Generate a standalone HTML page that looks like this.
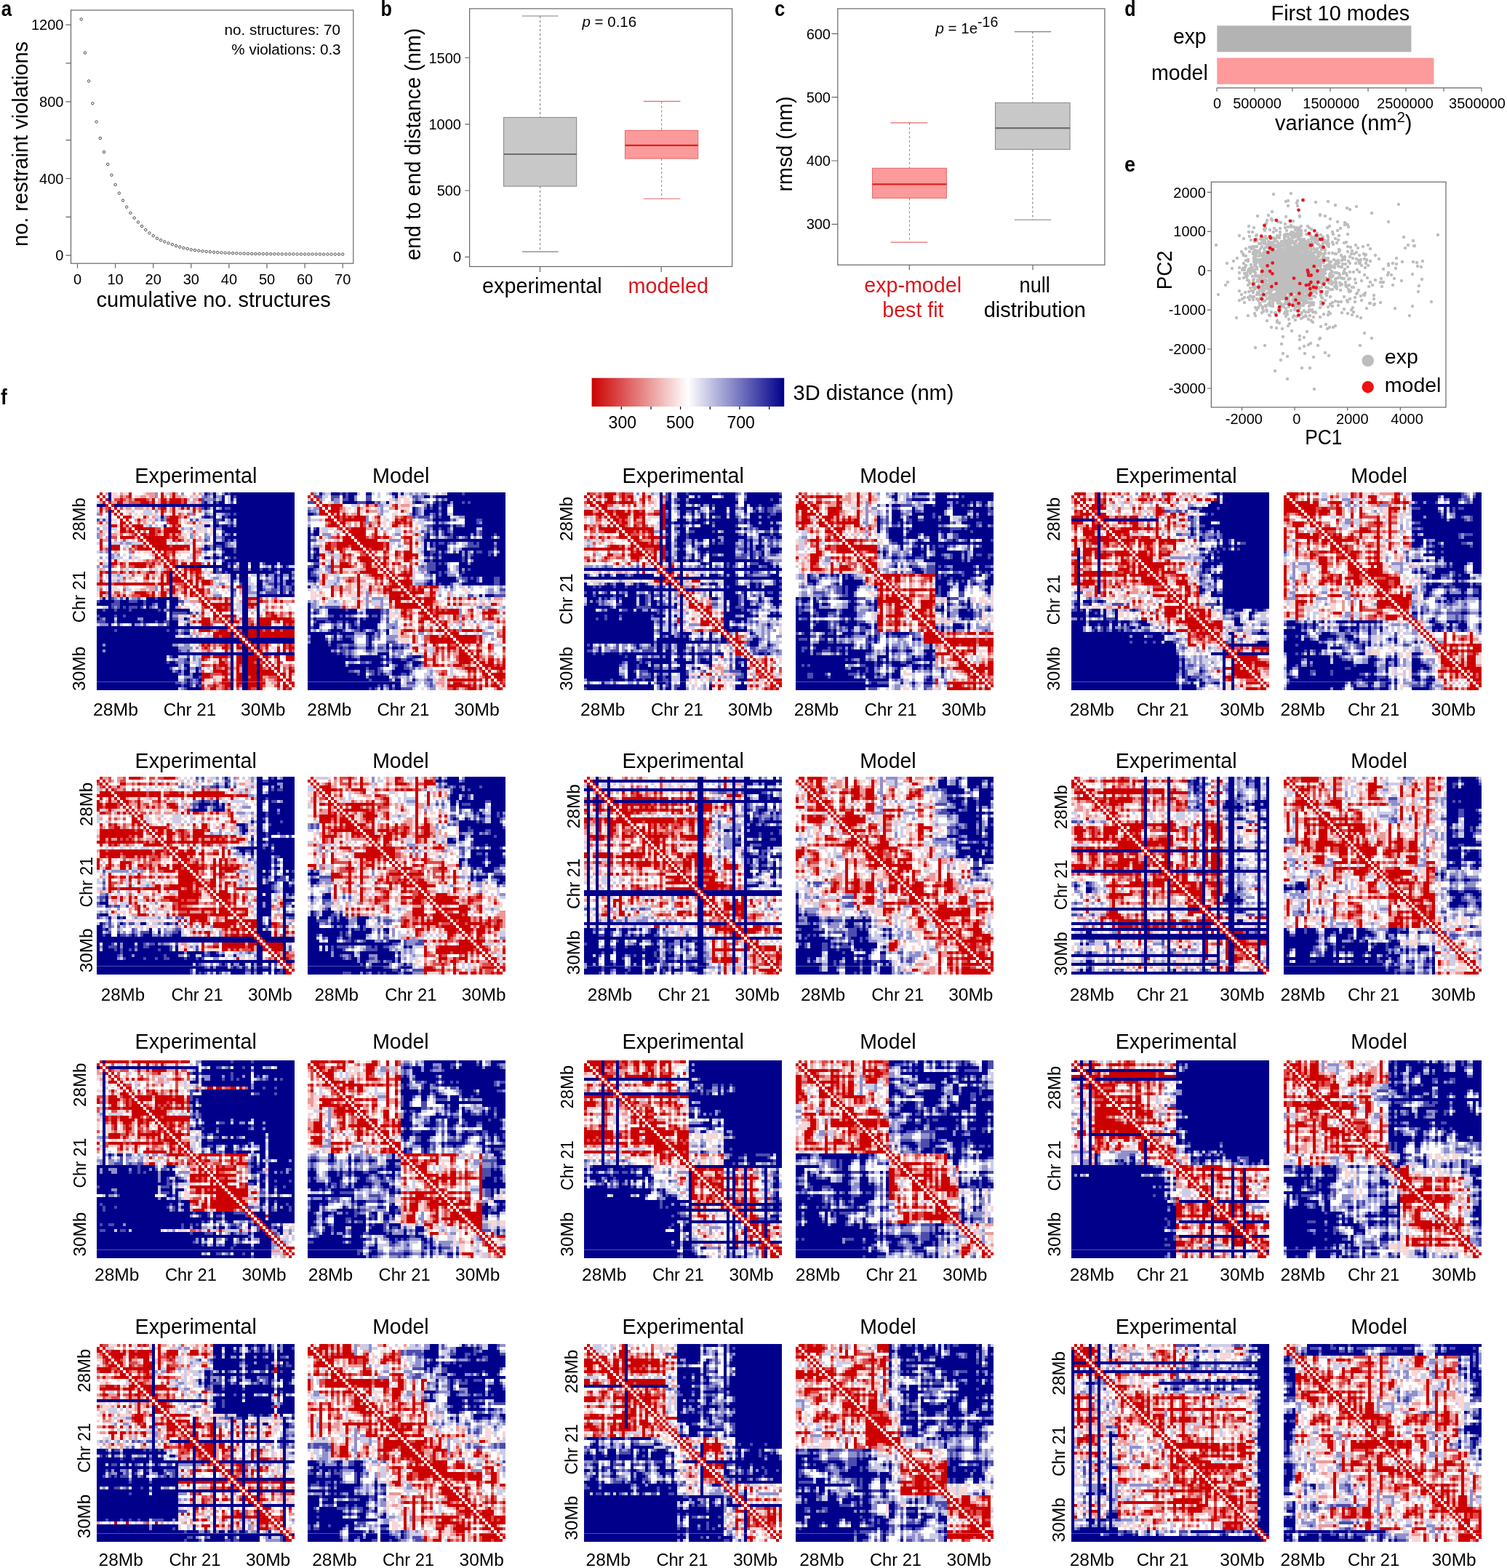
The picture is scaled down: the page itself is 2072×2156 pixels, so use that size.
<!DOCTYPE html>
<html><head><meta charset="utf-8"><style>
html,body{margin:0;padding:0;background:#fff;overflow:hidden;}
svg{display:block;}
text{font-family:"Liberation Sans",Arial,Helvetica,sans-serif;}
.ax{fill:none;stroke:#666;stroke-width:1.2}
.tk{fill:none;stroke:#666;stroke-width:1.2}
</style></head><body>
<svg width="2072" height="2156" viewBox="0 0 2072 2156">
<rect width="2072" height="2156" fill="#fff"/>
<text x="1.7" y="21.5" font-size="30" font-weight="bold" textLength="14.4" lengthAdjust="spacingAndGlyphs">a</text><rect x="97.5" y="14.0" width="388.3" height="348.2" class="ax"/><path d="M90.6 351.2H97.5M90.6 298.4H97.5M90.6 245.5H97.5M90.6 192.7H97.5M90.6 139.8H97.5M90.6 86.9H97.5M90.6 34.1H97.5M106.5 362.2V368.8M158.6 362.2V368.8M210.7 362.2V368.8M262.8 362.2V368.8M314.9 362.2V368.8M367 362.2V368.8M419.1 362.2V368.8M471.2 362.2V368.8" class="tk"/><text x="87.4" y="358.3" font-size="20" text-anchor="end">0</text><text x="87.4" y="252.6" font-size="20" text-anchor="end">400</text><text x="87.4" y="146.9" font-size="20" text-anchor="end">800</text><text x="87.4" y="41.2" font-size="20" text-anchor="end">1200</text><text x="106.5" y="390.7" font-size="20" text-anchor="middle">0</text><text x="158.6" y="390.7" font-size="20" text-anchor="middle">10</text><text x="210.7" y="390.7" font-size="20" text-anchor="middle">20</text><text x="262.8" y="390.7" font-size="20" text-anchor="middle">30</text><text x="314.9" y="390.7" font-size="20" text-anchor="middle">40</text><text x="367" y="390.7" font-size="20" text-anchor="middle">50</text><text x="419.1" y="390.7" font-size="20" text-anchor="middle">60</text><text x="471.2" y="390.7" font-size="20" text-anchor="middle">70</text><text x="132.5" y="421.7" font-size="29">cumulative no. structures</text><text transform="translate(38,339) rotate(-90)" font-size="29">no. restraint violations</text><text x="308.5" y="48.3" font-size="20.5" textLength="159.4" lengthAdjust="spacingAndGlyphs">no. structures: 70</text><text x="318.3" y="75.4" font-size="20.5" textLength="150.3" lengthAdjust="spacingAndGlyphs">% violations: 0.3</text><g fill="none" stroke="#444" stroke-width="1"><circle cx="111.7" cy="26.4" r="1.7"/><circle cx="116.9" cy="72.7" r="1.7"/><circle cx="122.1" cy="111.5" r="1.7"/><circle cx="127.3" cy="142.2" r="1.7"/><circle cx="132.6" cy="167.5" r="1.7"/><circle cx="137.8" cy="190" r="1.7"/><circle cx="143" cy="209" r="1.7"/><circle cx="148.2" cy="225.9" r="1.7"/><circle cx="153.4" cy="240.7" r="1.7"/><circle cx="158.6" cy="254" r="1.7"/><circle cx="163.8" cy="265.6" r="1.7"/><circle cx="169" cy="275.6" r="1.7"/><circle cx="174.2" cy="284.6" r="1.7"/><circle cx="179.4" cy="292.8" r="1.7"/><circle cx="184.7" cy="299.7" r="1.7"/><circle cx="189.9" cy="305.5" r="1.7"/><circle cx="195.1" cy="311" r="1.7"/><circle cx="200.3" cy="316.1" r="1.7"/><circle cx="205.5" cy="320.5" r="1.7"/><circle cx="210.7" cy="324.2" r="1.7"/><circle cx="215.9" cy="327.7" r="1.7"/><circle cx="221.1" cy="330.3" r="1.7"/><circle cx="226.3" cy="332.4" r="1.7"/><circle cx="231.5" cy="334.3" r="1.7"/><circle cx="236.8" cy="336.1" r="1.7"/><circle cx="242" cy="338" r="1.7"/><circle cx="247.2" cy="339.6" r="1.7"/><circle cx="252.4" cy="340.9" r="1.7"/><circle cx="257.6" cy="342" r="1.7"/><circle cx="262.8" cy="343.3" r="1.7"/><circle cx="268" cy="344" r="1.7"/><circle cx="273.2" cy="344.7" r="1.7"/><circle cx="278.4" cy="345.3" r="1.7"/><circle cx="283.6" cy="345.9" r="1.7"/><circle cx="288.9" cy="346.3" r="1.7"/><circle cx="294.1" cy="346.7" r="1.7"/><circle cx="299.3" cy="347.1" r="1.7"/><circle cx="304.5" cy="347.4" r="1.7"/><circle cx="309.7" cy="347.7" r="1.7"/><circle cx="314.9" cy="347.9" r="1.7"/><circle cx="320.1" cy="348.2" r="1.7"/><circle cx="325.3" cy="348.3" r="1.7"/><circle cx="330.5" cy="348.5" r="1.7"/><circle cx="335.7" cy="348.6" r="1.7"/><circle cx="340.9" cy="348.8" r="1.7"/><circle cx="346.2" cy="348.9" r="1.7"/><circle cx="351.4" cy="349" r="1.7"/><circle cx="356.6" cy="349" r="1.7"/><circle cx="361.8" cy="349.1" r="1.7"/><circle cx="367" cy="349.2" r="1.7"/><circle cx="372.2" cy="349.2" r="1.7"/><circle cx="377.4" cy="349.3" r="1.7"/><circle cx="382.6" cy="349.3" r="1.7"/><circle cx="387.8" cy="349.4" r="1.7"/><circle cx="393.1" cy="349.4" r="1.7"/><circle cx="398.3" cy="349.4" r="1.7"/><circle cx="403.5" cy="349.4" r="1.7"/><circle cx="408.7" cy="349.5" r="1.7"/><circle cx="413.9" cy="349.5" r="1.7"/><circle cx="419.1" cy="349.5" r="1.7"/><circle cx="424.3" cy="349.5" r="1.7"/><circle cx="429.5" cy="349.5" r="1.7"/><circle cx="434.7" cy="349.5" r="1.7"/><circle cx="439.9" cy="349.5" r="1.7"/><circle cx="445.1" cy="349.6" r="1.7"/><circle cx="450.4" cy="349.6" r="1.7"/><circle cx="455.6" cy="349.6" r="1.7"/><circle cx="460.8" cy="349.6" r="1.7"/><circle cx="466" cy="349.6" r="1.7"/><circle cx="471.2" cy="349.6" r="1.7"/></g><text x="523.6" y="21.7" font-size="30" font-weight="bold" textLength="15.4" lengthAdjust="spacingAndGlyphs">b</text><rect x="645.6" y="11.9" width="361" height="354.6" class="ax"/><path d="M639.2 353.3H645.6M639.2 262H645.6M639.2 170.8H645.6M639.2 79.5H645.6M742.5 366.5V374M909.2 366.5V374" class="tk"/><text x="634" y="360.4" font-size="20" text-anchor="end">0</text><text x="634" y="269.1" font-size="20" text-anchor="end">500</text><text x="634" y="177.9" font-size="20" text-anchor="end">1000</text><text x="634" y="86.6" font-size="20" text-anchor="end">1500</text><path d="M742.6 22V161.5M742.6 256.1V346.1" stroke="#808080" stroke-width="1.1" stroke-dasharray="3,3" fill="none"/><path d="M717.9 22H767.6M717.9 346.1H767.6" stroke="#808080" stroke-width="1.1" fill="none"/><rect x="692.5" y="161.5" width="100.2" height="94.6" fill="#c8c8c8" stroke="#8c8c8c" stroke-width="1.1"/><path d="M692.5 212H792.7" stroke="#6e6e6e" stroke-width="2.2"/><path d="M909.6 139.4V179.4M909.6 218V273.3" stroke="#e86a6a" stroke-width="1.1" stroke-dasharray="3,3" fill="none"/><path d="M884.9 139.4H935.4M884.9 273.3H935.4" stroke="#e86a6a" stroke-width="1.1" fill="none"/><rect x="859.5" y="179.4" width="100.2" height="38.6" fill="#fb9a9a" stroke="#ec6a6a" stroke-width="1.1"/><path d="M859.5 199.8H959.7" stroke="#dd2020" stroke-width="2.2"/><text x="663" y="403" font-size="29" textLength="164.7" lengthAdjust="spacingAndGlyphs">experimental</text><text x="863.6" y="403" font-size="29" fill="#d9161c" textLength="110.4" lengthAdjust="spacingAndGlyphs">modeled</text><text x="800.5" y="37.3" font-size="20.5"><tspan font-style="italic">p</tspan> = 0.16</text><text transform="translate(578.3,358) rotate(-90)" font-size="29" textLength="319.4" lengthAdjust="spacingAndGlyphs">end to end distance (nm)</text><text x="1065" y="21.7" font-size="30" font-weight="bold" textLength="14.3" lengthAdjust="spacingAndGlyphs">c</text><rect x="1151.8" y="11.9" width="367.1" height="352.4" class="ax"/><path d="M1143.5 308.3H1151.8M1143.5 221H1151.8M1143.5 133.7H1151.8M1143.5 46.4H1151.8M1250.3 364.3V371.2M1420 364.3V371.2" class="tk"/><text x="1142" y="315.4" font-size="20" text-anchor="end">300</text><text x="1142" y="228.1" font-size="20" text-anchor="end">400</text><text x="1142" y="140.8" font-size="20" text-anchor="end">500</text><text x="1142" y="53.5" font-size="20" text-anchor="end">600</text><path d="M1250.5 168.9V231.3M1250.5 272.4V333.1" stroke="#e86a6a" stroke-width="1.1" stroke-dasharray="3,3" fill="none"/><path d="M1224.4 168.9H1275.4M1224.4 333.1H1275.4" stroke="#e86a6a" stroke-width="1.1" fill="none"/><rect x="1199.5" y="231.3" width="101.9" height="41.1" fill="#fb9a9a" stroke="#ec6a6a" stroke-width="1.1"/><path d="M1199.5 253.4H1301.4" stroke="#dd2020" stroke-width="2.2"/><path d="M1419.8 43.6V141.3M1419.8 205.4V302.2" stroke="#808080" stroke-width="1.1" stroke-dasharray="3,3" fill="none"/><path d="M1394.7 43.6H1445.2M1394.7 302.2H1445.2" stroke="#808080" stroke-width="1.1" fill="none"/><rect x="1368.5" y="141.3" width="102.6" height="64.1" fill="#c8c8c8" stroke="#8c8c8c" stroke-width="1.1"/><path d="M1368.5 176.1H1471.1" stroke="#6e6e6e" stroke-width="2.2"/><text x="1286.5" y="45.5" font-size="20.5"><tspan font-style="italic">p</tspan> = 1e<tspan font-size="19.5" dy="-8.6">-16</tspan></text><text x="1188.2" y="401.6" font-size="29" fill="#d9161c" textLength="133.9" lengthAdjust="spacingAndGlyphs">exp-model</text><text x="1213.3" y="436" font-size="29" fill="#d9161c" textLength="84.2" lengthAdjust="spacingAndGlyphs">best fit</text><text x="1401.6" y="401.6" font-size="29" textLength="42.2" lengthAdjust="spacingAndGlyphs">null</text><text x="1352.7" y="436" font-size="29">distribution</text><text transform="translate(1089,263.6) rotate(-90)" font-size="29" textLength="131.1" lengthAdjust="spacingAndGlyphs">rmsd (nm)</text><text x="1546.2" y="21.5" font-size="30" font-weight="bold" textLength="15.3" lengthAdjust="spacingAndGlyphs">d</text><text x="1747.6" y="27.7" font-size="29" textLength="190.6" lengthAdjust="spacingAndGlyphs">First 10 modes</text><rect x="1673.3" y="35.3" width="267.1" height="36.1" fill="#b3b3b3"/><rect x="1673.3" y="79.6" width="298.2" height="36.2" fill="#fc9a9c"/><path d="M1673 120.9H2037M1673 120.9V125.7M1725 120.9V125.7M1777 120.9V125.7M1829 120.9V125.7M1881 120.9V125.7M1933 120.9V125.7M1985 120.9V125.7M2037 120.9V125.7" class="tk"/><text x="1673.5" y="149.1" font-size="20" text-anchor="middle">0</text><text x="1728.6" y="149.1" font-size="20" text-anchor="middle">500000</text><text x="1830.3" y="149.1" font-size="20" text-anchor="middle">1500000</text><text x="1932" y="149.1" font-size="20" text-anchor="middle">2500000</text><text x="2031" y="149.1" font-size="20" text-anchor="middle">3500000</text><text x="1753" y="178.5" font-size="29">variance (nm<tspan font-size="20" dy="-11">2</tspan><tspan dy="11">)</tspan></text><text x="1612.9" y="60.2" font-size="29" textLength="45.7" lengthAdjust="spacingAndGlyphs">exp</text><text x="1582.9" y="109.6" font-size="29" textLength="78" lengthAdjust="spacingAndGlyphs">model</text><text x="1545.9" y="235.8" font-size="30" font-weight="bold" textLength="15.1" lengthAdjust="spacingAndGlyphs">e</text><path d="M1766 360h0M1767 380h0M1749 377h0M1801 362h0M1799 366h0M1783 368h0M1731 352h0M1786 361h0M1730 413h0M1750 383h0M1781 373h0M1786 387h0M1781 363h0M1756 332h0M1787 344h0M1757 389h0M1764 375h0M1789 366h0M1761 394h0M1760 344h0M1752 367h0M1784 407h0M1774 342h0M1722 380h0M1770 391h0M1785 374h0M1736 353h0M1790 350h0M1809 364h0M1776 402h0M1788 386h0M1761 402h0M1748 385h0M1806 419h0M1736 367h0M1810 359h0M1725 431h0M1782 389h0M1744 350h0M1801 369h0M1779 362h0M1813 358h0M1786 360h0M1733 342h0M1797 360h0M1723 387h0M1794 414h0M1768 349h0M1740 335h0M1787 376h0M1781 357h0M1776 346h0M1756 382h0M1799 372h0M1750 350h0M1810 383h0M1738 375h0M1769 379h0M1809 396h0M1805 402h0M1753 358h0M1802 352h0M1782 369h0M1777 359h0M1768 366h0M1787 372h0M1792 359h0M1824 365h0M1762 381h0M1773 351h0M1764 363h0M1820 432h0M1744 367h0M1783 367h0M1762 357h0M1780 384h0M1835 364h0M1759 375h0M1767 374h0M1704 383h0M1798 399h0M1771 350h0M1795 338h0M1730 380h0M1764 358h0M1801 434h0M1801 406h0M1790 407h0M1777 345h0M1769 368h0M1793 369h0M1771 337h0M1799 379h0M1843 399h0M1796 378h0M1776 356h0M1778 357h0M1734 407h0M1788 395h0M1747 406h0M1805 355h0M1810 394h0M1773 399h0M1792 335h0M1750 336h0M1798 376h0M1723 340h0M1770 386h0M1783 363h0M1811 396h0M1802 338h0M1810 376h0M1754 349h0M1776 369h0M1809 378h0M1714 381h0M1726 353h0M1781 386h0M1773 353h0M1775 341h0M1771 348h0M1811 335h0M1756 352h0M1725 397h0M1723 347h0M1742 372h0M1768 373h0M1758 367h0M1818 371h0M1786 349h0M1768 401h0M1759 347h0M1731 386h0M1798 354h0M1773 354h0M1777 400h0M1733 387h0M1796 385h0M1750 390h0M1734 375h0M1743 364h0M1713 365h0M1757 417h0M1791 379h0M1716 392h0M1780 383h0M1793 355h0M1790 365h0M1807 357h0M1784 421h0M1796 342h0M1765 383h0M1822 413h0M1785 316h0M1749 356h0M1821 375h0M1787 351h0M1750 374h0M1780 353h0M1772 377h0M1747 381h0M1795 370h0M1751 392h0M1841 346h0M1789 432h0M1789 361h0M1816 362h0M1771 360h0M1723 348h0M1781 388h0M1807 330h0M1737 388h0M1780 368h0M1763 395h0M1827 348h0M1742 403h0M1816 349h0M1819 353h0M1751 366h0M1718 390h0M1771 360h0M1754 375h0M1784 363h0M1789 367h0M1765 354h0M1774 391h0M1757 372h0M1770 369h0M1773 368h0M1769 401h0M1784 348h0M1784 377h0M1784 395h0M1725 371h0M1749 355h0M1745 433h0M1746 336h0M1763 404h0M1753 360h0M1785 368h0M1811 356h0M1772 358h0M1815 350h0M1799 397h0M1769 355h0M1765 347h0M1788 351h0M1767 313h0M1804 377h0M1775 312h0M1764 352h0M1798 372h0M1743 368h0M1782 346h0M1793 372h0M1795 360h0M1778 371h0M1767 356h0M1746 387h0M1773 406h0M1762 419h0M1755 359h0M1787 373h0M1767 405h0M1819 360h0M1801 393h0M1768 414h0M1793 351h0M1725 373h0M1789 413h0M1726 397h0M1757 405h0M1774 366h0M1789 356h0M1811 345h0M1740 384h0M1746 397h0M1771 372h0M1785 409h0M1741 373h0M1768 379h0M1771 390h0M1791 364h0M1771 388h0M1768 435h0M1748 371h0M1735 368h0M1777 404h0M1766 379h0M1785 358h0M1772 392h0M1769 374h0M1792 365h0M1754 404h0M1763 389h0M1745 375h0M1760 370h0M1786 382h0M1832 380h0M1801 369h0M1801 427h0M1754 366h0M1788 318h0M1781 343h0M1792 350h0M1786 376h0M1786 397h0M1803 396h0M1779 323h0M1767 372h0M1802 372h0M1752 366h0M1788 356h0M1753 332h0M1815 372h0M1780 382h0M1809 389h0M1790 383h0M1755 356h0M1807 372h0M1756 353h0M1772 365h0M1812 346h0M1760 319h0M1773 354h0M1756 373h0M1728 331h0M1808 400h0M1735 410h0M1803 383h0M1771 379h0M1770 397h0M1773 406h0M1771 365h0M1785 378h0M1750 369h0M1761 336h0M1792 375h0M1761 388h0M1749 380h0M1780 360h0M1787 324h0M1755 372h0M1844 415h0M1760 368h0M1777 363h0M1767 364h0M1774 354h0M1725 393h0M1773 396h0M1746 358h0M1756 357h0M1792 365h0M1786 375h0M1737 373h0M1784 384h0M1770 355h0M1751 357h0M1820 385h0M1777 376h0M1812 365h0M1796 388h0M1772 372h0M1728 339h0M1796 413h0M1792 375h0M1784 364h0M1735 377h0M1811 386h0M1747 404h0M1742 364h0M1816 362h0M1779 320h0M1760 388h0M1786 359h0M1747 399h0M1780 366h0M1740 377h0M1759 362h0M1770 374h0M1764 348h0M1808 381h0M1794 390h0M1775 355h0M1811 381h0M1771 368h0M1735 372h0M1756 364h0M1744 418h0M1774 366h0M1759 352h0M1766 386h0M1785 409h0M1756 373h0M1794 376h0M1781 387h0M1781 334h0M1755 317h0M1756 372h0M1777 348h0M1741 421h0M1788 354h0M1789 311h0M1778 366h0M1796 364h0M1815 401h0M1763 452h0M1793 381h0M1796 322h0M1773 378h0M1760 392h0M1757 357h0M1774 371h0M1768 351h0M1785 375h0M1790 376h0M1744 338h0M1785 394h0M1800 364h0M1733 335h0M1781 352h0M1778 376h0M1734 350h0M1774 379h0M1782 370h0M1790 381h0M1772 422h0M1762 357h0M1807 381h0M1770 335h0M1765 355h0M1815 371h0M1804 389h0M1778 374h0M1776 346h0M1834 388h0M1758 361h0M1746 361h0M1787 379h0M1786 408h0M1792 408h0M1755 385h0M1763 352h0M1775 381h0M1787 336h0M1773 364h0M1804 366h0M1740 314h0M1829 418h0M1772 363h0M1797 357h0M1766 397h0M1775 348h0M1745 396h0M1772 417h0M1766 382h0M1784 388h0M1750 381h0M1772 388h0M1773 355h0M1803 333h0M1753 382h0M1710 328h0M1754 373h0M1786 404h0M1785 373h0M1726 365h0M1803 416h0M1793 367h0M1785 362h0M1806 377h0M1795 382h0M1791 391h0M1770 332h0M1784 376h0M1744 391h0M1778 350h0M1784 360h0M1772 341h0M1763 385h0M1795 371h0M1766 386h0M1766 358h0M1782 400h0M1784 368h0M1747 354h0M1766 380h0M1793 342h0M1755 362h0M1751 319h0M1760 344h0M1756 353h0M1829 431h0M1762 361h0M1770 388h0M1828 370h0M1731 352h0M1729 346h0M1758 369h0M1805 369h0M1737 412h0M1803 355h0M1752 352h0M1785 357h0M1715 379h0M1796 355h0M1795 429h0M1777 361h0M1838 394h0M1764 371h0M1795 382h0M1802 390h0M1780 384h0M1777 388h0M1732 347h0M1781 385h0M1778 349h0M1748 375h0M1787 360h0M1764 421h0M1804 365h0M1773 379h0M1780 382h0M1747 389h0M1758 386h0M1743 357h0M1740 357h0M1747 364h0M1808 367h0M1754 371h0M1777 412h0M1757 368h0M1761 370h0M1791 354h0M1796 359h0M1766 373h0M1766 379h0M1768 412h0M1764 373h0M1748 373h0M1786 376h0M1826 433h0M1768 415h0M1798 311h0M1709 369h0M1786 379h0M1787 424h0M1794 364h0M1773 386h0M1789 383h0M1779 384h0M1716 373h0M1778 355h0M1751 373h0M1789 369h0M1804 326h0M1750 417h0M1795 337h0M1796 353h0M1757 389h0M1795 393h0M1727 395h0M1836 328h0M1755 389h0M1779 390h0M1806 374h0M1745 342h0M1758 367h0M1773 379h0M1781 388h0M1726 423h0M1741 390h0M1772 371h0M1787 369h0M1753 389h0M1719 376h0M1785 360h0M1770 376h0M1797 372h0M1792 359h0M1778 342h0M1758 381h0M1752 391h0M1812 331h0M1773 359h0M1803 353h0M1803 401h0M1757 362h0M1809 370h0M1751 380h0M1756 392h0M1811 387h0M1773 322h0M1803 364h0M1757 363h0M1814 358h0M1805 370h0M1786 377h0M1784 342h0M1736 374h0M1779 385h0M1765 354h0M1824 358h0M1781 408h0M1822 370h0M1772 398h0M1771 398h0M1775 361h0M1774 366h0M1751 339h0M1756 414h0M1768 390h0M1747 380h0M1780 400h0M1769 339h0M1790 376h0M1776 375h0M1772 355h0M1770 428h0M1772 393h0M1789 386h0M1777 322h0M1746 398h0M1737 428h0M1725 364h0M1757 416h0M1735 358h0M1753 381h0M1781 341h0M1822 348h0M1776 368h0M1819 339h0M1765 362h0M1780 371h0M1760 403h0M1759 408h0M1804 360h0M1742 340h0M1795 416h0M1820 353h0M1825 401h0M1786 362h0M1778 368h0M1800 407h0M1741 405h0M1759 386h0M1782 366h0M1774 388h0M1762 350h0M1792 370h0M1765 336h0M1758 357h0M1802 378h0M1794 398h0M1799 368h0M1733 357h0M1750 342h0M1756 376h0M1780 380h0M1779 385h0M1790 372h0M1778 436h0M1802 371h0M1728 370h0M1785 347h0M1745 336h0M1769 317h0M1769 356h0M1764 398h0M1801 351h0M1812 352h0M1758 411h0M1756 388h0M1752 359h0M1781 378h0M1777 376h0M1778 355h0M1797 388h0M1735 339h0M1776 347h0M1731 380h0M1774 406h0M1760 355h0M1800 335h0M1751 405h0M1786 350h0M1778 402h0M1793 354h0M1787 383h0M1781 354h0M1759 415h0M1781 361h0M1773 352h0M1758 374h0M1765 359h0M1813 378h0M1825 337h0M1793 359h0M1818 376h0M1770 397h0M1785 341h0M1786 362h0M1768 368h0M1737 348h0M1762 398h0M1754 391h0M1795 348h0M1738 351h0M1795 386h0M1735 389h0M1757 364h0M1764 419h0M1779 408h0M1796 400h0M1755 392h0M1759 342h0M1794 358h0M1781 408h0M1760 385h0M1748 360h0M1754 389h0M1746 420h0M1788 341h0M1777 395h0M1704 368h0M1804 365h0M1796 338h0M1801 382h0M1800 354h0M1734 382h0M1737 375h0M1788 397h0M1721 342h0M1782 338h0M1739 348h0M1826 326h0M1768 366h0M1769 349h0M1799 370h0M1738 355h0M1761 358h0M1780 335h0M1802 383h0M1782 331h0M1759 362h0M1803 343h0M1786 403h0M1741 366h0M1783 313h0M1751 346h0M1792 411h0M1752 368h0M1760 376h0M1785 391h0M1785 387h0M1759 360h0M1758 366h0M1813 372h0M1769 355h0M1764 347h0M1740 358h0M1760 391h0M1818 392h0M1817 357h0M1810 395h0M1803 338h0M1770 375h0M1835 368h0M1762 387h0M1784 365h0M1777 332h0M1765 361h0M1810 395h0M1799 330h0M1738 398h0M1746 415h0M1784 415h0M1786 339h0M1732 380h0M1724 354h0M1754 378h0M1774 360h0M1764 372h0M1759 370h0M1743 371h0M1724 384h0M1822 370h0M1741 366h0M1748 410h0M1754 355h0M1783 374h0M1749 397h0M1807 367h0M1749 421h0M1738 315h0M1744 374h0M1778 376h0M1766 404h0M1746 333h0M1754 353h0M1730 379h0M1779 348h0M1744 358h0M1783 389h0M1785 393h0M1753 373h0M1704 375h0M1747 406h0M1762 355h0M1763 343h0M1743 403h0M1812 363h0M1797 391h0M1793 366h0M1789 372h0M1803 387h0M1748 406h0M1802 389h0M1746 394h0M1762 402h0M1765 387h0M1759 394h0M1774 383h0M1776 366h0M1781 423h0M1759 391h0M1793 409h0M1755 379h0M1764 349h0M1762 350h0M1736 414h0M1804 362h0M1785 369h0M1785 400h0M1797 385h0M1798 370h0M1723 402h0M1801 375h0M1763 367h0M1762 385h0M1775 369h0M1811 371h0M1821 330h0M1816 348h0M1776 369h0M1769 389h0M1771 387h0M1815 360h0M1761 417h0M1771 382h0M1745 399h0M1716 359h0M1771 312h0M1772 376h0M1810 369h0M1777 381h0M1757 337h0M1798 332h0M1764 372h0M1750 350h0M1737 359h0M1801 339h0M1749 347h0M1755 390h0M1739 345h0M1815 386h0M1754 380h0M1837 349h0M1759 414h0M1756 345h0M1820 378h0M1755 384h0M1725 351h0M1745 348h0M1729 402h0M1780 390h0M1793 372h0M1743 358h0M1794 417h0M1819 361h0M1792 415h0M1755 380h0M1800 406h0M1750 419h0M1767 364h0M1730 386h0M1786 335h0M1790 379h0M1743 394h0M1756 369h0M1772 334h0M1780 397h0M1812 350h0M1775 389h0M1725 396h0M1796 391h0M1739 368h0M1779 358h0M1789 340h0M1752 350h0M1748 356h0M1777 367h0M1797 373h0M1801 352h0M1776 385h0M1754 384h0M1768 373h0M1849 357h0M1792 392h0M1755 380h0M1778 396h0M1814 385h0M1800 426h0M1773 366h0M1778 358h0M1780 368h0M1725 389h0M1713 358h0M1781 377h0M1752 386h0M1820 332h0M1771 342h0M1732 417h0M1761 392h0M1759 368h0M1850 388h0M1774 366h0M1772 351h0M1818 401h0M1777 378h0M1782 408h0M1728 426h0M1786 368h0M1775 427h0M1763 390h0M1737 393h0M1791 360h0M1772 360h0M1758 371h0M1774 359h0M1771 376h0M1769 387h0M1830 360h0M1784 319h0M1808 408h0M1791 353h0M1821 342h0M1792 399h0M1751 366h0M1786 396h0M1763 381h0M1774 364h0M1766 401h0M1804 335h0M1770 348h0M1784 357h0M1785 390h0M1787 349h0M1750 327h0M1826 330h0M1823 355h0M1764 386h0M1752 370h0M1772 357h0M1722 319h0M1831 373h0M1790 361h0M1780 377h0M1770 391h0M1777 373h0M1781 392h0M1774 371h0M1788 397h0M1783 349h0M1788 381h0M1760 378h0M1791 336h0M1769 387h0M1782 367h0M1750 389h0M1770 357h0M1743 396h0M1786 401h0M1776 364h0M1770 396h0M1771 380h0M1781 392h0M1801 411h0M1768 372h0M1797 386h0M1787 385h0M1792 332h0M1763 362h0M1749 350h0M1804 371h0M1744 363h0M1802 347h0M1794 415h0M1756 339h0M1742 346h0M1821 355h0M1801 380h0M1742 375h0M1768 373h0M1791 376h0M1778 362h0M1773 329h0M1784 370h0M1768 387h0M1807 369h0M1745 385h0M1769 383h0M1800 399h0M1785 369h0M1743 371h0M1770 361h0M1761 365h0M1731 397h0M1793 348h0M1773 386h0M1800 421h0M1753 357h0M1789 396h0M1725 339h0M1777 393h0M1774 351h0M1707 346h0M1792 420h0M1792 413h0M1802 363h0M1830 386h0M1773 348h0M1757 389h0M1763 374h0M1745 361h0M1787 371h0M1816 380h0M1806 385h0M1792 417h0M1778 376h0M1760 386h0M1764 389h0M1717 386h0M1759 384h0M1746 375h0M1793 378h0M1760 341h0M1798 351h0M1802 380h0M1770 346h0M1759 375h0M1782 364h0M1766 349h0M1768 355h0M1800 357h0M1791 399h0M1740 387h0M1785 337h0M1742 365h0M1751 389h0M1766 356h0M1778 345h0M1748 352h0M1796 371h0M1785 385h0M1745 382h0M1757 305h0M1761 334h0M1778 365h0M1792 390h0M1796 363h0M1734 358h0M1787 362h0M1813 382h0M1786 355h0M1750 344h0M1736 402h0M1786 397h0M1770 410h0M1775 398h0M1782 408h0M1784 378h0M1774 374h0M1776 403h0M1708 371h0M1749 383h0M1784 418h0M1753 386h0M1746 365h0M1769 391h0M1748 353h0M1756 359h0M1784 416h0M1745 372h0M1782 354h0M1793 348h0M1763 377h0M1793 382h0M1800 409h0M1789 376h0M1723 349h0M1781 372h0M1745 383h0M1811 391h0M1685 392h0M1742 375h0M1763 393h0M1751 348h0M1736 327h0M1759 398h0M1793 359h0M1746 355h0M1726 394h0M1801 378h0M1740 360h0M1796 373h0M1727 380h0M1783 354h0M1820 378h0M1761 373h0M1803 394h0M1806 436h0M1793 388h0M1785 356h0M1743 374h0M1779 359h0M1749 395h0M1724 313h0M1768 377h0M1735 351h0M1759 339h0M1794 372h0M1791 398h0M1765 386h0M1741 372h0M1769 339h0M1688 388h0M1750 383h0M1784 363h0M1774 383h0M1785 364h0M1726 378h0M1738 400h0M1777 371h0M1776 393h0M1768 393h0M1783 356h0M1817 343h0M1752 383h0M1749 365h0M1823 356h0M1717 401h0M1740 360h0M1773 365h0M1818 391h0M1751 327h0M1782 390h0M1721 408h0M1711 371h0M1774 349h0M1769 388h0M1754 328h0M1728 368h0M1773 358h0M1763 361h0M1794 376h0M1761 377h0M1748 377h0M1765 367h0M1807 342h0M1762 358h0M1780 355h0M1773 366h0M1761 390h0M1795 342h0M1790 362h0M1780 383h0M1728 357h0M1778 385h0M1748 343h0M1727 331h0M1789 317h0M1755 373h0M1760 369h0M1768 390h0M1800 390h0M1760 359h0M1759 382h0M1782 381h0M1741 375h0M1767 333h0M1745 350h0M1753 380h0M1765 366h0M1795 332h0M1757 341h0M1798 353h0M1754 351h0M1770 364h0M1766 357h0M1801 346h0M1768 349h0M1810 394h0M1810 403h0M1787 358h0M1811 366h0M1761 391h0M1741 354h0M1767 389h0M1786 390h0M1762 383h0M1815 338h0M1769 409h0M1780 371h0M1782 359h0M1765 351h0M1794 367h0M1763 383h0M1790 398h0M1769 390h0M1737 358h0M1772 371h0M1795 407h0M1771 366h0M1794 397h0M1791 367h0M1807 346h0M1787 322h0M1773 382h0M1764 394h0M1772 416h0M1771 362h0M1798 380h0M1808 387h0M1769 416h0M1753 391h0M1810 360h0M1745 360h0M1785 377h0M1773 379h0M1759 412h0M1771 343h0M1808 379h0M1754 377h0M1795 364h0M1758 364h0M1768 361h0M1763 405h0M1774 355h0M1745 375h0M1795 381h0M1757 326h0M1793 349h0M1749 335h0M1732 384h0M1791 342h0M1750 387h0M1778 416h0M1789 360h0M1762 360h0M1792 365h0M1786 338h0M1761 369h0M1760 349h0M1763 362h0M1776 371h0M1815 374h0M1808 354h0M1805 376h0M1796 355h0M1758 366h0M1770 373h0M1805 388h0M1732 411h0M1762 387h0M1773 360h0M1816 365h0M1784 389h0M1787 342h0M1806 416h0M1795 337h0M1793 406h0M1765 359h0M1783 390h0M1751 351h0M1740 340h0M1773 365h0M1740 386h0M1790 405h0M1823 404h0M1743 371h0M1785 356h0M1764 377h0M1767 385h0M1710 351h0M1779 369h0M1757 367h0M1773 374h0M1800 411h0M1779 396h0M1765 339h0M1746 374h0M1758 351h0M1749 410h0M1785 380h0M1765 348h0M1751 381h0M1776 363h0M1760 349h0M1828 381h0M1818 419h0M1807 380h0M1776 380h0M1757 401h0M1763 343h0M1801 380h0M1760 388h0M1744 332h0M1789 370h0M1761 395h0M1805 355h0M1750 350h0M1746 358h0M1749 381h0M1785 363h0M1798 391h0M1811 342h0M1773 362h0M1754 376h0M1741 370h0M1778 342h0M1796 354h0M1764 377h0M1765 367h0M1726 355h0M1735 384h0M1773 384h0M1813 374h0M1811 346h0M1761 363h0M1805 380h0M1775 385h0M1774 380h0M1775 350h0M1807 369h0M1778 353h0M1766 396h0M1800 393h0M1796 394h0M1817 395h0M1794 339h0M1749 339h0M1753 411h0M1790 357h0M1768 428h0M1772 379h0M1764 379h0M1729 385h0M1817 338h0M1764 388h0M1783 349h0M1790 398h0M1777 369h0M1808 346h0M1786 345h0M1763 338h0M1762 363h0M1795 393h0M1756 411h0M1777 373h0M1765 361h0M1721 373h0M1775 378h0M1792 333h0M1762 393h0M1758 370h0M1787 391h0M1797 395h0M1793 363h0M1784 324h0M1766 376h0M1784 353h0M1740 366h0M1755 358h0M1806 371h0M1770 368h0M1701 355h0M1787 369h0M1763 388h0M1768 345h0M1770 342h0M1710 382h0M1780 372h0M1732 387h0M1803 401h0M1749 397h0M1759 358h0M1787 417h0M1808 385h0M1758 335h0M1771 400h0M1757 388h0M1748 380h0M1794 364h0M1739 310h0M1749 370h0M1774 355h0M1765 362h0M1824 370h0M1746 365h0M1753 380h0M1777 365h0M1766 353h0M1768 401h0M1794 380h0M1802 387h0M1787 365h0M1707 405h0M1746 341h0M1727 352h0M1799 361h0M1789 383h0M1773 367h0M1783 356h0M1768 388h0M1759 363h0M1732 400h0M1763 385h0M1766 431h0M1765 378h0M1792 416h0M1765 362h0M1785 346h0M1799 396h0M1788 380h0M1753 338h0M1757 391h0M1763 391h0M1797 364h0M1807 363h0M1758 349h0M1757 383h0M1769 371h0M1802 386h0M1781 373h0M1742 397h0M1767 363h0M1781 362h0M1774 382h0M1783 395h0M1740 380h0M1738 384h0M1755 385h0M1772 390h0M1762 410h0M1776 392h0M1783 435h0M1753 367h0M1713 380h0M1775 370h0M1736 367h0M1776 394h0M1791 373h0M1773 382h0M1786 370h0M1801 362h0M1758 377h0M1795 380h0M1782 361h0M1768 424h0M1776 367h0M1776 389h0M1803 375h0M1758 388h0M1782 397h0M1748 327h0M1805 349h0M1806 359h0M1731 345h0M1803 361h0M1725 344h0M1806 383h0M1776 355h0M1771 348h0M1775 357h0M1775 405h0M1748 301h0M1780 343h0M1801 334h0M1786 386h0M1773 415h0M1768 352h0M1720 368h0M1793 342h0M1750 387h0M1727 395h0M1786 326h0M1745 341h0M1783 383h0M1827 429h0M1771 367h0M1825 332h0M1829 369h0M1797 341h0M1785 364h0M1768 381h0M1742 328h0M1762 419h0M1779 373h0M1777 331h0M1770 378h0M1754 373h0M1762 368h0M1850 363h0M1752 329h0M1794 354h0M1791 354h0M1790 340h0M1798 342h0M1760 372h0M1755 351h0M1793 383h0M1787 313h0M1803 397h0M1771 358h0M1772 363h0M1802 365h0M1746 356h0M1770 370h0M1759 403h0M1742 380h0M1746 434h0M1801 398h0M1755 360h0M1713 342h0M1754 357h0M1761 365h0M1775 372h0M1728 405h0M1772 340h0M1759 360h0M1777 361h0M1797 406h0M1780 376h0M1765 391h0M1753 395h0M1746 316h0M1815 372h0M1791 394h0M1704 413h0M1776 340h0M1772 395h0M1767 395h0M1738 377h0M1763 391h0M1751 393h0M1779 341h0M1768 322h0M1733 366h0M1744 376h0M1775 360h0M1801 385h0M1742 376h0M1780 388h0M1795 334h0M1738 364h0M1798 416h0M1778 377h0M1738 342h0M1778 383h0M1784 358h0M1792 359h0M1783 399h0M1762 369h0M1704 324h0M1763 396h0M1728 367h0M1774 385h0M1763 392h0M1754 374h0M1757 357h0M1769 369h0M1783 343h0M1788 367h0M1769 390h0M1764 357h0M1778 381h0M1740 407h0M1781 349h0M1782 403h0M1768 367h0M1750 364h0M1768 391h0M1742 354h0M1782 392h0M1748 352h0M1788 379h0M1812 379h0M1747 348h0M1768 364h0M1774 395h0M1743 377h0M1808 395h0M1806 367h0M1745 366h0M1787 393h0M1720 364h0M1745 362h0M1726 375h0M1753 406h0M1767 368h0M1759 399h0M1778 412h0M1786 361h0M1814 352h0M1782 366h0M1774 402h0M1809 360h0M1766 398h0M1809 360h0M1744 357h0M1820 373h0M1783 382h0M1757 348h0M1849 370h0M1770 354h0M1765 356h0M1793 395h0M1746 374h0M1793 366h0M1803 403h0M1785 386h0M1775 365h0M1749 377h0M1744 366h0M1752 383h0M1778 387h0M1801 387h0M1794 366h0M1747 377h0M1752 380h0M1766 331h0M1763 337h0M1784 402h0M1716 357h0M1724 356h0M1798 363h0M1768 378h0M1779 379h0M1760 381h0M1802 386h0M1782 398h0M1755 403h0M1768 357h0M1780 383h0M1788 380h0M1782 366h0M1786 428h0M1741 355h0M1770 322h0M1767 385h0M1810 360h0M1820 361h0M1768 356h0M1753 382h0M1759 377h0M1792 383h0M1781 383h0M1795 434h0M1768 368h0M1746 349h0M1778 343h0M1796 358h0M1769 397h0M1767 383h0M1779 383h0M1848 408h0M1802 383h0M1767 351h0M1773 399h0M1783 377h0M1722 368h0M1747 389h0M1785 365h0M1766 324h0M1783 386h0M1779 375h0M1719 407h0M1739 326h0M1768 378h0M1759 350h0M1774 334h0M1792 335h0M1770 364h0M1762 376h0M1730 385h0M1750 387h0M1803 366h0M1803 353h0M1795 350h0M1758 354h0M1765 384h0M1802 324h0M1749 333h0M1793 391h0M1780 364h0M1782 380h0M1741 372h0M1794 355h0M1789 348h0M1749 373h0M1781 350h0M1777 361h0M1776 325h0M1719 373h0M1833 367h0M1728 369h0M1738 387h0M1778 334h0M1784 357h0M1798 368h0M1752 374h0M1781 378h0M1757 380h0M1736 395h0M1771 380h0M1774 341h0M1780 373h0M1744 396h0M1782 392h0M1783 396h0M1776 374h0M1797 381h0M1764 367h0M1774 335h0M1767 384h0M1765 362h0M1779 357h0M1739 317h0M1818 373h0M1743 369h0M1783 422h0M1773 405h0M1784 341h0M1798 406h0M1807 352h0M1764 361h0M1810 380h0M1772 385h0M1801 420h0M1808 394h0M1795 408h0M1750 386h0M1793 408h0M1788 386h0M1803 379h0M1785 376h0M1817 380h0M1772 328h0M1775 357h0M1755 368h0M1717 370h0M1757 406h0M1738 347h0M1783 406h0M1817 388h0M1764 367h0M1745 408h0M1755 346h0M1796 407h0M1802 371h0M1785 371h0M1783 395h0M1751 388h0M1764 358h0M1743 337h0M1757 385h0M1790 363h0M1765 396h0M1748 408h0M1801 348h0M1819 361h0M1781 355h0M1796 378h0M1781 324h0M1731 404h0M1749 355h0M1802 380h0M1789 373h0M1780 384h0M1772 372h0M1801 322h0M1728 360h0M1773 351h0M1799 355h0M1793 393h0M1731 335h0M1802 393h0M1804 357h0M1713 352h0M1749 346h0M1756 389h0M1735 377h0M1798 387h0M1727 324h0M1818 357h0M1760 399h0M1733 360h0M1805 396h0M1773 378h0M1767 361h0M1824 386h0M1794 348h0M1766 376h0M1740 348h0M1760 387h0M1774 391h0M1747 379h0M1809 377h0M1786 405h0M1725 332h0M1763 407h0M1770 359h0M1731 392h0M1779 393h0M1792 351h0M1784 382h0M1772 386h0M1770 365h0M1765 350h0M1836 384h0M1781 354h0M1789 378h0M1761 350h0M1788 361h0M1753 358h0M1792 376h0M1789 324h0M1727 359h0M1744 403h0M1767 360h0M1774 398h0M1738 385h0M1773 391h0M1736 333h0M1752 376h0M1759 385h0M1774 379h0M1788 399h0M1736 328h0M1771 355h0M1802 360h0M1774 407h0M1733 350h0M1789 359h0M1732 420h0M1747 399h0M1777 395h0M1812 386h0M1759 353h0M1781 392h0M1793 329h0M1743 378h0M1746 416h0M1788 357h0M1797 363h0M1723 373h0M1756 399h0M1746 355h0M1766 328h0M1784 415h0M1795 344h0M1774 400h0M1817 402h0M1771 415h0M1742 411h0M1800 346h0M1763 403h0M1771 364h0M1735 398h0M1770 356h0M1775 362h0M1742 428h0M1781 393h0M1770 381h0M1785 390h0M1809 371h0M1786 358h0M1799 363h0M1729 386h0M1819 361h0M1787 362h0M1757 388h0M1757 346h0M1782 332h0M1785 329h0M1784 399h0M1816 365h0M1802 367h0M1765 368h0M1745 399h0M1751 384h0M1739 375h0M1780 326h0M1819 373h0M1795 377h0M1783 373h0M1759 370h0M1736 362h0M1766 397h0M1764 360h0M1756 361h0M1787 337h0M1746 375h0M1786 338h0M1779 355h0M1736 386h0M1814 379h0M1827 389h0M1766 409h0M1789 366h0M1823 368h0M1767 404h0M1771 351h0M1791 344h0M1795 373h0M1788 368h0M1739 333h0M1782 396h0M1783 366h0M1798 339h0M1696 359h0M1811 394h0M1726 366h0M1781 364h0M1745 383h0M1778 355h0M1828 365h0M1758 426h0M1800 375h0M1770 395h0M1791 413h0M1776 369h0M1780 342h0M1770 370h0M1794 408h0M1765 371h0M1797 391h0M1793 363h0M1735 406h0M1737 369h0M1778 356h0M1794 385h0M1800 353h0M1785 361h0M1740 364h0M1747 400h0M1764 369h0M1771 380h0M1748 368h0M1754 405h0M1775 339h0M1763 397h0M1808 333h0M1765 377h0M1778 304h0M1776 349h0M1784 414h0M1745 401h0M1784 370h0M1818 378h0M1781 370h0M1776 319h0M1780 338h0M1806 386h0M1790 381h0M1776 369h0M1773 383h0M1812 378h0M1791 333h0M1789 348h0M1808 347h0M1816 405h0M1822 372h0M1729 387h0M1738 373h0M1735 395h0M1780 369h0M1753 378h0M1770 370h0M1773 377h0M1795 409h0M1760 369h0M1763 385h0M1762 367h0M1804 376h0M1766 364h0M1767 417h0M1780 381h0M1758 358h0M1774 385h0M1718 412h0M1773 375h0M1784 367h0M1761 402h0M1745 375h0M1744 355h0M1739 414h0M1768 413h0M1814 395h0M1772 378h0M1752 413h0M1726 352h0M1799 322h0M1736 359h0M1772 353h0M1760 355h0M1796 358h0M1810 376h0M1812 388h0M1815 436h0M1773 391h0M1773 348h0M1791 370h0M1816 406h0M1752 337h0M1781 420h0M1782 400h0M1810 346h0M1759 342h0M1752 351h0M1788 375h0M1737 379h0M1715 385h0M1726 344h0M1748 429h0M1788 364h0M1760 323h0M1792 371h0M1756 441h0M1785 350h0M1758 405h0M1772 411h0M1773 354h0M1811 366h0M1778 355h0M1808 380h0M1742 391h0M1741 393h0M1770 364h0M1777 371h0M1764 362h0M1795 355h0M1811 379h0M1766 333h0M1778 363h0M1764 350h0M1763 396h0M1771 382h0M1794 381h0M1776 377h0M1781 387h0M1801 405h0M1763 389h0M1789 371h0M1785 380h0M1755 398h0M1764 385h0M1780 364h0M1798 375h0M1754 397h0M1774 364h0M1822 368h0M1817 329h0M1746 344h0M1802 341h0M1773 350h0M1761 374h0M1773 331h0M1767 350h0M1775 389h0M1779 357h0M1755 357h0M1755 393h0M1778 378h0M1748 410h0M1773 367h0M1761 368h0M1734 363h0M1783 366h0M1757 370h0M1776 347h0M1780 366h0M1754 352h0M1803 384h0M1789 365h0M1772 402h0M1817 415h0M1781 381h0M1802 382h0M1774 358h0M1784 384h0M1790 363h0M1798 384h0M1772 381h0M1752 366h0M1783 339h0M1765 363h0M1802 375h0M1774 369h0M1755 395h0M1801 368h0M1771 401h0M1776 345h0M1744 393h0M1801 339h0M1812 385h0M1788 390h0M1786 381h0M1778 341h0M1781 378h0M1774 366h0M1760 367h0M1788 336h0M1721 400h0M1742 352h0M1835 368h0M1776 346h0M1711 376h0M1694 369h0M1760 383h0M1781 386h0M1801 372h0M1782 314h0M1762 351h0M1752 343h0M1797 369h0M1798 335h0M1808 372h0M1771 347h0M1736 386h0M1785 359h0M1820 332h0M1781 362h0M1740 376h0M1779 377h0M1774 358h0M1749 385h0M1728 346h0M1746 411h0M1792 377h0M1797 381h0M1826 356h0M1777 370h0M1768 354h0M1823 382h0M1745 358h0M1800 406h0M1755 395h0M1787 361h0M1754 398h0M1790 419h0M1789 376h0M1821 349h0M1758 378h0M1766 389h0M1775 350h0M1735 377h0M1810 355h0M1752 391h0M1751 409h0M1802 371h0M1755 405h0M1763 384h0M1816 383h0M1776 348h0M1790 376h0M1718 340h0M1788 382h0M1771 394h0M1750 406h0M1785 360h0M1777 354h0M1786 369h0M1751 359h0M1802 358h0M1804 383h0M1748 344h0M1758 367h0M1768 372h0M1766 384h0M1728 329h0M1778 416h0M1750 398h0M1754 430h0M1787 335h0M1767 355h0M1788 401h0M1803 411h0M1759 380h0M1804 369h0M1770 390h0M1775 371h0M1791 341h0M1791 372h0M1769 336h0M1778 373h0M1818 337h0M1787 375h0M1757 348h0M1762 350h0M1753 370h0M1783 369h0M1779 364h0M1745 397h0M1769 331h0M1770 393h0M1756 371h0M1802 385h0M1787 368h0M1764 394h0M1769 389h0M1786 412h0M1801 355h0M1787 338h0M1788 411h0M1774 362h0M1756 398h0M1784 361h0M1762 378h0M1760 385h0M1771 348h0M1733 380h0M1813 365h0M1777 353h0M1748 400h0M1732 405h0M1779 353h0M1763 388h0M1783 358h0M1779 415h0M1759 429h0M1779 391h0M1757 338h0M1806 361h0M1780 368h0M1758 373h0M1820 392h0M1756 369h0M1795 353h0M1749 375h0M1766 400h0M1775 383h0M1796 362h0M1754 370h0M1764 387h0M1761 348h0M1763 411h0M1754 354h0M1826 396h0M1764 380h0M1738 363h0M1772 366h0M1828 378h0M1792 353h0M1757 386h0M1811 356h0M1776 397h0M1795 360h0M1827 339h0M1793 366h0M1774 385h0M1780 367h0M1789 348h0M1781 384h0M1793 337h0M1752 363h0M1786 360h0M1785 374h0M1770 334h0M1816 404h0M1710 362h0M1756 384h0M1733 364h0M1771 384h0M1795 317h0M1809 346h0M1763 357h0M1772 346h0M1787 373h0M1786 388h0M1792 338h0M1764 360h0M1732 351h0M1795 395h0M1816 370h0M1730 403h0M1794 378h0M1800 407h0M1770 350h0M1756 357h0M1764 364h0M1781 322h0M1742 355h0M1805 398h0M1775 320h0M1799 439h0M1767 411h0M1780 389h0M1759 391h0M1780 383h0M1751 377h0M1783 391h0M1800 410h0M1783 381h0M1812 387h0M1756 402h0M1822 358h0M1746 380h0M1749 338h0M1783 418h0M1778 352h0M1773 362h0M1770 367h0M1778 388h0M1781 368h0M1772 388h0M1748 367h0M1793 427h0M1760 342h0M1795 388h0M1806 394h0M1753 328h0M1762 377h0M1732 395h0M1744 375h0M1728 348h0M1764 386h0M1757 355h0M1811 381h0M1813 336h0M1806 365h0M1736 357h0M1763 368h0M1726 379h0M1779 393h0M1780 334h0M1779 388h0M1832 421h0M1750 363h0M1758 424h0M1779 353h0M1753 339h0M1785 345h0M1735 372h0M1812 327h0M1805 372h0M1777 386h0M1800 388h0M1776 419h0M1736 332h0M1774 367h0M1718 373h0M1824 406h0M1714 376h0M1760 377h0M1742 403h0M1742 358h0M1772 354h0M1746 359h0M1762 370h0M1796 371h0M1764 410h0M1774 354h0M1757 374h0M1729 402h0M1783 343h0M1765 410h0M1763 408h0M1766 328h0M1780 376h0M1799 381h0M1781 368h0M1784 406h0M1791 352h0M1716 434h0M1751 338h0M1773 357h0M1787 352h0M1757 386h0M1782 358h0M1787 364h0M1761 347h0M1785 348h0M1709 349h0M1712 367h0M1756 369h0M1761 379h0M1778 364h0M1753 430h0M1753 360h0M1752 362h0M1764 394h0M1802 334h0M1770 373h0M1797 403h0M1751 346h0M1795 383h0M1753 364h0M1738 384h0M1767 429h0M1788 355h0M1800 405h0M1741 391h0M1740 325h0M1748 379h0M1778 362h0M1809 397h0M1795 369h0M1743 369h0M1738 335h0M1754 349h0M1806 386h0M1750 369h0M1746 352h0M1777 390h0M1756 356h0M1736 333h0M1753 377h0M1750 335h0M1794 342h0M1789 370h0M1816 357h0M1784 359h0M1791 366h0M1769 409h0M1825 402h0M1718 389h0M1822 344h0M1758 366h0M1772 418h0M1764 365h0M1803 400h0M1716 409h0M1781 370h0M1777 369h0M1764 404h0M1784 363h0M1787 343h0M1741 426h0M1728 323h0M1750 363h0M1772 355h0M1854 384h0M1769 386h0M1779 360h0M1748 342h0M1802 362h0M1770 378h0M1731 357h0M1748 384h0M1798 394h0M1760 352h0M1820 388h0M1801 387h0M1783 361h0M1744 348h0M1819 371h0M1780 399h0M1818 371h0M1740 354h0M1736 388h0M1719 340h0M1829 387h0M1756 386h0M1758 359h0M1810 396h0M1784 414h0M1812 374h0M1755 337h0M1770 340h0M1800 334h0M1753 371h0M1782 377h0M1812 389h0M1798 341h0M1723 395h0M1750 385h0M1783 376h0M1775 383h0M1771 361h0M1792 390h0M1770 390h0M1768 405h0M1797 357h0M1770 388h0M1761 388h0M1734 334h0M1856 401h0M1743 359h0M1788 409h0M1724 360h0M1722 339h0M1760 370h0M1773 385h0M1769 379h0M1804 374h0M1772 384h0M1757 389h0M1773 330h0M1801 367h0M1815 349h0M1778 376h0M1745 366h0M1765 409h0M1740 327h0M1778 361h0M1778 383h0M1785 347h0M1765 360h0M1799 383h0M1777 389h0M1788 381h0M1802 390h0M1816 379h0M1751 393h0M1790 392h0M1819 342h0M1786 405h0M1772 389h0M1727 362h0M1829 385h0M1793 342h0M1748 380h0M1780 361h0M1744 367h0M1770 350h0M1732 385h0M1760 380h0M1791 387h0M1842 389h0M1794 349h0M1797 377h0M1752 378h0M1790 369h0M1788 359h0M1750 394h0M1809 383h0M1733 329h0M1752 394h0M1797 398h0M1751 348h0M1752 314h0M1775 310h0M1776 371h0M1757 377h0M1760 373h0M1792 402h0M1750 421h0M1811 374h0M1772 374h0M1798 365h0M1794 376h0M1770 373h0M1726 347h0M1733 395h0M1790 371h0M1793 333h0M1820 340h0M1767 325h0M1750 374h0M1798 377h0M1770 380h0M1808 429h0M1805 348h0M1771 359h0M1748 346h0M1851 394h0M1808 374h0M1764 383h0M1768 401h0M1738 334h0M1772 359h0M1781 361h0M1734 394h0M1789 349h0M1744 386h0M1746 357h0M1782 371h0M1756 364h0M1774 389h0M1781 388h0M1797 358h0M1755 359h0M1775 389h0M1750 411h0M1744 364h0M1804 387h0M1777 364h0M1793 362h0M1804 354h0M1753 363h0M1713 376h0M1773 359h0M1765 353h0M1806 392h0M1759 366h0M1785 369h0M1794 400h0M1793 345h0M1801 362h0M1767 363h0M1771 409h0M1757 373h0M1760 394h0M1767 381h0M1775 373h0M1777 349h0M1776 363h0M1742 441h0M1763 356h0M1764 387h0M1741 352h0M1759 367h0M1802 360h0M1830 375h0M1797 356h0M1756 371h0M1758 396h0M1780 390h0M1816 389h0M1759 370h0M1760 371h0M1757 405h0M1712 402h0M1812 362h0M1777 383h0M1769 365h0M1738 391h0M1750 343h0M1740 325h0M1909 375h0M1864 337h0M1766 326h0M1799 392h0M1828 360h0M1741 307h0M1800 313h0M1852 413h0M1776 323h0M1819 326h0M1803 406h0M1756 387h0M1836 414h0M1782 394h0M1806 364h0M1791 420h0M1889 411h0M1778 333h0M1700 437h0M1804 329h0M1840 415h0M1781 400h0M1889 406h0M1733 419h0M1801 379h0M1863 384h0M1687 362h0M1778 356h0M1708 411h0M1784 326h0M1718 325h0M1757 356h0M1909 363h0M1771 283h0M1783 321h0M1755 361h0M1767 308h0M1750 357h0M1762 332h0M1801 368h0M1866 403h0M1791 391h0M1801 398h0M1822 297h0M1776 418h0M1789 362h0M1856 411h0M1812 353h0M1861 429h0M1886 293h0M1902 370h0M1782 364h0M1735 381h0M1826 364h0M1816 449h0M1776 366h0M1839 305h0M1848 334h0M1789 370h0M1809 401h0M1749 374h0M1727 348h0M1755 375h0M1891 351h0M1774 344h0M1749 376h0M1848 383h0M1829 408h0M1749 303h0M1827 335h0M1774 358h0M1728 411h0M1829 301h0M1829 419h0M1845 367h0M1785 394h0M1764 368h0M1856 383h0M1775 389h0M1762 407h0M1786 379h0M1801 349h0M1783 418h0M1732 398h0M1730 345h0M1766 401h0M1872 386h0M1765 380h0M1898 416h0M1754 358h0M1853 415h0M1805 443h0M1768 418h0M1768 343h0M1830 366h0M1795 387h0M1810 344h0M1909 305h0M1836 375h0M1761 306h0M1818 401h0M1848 425h0M1805 389h0M1753 362h0M1826 277h0M1871 357h0M1767 410h0M1819 335h0M1760 375h0M1838 375h0M1780 350h0M1861 395h0M1775 376h0M1756 443h0M1828 311h0M1859 345h0M1765 407h0M1846 363h0M1866 371h0M1879 424h0M1766 387h0M1771 326h0M1772 439h0M1812 347h0M1832 348h0M1821 358h0M1771 357h0M1860 355h0M1772 382h0M1783 279h0M1787 361h0M1723 400h0M1790 406h0M1760 425h0M1771 339h0M1819 381h0M1741 393h0M1839 363h0M1780 355h0M1801 403h0M1790 329h0M1851 376h0M1786 367h0M1836 395h0M1848 373h0M1825 452h0M1796 350h0M1832 416h0M1718 346h0M1753 354h0M1832 398h0M1736 424h0M1788 321h0M1799 429h0M1809 373h0M1753 347h0M1815 347h0M1736 356h0M1765 422h0M1813 397h0M1776 354h0M1764 363h0M1724 393h0M1852 286h0M1864 362h0M1818 410h0M1778 362h0M1779 333h0M1768 361h0M1805 419h0M1720 330h0M1809 330h0M1837 392h0M1822 376h0M1774 377h0M1770 368h0M1815 367h0M1843 390h0M1785 386h0M1802 393h0M1843 367h0M1820 349h0M1796 356h0M1798 394h0M1801 410h0M1821 366h0M1800 391h0M1789 438h0M1804 364h0M1738 378h0M1766 372h0M1804 401h0M1803 315h0M1824 401h0M1857 340h0M1794 401h0M1855 392h0M1771 276h0M1787 298h0M1760 314h0M1840 420h0M1840 358h0M1791 390h0M1816 323h0M1842 344h0M1726 347h0M1844 382h0M1835 394h0M1776 405h0M1805 335h0M1884 388h0M1791 356h0M1815 436h0M1758 349h0M1801 417h0M1862 349h0M1826 422h0M1810 398h0M1788 356h0M1884 359h0M1742 303h0M1817 377h0M1781 357h0M1788 373h0M1813 379h0M1811 321h0M1732 396h0M1823 334h0M1908 378h0M1849 309h0M1845 430h0M1776 344h0M1788 332h0M1866 435h0M1771 412h0M1747 405h0M1837 389h0M1854 398h0M1773 419h0M1757 415h0M1806 407h0M1837 361h0M1748 450h0M1799 409h0M1968 415h0M1818 389h0M1830 377h0M1807 326h0M1717 319h0M1856 362h0M1805 338h0M1803 401h0M1766 323h0M1782 375h0M1830 365h0M1876 406h0M1816 418h0M1788 396h0M1788 382h0M1769 413h0M1851 333h0M1739 331h0M1876 458h0M1788 329h0M1784 283h0M1720 371h0M1754 349h0M1739 397h0M1859 395h0M1749 362h0M1730 359h0M1675 405h0M1756 409h0M1672 337h0M1793 382h0M1800 416h0M1789 333h0M1858 426h0M1788 324h0M1762 343h0M1756 376h0M1875 349h0M1814 466h0M1787 467h0M1849 306h0M1819 359h0M1779 352h0M1837 388h0M1853 322h0M1815 340h0M1809 278h0M1749 291h0M1794 388h0M1730 423h0M1847 376h0M1719 396h0M1759 444h0M1792 373h0M1854 312h0M1788 392h0M1841 324h0M1750 345h0M1792 417h0M1767 343h0M1833 389h0M1833 322h0M1834 357h0M1711 409h0M1824 365h0M1900 388h0M1723 385h0M1831 381h0M1786 400h0M1838 334h0M1780 367h0M1736 422h0M1804 396h0M1803 441h0M1833 336h0M1805 429h0M1838 397h0M1876 378h0M1776 401h0M1785 415h0M1890 418h0M1759 351h0M1855 400h0M1745 363h0M1859 433h0M1879 357h0M1745 364h0M1869 374h0M1829 376h0M1836 448h0M1850 392h0M1808 328h0M1758 394h0M1793 397h0M1856 288h0M1756 400h0M1815 329h0M1829 398h0M1828 364h0M1858 349h0M1816 415h0M1769 358h0M1780 426h0M1869 358h0M1844 351h0M1759 327h0M1868 358h0M1758 400h0M1801 349h0M1752 380h0M1815 423h0M1747 397h0M1880 382h0M1778 343h0M1815 295h0M1812 324h0M1776 406h0M1887 392h0M1769 317h0M1744 333h0M1791 373h0M1778 411h0M1795 407h0M1871 437h0M1769 371h0M1747 374h0M1779 312h0M1726 434h0M1793 396h0M1780 376h0M1781 338h0M1833 379h0M1843 314h0M1841 361h0M1785 324h0M1884 342h0M1796 435h0M1784 276h0M1828 369h0M1828 450h0M1870 361h0M1798 346h0M1793 353h0M1813 359h0M1744 393h0M1869 362h0M1729 297h0M1724 408h0M1853 309h0M1787 297h0M1854 359h0M1856 353h0M1721 372h0M1870 475h0M1825 313h0M1798 355h0M1754 377h0M1790 430h0M1806 352h0M1735 339h0M1717 311h0M1891 351h0M1704 400h0M1878 362h0M1772 383h0M1809 359h0M1781 316h0M1836 282h0M1756 324h0M1821 388h0M1872 365h0M1845 391h0M1902 388h0M1809 391h0M1794 377h0M1779 434h0M1794 362h0M1766 351h0M1861 374h0M1825 324h0M1803 383h0M1840 330h0M1977 323h0M1881 337h0M1876 356h0M1803 343h0M1804 393h0M1762 375h0M1756 358h0M1740 421h0M1832 374h0M1795 380h0M1791 367h0M1777 327h0M1781 440h0M1879 358h0M1723 412h0M1853 339h0M1806 375h0M1837 383h0M1759 429h0M1789 321h0M1782 417h0M1788 391h0M1877 403h0M1896 356h0M1868 399h0M1869 351h0M1954 367h0M1919 369h0M1872 413h0M1868 359h0M1850 307h0M1949 366h0M1857 400h0M1825 366h0M1943 360h0M1852 393h0M1915 362h0M1871 407h0M1849 353h0M1938 434h0M1833 450h0M1918 424h0M1881 365h0M1920 363h0M1826 355h0M1883 417h0M1943 331h0M1831 391h0M1900 394h0M1948 361h0M1920 355h0M1865 356h0M1898 388h0M1932 341h0M1842 378h0M1950 401h0M1951 393h0M1832 333h0M1875 405h0M1865 404h0M1821 343h0M1841 343h0M1860 423h0M1889 419h0M1852 394h0M1927 386h0M1838 375h0M1945 338h0M1840 366h0M1847 356h0M1863 415h0M1874 339h0M1884 417h0M1944 338h0M1877 351h0M1955 384h0M1891 385h0M1855 401h0M1836 349h0M1915 392h0M1882 394h0M1841 376h0M1864 389h0M1817 409h0M1917 383h0M1853 367h0M1846 354h0M1863 409h0M1852 379h0M1865 347h0M1928 360h0M1942 421h0M1909 365h0M1840 366h0M1853 431h0M1899 383h0M1877 368h0M1923 281h0M1865 284h0M1853 346h0M1936 337h0M1867 341h0M1942 377h0M1845 358h0M1930 326h0M1913 378h0M1856 374h0M1956 359h0M1823 395h0M1843 392h0M1878 350h0M1840 382h0M1755 451h0M1765 391h0M1794 409h0M1794 349h0M1751 394h0M1740 420h0M1809 430h0M1837 359h0M1809 382h0M1808 325h0M1787 419h0M1768 277h0M1779 415h0M1764 486h0M1770 370h0M1770 432h0M1795 362h0M1771 371h0M1756 339h0M1756 408h0M1788 413h0M1751 267h0M1827 489h0M1787 462h0M1793 464h0M1800 358h0M1832 319h0M1771 334h0M1771 395h0M1770 490h0M1801 506h0M1777 358h0M1787 479h0M1765 349h0M1815 296h0M1732 362h0M1770 344h0M1736 397h0M1804 426h0M1773 445h0M1815 465h0M1758 408h0M1775 266h0M1792 436h0M1800 369h0M1792 392h0M1797 456h0M1750 413h0M1752 348h0M1839 317h0M1796 369h0M1764 463h0M1799 474h0M1792 397h0M1805 385h0M1787 422h0M1735 408h0M1803 328h0M1823 446h0M1757 348h0M1793 476h0M1768 298h0M1732 380h0M1744 296h0M1771 448h0M1735 430h0M1711 416h0M1846 383h0M1776 455h0M1726 478h0M1761 495h0M1753 510h0M1770 521h0M1790 506h0M1807 535h0M1794 486h0M1806 491h0M1822 485h0M1812 475h0M1886 465h0M1739 475h0M1762 473h0M1802 472h0" stroke="#bebebe" stroke-width="4.4" stroke-linecap="round" fill="none"/><path d="M1791.5 275.2h0M1785.5 288.8h0M1754.8 302.9h0M1773.9 303.8h0M1738.5 310.0h0M1725.8 329.6h0M1734.2 324.7h0M1746.1 325.5h0M1747.0 327.4h0M1799.9 320.9h0M1807.3 317.3h0M1810.0 323.6h0M1815.4 329.0h0M1817.6 329.0h0M1801.8 337.2h0M1803.2 337.2h0M1819.5 339.9h0M1746.1 341.0h0M1749.7 343.2h0M1743.4 347.2h0M1820.3 358.1h0M1749.7 361.6h0M1742.6 365.4h0M1806.7 366.2h0M1735.3 373.0h0M1746.1 373.0h0M1749.4 376.3h0M1797.8 371.7h0M1798.6 374.4h0M1811.4 372.5h0M1799.1 378.5h0M1802.7 378.5h0M1779.0 382.6h0M1825.5 384.7h0M1723.0 390.7h0M1735.3 387.2h0M1754.6 389.9h0M1748.3 394.0h0M1730.4 394.8h0M1787.2 389.9h0M1795.9 392.1h0M1799.7 391.5h0M1802.4 388.0h0M1801.3 397.0h0M1805.9 394.8h0M1812.2 388.0h0M1809.5 395.6h0M1820.3 390.7h0M1816.8 400.8h0M1737.4 405.1h0M1775.2 404.6h0M1786.4 403.5h0M1802.1 403.5h0M1800.8 405.7h0M1734.7 411.1h0M1768.7 410.5h0M1781.5 412.4h0M1772.5 418.7h0M1777.4 419.8h0M1785.5 417.1h0M1819.2 417.1h0M1759.2 422.0h0M1758.9 426.6h0M1754.6 433.4h0M1784.5 427.4h0M1785.5 433.4h0" stroke="#e8141c" stroke-width="4.8" stroke-linecap="round" fill="none"/><rect x="1665.4" y="250.2" width="322.6" height="309.8" class="ax"/><path d="M1660 264.4H1665.4M1660 318.3H1665.4M1660 372.2H1665.4M1660 426.1H1665.4M1660 480H1665.4M1660 534H1665.4M1707.5 560V564.6M1780.1 560V564.6M1852.7 560V564.6M1925.3 560V564.6" class="tk"/><text x="1657.8" y="271.5" font-size="20" text-anchor="end">2000</text><text x="1657.8" y="325.4" font-size="20" text-anchor="end">1000</text><text x="1657.8" y="379.3" font-size="20" text-anchor="end">0</text><text x="1657.8" y="433.2" font-size="20" text-anchor="end">-1000</text><text x="1657.8" y="487.1" font-size="20" text-anchor="end">-2000</text><text x="1657.8" y="541.1" font-size="20" text-anchor="end">-3000</text><text x="1710.3" y="582.8" font-size="20" text-anchor="middle">-2000</text><text x="1782.8" y="582.8" font-size="20" text-anchor="middle">0</text><text x="1859.3" y="582.8" font-size="20" text-anchor="middle">2000</text><text x="1934.6" y="582.8" font-size="20" text-anchor="middle">4000</text><text x="1794.2" y="610.8" font-size="29" textLength="51.1" lengthAdjust="spacingAndGlyphs">PC1</text><text transform="translate(1611.1,398.3) rotate(-90)" font-size="29" textLength="53.8" lengthAdjust="spacingAndGlyphs">PC2</text><circle cx="1880.7" cy="495.9" r="8.2" fill="#bdbdbd"/><circle cx="1880.7" cy="532.3" r="8.2" fill="#ee1111"/><text x="1903.8" y="500.2" font-size="28.5">exp</text><text x="1903.8" y="539.3" font-size="28.5">model</text><text x="1" y="555.8" font-size="30" font-weight="bold" textLength="8.8" lengthAdjust="spacingAndGlyphs">f</text><defs><linearGradient id="cb"><stop offset="0" stop-color="#cc0000"/><stop offset="0.5" stop-color="#ffffff"/><stop offset="1" stop-color="#00008b"/></linearGradient></defs><rect x="813.6" y="519.7" width="264.6" height="39.3" fill="url(#cb)"/><path d="M854.3 559V563M895 559V563M935.6 559V563M976.3 559V563M1016.9 559V563M1057.6 559V563" stroke="#000" stroke-width="1.2"/><text x="855.8" y="588.5" font-size="23" text-anchor="middle">300</text><text x="935.2" y="588.5" font-size="23" text-anchor="middle">500</text><text x="1018.7" y="588.5" font-size="23" text-anchor="middle">700</text><text x="1090.6" y="549.5" font-size="29">3D distance (nm)</text><defs><pattern id="p1" width="32" height="32" patternUnits="userSpaceOnUse"><rect width="32" height="32" fill="#00008b"/><path fill="#ffffff" d="M14 8h1v1h-1zM14 3h1v1h-1zM14 10h1v1h-1zM14 15h1v1h-1zM22 3h1v1h-1zM14 27h1v1h-1zM14 19h1v1h-1zM7 19h1v1h-1zM4 3h1v1h-1zM14 7h1v1h-1zM7 23h1v1h-1zM31 23h1v1h-1zM26 10h1v1h-1zM25 3h1v1h-1zM14 25h1v1h-1zM11 3h1v1h-1zM14 26h1v1h-1zM26 3h1v1h-1zM13 3h1v1h-1zM7 8h1v1h-1zM22 15h1v1h-1zM21 23h1v1h-1zM10 3h1v1h-1zM3 3h1v1h-1zM7 3h1v1h-1zM15 3h1v1h-1zM15 19h1v1h-1zM2 3h1v1h-1zM7 17h1v1h-1zM9 3h1v1h-1zM11 18h1v1h-1z"/><path fill="#cccce8" d="M22 7h1v1h-1zM18 23h1v1h-1zM14 6h1v1h-1zM14 9h1v1h-1zM4 23h1v1h-1zM24 3h1v1h-1zM15 8h1v1h-1zM14 23h1v1h-1zM14 13h1v1h-1zM31 18h1v1h-1zM31 3h1v1h-1zM2 7h1v1h-1zM22 23h1v1h-1zM27 3h1v1h-1zM11 7h1v1h-1zM22 1h1v1h-1zM18 15h1v1h-1zM15 27h1v1h-1zM11 17h1v1h-1zM18 26h1v1h-1zM11 15h1v1h-1zM14 18h1v1h-1zM22 6h1v1h-1zM21 3h1v1h-1zM10 18h1v1h-1zM20 18h1v1h-1zM14 20h1v1h-1zM1 3h1v1h-1zM29 23h1v1h-1zM7 18h1v1h-1zM27 10h1v1h-1zM14 2h1v1h-1zM7 15h1v1h-1zM13 10h1v1h-1zM19 15h1v1h-1zM18 7h1v1h-1zM16 3h1v1h-1zM31 15h1v1h-1zM14 1h1v1h-1zM14 0h1v1h-1zM14 17h1v1h-1zM7 10h1v1h-1zM16 19h1v1h-1zM7 7h1v1h-1zM31 19h1v1h-1zM2 10h1v1h-1zM15 7h1v1h-1zM13 19h1v1h-1zM14 28h1v1h-1zM14 14h1v1h-1zM4 15h1v1h-1z"/><path fill="#8f8fcc" d="M19 23h1v1h-1zM18 3h1v1h-1zM18 27h1v1h-1zM26 26h1v1h-1zM5 17h1v1h-1zM17 3h1v1h-1zM2 18h1v1h-1zM19 3h1v1h-1zM25 10h1v1h-1zM26 27h1v1h-1zM11 26h1v1h-1zM14 12h1v1h-1zM7 30h1v1h-1zM29 3h1v1h-1zM14 5h1v1h-1zM30 27h1v1h-1zM18 1h1v1h-1zM14 30h1v1h-1zM30 3h1v1h-1zM18 8h1v1h-1zM14 29h1v1h-1zM27 18h1v1h-1zM22 27h1v1h-1zM16 27h1v1h-1zM4 26h1v1h-1zM21 19h1v1h-1zM27 23h1v1h-1zM19 17h1v1h-1zM1 17h1v1h-1zM30 1h1v1h-1zM10 17h1v1h-1zM21 18h1v1h-1zM10 10h1v1h-1zM22 8h1v1h-1zM31 1h1v1h-1zM5 15h1v1h-1zM15 15h1v1h-1zM18 12h1v1h-1zM13 13h1v1h-1zM30 23h1v1h-1zM29 26h1v1h-1zM4 17h1v1h-1zM7 20h1v1h-1zM18 10h1v1h-1zM20 23h1v1h-1zM5 3h1v1h-1zM10 15h1v1h-1zM27 19h1v1h-1zM13 7h1v1h-1zM29 10h1v1h-1zM10 19h1v1h-1zM31 26h1v1h-1zM14 4h1v1h-1zM11 10h1v1h-1zM1 18h1v1h-1zM24 7h1v1h-1zM31 27h1v1h-1zM22 10h1v1h-1zM5 18h1v1h-1zM18 19h1v1h-1zM13 15h1v1h-1zM16 18h1v1h-1zM2 13h1v1h-1zM6 3h1v1h-1zM20 3h1v1h-1zM30 26h1v1h-1zM13 8h1v1h-1zM5 23h1v1h-1zM15 18h1v1h-1zM22 2h1v1h-1zM7 9h1v1h-1zM19 26h1v1h-1z"/><path fill="#4c4cae" d="M6 17h1v1h-1zM22 30h1v1h-1zM18 2h1v1h-1zM14 21h1v1h-1zM5 30h1v1h-1zM0 18h1v1h-1zM11 19h1v1h-1zM2 8h1v1h-1zM11 8h1v1h-1zM31 17h1v1h-1zM7 2h1v1h-1zM22 19h1v1h-1zM26 19h1v1h-1zM15 0h1v1h-1zM20 15h1v1h-1zM19 19h1v1h-1zM3 10h1v1h-1zM15 13h1v1h-1zM24 27h1v1h-1zM13 17h1v1h-1zM23 3h1v1h-1zM29 13h1v1h-1zM17 1h1v1h-1zM20 17h1v1h-1zM0 3h1v1h-1zM14 16h1v1h-1zM26 15h1v1h-1zM14 11h1v1h-1zM19 27h1v1h-1zM7 26h1v1h-1zM19 7h1v1h-1zM4 10h1v1h-1zM22 13h1v1h-1zM6 19h1v1h-1zM2 19h1v1h-1zM13 12h1v1h-1zM22 0h1v1h-1zM6 18h1v1h-1zM28 10h1v1h-1zM2 23h1v1h-1zM31 7h1v1h-1zM21 8h1v1h-1zM22 5h1v1h-1zM17 15h1v1h-1zM21 17h1v1h-1zM21 15h1v1h-1zM2 15h1v1h-1zM6 23h1v1h-1zM4 2h1v1h-1zM4 27h1v1h-1zM21 10h1v1h-1zM11 23h1v1h-1zM24 10h1v1h-1zM7 27h1v1h-1zM8 3h1v1h-1zM5 19h1v1h-1zM17 7h1v1h-1zM2 12h1v1h-1zM27 8h1v1h-1zM9 18h1v1h-1zM15 2h1v1h-1zM16 26h1v1h-1zM22 14h1v1h-1zM4 19h1v1h-1zM22 17h1v1h-1zM7 25h1v1h-1zM29 12h1v1h-1zM0 19h1v1h-1zM24 19h1v1h-1zM7 21h1v1h-1zM27 26h1v1h-1zM9 15h1v1h-1zM10 2h1v1h-1zM26 9h1v1h-1zM27 7h1v1h-1zM3 23h1v1h-1zM16 8h1v1h-1zM14 24h1v1h-1zM18 30h1v1h-1zM26 6h1v1h-1zM22 18h1v1h-1zM31 2h1v1h-1zM1 15h1v1h-1zM19 18h1v1h-1zM17 27h1v1h-1zM18 6h1v1h-1zM2 6h1v1h-1zM17 2h1v1h-1zM21 7h1v1h-1zM27 15h1v1h-1zM11 1h1v1h-1zM26 13h1v1h-1zM30 13h1v1h-1zM16 0h1v1h-1zM11 30h1v1h-1zM19 8h1v1h-1zM27 30h1v1h-1zM9 27h1v1h-1zM16 2h1v1h-1zM25 0h1v1h-1zM17 19h1v1h-1zM30 19h1v1h-1z"/></pattern><pattern id="p2" width="32" height="32" patternUnits="userSpaceOnUse"><rect width="32" height="32" fill="#00008b"/><path fill="#ffffff" d="M4 7h1v1h-1zM4 23h1v1h-1zM27 31h1v1h-1zM4 24h1v1h-1zM27 24h1v1h-1zM4 6h1v1h-1zM0 19h1v1h-1zM0 25h1v1h-1zM14 25h1v1h-1zM0 24h1v1h-1zM27 12h1v1h-1zM14 1h1v1h-1zM14 15h1v1h-1zM31 19h1v1h-1zM19 15h1v1h-1zM28 24h1v1h-1zM14 14h1v1h-1zM14 19h1v1h-1zM8 24h1v1h-1zM19 26h1v1h-1zM19 6h1v1h-1zM19 28h1v1h-1zM19 19h1v1h-1zM4 12h1v1h-1zM14 4h1v1h-1zM19 0h1v1h-1zM0 0h1v1h-1zM14 31h1v1h-1zM14 24h1v1h-1zM12 23h1v1h-1zM4 1h1v1h-1zM31 15h1v1h-1zM28 19h1v1h-1zM4 31h1v1h-1zM27 25h1v1h-1zM8 25h1v1h-1zM0 8h1v1h-1zM0 4h1v1h-1zM4 15h1v1h-1zM4 19h1v1h-1zM0 15h1v1h-1zM27 19h1v1h-1zM19 14h1v1h-1zM3 24h1v1h-1zM14 26h1v1h-1zM27 4h1v1h-1zM0 26h1v1h-1zM8 15h1v1h-1zM4 0h1v1h-1zM0 23h1v1h-1zM0 31h1v1h-1zM19 12h1v1h-1zM12 19h1v1h-1zM19 7h1v1h-1zM27 0h1v1h-1zM8 0h1v1h-1zM8 31h1v1h-1zM14 0h1v1h-1zM3 19h1v1h-1zM14 6h1v1h-1zM25 15h1v1h-1zM8 18h1v1h-1zM19 27h1v1h-1zM28 23h1v1h-1zM27 20h1v1h-1zM8 26h1v1h-1zM12 15h1v1h-1zM0 7h1v1h-1zM12 24h1v1h-1zM0 1h1v1h-1zM0 18h1v1h-1zM14 23h1v1h-1zM3 23h1v1h-1zM31 25h1v1h-1zM28 25h1v1h-1zM21 19h1v1h-1zM0 12h1v1h-1zM4 18h1v1h-1zM0 10h1v1h-1zM11 4h1v1h-1zM14 5h1v1h-1zM16 4h1v1h-1z"/><path fill="#cccce8" d="M19 29h1v1h-1zM2 19h1v1h-1zM4 30h1v1h-1zM25 19h1v1h-1zM12 25h1v1h-1zM4 22h1v1h-1zM14 18h1v1h-1zM27 23h1v1h-1zM9 24h1v1h-1zM2 31h1v1h-1zM20 19h1v1h-1zM31 7h1v1h-1zM25 24h1v1h-1zM4 14h1v1h-1zM24 24h1v1h-1zM19 24h1v1h-1zM31 0h1v1h-1zM22 24h1v1h-1zM13 24h1v1h-1zM25 6h1v1h-1zM25 12h1v1h-1zM31 24h1v1h-1zM28 31h1v1h-1zM19 4h1v1h-1zM3 6h1v1h-1zM28 18h1v1h-1zM19 31h1v1h-1zM12 12h1v1h-1zM11 15h1v1h-1zM0 29h1v1h-1zM23 24h1v1h-1zM19 1h1v1h-1zM3 31h1v1h-1zM9 25h1v1h-1zM9 26h1v1h-1zM28 0h1v1h-1zM4 29h1v1h-1zM27 18h1v1h-1zM8 12h1v1h-1zM25 31h1v1h-1zM30 7h1v1h-1zM15 14h1v1h-1zM15 25h1v1h-1zM22 15h1v1h-1zM0 9h1v1h-1zM4 8h1v1h-1zM8 1h1v1h-1zM0 30h1v1h-1zM19 5h1v1h-1zM31 4h1v1h-1zM8 8h1v1h-1zM21 12h1v1h-1zM31 8h1v1h-1zM19 13h1v1h-1zM29 24h1v1h-1zM2 24h1v1h-1zM12 26h1v1h-1zM8 7h1v1h-1zM28 12h1v1h-1zM31 31h1v1h-1zM16 6h1v1h-1zM13 23h1v1h-1zM18 29h1v1h-1zM26 19h1v1h-1zM31 20h1v1h-1zM19 25h1v1h-1zM4 25h1v1h-1zM9 12h1v1h-1zM19 18h1v1h-1zM29 19h1v1h-1zM4 10h1v1h-1zM15 15h1v1h-1zM23 19h1v1h-1zM27 26h1v1h-1zM23 26h1v1h-1zM12 8h1v1h-1zM19 16h1v1h-1zM31 26h1v1h-1zM8 19h1v1h-1zM19 23h1v1h-1zM17 18h1v1h-1zM2 30h1v1h-1zM25 26h1v1h-1zM8 4h1v1h-1zM12 18h1v1h-1zM19 8h1v1h-1zM25 23h1v1h-1zM25 20h1v1h-1zM8 6h1v1h-1zM19 2h1v1h-1zM29 25h1v1h-1zM4 5h1v1h-1zM31 18h1v1h-1zM29 18h1v1h-1zM17 4h1v1h-1zM17 12h1v1h-1zM11 19h1v1h-1zM8 14h1v1h-1zM12 29h1v1h-1zM14 2h1v1h-1zM29 23h1v1h-1zM9 15h1v1h-1z"/><path fill="#8f8fcc" d="M15 4h1v1h-1zM14 30h1v1h-1zM20 20h1v1h-1zM12 16h1v1h-1zM14 9h1v1h-1zM27 8h1v1h-1zM0 20h1v1h-1zM27 30h1v1h-1zM22 14h1v1h-1zM29 7h1v1h-1zM4 20h1v1h-1zM14 29h1v1h-1zM14 8h1v1h-1zM3 0h1v1h-1zM18 6h1v1h-1zM30 8h1v1h-1zM0 14h1v1h-1zM0 6h1v1h-1zM4 4h1v1h-1zM18 23h1v1h-1zM15 24h1v1h-1zM24 23h1v1h-1zM25 25h1v1h-1zM24 6h1v1h-1zM8 27h1v1h-1zM10 0h1v1h-1zM13 25h1v1h-1zM29 15h1v1h-1zM27 7h1v1h-1zM31 6h1v1h-1zM19 10h1v1h-1zM23 25h1v1h-1zM15 0h1v1h-1zM14 16h1v1h-1zM25 7h1v1h-1zM31 1h1v1h-1zM28 26h1v1h-1zM18 24h1v1h-1zM3 15h1v1h-1zM29 0h1v1h-1zM30 19h1v1h-1zM14 20h1v1h-1zM28 4h1v1h-1zM23 18h1v1h-1zM9 18h1v1h-1zM24 7h1v1h-1zM20 26h1v1h-1zM27 3h1v1h-1zM25 14h1v1h-1zM4 16h1v1h-1zM10 4h1v1h-1zM14 12h1v1h-1zM17 6h1v1h-1zM17 23h1v1h-1zM2 0h1v1h-1zM2 18h1v1h-1zM21 20h1v1h-1zM20 12h1v1h-1zM3 7h1v1h-1zM11 0h1v1h-1zM13 19h1v1h-1zM18 4h1v1h-1zM12 28h1v1h-1zM8 23h1v1h-1zM29 26h1v1h-1zM23 20h1v1h-1zM17 5h1v1h-1zM13 15h1v1h-1zM27 6h1v1h-1zM9 19h1v1h-1zM18 26h1v1h-1zM29 31h1v1h-1zM15 5h1v1h-1zM3 18h1v1h-1zM14 28h1v1h-1zM12 5h1v1h-1zM9 4h1v1h-1zM22 12h1v1h-1zM11 25h1v1h-1zM2 20h1v1h-1zM25 4h1v1h-1zM24 19h1v1h-1zM15 20h1v1h-1zM22 29h1v1h-1zM25 18h1v1h-1zM17 24h1v1h-1zM2 8h1v1h-1zM3 29h1v1h-1zM14 7h1v1h-1zM12 6h1v1h-1zM21 24h1v1h-1zM4 28h1v1h-1zM10 15h1v1h-1zM16 31h1v1h-1zM14 27h1v1h-1zM12 22h1v1h-1zM29 8h1v1h-1zM14 3h1v1h-1zM3 12h1v1h-1zM12 7h1v1h-1zM5 6h1v1h-1zM24 12h1v1h-1zM11 24h1v1h-1zM21 15h1v1h-1zM15 19h1v1h-1zM19 30h1v1h-1zM3 30h1v1h-1zM10 12h1v1h-1zM16 19h1v1h-1zM20 0h1v1h-1zM18 18h1v1h-1zM24 25h1v1h-1zM22 26h1v1h-1zM23 8h1v1h-1zM21 7h1v1h-1zM4 11h1v1h-1zM2 4h1v1h-1zM23 7h1v1h-1zM11 12h1v1h-1zM25 30h1v1h-1zM2 12h1v1h-1zM12 14h1v1h-1zM18 19h1v1h-1z"/><path fill="#4c4cae" d="M2 7h1v1h-1zM29 4h1v1h-1zM26 24h1v1h-1zM0 16h1v1h-1zM8 29h1v1h-1zM21 26h1v1h-1zM14 10h1v1h-1zM29 6h1v1h-1zM12 4h1v1h-1zM2 10h1v1h-1zM17 19h1v1h-1zM21 0h1v1h-1zM16 5h1v1h-1zM4 9h1v1h-1zM8 16h1v1h-1zM19 3h1v1h-1zM12 9h1v1h-1zM3 1h1v1h-1zM23 15h1v1h-1zM3 4h1v1h-1zM8 2h1v1h-1zM16 18h1v1h-1zM10 19h1v1h-1zM22 20h1v1h-1zM0 5h1v1h-1zM23 29h1v1h-1zM23 9h1v1h-1zM23 27h1v1h-1zM15 31h1v1h-1zM18 31h1v1h-1zM4 2h1v1h-1zM28 20h1v1h-1zM11 6h1v1h-1zM29 12h1v1h-1zM22 16h1v1h-1zM28 30h1v1h-1zM11 5h1v1h-1zM20 24h1v1h-1zM23 23h1v1h-1zM24 20h1v1h-1zM2 29h1v1h-1zM22 28h1v1h-1zM0 22h1v1h-1zM3 25h1v1h-1zM17 31h1v1h-1zM14 22h1v1h-1zM27 27h1v1h-1zM16 25h1v1h-1zM22 23h1v1h-1zM8 9h1v1h-1zM3 20h1v1h-1zM19 20h1v1h-1zM0 28h1v1h-1zM29 22h1v1h-1zM22 25h1v1h-1zM19 22h1v1h-1zM20 25h1v1h-1zM20 6h1v1h-1zM29 29h1v1h-1zM4 26h1v1h-1zM22 27h1v1h-1zM19 9h1v1h-1zM2 23h1v1h-1zM12 0h1v1h-1zM10 31h1v1h-1zM29 27h1v1h-1zM11 23h1v1h-1zM31 12h1v1h-1zM12 10h1v1h-1zM18 12h1v1h-1zM15 6h1v1h-1zM10 25h1v1h-1zM17 26h1v1h-1zM18 25h1v1h-1zM16 26h1v1h-1zM11 1h1v1h-1zM17 2h1v1h-1zM9 23h1v1h-1zM13 26h1v1h-1zM25 22h1v1h-1zM5 18h1v1h-1zM30 26h1v1h-1zM8 5h1v1h-1zM3 28h1v1h-1zM18 14h1v1h-1zM7 31h1v1h-1zM5 7h1v1h-1zM29 14h1v1h-1zM17 29h1v1h-1zM11 7h1v1h-1zM27 29h1v1h-1zM5 12h1v1h-1zM29 20h1v1h-1zM9 27h1v1h-1zM0 2h1v1h-1zM31 14h1v1h-1zM11 18h1v1h-1zM3 14h1v1h-1zM30 15h1v1h-1zM22 19h1v1h-1zM0 11h1v1h-1zM27 10h1v1h-1zM28 7h1v1h-1zM23 31h1v1h-1zM24 15h1v1h-1zM10 1h1v1h-1zM9 0h1v1h-1zM26 12h1v1h-1zM3 10h1v1h-1zM29 1h1v1h-1zM2 25h1v1h-1zM26 31h1v1h-1zM25 16h1v1h-1zM23 28h1v1h-1zM11 26h1v1h-1zM13 18h1v1h-1zM31 10h1v1h-1zM8 3h1v1h-1zM9 1h1v1h-1zM26 25h1v1h-1zM28 29h1v1h-1zM11 8h1v1h-1zM16 24h1v1h-1zM10 26h1v1h-1zM21 25h1v1h-1zM27 22h1v1h-1zM24 26h1v1h-1zM24 18h1v1h-1zM31 29h1v1h-1zM0 27h1v1h-1zM16 15h1v1h-1zM7 24h1v1h-1zM18 5h1v1h-1zM9 9h1v1h-1zM31 23h1v1h-1zM16 14h1v1h-1zM23 17h1v1h-1zM27 13h1v1h-1zM16 23h1v1h-1zM21 28h1v1h-1zM21 29h1v1h-1zM15 26h1v1h-1zM17 10h1v1h-1zM21 31h1v1h-1zM30 0h1v1h-1zM8 30h1v1h-1zM20 27h1v1h-1zM20 31h1v1h-1zM20 16h1v1h-1zM24 8h1v1h-1zM4 13h1v1h-1zM8 20h1v1h-1zM31 16h1v1h-1zM23 6h1v1h-1zM12 1h1v1h-1zM27 2h1v1h-1zM1 31h1v1h-1zM4 21h1v1h-1zM25 0h1v1h-1zM9 31h1v1h-1zM22 18h1v1h-1zM22 7h1v1h-1zM0 3h1v1h-1zM25 2h1v1h-1zM22 8h1v1h-1zM31 9h1v1h-1zM17 0h1v1h-1zM17 30h1v1h-1zM30 25h1v1h-1zM11 28h1v1h-1zM28 27h1v1h-1zM22 9h1v1h-1zM15 23h1v1h-1zM28 17h1v1h-1zM25 29h1v1h-1zM9 14h1v1h-1zM17 25h1v1h-1zM11 31h1v1h-1zM24 31h1v1h-1zM2 6h1v1h-1zM21 14h1v1h-1zM27 15h1v1h-1zM15 1h1v1h-1zM20 7h1v1h-1zM21 4h1v1h-1zM9 28h1v1h-1zM11 9h1v1h-1zM25 8h1v1h-1zM14 21h1v1h-1zM21 23h1v1h-1zM26 7h1v1h-1zM25 13h1v1h-1zM8 13h1v1h-1zM1 8h1v1h-1zM21 6h1v1h-1zM16 29h1v1h-1zM25 5h1v1h-1zM25 1h1v1h-1zM26 20h1v1h-1zM14 13h1v1h-1zM22 4h1v1h-1zM28 8h1v1h-1zM11 16h1v1h-1zM18 15h1v1h-1zM10 9h1v1h-1z"/></pattern><pattern id="p3" width="32" height="32" patternUnits="userSpaceOnUse"><rect width="32" height="32" fill="#00008b"/><path fill="#ffffff" d="M5 0h1v1h-1zM5 1h1v1h-1zM16 16h1v1h-1zM20 26h1v1h-1zM2 20h1v1h-1zM28 0h1v1h-1zM28 29h1v1h-1zM2 22h1v1h-1zM20 18h1v1h-1zM5 13h1v1h-1zM2 21h1v1h-1zM20 10h1v1h-1zM28 22h1v1h-1zM28 3h1v1h-1zM2 4h1v1h-1zM20 17h1v1h-1zM11 29h1v1h-1zM12 0h1v1h-1zM5 22h1v1h-1zM2 10h1v1h-1zM9 3h1v1h-1zM2 13h1v1h-1zM5 23h1v1h-1zM2 19h1v1h-1zM26 14h1v1h-1zM2 5h1v1h-1zM26 15h1v1h-1zM29 29h1v1h-1zM11 13h1v1h-1zM26 21h1v1h-1zM12 4h1v1h-1zM2 24h1v1h-1zM5 26h1v1h-1zM26 3h1v1h-1zM21 10h1v1h-1zM5 15h1v1h-1zM20 6h1v1h-1zM16 6h1v1h-1zM2 3h1v1h-1zM20 0h1v1h-1zM12 3h1v1h-1zM4 29h1v1h-1zM20 29h1v1h-1zM5 29h1v1h-1zM0 13h1v1h-1zM28 24h1v1h-1zM12 10h1v1h-1zM28 23h1v1h-1zM12 30h1v1h-1zM2 23h1v1h-1zM9 8h1v1h-1zM2 8h1v1h-1zM30 29h1v1h-1zM28 6h1v1h-1zM20 9h1v1h-1zM12 29h1v1h-1zM2 18h1v1h-1zM31 13h1v1h-1zM28 4h1v1h-1zM2 9h1v1h-1zM11 6h1v1h-1zM31 22h1v1h-1zM25 26h1v1h-1zM20 11h1v1h-1zM4 0h1v1h-1zM8 0h1v1h-1zM11 0h1v1h-1zM28 26h1v1h-1zM16 13h1v1h-1zM20 15h1v1h-1zM11 26h1v1h-1zM26 10h1v1h-1zM26 22h1v1h-1zM20 8h1v1h-1zM21 29h1v1h-1zM28 13h1v1h-1zM12 1h1v1h-1zM12 13h1v1h-1zM11 27h1v1h-1zM20 16h1v1h-1zM29 13h1v1h-1zM11 30h1v1h-1zM16 3h1v1h-1zM9 29h1v1h-1zM21 0h1v1h-1zM26 13h1v1h-1zM29 30h1v1h-1zM31 20h1v1h-1zM17 29h1v1h-1zM2 15h1v1h-1zM6 0h1v1h-1zM8 3h1v1h-1zM15 3h1v1h-1zM31 19h1v1h-1zM23 13h1v1h-1zM15 6h1v1h-1zM2 6h1v1h-1zM2 16h1v1h-1zM17 3h1v1h-1zM5 2h1v1h-1zM25 10h1v1h-1zM16 29h1v1h-1zM20 13h1v1h-1zM11 14h1v1h-1zM8 6h1v1h-1zM28 30h1v1h-1zM12 6h1v1h-1zM4 16h1v1h-1zM20 27h1v1h-1zM11 3h1v1h-1zM17 13h1v1h-1zM21 9h1v1h-1zM21 26h1v1h-1zM11 5h1v1h-1zM23 29h1v1h-1zM30 30h1v1h-1zM26 0h1v1h-1zM2 2h1v1h-1zM5 10h1v1h-1zM14 16h1v1h-1zM20 3h1v1h-1zM16 15h1v1h-1zM12 26h1v1h-1zM13 13h1v1h-1zM2 26h1v1h-1zM27 0h1v1h-1zM12 9h1v1h-1zM26 20h1v1h-1zM4 4h1v1h-1zM4 3h1v1h-1zM25 21h1v1h-1zM4 5h1v1h-1zM28 1h1v1h-1zM26 4h1v1h-1zM5 24h1v1h-1zM22 3h1v1h-1zM12 2h1v1h-1zM9 19h1v1h-1zM12 5h1v1h-1zM16 26h1v1h-1zM7 0h1v1h-1zM4 10h1v1h-1zM28 10h1v1h-1zM16 4h1v1h-1zM30 0h1v1h-1zM11 4h1v1h-1zM20 14h1v1h-1zM5 3h1v1h-1zM25 14h1v1h-1zM25 3h1v1h-1zM5 11h1v1h-1zM26 26h1v1h-1zM25 30h1v1h-1zM9 26h1v1h-1z"/><path fill="#cccce8" d="M0 0h1v1h-1zM8 8h1v1h-1zM19 26h1v1h-1zM30 13h1v1h-1zM30 22h1v1h-1zM25 4h1v1h-1zM23 10h1v1h-1zM10 29h1v1h-1zM31 21h1v1h-1zM10 22h1v1h-1zM30 6h1v1h-1zM9 0h1v1h-1zM5 30h1v1h-1zM20 2h1v1h-1zM31 23h1v1h-1zM28 5h1v1h-1zM14 0h1v1h-1zM30 20h1v1h-1zM28 27h1v1h-1zM5 27h1v1h-1zM23 26h1v1h-1zM11 9h1v1h-1zM0 22h1v1h-1zM21 3h1v1h-1zM20 19h1v1h-1zM25 6h1v1h-1zM19 9h1v1h-1zM8 19h1v1h-1zM10 8h1v1h-1zM20 1h1v1h-1zM26 11h1v1h-1zM12 14h1v1h-1zM4 26h1v1h-1zM22 29h1v1h-1zM25 20h1v1h-1zM4 13h1v1h-1zM12 31h1v1h-1zM8 4h1v1h-1zM2 27h1v1h-1zM31 29h1v1h-1zM16 17h1v1h-1zM28 28h1v1h-1zM28 2h1v1h-1zM2 29h1v1h-1zM9 4h1v1h-1zM11 8h1v1h-1zM14 6h1v1h-1zM25 24h1v1h-1zM28 9h1v1h-1zM2 17h1v1h-1zM11 19h1v1h-1zM9 6h1v1h-1zM21 11h1v1h-1zM22 0h1v1h-1zM5 31h1v1h-1zM5 16h1v1h-1zM20 4h1v1h-1zM12 27h1v1h-1zM25 27h1v1h-1zM14 15h1v1h-1zM13 0h1v1h-1zM20 21h1v1h-1zM0 14h1v1h-1zM16 19h1v1h-1zM4 1h1v1h-1zM20 7h1v1h-1zM16 8h1v1h-1zM20 5h1v1h-1zM17 4h1v1h-1zM28 19h1v1h-1zM16 11h1v1h-1zM5 8h1v1h-1zM21 2h1v1h-1zM21 8h1v1h-1zM17 19h1v1h-1zM3 4h1v1h-1zM25 29h1v1h-1zM8 31h1v1h-1zM17 16h1v1h-1zM31 3h1v1h-1zM14 3h1v1h-1zM28 8h1v1h-1zM4 15h1v1h-1zM9 2h1v1h-1zM26 29h1v1h-1zM18 29h1v1h-1zM29 0h1v1h-1zM6 23h1v1h-1zM11 1h1v1h-1zM23 3h1v1h-1zM9 18h1v1h-1zM26 30h1v1h-1zM11 15h1v1h-1zM25 22h1v1h-1zM5 12h1v1h-1zM7 29h1v1h-1zM21 24h1v1h-1zM26 6h1v1h-1zM21 6h1v1h-1zM11 22h1v1h-1zM22 10h1v1h-1zM5 14h1v1h-1zM17 17h1v1h-1zM5 4h1v1h-1zM8 30h1v1h-1zM14 24h1v1h-1zM31 15h1v1h-1zM30 8h1v1h-1zM5 21h1v1h-1zM4 11h1v1h-1zM4 23h1v1h-1zM3 26h1v1h-1zM4 30h1v1h-1zM31 6h1v1h-1zM29 10h1v1h-1zM22 1h1v1h-1zM25 13h1v1h-1zM31 0h1v1h-1zM19 0h1v1h-1zM25 15h1v1h-1zM11 31h1v1h-1zM8 29h1v1h-1zM17 24h1v1h-1zM15 16h1v1h-1zM5 7h1v1h-1zM31 14h1v1h-1zM9 24h1v1h-1zM30 3h1v1h-1zM21 21h1v1h-1zM20 23h1v1h-1zM22 2h1v1h-1zM4 8h1v1h-1zM2 30h1v1h-1zM6 1h1v1h-1zM17 6h1v1h-1zM5 5h1v1h-1zM3 10h1v1h-1zM12 8h1v1h-1zM21 1h1v1h-1zM9 15h1v1h-1zM30 19h1v1h-1zM14 4h1v1h-1zM13 14h1v1h-1zM20 20h1v1h-1zM0 8h1v1h-1zM16 2h1v1h-1zM25 9h1v1h-1zM19 29h1v1h-1zM26 16h1v1h-1zM2 0h1v1h-1zM21 16h1v1h-1zM9 21h1v1h-1zM0 26h1v1h-1zM20 22h1v1h-1z"/><path fill="#8f8fcc" d="M12 15h1v1h-1zM4 9h1v1h-1zM27 22h1v1h-1zM20 25h1v1h-1zM16 30h1v1h-1zM19 8h1v1h-1zM28 18h1v1h-1zM14 22h1v1h-1zM9 22h1v1h-1zM11 18h1v1h-1zM17 0h1v1h-1zM26 5h1v1h-1zM29 9h1v1h-1zM11 2h1v1h-1zM24 10h1v1h-1zM10 26h1v1h-1zM15 15h1v1h-1zM0 15h1v1h-1zM31 8h1v1h-1zM11 11h1v1h-1zM21 23h1v1h-1zM12 20h1v1h-1zM9 13h1v1h-1zM5 9h1v1h-1zM25 11h1v1h-1zM23 9h1v1h-1zM16 7h1v1h-1zM14 13h1v1h-1zM14 2h1v1h-1zM21 22h1v1h-1zM14 14h1v1h-1zM9 16h1v1h-1zM11 10h1v1h-1zM12 19h1v1h-1zM9 9h1v1h-1zM19 4h1v1h-1zM9 30h1v1h-1zM29 19h1v1h-1zM4 27h1v1h-1zM21 15h1v1h-1zM10 15h1v1h-1zM2 12h1v1h-1zM1 13h1v1h-1zM11 7h1v1h-1zM3 5h1v1h-1zM26 18h1v1h-1zM4 31h1v1h-1zM12 18h1v1h-1zM22 8h1v1h-1zM0 29h1v1h-1zM15 29h1v1h-1zM10 6h1v1h-1zM11 20h1v1h-1zM30 23h1v1h-1zM14 23h1v1h-1zM16 14h1v1h-1zM12 22h1v1h-1zM5 28h1v1h-1zM9 20h1v1h-1zM19 10h1v1h-1zM19 3h1v1h-1zM2 14h1v1h-1zM16 20h1v1h-1zM19 15h1v1h-1zM14 29h1v1h-1zM5 19h1v1h-1zM23 2h1v1h-1zM4 22h1v1h-1zM28 15h1v1h-1zM28 31h1v1h-1zM31 26h1v1h-1zM25 5h1v1h-1zM13 15h1v1h-1zM15 26h1v1h-1zM2 1h1v1h-1zM21 13h1v1h-1zM28 20h1v1h-1zM9 7h1v1h-1zM30 24h1v1h-1zM8 24h1v1h-1zM26 23h1v1h-1zM3 22h1v1h-1zM19 17h1v1h-1zM2 11h1v1h-1zM2 7h1v1h-1zM14 10h1v1h-1zM20 24h1v1h-1zM25 23h1v1h-1zM16 0h1v1h-1zM3 24h1v1h-1zM30 4h1v1h-1zM10 3h1v1h-1zM26 9h1v1h-1zM17 15h1v1h-1zM30 14h1v1h-1zM11 23h1v1h-1zM9 31h1v1h-1zM8 10h1v1h-1zM15 4h1v1h-1zM18 0h1v1h-1zM12 16h1v1h-1zM18 8h1v1h-1zM10 23h1v1h-1zM28 21h1v1h-1zM13 10h1v1h-1zM10 21h1v1h-1zM8 18h1v1h-1zM21 7h1v1h-1zM11 28h1v1h-1zM9 27h1v1h-1zM26 24h1v1h-1zM8 2h1v1h-1zM0 23h1v1h-1zM7 30h1v1h-1zM9 1h1v1h-1zM13 3h1v1h-1zM6 13h1v1h-1zM3 3h1v1h-1zM19 19h1v1h-1zM10 19h1v1h-1zM27 29h1v1h-1zM19 30h1v1h-1zM30 31h1v1h-1zM10 27h1v1h-1zM10 9h1v1h-1zM29 3h1v1h-1zM26 2h1v1h-1zM25 2h1v1h-1zM7 24h1v1h-1zM16 18h1v1h-1zM30 10h1v1h-1zM9 10h1v1h-1zM4 2h1v1h-1zM30 15h1v1h-1zM14 20h1v1h-1zM3 23h1v1h-1zM24 26h1v1h-1zM19 2h1v1h-1zM29 24h1v1h-1zM22 13h1v1h-1zM20 28h1v1h-1zM7 6h1v1h-1zM14 26h1v1h-1zM28 16h1v1h-1zM29 6h1v1h-1zM11 16h1v1h-1zM21 17h1v1h-1zM22 9h1v1h-1zM3 30h1v1h-1zM12 17h1v1h-1zM14 1h1v1h-1zM31 4h1v1h-1zM6 22h1v1h-1zM17 11h1v1h-1zM29 4h1v1h-1zM17 18h1v1h-1zM6 16h1v1h-1zM31 7h1v1h-1zM25 18h1v1h-1zM18 30h1v1h-1zM3 29h1v1h-1zM13 1h1v1h-1zM22 6h1v1h-1zM16 5h1v1h-1zM6 10h1v1h-1zM19 6h1v1h-1zM15 13h1v1h-1zM30 9h1v1h-1zM30 5h1v1h-1zM3 8h1v1h-1zM14 19h1v1h-1zM7 31h1v1h-1zM6 15h1v1h-1zM16 21h1v1h-1zM23 28h1v1h-1zM16 10h1v1h-1zM23 16h1v1h-1zM4 20h1v1h-1zM17 30h1v1h-1zM10 14h1v1h-1zM7 3h1v1h-1zM26 19h1v1h-1zM23 27h1v1h-1zM15 8h1v1h-1zM6 11h1v1h-1zM29 14h1v1h-1zM29 23h1v1h-1zM0 3h1v1h-1zM25 19h1v1h-1zM17 7h1v1h-1zM21 19h1v1h-1zM5 20h1v1h-1zM31 1h1v1h-1zM14 17h1v1h-1zM19 13h1v1h-1zM19 1h1v1h-1zM27 21h1v1h-1zM20 30h1v1h-1zM17 23h1v1h-1zM21 28h1v1h-1zM22 15h1v1h-1zM17 26h1v1h-1zM17 22h1v1h-1zM7 23h1v1h-1zM26 27h1v1h-1z"/><path fill="#4c4cae" d="M29 22h1v1h-1zM0 6h1v1h-1zM4 24h1v1h-1zM29 8h1v1h-1zM1 23h1v1h-1zM5 6h1v1h-1zM10 30h1v1h-1zM22 26h1v1h-1zM28 14h1v1h-1zM14 21h1v1h-1zM15 5h1v1h-1zM9 23h1v1h-1zM4 12h1v1h-1zM19 11h1v1h-1zM9 11h1v1h-1zM21 5h1v1h-1zM27 10h1v1h-1zM6 26h1v1h-1zM15 0h1v1h-1zM21 4h1v1h-1zM4 28h1v1h-1zM3 15h1v1h-1zM3 20h1v1h-1zM8 7h1v1h-1zM8 26h1v1h-1zM3 9h1v1h-1zM29 31h1v1h-1zM18 13h1v1h-1zM10 0h1v1h-1zM23 0h1v1h-1zM21 18h1v1h-1zM7 19h1v1h-1zM7 26h1v1h-1zM15 7h1v1h-1zM2 31h1v1h-1zM18 16h1v1h-1zM16 12h1v1h-1zM19 16h1v1h-1zM29 5h1v1h-1zM28 17h1v1h-1zM6 29h1v1h-1zM21 14h1v1h-1zM10 16h1v1h-1zM31 5h1v1h-1zM0 1h1v1h-1zM0 20h1v1h-1zM9 14h1v1h-1zM26 1h1v1h-1zM13 29h1v1h-1zM17 10h1v1h-1zM29 26h1v1h-1zM25 25h1v1h-1zM7 10h1v1h-1zM25 16h1v1h-1zM2 28h1v1h-1zM3 16h1v1h-1zM26 12h1v1h-1zM7 11h1v1h-1zM4 6h1v1h-1zM3 21h1v1h-1zM31 18h1v1h-1zM21 20h1v1h-1zM16 24h1v1h-1zM9 5h1v1h-1zM28 25h1v1h-1zM0 4h1v1h-1zM15 30h1v1h-1zM25 0h1v1h-1zM18 4h1v1h-1zM23 14h1v1h-1zM24 13h1v1h-1zM30 1h1v1h-1zM31 24h1v1h-1zM1 4h1v1h-1zM17 8h1v1h-1zM26 17h1v1h-1zM14 30h1v1h-1zM18 9h1v1h-1zM13 2h1v1h-1zM17 1h1v1h-1zM10 10h1v1h-1zM8 9h1v1h-1zM17 5h1v1h-1zM17 2h1v1h-1zM4 7h1v1h-1zM7 13h1v1h-1zM13 9h1v1h-1zM7 21h1v1h-1zM27 6h1v1h-1zM8 11h1v1h-1zM21 30h1v1h-1zM31 30h1v1h-1zM31 16h1v1h-1zM10 20h1v1h-1zM29 15h1v1h-1zM7 5h1v1h-1zM1 10h1v1h-1zM4 19h1v1h-1zM8 5h1v1h-1zM6 24h1v1h-1zM23 11h1v1h-1zM16 27h1v1h-1zM30 2h1v1h-1zM20 12h1v1h-1zM11 17h1v1h-1zM31 2h1v1h-1zM6 31h1v1h-1zM12 24h1v1h-1zM18 10h1v1h-1zM12 12h1v1h-1zM26 8h1v1h-1zM14 5h1v1h-1zM7 22h1v1h-1zM23 21h1v1h-1zM25 31h1v1h-1zM12 11h1v1h-1zM19 7h1v1h-1zM12 7h1v1h-1zM30 16h1v1h-1zM15 10h1v1h-1zM23 1h1v1h-1zM19 18h1v1h-1zM30 26h1v1h-1zM16 22h1v1h-1zM16 23h1v1h-1zM12 28h1v1h-1zM15 11h1v1h-1zM0 24h1v1h-1zM14 18h1v1h-1zM15 17h1v1h-1zM19 14h1v1h-1zM12 23h1v1h-1zM18 23h1v1h-1zM3 13h1v1h-1zM4 18h1v1h-1zM1 18h1v1h-1zM8 1h1v1h-1zM22 21h1v1h-1zM23 19h1v1h-1zM24 24h1v1h-1zM19 5h1v1h-1zM22 16h1v1h-1zM23 20h1v1h-1zM17 14h1v1h-1zM7 4h1v1h-1zM0 27h1v1h-1zM11 21h1v1h-1zM10 4h1v1h-1zM25 8h1v1h-1zM13 24h1v1h-1zM15 2h1v1h-1zM29 28h1v1h-1zM6 14h1v1h-1zM10 2h1v1h-1zM1 22h1v1h-1zM11 12h1v1h-1zM8 13h1v1h-1zM13 16h1v1h-1zM27 13h1v1h-1zM8 16h1v1h-1zM0 12h1v1h-1zM19 21h1v1h-1zM10 13h1v1h-1zM24 19h1v1h-1zM23 4h1v1h-1zM1 24h1v1h-1zM1 0h1v1h-1zM13 4h1v1h-1zM5 18h1v1h-1zM6 8h1v1h-1zM0 18h1v1h-1zM3 27h1v1h-1zM15 14h1v1h-1zM27 3h1v1h-1zM3 2h1v1h-1zM10 1h1v1h-1zM12 21h1v1h-1zM28 11h1v1h-1zM25 17h1v1h-1zM18 2h1v1h-1zM11 24h1v1h-1zM24 21h1v1h-1zM21 25h1v1h-1zM1 3h1v1h-1zM26 31h1v1h-1zM3 19h1v1h-1zM27 5h1v1h-1zM23 24h1v1h-1zM10 7h1v1h-1zM18 3h1v1h-1zM10 24h1v1h-1zM5 17h1v1h-1zM18 22h1v1h-1zM4 21h1v1h-1zM0 16h1v1h-1zM29 27h1v1h-1zM22 4h1v1h-1zM13 23h1v1h-1zM31 9h1v1h-1zM29 20h1v1h-1zM19 24h1v1h-1zM30 21h1v1h-1zM23 22h1v1h-1zM1 1h1v1h-1zM2 25h1v1h-1z"/></pattern><pattern id="p4" width="32" height="32" patternUnits="userSpaceOnUse"><rect width="32" height="32" fill="#cccce8"/><path fill="#f7d6d6" d="M28 0h1v1h-1zM0 7h1v1h-1zM25 13h1v1h-1zM24 7h1v1h-1zM20 0h1v1h-1zM23 3h1v1h-1zM23 2h1v1h-1zM16 0h1v1h-1zM0 28h1v1h-1zM25 28h1v1h-1zM6 13h1v1h-1zM8 3h1v1h-1zM26 0h1v1h-1zM6 0h1v1h-1zM23 7h1v1h-1zM25 16h1v1h-1zM5 0h1v1h-1zM26 13h1v1h-1zM6 5h1v1h-1zM0 13h1v1h-1zM8 4h1v1h-1zM25 2h1v1h-1zM23 11h1v1h-1zM28 14h1v1h-1zM6 7h1v1h-1zM28 2h1v1h-1zM24 2h1v1h-1zM0 11h1v1h-1zM12 0h1v1h-1zM28 3h1v1h-1zM28 13h1v1h-1zM4 0h1v1h-1zM26 3h1v1h-1zM5 11h1v1h-1zM28 21h1v1h-1zM28 7h1v1h-1zM28 28h1v1h-1zM26 16h1v1h-1zM6 4h1v1h-1zM28 22h1v1h-1zM5 3h1v1h-1zM13 2h1v1h-1zM28 17h1v1h-1zM18 13h1v1h-1zM23 4h1v1h-1zM16 13h1v1h-1zM20 2h1v1h-1zM24 0h1v1h-1zM28 19h1v1h-1zM25 29h1v1h-1zM26 17h1v1h-1zM25 0h1v1h-1zM12 2h1v1h-1zM26 2h1v1h-1zM6 3h1v1h-1zM17 0h1v1h-1zM18 0h1v1h-1zM6 11h1v1h-1zM5 7h1v1h-1zM20 7h1v1h-1zM24 3h1v1h-1zM4 2h1v1h-1zM5 2h1v1h-1zM28 23h1v1h-1zM6 10h1v1h-1zM0 0h1v1h-1zM4 11h1v1h-1zM16 16h1v1h-1zM0 10h1v1h-1zM27 0h1v1h-1zM8 2h1v1h-1zM5 13h1v1h-1zM5 10h1v1h-1zM24 28h1v1h-1zM25 11h1v1h-1zM30 7h1v1h-1zM19 3h1v1h-1zM22 0h1v1h-1zM8 11h1v1h-1zM28 11h1v1h-1zM25 7h1v1h-1zM20 3h1v1h-1zM24 4h1v1h-1zM25 3h1v1h-1zM0 14h1v1h-1zM28 4h1v1h-1zM28 10h1v1h-1zM0 5h1v1h-1zM19 2h1v1h-1zM4 10h1v1h-1zM25 17h1v1h-1zM6 14h1v1h-1zM28 18h1v1h-1zM24 5h1v1h-1zM13 0h1v1h-1zM26 7h1v1h-1zM6 2h1v1h-1zM0 2h1v1h-1zM5 28h1v1h-1zM12 7h1v1h-1zM5 14h1v1h-1zM21 0h1v1h-1z"/><path fill="#ffffff" d="M19 0h1v1h-1zM8 17h1v1h-1zM19 7h1v1h-1zM5 17h1v1h-1zM19 13h1v1h-1zM8 28h1v1h-1zM26 14h1v1h-1zM25 14h1v1h-1zM28 25h1v1h-1zM28 31h1v1h-1zM23 0h1v1h-1zM29 0h1v1h-1zM28 9h1v1h-1zM4 13h1v1h-1zM18 7h1v1h-1zM0 29h1v1h-1zM31 28h1v1h-1zM28 5h1v1h-1zM4 3h1v1h-1zM7 28h1v1h-1zM6 28h1v1h-1zM24 6h1v1h-1zM11 7h1v1h-1zM16 31h1v1h-1zM24 10h1v1h-1zM0 23h1v1h-1zM23 13h1v1h-1zM28 8h1v1h-1zM5 4h1v1h-1zM30 14h1v1h-1zM0 17h1v1h-1zM0 8h1v1h-1zM24 29h1v1h-1zM5 5h1v1h-1zM16 7h1v1h-1zM25 4h1v1h-1zM9 7h1v1h-1zM0 21h1v1h-1zM25 5h1v1h-1zM28 27h1v1h-1zM26 11h1v1h-1zM7 14h1v1h-1zM24 11h1v1h-1zM7 13h1v1h-1zM25 27h1v1h-1zM25 20h1v1h-1zM18 11h1v1h-1zM5 31h1v1h-1zM6 17h1v1h-1zM23 10h1v1h-1zM24 13h1v1h-1zM0 22h1v1h-1zM28 16h1v1h-1zM23 5h1v1h-1zM5 20h1v1h-1zM26 4h1v1h-1zM25 19h1v1h-1zM16 4h1v1h-1zM8 5h1v1h-1zM0 3h1v1h-1zM16 11h1v1h-1zM4 14h1v1h-1zM4 17h1v1h-1zM8 0h1v1h-1zM6 31h1v1h-1zM29 10h1v1h-1zM17 7h1v1h-1zM28 20h1v1h-1zM23 28h1v1h-1zM29 17h1v1h-1zM17 4h1v1h-1zM8 13h1v1h-1zM7 3h1v1h-1zM6 21h1v1h-1zM22 3h1v1h-1zM19 11h1v1h-1zM3 11h1v1h-1zM4 7h1v1h-1zM4 16h1v1h-1zM26 19h1v1h-1zM25 18h1v1h-1zM18 3h1v1h-1zM29 7h1v1h-1zM12 3h1v1h-1zM29 3h1v1h-1zM30 21h1v1h-1zM26 12h1v1h-1zM4 4h1v1h-1zM7 5h1v1h-1zM28 12h1v1h-1zM6 16h1v1h-1zM11 0h1v1h-1zM29 14h1v1h-1zM6 20h1v1h-1zM6 19h1v1h-1zM23 6h1v1h-1zM5 16h1v1h-1zM28 24h1v1h-1zM17 31h1v1h-1zM29 11h1v1h-1zM30 13h1v1h-1zM7 0h1v1h-1zM16 22h1v1h-1zM13 21h1v1h-1zM22 2h1v1h-1zM25 21h1v1h-1zM31 13h1v1h-1zM6 23h1v1h-1zM15 0h1v1h-1zM3 13h1v1h-1zM20 13h1v1h-1zM25 23h1v1h-1zM27 13h1v1h-1zM16 12h1v1h-1zM16 3h1v1h-1zM25 10h1v1h-1zM26 10h1v1h-1zM22 7h1v1h-1zM31 14h1v1h-1zM24 1h1v1h-1zM18 2h1v1h-1zM20 4h1v1h-1zM3 10h1v1h-1zM24 19h1v1h-1zM0 4h1v1h-1zM13 7h1v1h-1zM18 12h1v1h-1zM24 27h1v1h-1zM26 28h1v1h-1zM16 17h1v1h-1zM25 22h1v1h-1zM16 2h1v1h-1zM16 23h1v1h-1zM8 10h1v1h-1zM20 11h1v1h-1zM29 21h1v1h-1zM30 28h1v1h-1zM24 16h1v1h-1zM7 4h1v1h-1zM4 18h1v1h-1zM8 16h1v1h-1zM20 19h1v1h-1zM17 13h1v1h-1zM0 6h1v1h-1zM4 28h1v1h-1zM5 19h1v1h-1zM28 29h1v1h-1zM30 3h1v1h-1zM0 30h1v1h-1zM12 21h1v1h-1zM6 12h1v1h-1zM7 17h1v1h-1zM16 21h1v1h-1zM31 7h1v1h-1zM29 8h1v1h-1zM0 31h1v1h-1zM7 10h1v1h-1zM23 16h1v1h-1zM27 2h1v1h-1zM22 11h1v1h-1zM0 27h1v1h-1zM9 3h1v1h-1zM7 11h1v1h-1zM30 0h1v1h-1zM8 7h1v1h-1zM26 29h1v1h-1zM16 28h1v1h-1zM31 0h1v1h-1zM13 3h1v1h-1zM24 21h1v1h-1zM22 10h1v1h-1zM25 30h1v1h-1zM10 0h1v1h-1zM0 16h1v1h-1zM11 21h1v1h-1zM27 3h1v1h-1zM16 5h1v1h-1zM30 8h1v1h-1zM16 15h1v1h-1zM26 21h1v1h-1zM20 21h1v1h-1zM31 21h1v1h-1zM29 4h1v1h-1zM31 2h1v1h-1zM30 17h1v1h-1zM7 16h1v1h-1zM24 17h1v1h-1zM12 13h1v1h-1zM17 3h1v1h-1zM29 2h1v1h-1zM9 11h1v1h-1zM20 29h1v1h-1zM6 6h1v1h-1zM13 28h1v1h-1zM2 13h1v1h-1zM17 17h1v1h-1zM20 5h1v1h-1zM9 10h1v1h-1zM19 4h1v1h-1zM13 29h1v1h-1zM25 12h1v1h-1zM17 11h1v1h-1zM26 5h1v1h-1zM16 14h1v1h-1zM4 15h1v1h-1z"/><path fill="#8f8fcc" d="M14 21h1v1h-1zM13 25h1v1h-1zM3 7h1v1h-1zM10 16h1v1h-1zM19 20h1v1h-1zM16 9h1v1h-1zM16 19h1v1h-1zM18 21h1v1h-1zM23 22h1v1h-1zM31 11h1v1h-1zM17 19h1v1h-1zM31 5h1v1h-1zM12 29h1v1h-1zM12 11h1v1h-1zM20 15h1v1h-1zM16 8h1v1h-1zM6 1h1v1h-1zM6 24h1v1h-1zM23 17h1v1h-1zM22 16h1v1h-1zM31 4h1v1h-1zM4 23h1v1h-1zM27 10h1v1h-1zM10 14h1v1h-1zM21 5h1v1h-1zM17 29h1v1h-1zM31 31h1v1h-1zM8 23h1v1h-1zM6 27h1v1h-1zM1 2h1v1h-1zM31 22h1v1h-1zM17 18h1v1h-1zM26 9h1v1h-1zM27 31h1v1h-1zM16 20h1v1h-1zM11 5h1v1h-1zM14 29h1v1h-1zM13 19h1v1h-1zM21 4h1v1h-1zM22 25h1v1h-1zM11 13h1v1h-1zM29 12h1v1h-1zM14 28h1v1h-1zM3 29h1v1h-1zM31 15h1v1h-1zM13 11h1v1h-1zM5 27h1v1h-1zM17 15h1v1h-1zM8 22h1v1h-1zM31 8h1v1h-1zM23 24h1v1h-1zM11 14h1v1h-1zM13 26h1v1h-1zM2 0h1v1h-1zM13 16h1v1h-1zM20 23h1v1h-1zM13 5h1v1h-1zM17 12h1v1h-1zM9 20h1v1h-1zM2 7h1v1h-1zM13 27h1v1h-1zM0 19h1v1h-1zM17 14h1v1h-1zM11 17h1v1h-1zM24 15h1v1h-1zM18 29h1v1h-1zM21 19h1v1h-1zM23 12h1v1h-1zM17 10h1v1h-1zM7 21h1v1h-1zM19 19h1v1h-1zM17 21h1v1h-1zM21 14h1v1h-1zM3 21h1v1h-1zM19 6h1v1h-1zM23 8h1v1h-1zM17 8h1v1h-1zM19 18h1v1h-1zM29 29h1v1h-1zM10 20h1v1h-1zM8 12h1v1h-1zM27 18h1v1h-1zM2 14h1v1h-1zM10 5h1v1h-1zM19 15h1v1h-1zM13 15h1v1h-1zM8 25h1v1h-1zM5 30h1v1h-1zM25 24h1v1h-1zM21 18h1v1h-1zM15 10h1v1h-1zM8 15h1v1h-1zM27 19h1v1h-1zM12 16h1v1h-1zM30 27h1v1h-1zM2 2h1v1h-1zM14 11h1v1h-1zM24 9h1v1h-1zM27 12h1v1h-1zM23 26h1v1h-1zM19 8h1v1h-1zM18 6h1v1h-1zM4 12h1v1h-1zM22 20h1v1h-1zM9 22h1v1h-1zM9 29h1v1h-1zM11 16h1v1h-1zM19 17h1v1h-1zM18 27h1v1h-1zM3 20h1v1h-1zM27 16h1v1h-1zM22 6h1v1h-1zM29 27h1v1h-1zM11 15h1v1h-1zM19 23h1v1h-1zM22 29h1v1h-1zM14 10h1v1h-1zM22 23h1v1h-1zM7 23h1v1h-1zM10 17h1v1h-1zM0 1h1v1h-1zM15 4h1v1h-1zM24 25h1v1h-1zM3 23h1v1h-1zM12 17h1v1h-1zM27 22h1v1h-1zM25 9h1v1h-1zM22 24h1v1h-1zM9 8h1v1h-1zM8 8h1v1h-1zM19 31h1v1h-1zM3 9h1v1h-1zM4 22h1v1h-1zM16 30h1v1h-1zM21 20h1v1h-1zM11 8h1v1h-1zM27 15h1v1h-1zM27 21h1v1h-1zM30 18h1v1h-1zM7 8h1v1h-1zM31 20h1v1h-1zM18 8h1v1h-1zM29 25h1v1h-1zM13 12h1v1h-1zM27 25h1v1h-1zM12 27h1v1h-1zM28 30h1v1h-1zM22 21h1v1h-1zM15 11h1v1h-1zM24 26h1v1h-1zM5 24h1v1h-1zM21 10h1v1h-1zM13 23h1v1h-1zM7 18h1v1h-1zM21 28h1v1h-1zM27 27h1v1h-1zM1 29h1v1h-1zM21 24h1v1h-1zM7 29h1v1h-1zM15 21h1v1h-1zM19 16h1v1h-1zM12 15h1v1h-1zM27 29h1v1h-1zM13 20h1v1h-1zM14 12h1v1h-1zM27 23h1v1h-1zM21 17h1v1h-1zM1 8h1v1h-1zM15 8h1v1h-1zM12 6h1v1h-1zM14 3h1v1h-1zM30 23h1v1h-1zM8 31h1v1h-1zM9 15h1v1h-1zM10 15h1v1h-1zM9 19h1v1h-1zM7 27h1v1h-1zM12 18h1v1h-1zM30 6h1v1h-1zM4 6h1v1h-1zM22 15h1v1h-1zM15 28h1v1h-1zM16 6h1v1h-1zM19 10h1v1h-1zM4 27h1v1h-1zM26 25h1v1h-1zM31 12h1v1h-1zM23 9h1v1h-1zM25 25h1v1h-1zM3 17h1v1h-1zM27 1h1v1h-1zM22 5h1v1h-1zM1 14h1v1h-1zM3 18h1v1h-1zM26 24h1v1h-1zM7 31h1v1h-1zM16 24h1v1h-1zM11 29h1v1h-1zM4 24h1v1h-1zM15 2h1v1h-1zM2 9h1v1h-1zM7 6h1v1h-1zM3 12h1v1h-1zM31 30h1v1h-1zM14 8h1v1h-1z"/><path fill="#4c4cae" d="M6 26h1v1h-1zM31 27h1v1h-1zM1 21h1v1h-1zM24 24h1v1h-1zM14 16h1v1h-1zM27 6h1v1h-1zM27 9h1v1h-1zM3 8h1v1h-1zM12 20h1v1h-1zM30 31h1v1h-1zM16 25h1v1h-1zM18 1h1v1h-1zM22 8h1v1h-1zM12 23h1v1h-1zM7 9h1v1h-1zM15 12h1v1h-1zM20 24h1v1h-1zM1 31h1v1h-1zM31 6h1v1h-1zM21 29h1v1h-1zM22 27h1v1h-1zM13 31h1v1h-1zM10 6h1v1h-1zM9 23h1v1h-1zM20 27h1v1h-1zM13 6h1v1h-1zM14 23h1v1h-1zM17 27h1v1h-1zM4 26h1v1h-1zM11 31h1v1h-1zM14 25h1v1h-1zM21 21h1v1h-1zM13 24h1v1h-1zM2 29h1v1h-1zM31 23h1v1h-1zM2 20h1v1h-1zM11 1h1v1h-1zM17 20h1v1h-1zM30 12h1v1h-1zM16 27h1v1h-1zM23 30h1v1h-1zM2 21h1v1h-1zM8 1h1v1h-1zM29 6h1v1h-1zM7 24h1v1h-1zM0 26h1v1h-1zM21 16h1v1h-1zM27 8h1v1h-1zM3 16h1v1h-1zM14 5h1v1h-1zM11 19h1v1h-1zM4 30h1v1h-1zM3 25h1v1h-1zM2 3h1v1h-1zM21 6h1v1h-1zM20 30h1v1h-1zM20 9h1v1h-1zM2 8h1v1h-1zM15 29h1v1h-1zM17 9h1v1h-1zM31 1h1v1h-1zM3 15h1v1h-1zM14 15h1v1h-1zM11 23h1v1h-1zM25 26h1v1h-1zM3 22h1v1h-1zM22 22h1v1h-1zM14 18h1v1h-1zM1 17h1v1h-1zM11 6h1v1h-1zM14 4h1v1h-1zM19 24h1v1h-1zM29 1h1v1h-1zM8 24h1v1h-1zM17 1h1v1h-1zM12 12h1v1h-1zM1 12h1v1h-1zM19 27h1v1h-1zM6 30h1v1h-1zM3 24h1v1h-1zM15 1h1v1h-1zM15 5h1v1h-1zM15 16h1v1h-1zM14 22h1v1h-1zM20 25h1v1h-1zM21 23h1v1h-1zM8 9h1v1h-1zM14 31h1v1h-1zM12 9h1v1h-1zM15 14h1v1h-1zM27 20h1v1h-1zM1 3h1v1h-1zM10 19h1v1h-1zM18 20h1v1h-1zM12 31h1v1h-1zM3 19h1v1h-1zM17 30h1v1h-1zM7 25h1v1h-1zM18 24h1v1h-1zM10 18h1v1h-1zM9 31h1v1h-1zM11 25h1v1h-1z"/><path fill="#00008b" d="M13 9h1v1h-1zM21 8h1v1h-1zM29 26h1v1h-1zM29 24h1v1h-1zM12 19h1v1h-1zM1 5h1v1h-1zM10 25h1v1h-1zM22 12h1v1h-1zM11 18h1v1h-1zM21 25h1v1h-1zM27 24h1v1h-1zM15 31h1v1h-1zM15 3h1v1h-1zM10 23h1v1h-1zM31 19h1v1h-1zM18 9h1v1h-1zM1 16h1v1h-1zM15 17h1v1h-1zM2 12h1v1h-1zM10 8h1v1h-1zM14 1h1v1h-1zM7 1h1v1h-1zM14 20h1v1h-1zM9 27h1v1h-1zM17 24h1v1h-1zM15 9h1v1h-1zM10 31h1v1h-1zM14 17h1v1h-1zM12 24h1v1h-1zM9 25h1v1h-1zM14 19h1v1h-1zM15 6h1v1h-1zM11 20h1v1h-1zM22 26h1v1h-1zM8 26h1v1h-1zM10 29h1v1h-1zM21 15h1v1h-1zM31 18h1v1h-1zM22 1h1v1h-1zM3 1h1v1h-1zM13 30h1v1h-1zM8 30h1v1h-1zM22 30h1v1h-1zM15 15h1v1h-1zM11 28h1v1h-1zM2 4h1v1h-1zM3 31h1v1h-1zM15 22h1v1h-1zM30 1h1v1h-1zM1 30h1v1h-1zM3 6h1v1h-1zM14 24h1v1h-1zM10 28h1v1h-1zM30 25h1v1h-1zM31 24h1v1h-1zM21 22h1v1h-1zM21 1h1v1h-1zM15 27h1v1h-1zM14 26h1v1h-1zM14 9h1v1h-1zM2 31h1v1h-1zM30 26h1v1h-1zM1 9h1v1h-1zM9 18h1v1h-1zM19 9h1v1h-1zM9 12h1v1h-1zM2 16h1v1h-1zM2 5h1v1h-1zM14 27h1v1h-1zM21 12h1v1h-1zM21 30h1v1h-1zM1 18h1v1h-1zM2 18h1v1h-1zM1 27h1v1h-1zM18 30h1v1h-1zM2 17h1v1h-1zM1 6h1v1h-1zM1 20h1v1h-1zM10 30h1v1h-1zM1 22h1v1h-1zM7 26h1v1h-1zM3 27h1v1h-1zM9 24h1v1h-1zM3 30h1v1h-1zM11 9h1v1h-1zM18 25h1v1h-1zM30 30h1v1h-1zM2 27h1v1h-1zM14 30h1v1h-1zM22 9h1v1h-1zM31 9h1v1h-1zM2 25h1v1h-1zM14 6h1v1h-1zM15 19h1v1h-1zM1 4h1v1h-1zM9 30h1v1h-1zM9 1h1v1h-1zM11 30h1v1h-1zM1 15h1v1h-1zM10 1h1v1h-1zM1 23h1v1h-1zM27 30h1v1h-1zM2 22h1v1h-1zM30 24h1v1h-1zM15 20h1v1h-1zM2 30h1v1h-1zM29 30h1v1h-1zM15 23h1v1h-1zM2 19h1v1h-1zM21 9h1v1h-1zM12 30h1v1h-1zM10 27h1v1h-1zM9 9h1v1h-1zM10 24h1v1h-1zM15 18h1v1h-1zM19 30h1v1h-1zM26 26h1v1h-1zM2 23h1v1h-1zM17 25h1v1h-1zM21 26h1v1h-1zM21 27h1v1h-1zM11 26h1v1h-1zM2 15h1v1h-1zM9 26h1v1h-1zM10 26h1v1h-1zM7 30h1v1h-1zM1 19h1v1h-1zM11 12h1v1h-1zM20 26h1v1h-1zM2 6h1v1h-1zM3 26h1v1h-1zM11 27h1v1h-1zM15 30h1v1h-1zM19 25h1v1h-1zM16 26h1v1h-1zM1 24h1v1h-1zM27 26h1v1h-1zM11 24h1v1h-1zM1 1h1v1h-1zM18 26h1v1h-1zM31 25h1v1h-1zM19 26h1v1h-1zM2 24h1v1h-1zM31 26h1v1h-1zM10 12h1v1h-1zM2 1h1v1h-1zM10 9h1v1h-1zM15 25h1v1h-1zM1 26h1v1h-1zM1 25h1v1h-1zM15 24h1v1h-1zM17 26h1v1h-1zM2 26h1v1h-1zM15 26h1v1h-1z"/></pattern><pattern id="p5" width="32" height="32" patternUnits="userSpaceOnUse"><rect width="32" height="32" fill="#ffffff"/><path fill="#cc0000" d="M7 4h1v1h-1zM1 0h1v1h-1zM1 4h1v1h-1zM0 13h1v1h-1zM1 6h1v1h-1zM27 0h1v1h-1zM28 0h1v1h-1zM1 22h1v1h-1zM4 22h1v1h-1zM12 4h1v1h-1zM0 2h1v1h-1zM1 2h1v1h-1zM19 13h1v1h-1zM24 2h1v1h-1zM2 0h1v1h-1zM12 0h1v1h-1zM15 4h1v1h-1zM17 13h1v1h-1zM27 2h1v1h-1zM19 17h1v1h-1zM22 4h1v1h-1zM17 2h1v1h-1zM29 0h1v1h-1zM1 8h1v1h-1zM19 4h1v1h-1zM12 8h1v1h-1zM23 2h1v1h-1zM15 2h1v1h-1zM0 4h1v1h-1zM19 2h1v1h-1zM22 5h1v1h-1zM9 4h1v1h-1zM1 5h1v1h-1zM5 4h1v1h-1zM11 0h1v1h-1zM1 10h1v1h-1zM23 4h1v1h-1zM5 22h1v1h-1zM30 2h1v1h-1zM12 2h1v1h-1zM17 0h1v1h-1zM12 10h1v1h-1zM1 26h1v1h-1zM4 10h1v1h-1zM0 0h1v1h-1zM30 0h1v1h-1zM4 2h1v1h-1zM25 2h1v1h-1zM15 0h1v1h-1zM22 13h1v1h-1zM1 13h1v1h-1zM11 29h1v1h-1zM4 5h1v1h-1zM15 13h1v1h-1zM12 24h1v1h-1zM19 8h1v1h-1zM27 22h1v1h-1zM4 4h1v1h-1zM22 14h1v1h-1zM5 26h1v1h-1zM11 24h1v1h-1zM19 26h1v1h-1zM0 22h1v1h-1zM27 4h1v1h-1zM24 4h1v1h-1zM4 0h1v1h-1zM11 4h1v1h-1zM17 4h1v1h-1zM14 0h1v1h-1zM19 9h1v1h-1zM19 5h1v1h-1zM1 30h1v1h-1zM2 4h1v1h-1zM12 5h1v1h-1zM14 2h1v1h-1zM11 22h1v1h-1zM7 2h1v1h-1zM4 6h1v1h-1zM25 0h1v1h-1zM11 2h1v1h-1zM18 13h1v1h-1zM19 24h1v1h-1z"/><path fill="#eb9999" d="M0 17h1v1h-1zM7 13h1v1h-1zM28 22h1v1h-1zM19 29h1v1h-1zM0 8h1v1h-1zM2 22h1v1h-1zM4 8h1v1h-1zM6 4h1v1h-1zM19 25h1v1h-1zM16 2h1v1h-1zM1 29h1v1h-1zM20 17h1v1h-1zM12 29h1v1h-1zM19 10h1v1h-1zM17 25h1v1h-1zM1 1h1v1h-1zM11 9h1v1h-1zM30 4h1v1h-1zM17 17h1v1h-1zM17 24h1v1h-1zM10 4h1v1h-1zM21 22h1v1h-1zM12 9h1v1h-1zM18 2h1v1h-1zM4 29h1v1h-1zM7 5h1v1h-1zM30 29h1v1h-1zM17 6h1v1h-1zM12 22h1v1h-1zM17 29h1v1h-1zM22 2h1v1h-1zM9 24h1v1h-1zM1 17h1v1h-1zM1 16h1v1h-1zM9 0h1v1h-1zM4 24h1v1h-1zM2 2h1v1h-1zM29 22h1v1h-1zM18 24h1v1h-1zM19 0h1v1h-1zM22 22h1v1h-1zM16 0h1v1h-1zM8 4h1v1h-1zM29 2h1v1h-1zM14 26h1v1h-1zM9 5h1v1h-1zM17 28h1v1h-1zM26 2h1v1h-1zM4 26h1v1h-1zM31 2h1v1h-1zM1 12h1v1h-1zM12 25h1v1h-1zM15 22h1v1h-1zM7 6h1v1h-1zM23 22h1v1h-1zM27 8h1v1h-1zM25 22h1v1h-1zM12 1h1v1h-1zM21 4h1v1h-1zM11 25h1v1h-1zM23 17h1v1h-1zM11 13h1v1h-1zM24 8h1v1h-1zM1 28h1v1h-1zM27 29h1v1h-1zM22 8h1v1h-1zM7 22h1v1h-1zM27 3h1v1h-1zM14 22h1v1h-1zM7 17h1v1h-1zM17 5h1v1h-1zM24 17h1v1h-1zM15 17h1v1h-1zM17 8h1v1h-1zM0 26h1v1h-1zM1 3h1v1h-1zM19 22h1v1h-1zM28 10h1v1h-1zM1 19h1v1h-1zM2 29h1v1h-1zM4 9h1v1h-1zM18 4h1v1h-1zM16 4h1v1h-1zM22 0h1v1h-1zM0 9h1v1h-1zM27 10h1v1h-1zM0 12h1v1h-1zM21 0h1v1h-1zM1 24h1v1h-1zM15 5h1v1h-1zM25 4h1v1h-1zM27 14h1v1h-1zM7 3h1v1h-1zM15 25h1v1h-1zM22 15h1v1h-1zM29 4h1v1h-1zM23 8h1v1h-1zM22 10h1v1h-1zM18 26h1v1h-1zM17 22h1v1h-1zM30 8h1v1h-1zM12 16h1v1h-1zM3 22h1v1h-1zM23 3h1v1h-1zM9 6h1v1h-1zM19 6h1v1h-1zM15 1h1v1h-1zM14 4h1v1h-1zM3 8h1v1h-1zM4 14h1v1h-1zM12 26h1v1h-1zM11 1h1v1h-1zM26 4h1v1h-1zM11 5h1v1h-1zM28 2h1v1h-1zM11 8h1v1h-1zM23 5h1v1h-1zM24 10h1v1h-1zM1 23h1v1h-1zM10 24h1v1h-1zM5 25h1v1h-1zM9 2h1v1h-1zM13 4h1v1h-1z"/><path fill="#f7d6d6" d="M7 0h1v1h-1zM17 30h1v1h-1zM19 30h1v1h-1zM17 1h1v1h-1zM25 5h1v1h-1zM0 10h1v1h-1zM24 5h1v1h-1zM12 3h1v1h-1zM0 29h1v1h-1zM19 15h1v1h-1zM15 29h1v1h-1zM31 17h1v1h-1zM4 28h1v1h-1zM19 3h1v1h-1zM19 16h1v1h-1zM27 30h1v1h-1zM20 22h1v1h-1zM12 17h1v1h-1zM21 17h1v1h-1zM1 9h1v1h-1zM2 6h1v1h-1zM5 24h1v1h-1zM15 8h1v1h-1zM4 13h1v1h-1zM11 26h1v1h-1zM3 10h1v1h-1zM22 29h1v1h-1zM31 8h1v1h-1zM19 28h1v1h-1zM30 22h1v1h-1zM2 1h1v1h-1zM20 5h1v1h-1zM15 6h1v1h-1zM1 15h1v1h-1zM7 14h1v1h-1zM26 22h1v1h-1zM16 13h1v1h-1zM4 23h1v1h-1zM4 3h1v1h-1zM17 9h1v1h-1zM5 0h1v1h-1zM0 3h1v1h-1zM28 4h1v1h-1zM0 1h1v1h-1zM9 22h1v1h-1zM4 30h1v1h-1zM4 25h1v1h-1zM0 15h1v1h-1zM14 29h1v1h-1zM1 25h1v1h-1zM12 13h1v1h-1zM7 24h1v1h-1zM31 0h1v1h-1zM19 1h1v1h-1zM21 2h1v1h-1zM22 26h1v1h-1zM23 10h1v1h-1zM15 14h1v1h-1zM0 28h1v1h-1zM12 6h1v1h-1zM23 26h1v1h-1zM25 17h1v1h-1zM22 17h1v1h-1zM22 24h1v1h-1zM2 13h1v1h-1zM6 5h1v1h-1zM1 20h1v1h-1zM15 19h1v1h-1zM7 29h1v1h-1zM9 17h1v1h-1zM2 15h1v1h-1zM5 29h1v1h-1zM0 5h1v1h-1zM18 25h1v1h-1zM19 14h1v1h-1zM27 19h1v1h-1zM26 29h1v1h-1zM17 10h1v1h-1zM2 5h1v1h-1zM4 20h1v1h-1zM7 8h1v1h-1zM9 13h1v1h-1zM0 6h1v1h-1zM27 5h1v1h-1zM23 13h1v1h-1zM5 30h1v1h-1zM5 13h1v1h-1zM20 4h1v1h-1zM15 18h1v1h-1zM31 4h1v1h-1zM5 5h1v1h-1zM0 14h1v1h-1zM30 20h1v1h-1zM29 20h1v1h-1zM12 30h1v1h-1zM19 12h1v1h-1zM26 0h1v1h-1zM15 26h1v1h-1zM4 15h1v1h-1zM12 12h1v1h-1zM27 15h1v1h-1zM15 24h1v1h-1zM25 16h1v1h-1zM2 8h1v1h-1zM20 2h1v1h-1zM0 20h1v1h-1zM25 10h1v1h-1zM17 12h1v1h-1zM5 20h1v1h-1zM7 16h1v1h-1zM5 2h1v1h-1zM17 26h1v1h-1zM23 0h1v1h-1zM0 30h1v1h-1zM11 10h1v1h-1zM27 16h1v1h-1zM6 22h1v1h-1zM30 1h1v1h-1zM26 13h1v1h-1zM21 29h1v1h-1zM24 0h1v1h-1zM13 2h1v1h-1zM30 6h1v1h-1zM11 30h1v1h-1zM25 30h1v1h-1zM10 26h1v1h-1zM5 6h1v1h-1zM3 6h1v1h-1zM25 3h1v1h-1zM0 19h1v1h-1zM23 29h1v1h-1zM25 28h1v1h-1zM1 18h1v1h-1zM31 13h1v1h-1zM6 30h1v1h-1zM7 30h1v1h-1zM30 30h1v1h-1zM24 3h1v1h-1zM2 26h1v1h-1zM19 18h1v1h-1zM24 22h1v1h-1zM17 23h1v1h-1zM14 1h1v1h-1zM20 0h1v1h-1zM21 13h1v1h-1zM6 14h1v1h-1zM6 0h1v1h-1zM2 10h1v1h-1zM28 24h1v1h-1zM9 3h1v1h-1zM23 1h1v1h-1zM19 19h1v1h-1zM11 12h1v1h-1zM24 13h1v1h-1zM5 17h1v1h-1zM24 6h1v1h-1zM25 29h1v1h-1zM19 20h1v1h-1zM5 8h1v1h-1zM14 5h1v1h-1zM27 13h1v1h-1zM22 30h1v1h-1zM22 3h1v1h-1zM0 18h1v1h-1zM15 10h1v1h-1zM29 10h1v1h-1zM29 29h1v1h-1zM27 9h1v1h-1zM21 5h1v1h-1zM27 1h1v1h-1zM28 8h1v1h-1zM19 11h1v1h-1zM24 1h1v1h-1zM25 8h1v1h-1zM3 4h1v1h-1zM2 16h1v1h-1zM7 25h1v1h-1zM29 1h1v1h-1zM17 15h1v1h-1zM15 20h1v1h-1zM3 29h1v1h-1zM27 23h1v1h-1zM17 3h1v1h-1zM15 30h1v1h-1zM14 10h1v1h-1zM19 7h1v1h-1zM4 17h1v1h-1zM20 26h1v1h-1zM30 17h1v1h-1zM13 0h1v1h-1zM9 25h1v1h-1zM2 9h1v1h-1zM15 15h1v1h-1zM9 10h1v1h-1zM14 8h1v1h-1zM5 10h1v1h-1zM22 6h1v1h-1zM12 15h1v1h-1zM10 22h1v1h-1zM26 3h1v1h-1zM11 20h1v1h-1zM1 14h1v1h-1zM12 23h1v1h-1zM2 30h1v1h-1zM1 27h1v1h-1z"/><path fill="#cccce8" d="M13 9h1v1h-1zM14 19h1v1h-1zM14 9h1v1h-1zM28 14h1v1h-1zM6 15h1v1h-1zM31 6h1v1h-1zM23 25h1v1h-1zM17 31h1v1h-1zM29 19h1v1h-1zM15 21h1v1h-1zM9 15h1v1h-1zM20 6h1v1h-1zM29 28h1v1h-1zM2 14h1v1h-1zM29 23h1v1h-1zM29 30h1v1h-1zM30 14h1v1h-1zM26 6h1v1h-1zM6 2h1v1h-1zM26 15h1v1h-1zM8 13h1v1h-1zM5 16h1v1h-1zM16 18h1v1h-1zM9 21h1v1h-1zM14 27h1v1h-1zM2 25h1v1h-1zM8 17h1v1h-1zM5 9h1v1h-1zM10 1h1v1h-1zM5 31h1v1h-1zM31 20h1v1h-1zM25 21h1v1h-1zM10 28h1v1h-1zM7 19h1v1h-1zM21 31h1v1h-1zM20 29h1v1h-1zM26 16h1v1h-1zM23 23h1v1h-1zM25 14h1v1h-1zM20 9h1v1h-1zM18 20h1v1h-1zM22 11h1v1h-1zM20 19h1v1h-1zM22 23h1v1h-1zM8 5h1v1h-1zM10 30h1v1h-1zM0 7h1v1h-1zM7 27h1v1h-1zM23 28h1v1h-1zM31 12h1v1h-1zM2 21h1v1h-1zM14 12h1v1h-1zM22 7h1v1h-1zM29 17h1v1h-1zM31 9h1v1h-1zM26 19h1v1h-1zM29 26h1v1h-1zM21 19h1v1h-1zM28 15h1v1h-1zM18 6h1v1h-1zM26 12h1v1h-1zM16 12h1v1h-1zM2 19h1v1h-1zM22 1h1v1h-1zM13 25h1v1h-1zM2 12h1v1h-1zM7 10h1v1h-1zM16 6h1v1h-1zM12 19h1v1h-1zM12 11h1v1h-1zM21 28h1v1h-1zM21 15h1v1h-1zM21 1h1v1h-1zM8 6h1v1h-1zM24 30h1v1h-1zM21 18h1v1h-1zM2 7h1v1h-1zM2 27h1v1h-1zM29 9h1v1h-1zM30 12h1v1h-1zM8 0h1v1h-1zM13 24h1v1h-1zM12 7h1v1h-1zM7 21h1v1h-1zM16 25h1v1h-1zM14 23h1v1h-1zM29 14h1v1h-1zM16 16h1v1h-1zM9 30h1v1h-1zM24 15h1v1h-1zM24 7h1v1h-1zM14 18h1v1h-1zM30 7h1v1h-1zM13 15h1v1h-1zM13 16h1v1h-1zM22 21h1v1h-1zM20 3h1v1h-1zM21 6h1v1h-1zM7 1h1v1h-1zM21 16h1v1h-1zM30 16h1v1h-1zM1 31h1v1h-1zM25 18h1v1h-1zM15 27h1v1h-1zM26 1h1v1h-1zM13 1h1v1h-1zM30 24h1v1h-1zM21 20h1v1h-1zM28 30h1v1h-1zM14 6h1v1h-1zM16 15h1v1h-1zM16 3h1v1h-1zM19 31h1v1h-1zM24 12h1v1h-1zM12 20h1v1h-1zM18 1h1v1h-1zM29 13h1v1h-1zM6 3h1v1h-1zM15 31h1v1h-1zM26 17h1v1h-1zM31 21h1v1h-1zM6 28h1v1h-1zM24 23h1v1h-1zM27 7h1v1h-1zM18 21h1v1h-1zM28 21h1v1h-1zM6 21h1v1h-1zM8 22h1v1h-1zM9 11h1v1h-1zM29 12h1v1h-1zM3 20h1v1h-1zM16 9h1v1h-1zM24 28h1v1h-1zM24 20h1v1h-1zM9 28h1v1h-1zM29 11h1v1h-1zM28 28h1v1h-1zM10 19h1v1h-1zM6 19h1v1h-1zM19 21h1v1h-1zM26 20h1v1h-1zM4 18h1v1h-1zM27 27h1v1h-1zM14 3h1v1h-1zM29 21h1v1h-1zM16 23h1v1h-1zM3 24h1v1h-1zM26 18h1v1h-1zM21 25h1v1h-1zM20 11h1v1h-1zM28 11h1v1h-1zM30 23h1v1h-1zM5 12h1v1h-1zM28 13h1v1h-1zM20 23h1v1h-1zM10 3h1v1h-1zM6 12h1v1h-1zM25 24h1v1h-1zM25 9h1v1h-1zM8 24h1v1h-1zM6 23h1v1h-1zM3 3h1v1h-1zM3 16h1v1h-1zM4 11h1v1h-1zM15 11h1v1h-1zM13 23h1v1h-1zM9 27h1v1h-1zM28 7h1v1h-1zM10 23h1v1h-1zM31 1h1v1h-1zM18 23h1v1h-1zM24 21h1v1h-1zM7 11h1v1h-1zM26 14h1v1h-1zM5 27h1v1h-1zM8 8h1v1h-1zM25 7h1v1h-1zM27 31h1v1h-1zM20 1h1v1h-1zM22 12h1v1h-1zM13 6h1v1h-1zM29 18h1v1h-1zM16 26h1v1h-1zM28 17h1v1h-1zM3 30h1v1h-1zM24 11h1v1h-1zM17 19h1v1h-1zM13 13h1v1h-1zM6 18h1v1h-1zM5 7h1v1h-1zM24 24h1v1h-1zM22 31h1v1h-1zM7 9h1v1h-1zM20 25h1v1h-1zM23 21h1v1h-1zM21 23h1v1h-1zM26 9h1v1h-1zM28 16h1v1h-1zM28 18h1v1h-1zM20 28h1v1h-1zM13 3h1v1h-1zM3 23h1v1h-1zM4 31h1v1h-1zM25 27h1v1h-1zM23 12h1v1h-1z"/><path fill="#8f8fcc" d="M28 12h1v1h-1zM26 25h1v1h-1zM26 27h1v1h-1zM20 7h1v1h-1zM29 7h1v1h-1zM12 18h1v1h-1zM11 7h1v1h-1zM9 7h1v1h-1zM3 21h1v1h-1zM31 18h1v1h-1zM13 28h1v1h-1zM8 12h1v1h-1zM3 1h1v1h-1zM6 7h1v1h-1zM31 24h1v1h-1zM30 27h1v1h-1zM10 14h1v1h-1zM27 11h1v1h-1zM18 11h1v1h-1zM5 1h1v1h-1zM5 18h1v1h-1zM30 19h1v1h-1zM15 7h1v1h-1zM24 14h1v1h-1zM18 27h1v1h-1zM30 31h1v1h-1zM30 18h1v1h-1zM6 31h1v1h-1zM13 30h1v1h-1zM2 31h1v1h-1zM7 31h1v1h-1zM20 20h1v1h-1zM11 11h1v1h-1zM24 27h1v1h-1zM10 12h1v1h-1zM31 25h1v1h-1zM3 17h1v1h-1zM20 14h1v1h-1zM16 19h1v1h-1zM26 21h1v1h-1zM3 7h1v1h-1zM18 18h1v1h-1zM6 9h1v1h-1zM25 11h1v1h-1zM24 19h1v1h-1zM13 12h1v1h-1zM29 15h1v1h-1zM25 19h1v1h-1zM21 9h1v1h-1zM13 20h1v1h-1zM28 27h1v1h-1zM20 12h1v1h-1zM20 15h1v1h-1zM31 19h1v1h-1zM20 31h1v1h-1zM20 21h1v1h-1zM27 21h1v1h-1zM16 7h1v1h-1zM10 16h1v1h-1zM2 18h1v1h-1zM5 11h1v1h-1zM8 16h1v1h-1zM24 25h1v1h-1zM12 21h1v1h-1zM21 27h1v1h-1zM3 12h1v1h-1zM18 7h1v1h-1zM30 11h1v1h-1zM12 31h1v1h-1zM2 11h1v1h-1zM16 21h1v1h-1zM8 26h1v1h-1zM11 27h1v1h-1zM21 21h1v1h-1zM25 25h1v1h-1zM3 27h1v1h-1zM23 11h1v1h-1zM31 7h1v1h-1zM8 14h1v1h-1zM8 18h1v1h-1zM14 11h1v1h-1zM6 27h1v1h-1zM3 25h1v1h-1zM22 27h1v1h-1zM21 11h1v1h-1zM18 19h1v1h-1zM6 11h1v1h-1zM8 28h1v1h-1zM8 1h1v1h-1zM16 11h1v1h-1zM11 18h1v1h-1zM23 27h1v1h-1zM8 20h1v1h-1zM10 21h1v1h-1zM23 7h1v1h-1zM21 12h1v1h-1zM8 23h1v1h-1zM31 27h1v1h-1zM6 1h1v1h-1zM3 19h1v1h-1zM13 21h1v1h-1zM11 31h1v1h-1z"/><path fill="#4c4cae" d="M28 31h1v1h-1zM16 31h1v1h-1zM13 14h1v1h-1zM29 16h1v1h-1zM8 25h1v1h-1zM10 18h1v1h-1zM16 20h1v1h-1zM13 19h1v1h-1zM26 11h1v1h-1zM14 31h1v1h-1zM10 15h1v1h-1zM13 18h1v1h-1zM12 27h1v1h-1zM31 11h1v1h-1zM31 23h1v1h-1zM29 27h1v1h-1zM8 19h1v1h-1zM8 15h1v1h-1zM31 31h1v1h-1zM10 27h1v1h-1zM16 27h1v1h-1zM9 31h1v1h-1zM8 7h1v1h-1zM29 31h1v1h-1zM8 29h1v1h-1zM14 7h1v1h-1zM25 31h1v1h-1zM8 10h1v1h-1zM8 30h1v1h-1zM13 11h1v1h-1zM13 27h1v1h-1zM21 7h1v1h-1zM8 11h1v1h-1zM18 31h1v1h-1zM26 7h1v1h-1zM26 31h1v1h-1zM8 21h1v1h-1zM23 31h1v1h-1zM3 11h1v1h-1zM24 31h1v1h-1zM13 7h1v1h-1zM10 11h1v1h-1zM20 27h1v1h-1zM10 7h1v1h-1zM8 27h1v1h-1zM10 31h1v1h-1zM13 31h1v1h-1zM8 9h1v1h-1zM3 18h1v1h-1zM3 31h1v1h-1zM8 31h1v1h-1z"/></pattern><pattern id="p6" width="32" height="32" patternUnits="userSpaceOnUse"><rect width="32" height="32" fill="#cc0000"/><path fill="#db4c4c" d="M14 8h1v1h-1zM19 10h1v1h-1zM25 5h1v1h-1zM0 14h1v1h-1zM1 26h1v1h-1zM28 5h1v1h-1zM29 25h1v1h-1zM5 27h1v1h-1zM2 17h1v1h-1zM13 24h1v1h-1zM12 4h1v1h-1zM23 13h1v1h-1zM4 17h1v1h-1zM30 25h1v1h-1zM10 6h1v1h-1zM17 0h1v1h-1zM18 10h1v1h-1zM21 21h1v1h-1zM21 9h1v1h-1zM11 1h1v1h-1zM25 13h1v1h-1zM23 24h1v1h-1zM3 6h1v1h-1zM2 25h1v1h-1zM12 17h1v1h-1zM20 11h1v1h-1zM13 25h1v1h-1zM13 9h1v1h-1zM22 17h1v1h-1zM23 30h1v1h-1zM9 4h1v1h-1zM3 19h1v1h-1zM17 19h1v1h-1zM7 28h1v1h-1zM5 5h1v1h-1zM13 21h1v1h-1zM19 27h1v1h-1zM21 5h1v1h-1zM3 13h1v1h-1zM8 0h1v1h-1zM17 29h1v1h-1zM20 14h1v1h-1zM17 23h1v1h-1zM28 10h1v1h-1zM5 14h1v1h-1zM17 3h1v1h-1zM8 30h1v1h-1zM28 4h1v1h-1zM20 26h1v1h-1zM5 11h1v1h-1zM28 25h1v1h-1zM3 3h1v1h-1zM27 13h1v1h-1zM15 8h1v1h-1zM7 5h1v1h-1zM1 8h1v1h-1zM21 17h1v1h-1zM21 14h1v1h-1zM0 3h1v1h-1zM3 26h1v1h-1zM9 16h1v1h-1zM19 24h1v1h-1zM22 24h1v1h-1zM6 2h1v1h-1zM25 30h1v1h-1zM9 13h1v1h-1zM20 18h1v1h-1zM19 9h1v1h-1zM11 19h1v1h-1zM12 19h1v1h-1zM2 9h1v1h-1zM1 24h1v1h-1zM1 27h1v1h-1zM20 3h1v1h-1zM2 27h1v1h-1zM12 9h1v1h-1zM30 31h1v1h-1zM1 13h1v1h-1zM18 17h1v1h-1zM8 25h1v1h-1zM11 13h1v1h-1zM11 20h1v1h-1zM0 26h1v1h-1zM28 18h1v1h-1zM25 19h1v1h-1zM0 19h1v1h-1zM27 9h1v1h-1zM3 16h1v1h-1zM14 18h1v1h-1zM23 28h1v1h-1zM25 31h1v1h-1zM25 23h1v1h-1zM1 28h1v1h-1zM22 9h1v1h-1zM28 17h1v1h-1zM14 19h1v1h-1zM22 5h1v1h-1zM12 30h1v1h-1zM25 6h1v1h-1zM23 9h1v1h-1zM19 28h1v1h-1zM1 16h1v1h-1z"/><path fill="#eb9999" d="M0 13h1v1h-1zM25 24h1v1h-1zM20 8h1v1h-1zM9 23h1v1h-1zM9 28h1v1h-1zM1 30h1v1h-1zM0 29h1v1h-1zM22 25h1v1h-1zM28 24h1v1h-1zM0 18h1v1h-1zM7 23h1v1h-1zM4 21h1v1h-1zM20 23h1v1h-1zM22 1h1v1h-1zM11 23h1v1h-1zM3 9h1v1h-1zM11 3h1v1h-1zM9 5h1v1h-1zM12 31h1v1h-1zM12 0h1v1h-1zM5 24h1v1h-1zM18 11h1v1h-1zM15 18h1v1h-1zM27 17h1v1h-1zM2 14h1v1h-1zM3 23h1v1h-1zM10 7h1v1h-1zM25 9h1v1h-1zM7 10h1v1h-1zM1 20h1v1h-1zM2 24h1v1h-1zM30 5h1v1h-1zM18 9h1v1h-1zM30 7h1v1h-1zM27 28h1v1h-1zM9 20h1v1h-1zM20 4h1v1h-1zM20 12h1v1h-1zM15 27h1v1h-1zM0 16h1v1h-1zM22 0h1v1h-1zM3 28h1v1h-1zM0 0h1v1h-1zM18 27h1v1h-1zM30 16h1v1h-1zM1 3h1v1h-1zM31 0h1v1h-1zM5 6h1v1h-1zM7 16h1v1h-1zM14 27h1v1h-1zM0 8h1v1h-1zM7 11h1v1h-1zM25 22h1v1h-1zM9 26h1v1h-1zM15 30h1v1h-1zM15 24h1v1h-1zM31 9h1v1h-1zM9 19h1v1h-1zM14 28h1v1h-1zM23 1h1v1h-1zM13 30h1v1h-1zM22 28h1v1h-1zM12 5h1v1h-1zM27 25h1v1h-1zM3 14h1v1h-1zM22 4h1v1h-1zM9 27h1v1h-1zM3 11h1v1h-1zM25 20h1v1h-1zM17 16h1v1h-1zM2 23h1v1h-1zM24 25h1v1h-1zM5 31h1v1h-1zM0 20h1v1h-1zM11 22h1v1h-1zM25 0h1v1h-1zM15 28h1v1h-1zM5 25h1v1h-1zM18 30h1v1h-1zM5 30h1v1h-1zM1 4h1v1h-1zM3 18h1v1h-1zM24 13h1v1h-1zM2 26h1v1h-1zM15 0h1v1h-1zM19 30h1v1h-1zM21 16h1v1h-1zM2 28h1v1h-1zM19 25h1v1h-1zM0 31h1v1h-1zM28 28h1v1h-1zM30 0h1v1h-1zM30 6h1v1h-1zM9 18h1v1h-1zM11 9h1v1h-1zM29 27h1v1h-1zM20 1h1v1h-1zM19 6h1v1h-1zM3 30h1v1h-1zM0 23h1v1h-1zM17 5h1v1h-1zM5 16h1v1h-1zM30 14h1v1h-1zM0 7h1v1h-1zM1 22h1v1h-1zM21 25h1v1h-1zM21 4h1v1h-1zM21 0h1v1h-1zM7 18h1v1h-1zM1 7h1v1h-1zM18 12h1v1h-1zM2 22h1v1h-1zM29 7h1v1h-1zM8 16h1v1h-1zM21 8h1v1h-1zM21 10h1v1h-1zM9 22h1v1h-1zM3 27h1v1h-1zM8 24h1v1h-1zM5 9h1v1h-1zM12 23h1v1h-1zM5 19h1v1h-1zM13 5h1v1h-1zM18 6h1v1h-1zM13 17h1v1h-1zM4 30h1v1h-1zM11 26h1v1h-1zM13 13h1v1h-1zM26 5h1v1h-1zM3 22h1v1h-1zM0 4h1v1h-1zM19 5h1v1h-1zM17 22h1v1h-1zM9 1h1v1h-1zM27 19h1v1h-1zM23 8h1v1h-1zM20 0h1v1h-1zM3 8h1v1h-1zM30 29h1v1h-1zM7 1h1v1h-1zM2 13h1v1h-1zM21 31h1v1h-1zM3 0h1v1h-1zM5 0h1v1h-1zM22 29h1v1h-1zM31 23h1v1h-1zM8 14h1v1h-1zM19 11h1v1h-1zM22 10h1v1h-1zM13 19h1v1h-1zM7 13h1v1h-1zM17 4h1v1h-1zM5 8h1v1h-1zM23 14h1v1h-1z"/><path fill="#f7d6d6" d="M27 11h1v1h-1zM30 27h1v1h-1zM22 12h1v1h-1zM27 12h1v1h-1zM16 24h1v1h-1zM0 6h1v1h-1zM0 10h1v1h-1zM30 13h1v1h-1zM20 31h1v1h-1zM18 13h1v1h-1zM23 17h1v1h-1zM14 29h1v1h-1zM11 4h1v1h-1zM30 10h1v1h-1zM1 29h1v1h-1zM23 27h1v1h-1zM2 5h1v1h-1zM12 20h1v1h-1zM25 14h1v1h-1zM3 12h1v1h-1zM5 20h1v1h-1zM19 23h1v1h-1zM30 23h1v1h-1zM11 16h1v1h-1zM9 3h1v1h-1zM12 13h1v1h-1zM24 24h1v1h-1zM29 30h1v1h-1zM23 3h1v1h-1zM4 25h1v1h-1zM25 11h1v1h-1zM30 18h1v1h-1zM9 6h1v1h-1zM31 27h1v1h-1zM21 19h1v1h-1zM5 7h1v1h-1zM28 19h1v1h-1zM13 14h1v1h-1zM3 10h1v1h-1zM29 5h1v1h-1zM16 17h1v1h-1zM14 23h1v1h-1zM12 14h1v1h-1zM31 13h1v1h-1zM22 22h1v1h-1zM20 7h1v1h-1zM27 4h1v1h-1zM25 16h1v1h-1zM13 8h1v1h-1zM23 31h1v1h-1zM22 3h1v1h-1zM21 6h1v1h-1zM25 28h1v1h-1zM8 9h1v1h-1zM27 30h1v1h-1zM25 26h1v1h-1zM27 18h1v1h-1zM27 0h1v1h-1zM8 28h1v1h-1zM5 28h1v1h-1zM27 5h1v1h-1zM3 31h1v1h-1zM18 0h1v1h-1zM1 23h1v1h-1zM31 30h1v1h-1zM14 14h1v1h-1zM21 23h1v1h-1zM9 11h1v1h-1zM21 24h1v1h-1zM14 13h1v1h-1zM19 3h1v1h-1zM28 3h1v1h-1zM2 6h1v1h-1zM15 3h1v1h-1zM18 28h1v1h-1zM19 19h1v1h-1zM14 16h1v1h-1zM16 25h1v1h-1zM27 10h1v1h-1zM23 0h1v1h-1zM27 27h1v1h-1zM23 23h1v1h-1zM30 28h1v1h-1zM12 10h1v1h-1zM9 29h1v1h-1zM7 22h1v1h-1zM26 9h1v1h-1zM12 2h1v1h-1zM11 29h1v1h-1zM11 12h1v1h-1zM5 18h1v1h-1zM1 0h1v1h-1zM14 31h1v1h-1zM25 18h1v1h-1zM7 4h1v1h-1zM25 8h1v1h-1zM18 25h1v1h-1zM7 3h1v1h-1zM21 11h1v1h-1zM22 19h1v1h-1zM15 25h1v1h-1zM7 29h1v1h-1zM13 18h1v1h-1zM11 28h1v1h-1zM2 10h1v1h-1zM14 0h1v1h-1zM28 6h1v1h-1zM7 14h1v1h-1zM21 12h1v1h-1zM2 19h1v1h-1zM26 13h1v1h-1zM19 22h1v1h-1zM21 1h1v1h-1zM27 24h1v1h-1zM1 10h1v1h-1zM28 13h1v1h-1zM7 20h1v1h-1zM4 14h1v1h-1zM28 11h1v1h-1zM25 4h1v1h-1zM23 4h1v1h-1zM22 8h1v1h-1zM7 19h1v1h-1zM0 22h1v1h-1zM31 28h1v1h-1zM14 5h1v1h-1zM23 10h1v1h-1zM20 20h1v1h-1zM11 11h1v1h-1zM4 31h1v1h-1zM9 10h1v1h-1zM7 26h1v1h-1zM2 4h1v1h-1zM19 8h1v1h-1zM4 11h1v1h-1zM28 30h1v1h-1zM19 26h1v1h-1zM30 1h1v1h-1zM29 6h1v1h-1zM22 23h1v1h-1zM2 8h1v1h-1zM29 23h1v1h-1zM18 3h1v1h-1zM25 27h1v1h-1zM0 1h1v1h-1zM25 12h1v1h-1zM12 8h1v1h-1zM2 11h1v1h-1zM13 3h1v1h-1zM30 4h1v1h-1zM29 26h1v1h-1zM2 16h1v1h-1zM5 26h1v1h-1zM31 6h1v1h-1zM19 18h1v1h-1zM25 1h1v1h-1zM13 10h1v1h-1zM25 10h1v1h-1zM26 19h1v1h-1zM18 31h1v1h-1zM12 11h1v1h-1zM19 0h1v1h-1zM21 27h1v1h-1zM8 5h1v1h-1zM21 29h1v1h-1zM15 29h1v1h-1zM28 26h1v1h-1zM15 10h1v1h-1zM26 25h1v1h-1zM29 18h1v1h-1zM31 18h1v1h-1zM29 28h1v1h-1zM3 20h1v1h-1zM15 13h1v1h-1zM11 2h1v1h-1zM1 31h1v1h-1zM5 10h1v1h-1zM30 26h1v1h-1zM9 8h1v1h-1zM2 18h1v1h-1zM28 12h1v1h-1zM12 6h1v1h-1zM17 1h1v1h-1zM28 14h1v1h-1zM11 27h1v1h-1zM26 6h1v1h-1zM14 10h1v1h-1zM24 17h1v1h-1zM22 26h1v1h-1zM15 19h1v1h-1zM5 12h1v1h-1zM14 4h1v1h-1zM28 0h1v1h-1zM14 6h1v1h-1zM30 12h1v1h-1zM22 11h1v1h-1zM21 22h1v1h-1zM15 14h1v1h-1zM11 14h1v1h-1zM18 8h1v1h-1zM4 13h1v1h-1zM16 27h1v1h-1zM23 16h1v1h-1zM13 4h1v1h-1zM27 14h1v1h-1z"/><path fill="#ffffff" d="M28 29h1v1h-1zM27 31h1v1h-1zM31 26h1v1h-1zM31 11h1v1h-1zM30 11h1v1h-1zM19 13h1v1h-1zM8 8h1v1h-1zM26 20h1v1h-1zM1 5h1v1h-1zM28 22h1v1h-1zM15 1h1v1h-1zM12 16h1v1h-1zM2 3h1v1h-1zM12 18h1v1h-1zM29 16h1v1h-1zM8 1h1v1h-1zM4 16h1v1h-1zM8 18h1v1h-1zM9 12h1v1h-1zM0 5h1v1h-1zM28 7h1v1h-1zM30 19h1v1h-1zM5 3h1v1h-1zM8 4h1v1h-1zM8 13h1v1h-1zM1 15h1v1h-1zM16 9h1v1h-1zM8 10h1v1h-1zM0 11h1v1h-1zM21 28h1v1h-1zM8 27h1v1h-1zM29 3h1v1h-1zM18 23h1v1h-1zM11 7h1v1h-1zM24 9h1v1h-1zM7 7h1v1h-1zM3 29h1v1h-1zM29 10h1v1h-1zM13 6h1v1h-1zM15 6h1v1h-1zM2 12h1v1h-1zM15 5h1v1h-1zM24 22h1v1h-1zM14 11h1v1h-1zM19 4h1v1h-1zM29 13h1v1h-1zM11 18h1v1h-1zM23 29h1v1h-1zM18 29h1v1h-1zM5 23h1v1h-1zM30 22h1v1h-1zM28 31h1v1h-1zM29 4h1v1h-1zM28 20h1v1h-1zM13 11h1v1h-1zM4 12h1v1h-1zM19 1h1v1h-1zM17 2h1v1h-1zM5 22h1v1h-1zM11 6h1v1h-1zM29 0h1v1h-1zM31 4h1v1h-1zM8 23h1v1h-1zM27 8h1v1h-1zM5 4h1v1h-1zM14 1h1v1h-1zM4 0h1v1h-1zM9 2h1v1h-1zM12 7h1v1h-1zM20 2h1v1h-1zM13 27h1v1h-1zM16 14h1v1h-1zM24 28h1v1h-1zM14 3h1v1h-1zM19 29h1v1h-1zM26 11h1v1h-1zM24 14h1v1h-1zM27 29h1v1h-1zM31 31h1v1h-1zM26 0h1v1h-1zM27 20h1v1h-1zM24 23h1v1h-1zM7 6h1v1h-1zM26 14h1v1h-1zM23 2h1v1h-1zM9 7h1v1h-1zM15 23h1v1h-1zM22 6h1v1h-1zM18 7h1v1h-1zM14 7h1v1h-1zM15 31h1v1h-1zM31 7h1v1h-1zM18 22h1v1h-1zM12 22h1v1h-1zM31 10h1v1h-1zM16 13h1v1h-1zM30 20h1v1h-1zM3 7h1v1h-1zM18 5h1v1h-1zM31 5h1v1h-1zM15 20h1v1h-1zM23 26h1v1h-1zM1 11h1v1h-1zM8 20h1v1h-1zM15 4h1v1h-1zM23 11h1v1h-1zM23 5h1v1h-1zM3 1h1v1h-1zM18 18h1v1h-1zM26 4h1v1h-1zM0 12h1v1h-1zM26 24h1v1h-1zM29 1h1v1h-1zM16 8h1v1h-1zM24 30h1v1h-1zM31 12h1v1h-1zM31 1h1v1h-1zM23 22h1v1h-1zM15 22h1v1h-1zM27 26h1v1h-1zM14 22h1v1h-1zM15 11h1v1h-1zM31 8h1v1h-1zM28 1h1v1h-1zM31 19h1v1h-1zM2 29h1v1h-1zM19 12h1v1h-1zM27 3h1v1h-1zM13 0h1v1h-1zM2 30h1v1h-1zM16 30h1v1h-1zM6 15h1v1h-1zM21 7h1v1h-1zM15 7h1v1h-1zM29 14h1v1h-1zM19 31h1v1h-1zM5 29h1v1h-1zM21 3h1v1h-1zM26 12h1v1h-1zM18 19h1v1h-1zM11 8h1v1h-1zM4 24h1v1h-1zM28 16h1v1h-1zM19 16h1v1h-1zM16 10h1v1h-1zM8 3h1v1h-1zM27 22h1v1h-1zM24 8h1v1h-1zM14 20h1v1h-1zM23 7h1v1h-1zM28 23h1v1h-1zM21 26h1v1h-1zM18 1h1v1h-1zM30 3h1v1h-1zM29 31h1v1h-1zM26 27h1v1h-1zM15 16h1v1h-1zM31 20h1v1h-1zM11 5h1v1h-1zM31 22h1v1h-1zM24 27h1v1h-1zM0 2h1v1h-1zM11 10h1v1h-1zM4 10h1v1h-1zM31 14h1v1h-1zM29 22h1v1h-1zM13 31h1v1h-1zM13 16h1v1h-1zM2 20h1v1h-1zM29 19h1v1h-1zM25 3h1v1h-1zM26 17h1v1h-1zM8 19h1v1h-1zM8 11h1v1h-1zM19 20h1v1h-1zM29 11h1v1h-1zM4 6h1v1h-1zM23 6h1v1h-1zM1 12h1v1h-1zM12 29h1v1h-1zM19 7h1v1h-1zM4 19h1v1h-1zM16 6h1v1h-1zM7 2h1v1h-1zM14 12h1v1h-1zM26 10h1v1h-1zM0 15h1v1h-1zM31 29h1v1h-1zM26 31h1v1h-1zM13 1h1v1h-1zM4 9h1v1h-1zM24 31h1v1h-1zM17 15h1v1h-1zM27 6h1v1h-1zM29 2h1v1h-1zM25 29h1v1h-1zM13 12h1v1h-1zM2 0h1v1h-1zM12 12h1v1h-1zM1 2h1v1h-1zM7 12h1v1h-1zM8 29h1v1h-1zM23 12h1v1h-1zM27 1h1v1h-1zM4 20h1v1h-1z"/><path fill="#cccce8" d="M18 4h1v1h-1zM5 1h1v1h-1zM22 20h1v1h-1zM16 23h1v1h-1zM22 2h1v1h-1zM24 19h1v1h-1zM15 12h1v1h-1zM13 28h1v1h-1zM16 18h1v1h-1zM1 1h1v1h-1zM23 19h1v1h-1zM26 18h1v1h-1zM26 22h1v1h-1zM16 26h1v1h-1zM31 16h1v1h-1zM22 18h1v1h-1zM16 7h1v1h-1zM26 23h1v1h-1zM24 1h1v1h-1zM9 15h1v1h-1zM8 6h1v1h-1zM22 7h1v1h-1zM4 5h1v1h-1zM12 26h1v1h-1zM14 26h1v1h-1zM16 20h1v1h-1zM26 8h1v1h-1zM21 20h1v1h-1zM26 16h1v1h-1zM10 15h1v1h-1zM4 18h1v1h-1zM12 27h1v1h-1zM15 2h1v1h-1zM19 2h1v1h-1zM24 11h1v1h-1zM3 2h1v1h-1zM26 1h1v1h-1zM8 22h1v1h-1zM24 20h1v1h-1zM28 2h1v1h-1zM29 29h1v1h-1zM26 30h1v1h-1zM16 0h1v1h-1zM13 26h1v1h-1zM27 16h1v1h-1zM16 19h1v1h-1zM20 15h1v1h-1zM13 7h1v1h-1zM8 26h1v1h-1zM15 26h1v1h-1zM16 11h1v1h-1zM4 27h1v1h-1zM18 16h1v1h-1zM13 29h1v1h-1zM12 28h1v1h-1zM22 15h1v1h-1zM18 26h1v1h-1zM13 20h1v1h-1zM16 28h1v1h-1zM16 3h1v1h-1zM26 28h1v1h-1zM24 29h1v1h-1zM31 3h1v1h-1zM24 16h1v1h-1zM18 2h1v1h-1zM4 4h1v1h-1zM24 12h1v1h-1zM18 20h1v1h-1zM29 20h1v1h-1zM24 18h1v1h-1zM25 7h1v1h-1zM24 5h1v1h-1zM21 18h1v1h-1zM4 8h1v1h-1zM19 14h1v1h-1zM2 31h1v1h-1zM29 12h1v1h-1zM27 23h1v1h-1zM21 2h1v1h-1zM4 29h1v1h-1zM13 23h1v1h-1zM24 0h1v1h-1zM24 10h1v1h-1zM16 22h1v1h-1zM16 31h1v1h-1zM26 3h1v1h-1zM16 12h1v1h-1zM24 26h1v1h-1zM4 3h1v1h-1zM4 7h1v1h-1zM4 26h1v1h-1zM30 2h1v1h-1zM2 7h1v1h-1zM16 16h1v1h-1zM5 15h1v1h-1zM2 15h1v1h-1zM3 15h1v1h-1zM8 12h1v1h-1zM14 2h1v1h-1zM18 14h1v1h-1zM24 6h1v1h-1zM26 29h1v1h-1z"/><path fill="#8f8fcc" d="M13 22h1v1h-1zM4 28h1v1h-1zM26 26h1v1h-1zM16 1h1v1h-1zM4 23h1v1h-1zM16 4h1v1h-1zM24 4h1v1h-1zM2 1h1v1h-1zM24 7h1v1h-1zM23 18h1v1h-1zM8 7h1v1h-1zM14 15h1v1h-1zM30 15h1v1h-1zM23 20h1v1h-1zM8 2h1v1h-1zM25 15h1v1h-1zM21 15h1v1h-1zM24 3h1v1h-1zM13 2h1v1h-1zM11 15h1v1h-1zM5 2h1v1h-1zM25 2h1v1h-1zM8 15h1v1h-1zM7 15h1v1h-1zM27 2h1v1h-1zM13 15h1v1h-1zM4 1h1v1h-1zM16 29h1v1h-1zM27 7h1v1h-1zM26 7h1v1h-1zM12 15h1v1h-1zM23 15h1v1h-1zM4 22h1v1h-1zM16 5h1v1h-1zM2 2h1v1h-1zM31 2h1v1h-1zM26 2h1v1h-1zM16 2h1v1h-1zM29 15h1v1h-1zM15 15h1v1h-1zM24 2h1v1h-1zM16 15h1v1h-1zM27 15h1v1h-1zM31 15h1v1h-1zM4 2h1v1h-1zM19 15h1v1h-1zM26 15h1v1h-1zM4 15h1v1h-1zM24 15h1v1h-1zM18 15h1v1h-1zM28 15h1v1h-1z"/></pattern><pattern id="p7" width="32" height="32" patternUnits="userSpaceOnUse"><rect width="32" height="32" fill="#cc0000"/><path fill="#db4c4c" d="M11 6h1v1h-1zM6 23h1v1h-1zM31 13h1v1h-1zM7 12h1v1h-1zM22 13h1v1h-1zM0 8h1v1h-1zM13 22h1v1h-1zM3 24h1v1h-1zM7 0h1v1h-1zM21 17h1v1h-1zM8 12h1v1h-1zM29 9h1v1h-1zM26 6h1v1h-1zM19 13h1v1h-1zM18 0h1v1h-1zM10 0h1v1h-1zM22 11h1v1h-1zM2 20h1v1h-1zM22 23h1v1h-1zM19 5h1v1h-1zM21 10h1v1h-1zM23 3h1v1h-1zM5 2h1v1h-1zM15 16h1v1h-1zM15 10h1v1h-1zM25 1h1v1h-1zM2 24h1v1h-1zM22 12h1v1h-1zM24 15h1v1h-1zM19 1h1v1h-1zM25 17h1v1h-1zM12 19h1v1h-1zM13 26h1v1h-1zM7 18h1v1h-1zM10 29h1v1h-1zM8 13h1v1h-1zM20 4h1v1h-1zM11 15h1v1h-1zM2 2h1v1h-1zM18 17h1v1h-1zM21 13h1v1h-1zM5 14h1v1h-1zM4 13h1v1h-1zM26 11h1v1h-1zM17 23h1v1h-1zM9 27h1v1h-1zM13 18h1v1h-1zM8 23h1v1h-1zM12 18h1v1h-1zM30 0h1v1h-1zM24 27h1v1h-1zM19 23h1v1h-1zM4 3h1v1h-1zM6 17h1v1h-1zM22 17h1v1h-1zM15 0h1v1h-1zM13 6h1v1h-1zM24 4h1v1h-1zM30 11h1v1h-1zM11 17h1v1h-1zM20 26h1v1h-1zM5 6h1v1h-1zM3 15h1v1h-1zM9 10h1v1h-1zM20 29h1v1h-1zM4 2h1v1h-1zM2 11h1v1h-1zM10 27h1v1h-1zM14 9h1v1h-1zM4 4h1v1h-1zM10 13h1v1h-1zM11 0h1v1h-1zM30 20h1v1h-1zM23 20h1v1h-1zM14 4h1v1h-1zM18 19h1v1h-1zM15 31h1v1h-1zM9 5h1v1h-1zM26 3h1v1h-1zM28 15h1v1h-1zM1 5h1v1h-1zM23 5h1v1h-1zM24 12h1v1h-1zM26 10h1v1h-1zM26 23h1v1h-1zM25 24h1v1h-1zM24 11h1v1h-1zM27 15h1v1h-1zM23 21h1v1h-1zM4 1h1v1h-1zM24 23h1v1h-1zM9 12h1v1h-1zM20 0h1v1h-1zM25 10h1v1h-1zM30 22h1v1h-1zM29 23h1v1h-1zM9 8h1v1h-1zM1 14h1v1h-1zM27 2h1v1h-1zM30 24h1v1h-1zM15 29h1v1h-1zM18 4h1v1h-1zM25 15h1v1h-1zM20 30h1v1h-1zM12 25h1v1h-1zM21 15h1v1h-1zM4 11h1v1h-1zM2 12h1v1h-1zM5 23h1v1h-1zM15 15h1v1h-1zM27 25h1v1h-1zM7 25h1v1h-1zM24 26h1v1h-1zM15 19h1v1h-1zM16 6h1v1h-1zM20 22h1v1h-1zM30 6h1v1h-1zM10 16h1v1h-1zM20 11h1v1h-1zM27 24h1v1h-1zM29 8h1v1h-1zM28 17h1v1h-1zM27 31h1v1h-1zM22 27h1v1h-1zM31 6h1v1h-1zM17 3h1v1h-1zM24 10h1v1h-1zM1 1h1v1h-1zM22 24h1v1h-1zM8 26h1v1h-1zM25 9h1v1h-1zM12 16h1v1h-1zM11 31h1v1h-1zM27 11h1v1h-1zM3 6h1v1h-1zM16 4h1v1h-1zM20 19h1v1h-1zM30 12h1v1h-1zM1 24h1v1h-1zM12 29h1v1h-1zM2 14h1v1h-1zM19 27h1v1h-1zM11 13h1v1h-1zM20 28h1v1h-1zM26 1h1v1h-1zM3 22h1v1h-1zM15 11h1v1h-1zM14 16h1v1h-1zM11 23h1v1h-1zM2 3h1v1h-1zM29 20h1v1h-1zM25 14h1v1h-1zM1 17h1v1h-1zM23 13h1v1h-1z"/><path fill="#eb9999" d="M17 17h1v1h-1zM22 15h1v1h-1zM5 1h1v1h-1zM8 11h1v1h-1zM17 24h1v1h-1zM19 11h1v1h-1zM0 17h1v1h-1zM31 24h1v1h-1zM31 27h1v1h-1zM31 17h1v1h-1zM5 20h1v1h-1zM20 12h1v1h-1zM25 12h1v1h-1zM5 13h1v1h-1zM26 13h1v1h-1zM25 23h1v1h-1zM8 0h1v1h-1zM0 3h1v1h-1zM19 10h1v1h-1zM17 11h1v1h-1zM10 30h1v1h-1zM4 21h1v1h-1zM30 27h1v1h-1zM2 23h1v1h-1zM28 9h1v1h-1zM30 13h1v1h-1zM24 31h1v1h-1zM5 4h1v1h-1zM23 2h1v1h-1zM19 24h1v1h-1zM19 17h1v1h-1zM25 6h1v1h-1zM26 27h1v1h-1zM28 3h1v1h-1zM13 31h1v1h-1zM2 4h1v1h-1zM8 24h1v1h-1zM14 15h1v1h-1zM21 25h1v1h-1zM10 28h1v1h-1zM4 14h1v1h-1zM10 18h1v1h-1zM18 23h1v1h-1zM26 25h1v1h-1zM18 27h1v1h-1zM12 4h1v1h-1zM26 2h1v1h-1zM14 10h1v1h-1zM6 3h1v1h-1zM14 27h1v1h-1zM6 24h1v1h-1zM21 23h1v1h-1zM11 24h1v1h-1zM29 31h1v1h-1zM26 24h1v1h-1zM23 10h1v1h-1zM16 13h1v1h-1zM17 31h1v1h-1zM1 10h1v1h-1zM7 16h1v1h-1zM10 25h1v1h-1zM9 4h1v1h-1zM4 17h1v1h-1zM29 17h1v1h-1zM19 31h1v1h-1zM27 27h1v1h-1zM15 18h1v1h-1zM16 17h1v1h-1zM12 26h1v1h-1zM15 6h1v1h-1zM0 9h1v1h-1zM21 4h1v1h-1zM27 26h1v1h-1zM11 25h1v1h-1zM31 31h1v1h-1zM21 12h1v1h-1zM7 26h1v1h-1zM29 10h1v1h-1zM8 15h1v1h-1zM28 2h1v1h-1zM27 12h1v1h-1zM16 27h1v1h-1zM4 8h1v1h-1zM17 6h1v1h-1zM31 26h1v1h-1zM14 18h1v1h-1zM19 12h1v1h-1zM3 26h1v1h-1zM27 29h1v1h-1zM14 0h1v1h-1zM9 24h1v1h-1zM2 13h1v1h-1zM29 4h1v1h-1zM12 27h1v1h-1zM30 25h1v1h-1zM3 25h1v1h-1zM1 2h1v1h-1zM16 31h1v1h-1zM28 1h1v1h-1zM5 31h1v1h-1zM6 8h1v1h-1zM0 4h1v1h-1zM10 26h1v1h-1zM16 22h1v1h-1zM28 23h1v1h-1zM18 24h1v1h-1zM17 27h1v1h-1zM23 12h1v1h-1zM9 15h1v1h-1zM5 12h1v1h-1zM13 29h1v1h-1zM7 19h1v1h-1zM19 3h1v1h-1zM23 14h1v1h-1zM5 10h1v1h-1zM24 22h1v1h-1zM22 6h1v1h-1zM25 13h1v1h-1zM31 19h1v1h-1zM19 25h1v1h-1zM7 29h1v1h-1zM29 27h1v1h-1zM5 7h1v1h-1zM1 15h1v1h-1zM3 31h1v1h-1zM30 26h1v1h-1zM27 4h1v1h-1zM28 25h1v1h-1zM25 25h1v1h-1zM27 0h1v1h-1zM9 11h1v1h-1zM1 23h1v1h-1zM23 17h1v1h-1zM26 12h1v1h-1zM21 24h1v1h-1zM9 13h1v1h-1zM14 19h1v1h-1zM11 19h1v1h-1zM0 23h1v1h-1zM21 26h1v1h-1zM18 6h1v1h-1zM12 22h1v1h-1zM0 24h1v1h-1zM13 19h1v1h-1zM11 4h1v1h-1zM28 13h1v1h-1zM5 11h1v1h-1zM10 12h1v1h-1zM28 10h1v1h-1zM1 27h1v1h-1zM2 16h1v1h-1zM16 0h1v1h-1zM25 8h1v1h-1zM24 16h1v1h-1z"/><path fill="#f7d6d6" d="M11 22h1v1h-1zM22 22h1v1h-1zM0 6h1v1h-1zM29 0h1v1h-1zM19 4h1v1h-1zM20 6h1v1h-1zM18 30h1v1h-1zM29 11h1v1h-1zM14 11h1v1h-1zM11 18h1v1h-1zM28 20h1v1h-1zM1 3h1v1h-1zM0 1h1v1h-1zM10 11h1v1h-1zM16 11h1v1h-1zM5 17h1v1h-1zM24 30h1v1h-1zM2 31h1v1h-1zM14 26h1v1h-1zM28 5h1v1h-1zM4 23h1v1h-1zM9 22h1v1h-1zM3 0h1v1h-1zM4 27h1v1h-1zM18 22h1v1h-1zM22 25h1v1h-1zM0 27h1v1h-1zM22 31h1v1h-1zM26 14h1v1h-1zM6 1h1v1h-1zM28 21h1v1h-1zM6 4h1v1h-1zM5 15h1v1h-1zM15 28h1v1h-1zM24 19h1v1h-1zM6 2h1v1h-1zM20 18h1v1h-1zM12 28h1v1h-1zM2 27h1v1h-1zM3 16h1v1h-1zM27 7h1v1h-1zM30 19h1v1h-1zM0 13h1v1h-1zM21 28h1v1h-1zM23 11h1v1h-1zM7 28h1v1h-1zM29 13h1v1h-1zM6 14h1v1h-1zM4 6h1v1h-1zM8 6h1v1h-1zM5 24h1v1h-1zM24 29h1v1h-1zM22 0h1v1h-1zM23 1h1v1h-1zM28 24h1v1h-1zM26 31h1v1h-1zM26 22h1v1h-1zM4 20h1v1h-1zM8 31h1v1h-1zM14 25h1v1h-1zM1 12h1v1h-1zM18 16h1v1h-1zM28 6h1v1h-1zM31 16h1v1h-1zM25 27h1v1h-1zM14 22h1v1h-1zM20 16h1v1h-1zM4 15h1v1h-1zM26 29h1v1h-1zM27 19h1v1h-1zM1 13h1v1h-1zM6 20h1v1h-1zM19 19h1v1h-1zM25 19h1v1h-1zM22 29h1v1h-1zM1 11h1v1h-1zM6 9h1v1h-1zM22 28h1v1h-1zM6 27h1v1h-1zM29 22h1v1h-1zM26 4h1v1h-1zM29 26h1v1h-1zM1 31h1v1h-1zM17 25h1v1h-1zM3 29h1v1h-1zM26 17h1v1h-1zM25 16h1v1h-1zM21 31h1v1h-1zM2 26h1v1h-1zM15 7h1v1h-1zM31 0h1v1h-1zM19 0h1v1h-1zM9 16h1v1h-1zM24 18h1v1h-1zM11 12h1v1h-1zM31 25h1v1h-1zM0 10h1v1h-1zM14 29h1v1h-1zM31 18h1v1h-1zM8 18h1v1h-1zM26 26h1v1h-1zM27 30h1v1h-1zM2 0h1v1h-1zM11 29h1v1h-1zM6 15h1v1h-1zM6 10h1v1h-1zM19 22h1v1h-1zM25 22h1v1h-1zM30 16h1v1h-1zM16 25h1v1h-1zM29 29h1v1h-1zM9 25h1v1h-1zM13 28h1v1h-1zM11 11h1v1h-1zM9 6h1v1h-1zM29 19h1v1h-1zM7 7h1v1h-1zM11 16h1v1h-1zM28 11h1v1h-1zM1 6h1v1h-1zM12 30h1v1h-1zM23 24h1v1h-1zM21 29h1v1h-1zM17 0h1v1h-1zM0 19h1v1h-1zM29 25h1v1h-1zM27 28h1v1h-1zM29 12h1v1h-1zM23 25h1v1h-1zM11 27h1v1h-1zM14 31h1v1h-1zM18 29h1v1h-1zM17 22h1v1h-1zM15 26h1v1h-1zM23 27h1v1h-1zM5 22h1v1h-1zM23 4h1v1h-1zM25 31h1v1h-1zM29 24h1v1h-1zM3 18h1v1h-1zM0 26h1v1h-1zM25 26h1v1h-1zM30 30h1v1h-1zM31 29h1v1h-1zM15 30h1v1h-1zM30 18h1v1h-1zM15 25h1v1h-1zM14 6h1v1h-1zM18 18h1v1h-1zM26 15h1v1h-1zM26 28h1v1h-1zM19 26h1v1h-1zM16 14h1v1h-1zM2 6h1v1h-1z"/><path fill="#ffffff" d="M17 26h1v1h-1zM17 16h1v1h-1zM9 18h1v1h-1zM8 22h1v1h-1zM6 31h1v1h-1zM1 25h1v1h-1zM21 30h1v1h-1zM28 27h1v1h-1zM16 30h1v1h-1zM11 30h1v1h-1zM0 16h1v1h-1zM22 26h1v1h-1zM1 19h1v1h-1zM22 16h1v1h-1zM23 15h1v1h-1zM28 22h1v1h-1zM28 4h1v1h-1zM21 22h1v1h-1zM17 19h1v1h-1zM28 12h1v1h-1zM16 26h1v1h-1zM16 29h1v1h-1zM19 6h1v1h-1zM21 16h1v1h-1zM0 25h1v1h-1zM2 22h1v1h-1zM21 6h1v1h-1zM1 4h1v1h-1zM7 30h1v1h-1zM19 30h1v1h-1zM17 30h1v1h-1zM28 26h1v1h-1zM5 0h1v1h-1zM6 6h1v1h-1zM21 0h1v1h-1zM1 18h1v1h-1zM8 19h1v1h-1zM4 26h1v1h-1zM24 7h1v1h-1zM5 26h1v1h-1zM6 0h1v1h-1zM6 22h1v1h-1zM19 28h1v1h-1zM0 11h1v1h-1zM24 28h1v1h-1zM25 4h1v1h-1zM2 25h1v1h-1zM23 31h1v1h-1zM13 7h1v1h-1zM18 26h1v1h-1zM21 18h1v1h-1zM1 26h1v1h-1zM1 16h1v1h-1zM29 6h1v1h-1zM9 19h1v1h-1zM27 16h1v1h-1zM28 31h1v1h-1zM23 23h1v1h-1zM10 7h1v1h-1zM5 29h1v1h-1zM23 26h1v1h-1zM8 25h1v1h-1zM9 26h1v1h-1zM24 0h1v1h-1zM19 18h1v1h-1zM23 6h1v1h-1zM26 30h1v1h-1zM5 25h1v1h-1zM30 29h1v1h-1zM8 28h1v1h-1zM18 25h1v1h-1zM14 28h1v1h-1zM4 31h1v1h-1zM8 16h1v1h-1zM31 30h1v1h-1zM0 12h1v1h-1zM9 0h1v1h-1zM31 22h1v1h-1zM2 19h1v1h-1zM16 19h1v1h-1zM4 19h1v1h-1zM4 22h1v1h-1zM13 30h1v1h-1zM4 24h1v1h-1zM0 31h1v1h-1zM28 0h1v1h-1zM25 0h1v1h-1zM9 29h1v1h-1zM17 29h1v1h-1zM31 28h1v1h-1zM9 31h1v1h-1zM3 19h1v1h-1zM25 30h1v1h-1zM19 29h1v1h-1zM6 12h1v1h-1zM4 7h1v1h-1zM26 0h1v1h-1zM16 7h1v1h-1zM22 19h1v1h-1zM12 7h1v1h-1zM6 13h1v1h-1zM3 7h1v1h-1zM29 16h1v1h-1zM5 30h1v1h-1zM29 28h1v1h-1zM25 18h1v1h-1zM1 0h1v1h-1zM22 30h1v1h-1zM29 30h1v1h-1zM29 18h1v1h-1zM5 18h1v1h-1zM16 15h1v1h-1zM21 19h1v1h-1zM30 28h1v1h-1zM0 18h1v1h-1zM23 16h1v1h-1zM11 26h1v1h-1zM6 7h1v1h-1zM4 18h1v1h-1zM16 16h1v1h-1zM8 7h1v1h-1zM23 0h1v1h-1zM19 16h1v1h-1zM8 30h1v1h-1zM2 7h1v1h-1zM11 28h1v1h-1zM2 18h1v1h-1zM5 28h1v1h-1zM6 26h1v1h-1zM18 7h1v1h-1zM9 28h1v1h-1zM17 18h1v1h-1zM4 0h1v1h-1zM6 25h1v1h-1zM16 18h1v1h-1zM5 19h1v1h-1zM14 30h1v1h-1zM3 28h1v1h-1zM20 7h1v1h-1zM16 28h1v1h-1zM5 16h1v1h-1zM26 19h1v1h-1zM8 29h1v1h-1zM26 7h1v1h-1zM3 30h1v1h-1zM27 18h1v1h-1zM23 18h1v1h-1zM4 29h1v1h-1zM6 11h1v1h-1zM25 29h1v1h-1zM18 28h1v1h-1zM25 28h1v1h-1zM28 29h1v1h-1zM28 19h1v1h-1z"/><path fill="#cccce8" d="M22 18h1v1h-1zM17 7h1v1h-1zM6 28h1v1h-1zM1 7h1v1h-1zM2 28h1v1h-1zM4 30h1v1h-1zM2 29h1v1h-1zM14 7h1v1h-1zM6 16h1v1h-1zM1 29h1v1h-1zM6 18h1v1h-1zM0 22h1v1h-1zM23 28h1v1h-1zM23 29h1v1h-1zM9 30h1v1h-1zM28 7h1v1h-1zM11 7h1v1h-1zM0 7h1v1h-1zM6 29h1v1h-1zM4 28h1v1h-1zM6 30h1v1h-1zM21 7h1v1h-1zM28 18h1v1h-1zM23 19h1v1h-1zM23 30h1v1h-1zM22 7h1v1h-1zM31 7h1v1h-1zM23 22h1v1h-1zM25 7h1v1h-1zM28 16h1v1h-1zM1 30h1v1h-1zM0 0h1v1h-1zM1 22h1v1h-1zM28 30h1v1h-1zM26 16h1v1h-1zM0 28h1v1h-1zM28 28h1v1h-1zM1 28h1v1h-1zM2 30h1v1h-1zM4 25h1v1h-1zM0 29h1v1h-1zM30 7h1v1h-1zM17 28h1v1h-1zM4 16h1v1h-1zM29 7h1v1h-1zM23 7h1v1h-1zM6 19h1v1h-1zM0 30h1v1h-1zM9 7h1v1h-1zM19 7h1v1h-1zM26 18h1v1h-1z"/></pattern><pattern id="p8" width="32" height="32" patternUnits="userSpaceOnUse"><rect width="32" height="32" fill="#cc0000"/><path fill="#db4c4c" d="M27 29h1v1h-1zM6 10h1v1h-1zM19 18h1v1h-1zM1 24h1v1h-1zM26 7h1v1h-1zM24 11h1v1h-1zM29 25h1v1h-1zM21 31h1v1h-1zM23 25h1v1h-1zM2 29h1v1h-1zM26 10h1v1h-1zM21 22h1v1h-1zM12 30h1v1h-1zM29 30h1v1h-1zM10 4h1v1h-1zM29 29h1v1h-1zM4 29h1v1h-1zM19 12h1v1h-1zM24 2h1v1h-1zM29 18h1v1h-1zM4 27h1v1h-1zM29 11h1v1h-1zM29 14h1v1h-1zM7 19h1v1h-1zM14 21h1v1h-1zM6 3h1v1h-1zM8 8h1v1h-1zM11 14h1v1h-1zM28 4h1v1h-1zM9 22h1v1h-1zM17 10h1v1h-1zM27 10h1v1h-1zM13 29h1v1h-1zM25 23h1v1h-1zM17 31h1v1h-1zM30 10h1v1h-1zM27 23h1v1h-1zM17 13h1v1h-1zM5 12h1v1h-1zM3 14h1v1h-1zM24 13h1v1h-1zM14 26h1v1h-1zM7 22h1v1h-1zM26 20h1v1h-1zM19 10h1v1h-1zM20 16h1v1h-1zM20 29h1v1h-1zM3 27h1v1h-1zM12 9h1v1h-1zM11 8h1v1h-1zM17 17h1v1h-1zM28 16h1v1h-1zM12 21h1v1h-1zM10 15h1v1h-1zM8 3h1v1h-1zM25 17h1v1h-1zM2 31h1v1h-1zM8 16h1v1h-1zM17 25h1v1h-1zM25 5h1v1h-1zM30 16h1v1h-1zM29 26h1v1h-1zM15 13h1v1h-1zM0 25h1v1h-1zM5 25h1v1h-1zM13 26h1v1h-1zM13 2h1v1h-1zM6 25h1v1h-1zM9 10h1v1h-1zM3 25h1v1h-1zM9 18h1v1h-1zM26 18h1v1h-1zM17 27h1v1h-1zM9 24h1v1h-1zM25 18h1v1h-1zM1 17h1v1h-1zM19 3h1v1h-1zM30 26h1v1h-1zM9 9h1v1h-1zM11 13h1v1h-1zM7 25h1v1h-1zM4 12h1v1h-1zM13 22h1v1h-1zM24 10h1v1h-1zM7 16h1v1h-1zM7 15h1v1h-1zM19 25h1v1h-1zM13 13h1v1h-1zM1 4h1v1h-1zM9 13h1v1h-1zM10 8h1v1h-1zM21 4h1v1h-1zM15 5h1v1h-1zM16 19h1v1h-1zM21 21h1v1h-1zM16 18h1v1h-1zM1 10h1v1h-1zM23 23h1v1h-1zM13 9h1v1h-1zM12 19h1v1h-1zM13 21h1v1h-1zM15 16h1v1h-1zM23 26h1v1h-1zM10 16h1v1h-1zM29 22h1v1h-1zM29 20h1v1h-1zM4 21h1v1h-1zM25 26h1v1h-1zM20 26h1v1h-1zM17 15h1v1h-1zM14 31h1v1h-1zM23 17h1v1h-1zM7 12h1v1h-1zM14 25h1v1h-1zM17 3h1v1h-1zM11 26h1v1h-1zM0 29h1v1h-1zM27 4h1v1h-1zM9 28h1v1h-1zM13 24h1v1h-1zM22 5h1v1h-1zM28 15h1v1h-1zM24 8h1v1h-1zM0 3h1v1h-1zM31 1h1v1h-1zM30 15h1v1h-1zM16 21h1v1h-1zM22 26h1v1h-1zM25 20h1v1h-1zM17 11h1v1h-1zM15 8h1v1h-1zM29 10h1v1h-1zM11 21h1v1h-1zM23 2h1v1h-1zM24 20h1v1h-1zM16 27h1v1h-1zM23 14h1v1h-1zM1 28h1v1h-1zM25 2h1v1h-1zM23 11h1v1h-1zM6 16h1v1h-1zM3 29h1v1h-1zM21 27h1v1h-1zM22 8h1v1h-1zM10 12h1v1h-1zM26 4h1v1h-1zM26 23h1v1h-1zM9 4h1v1h-1zM24 29h1v1h-1zM8 11h1v1h-1zM0 26h1v1h-1zM26 2h1v1h-1zM8 10h1v1h-1zM25 24h1v1h-1z"/><path fill="#eb9999" d="M1 26h1v1h-1zM12 5h1v1h-1zM26 8h1v1h-1zM1 18h1v1h-1zM7 10h1v1h-1zM9 21h1v1h-1zM1 1h1v1h-1zM6 27h1v1h-1zM24 4h1v1h-1zM7 20h1v1h-1zM27 26h1v1h-1zM29 2h1v1h-1zM27 18h1v1h-1zM21 3h1v1h-1zM20 11h1v1h-1zM20 15h1v1h-1zM30 8h1v1h-1zM20 13h1v1h-1zM14 27h1v1h-1zM22 19h1v1h-1zM20 19h1v1h-1zM10 18h1v1h-1zM22 23h1v1h-1zM23 4h1v1h-1zM7 11h1v1h-1zM11 4h1v1h-1zM6 11h1v1h-1zM3 21h1v1h-1zM22 11h1v1h-1zM15 28h1v1h-1zM20 5h1v1h-1zM27 15h1v1h-1zM13 4h1v1h-1zM26 25h1v1h-1zM12 23h1v1h-1zM11 29h1v1h-1zM0 8h1v1h-1zM6 29h1v1h-1zM31 7h1v1h-1zM5 27h1v1h-1zM9 16h1v1h-1zM3 13h1v1h-1zM14 10h1v1h-1zM26 1h1v1h-1zM29 19h1v1h-1zM25 22h1v1h-1zM10 26h1v1h-1zM13 23h1v1h-1zM3 31h1v1h-1zM27 24h1v1h-1zM9 11h1v1h-1zM1 19h1v1h-1zM20 8h1v1h-1zM29 1h1v1h-1zM12 18h1v1h-1zM26 24h1v1h-1zM30 27h1v1h-1zM25 8h1v1h-1zM25 4h1v1h-1zM13 15h1v1h-1zM9 26h1v1h-1zM1 12h1v1h-1zM8 29h1v1h-1zM12 29h1v1h-1zM22 17h1v1h-1zM9 29h1v1h-1zM0 12h1v1h-1zM12 22h1v1h-1zM10 21h1v1h-1zM29 5h1v1h-1zM13 16h1v1h-1zM25 25h1v1h-1zM31 30h1v1h-1zM7 3h1v1h-1zM12 1h1v1h-1zM23 1h1v1h-1zM26 27h1v1h-1zM11 18h1v1h-1zM29 17h1v1h-1zM13 1h1v1h-1zM27 21h1v1h-1zM25 1h1v1h-1zM10 3h1v1h-1zM23 16h1v1h-1zM24 5h1v1h-1zM22 10h1v1h-1zM28 3h1v1h-1zM20 20h1v1h-1zM17 18h1v1h-1zM19 20h1v1h-1zM31 18h1v1h-1zM3 12h1v1h-1zM29 16h1v1h-1zM22 16h1v1h-1zM20 25h1v1h-1zM25 10h1v1h-1zM12 26h1v1h-1zM6 12h1v1h-1zM29 27h1v1h-1zM11 22h1v1h-1zM9 15h1v1h-1zM24 16h1v1h-1zM27 8h1v1h-1zM24 31h1v1h-1zM23 29h1v1h-1zM20 24h1v1h-1zM22 1h1v1h-1zM13 8h1v1h-1zM12 13h1v1h-1zM20 23h1v1h-1zM22 20h1v1h-1zM23 8h1v1h-1zM22 24h1v1h-1zM20 2h1v1h-1zM23 10h1v1h-1zM7 21h1v1h-1zM11 10h1v1h-1zM27 22h1v1h-1zM17 8h1v1h-1zM7 29h1v1h-1zM31 22h1v1h-1zM29 12h1v1h-1zM11 16h1v1h-1z"/><path fill="#f7d6d6" d="M29 21h1v1h-1zM13 11h1v1h-1zM22 27h1v1h-1zM12 4h1v1h-1zM23 18h1v1h-1zM9 12h1v1h-1zM1 29h1v1h-1zM15 20h1v1h-1zM1 31h1v1h-1zM15 2h1v1h-1zM15 29h1v1h-1zM11 12h1v1h-1zM25 16h1v1h-1zM30 11h1v1h-1zM13 12h1v1h-1zM9 25h1v1h-1zM31 24h1v1h-1zM25 21h1v1h-1zM20 4h1v1h-1zM1 25h1v1h-1zM30 3h1v1h-1zM10 31h1v1h-1zM12 24h1v1h-1zM25 27h1v1h-1zM22 4h1v1h-1zM26 22h1v1h-1zM27 27h1v1h-1zM23 19h1v1h-1zM13 27h1v1h-1zM24 3h1v1h-1zM24 15h1v1h-1zM25 15h1v1h-1zM22 29h1v1h-1zM20 18h1v1h-1zM8 31h1v1h-1zM12 14h1v1h-1zM13 17h1v1h-1zM12 11h1v1h-1zM14 3h1v1h-1zM10 23h1v1h-1zM24 22h1v1h-1zM19 31h1v1h-1zM24 12h1v1h-1zM17 19h1v1h-1zM31 20h1v1h-1zM1 8h1v1h-1zM19 22h1v1h-1zM26 31h1v1h-1zM25 11h1v1h-1zM23 3h1v1h-1zM24 21h1v1h-1zM22 13h1v1h-1zM23 20h1v1h-1zM31 16h1v1h-1zM12 2h1v1h-1zM27 25h1v1h-1zM22 18h1v1h-1zM23 15h1v1h-1zM17 12h1v1h-1zM22 25h1v1h-1zM31 19h1v1h-1zM10 22h1v1h-1zM27 12h1v1h-1zM7 27h1v1h-1zM11 27h1v1h-1zM25 31h1v1h-1zM15 22h1v1h-1zM23 31h1v1h-1zM11 24h1v1h-1zM21 12h1v1h-1zM26 11h1v1h-1zM17 20h1v1h-1zM6 31h1v1h-1zM9 8h1v1h-1zM31 6h1v1h-1zM31 13h1v1h-1zM31 28h1v1h-1zM11 23h1v1h-1zM15 24h1v1h-1zM23 27h1v1h-1zM20 10h1v1h-1zM22 31h1v1h-1zM15 12h1v1h-1zM15 17h1v1h-1zM11 3h1v1h-1zM0 27h1v1h-1zM31 9h1v1h-1zM31 23h1v1h-1zM15 25h1v1h-1zM20 17h1v1h-1zM26 21h1v1h-1zM8 27h1v1h-1zM12 27h1v1h-1zM27 3h1v1h-1zM28 31h1v1h-1zM10 24h1v1h-1zM31 21h1v1h-1zM13 3h1v1h-1zM24 27h1v1h-1zM31 17h1v1h-1zM20 27h1v1h-1zM17 21h1v1h-1z"/><path fill="#ffffff" d="M13 10h1v1h-1zM11 31h1v1h-1zM10 17h1v1h-1zM30 31h1v1h-1zM22 22h1v1h-1zM9 3h1v1h-1zM22 2h1v1h-1zM26 3h1v1h-1zM31 14h1v1h-1zM22 15h1v1h-1zM31 4h1v1h-1zM10 25h1v1h-1zM25 3h1v1h-1zM11 11h1v1h-1zM20 3h1v1h-1zM10 27h1v1h-1zM30 12h1v1h-1zM15 23h1v1h-1zM29 4h1v1h-1zM19 21h1v1h-1zM13 25h1v1h-1zM9 17h1v1h-1zM26 12h1v1h-1zM1 3h1v1h-1zM12 25h1v1h-1zM11 15h1v1h-1zM29 15h1v1h-1zM23 22h1v1h-1zM25 12h1v1h-1zM31 10h1v1h-1zM7 31h1v1h-1zM15 14h1v1h-1zM31 5h1v1h-1zM9 31h1v1h-1zM12 31h1v1h-1zM15 26h1v1h-1zM15 11h1v1h-1zM23 13h1v1h-1zM12 17h1v1h-1zM20 12h1v1h-1zM12 12h1v1h-1zM22 3h1v1h-1zM31 25h1v1h-1zM12 8h1v1h-1zM15 4h1v1h-1zM15 21h1v1h-1zM22 21h1v1h-1zM31 3h1v1h-1zM11 17h1v1h-1zM11 25h1v1h-1zM13 31h1v1h-1zM12 16h1v1h-1zM29 31h1v1h-1zM12 10h1v1h-1zM31 15h1v1h-1zM9 27h1v1h-1zM15 10h1v1h-1zM27 31h1v1h-1zM15 19h1v1h-1zM15 18h1v1h-1zM15 15h1v1h-1zM1 27h1v1h-1zM20 22h1v1h-1zM15 1h1v1h-1zM23 21h1v1h-1zM12 3h1v1h-1zM15 31h1v1h-1zM29 3h1v1h-1zM31 26h1v1h-1zM31 31h1v1h-1zM20 21h1v1h-1zM31 29h1v1h-1zM22 12h1v1h-1zM15 3h1v1h-1zM15 27h1v1h-1zM12 15h1v1h-1zM31 8h1v1h-1zM20 31h1v1h-1zM31 11h1v1h-1zM23 12h1v1h-1zM31 27h1v1h-1zM31 12h1v1h-1z"/></pattern><pattern id="p9" width="32" height="32" patternUnits="userSpaceOnUse"><rect width="32" height="32" fill="#cc0000"/><path fill="#db4c4c" d="M20 14h1v1h-1zM8 31h1v1h-1zM10 11h1v1h-1zM10 1h1v1h-1zM10 23h1v1h-1zM5 8h1v1h-1zM10 22h1v1h-1zM26 31h1v1h-1zM5 21h1v1h-1zM13 19h1v1h-1zM25 31h1v1h-1zM26 10h1v1h-1zM6 25h1v1h-1zM16 7h1v1h-1zM18 2h1v1h-1zM5 30h1v1h-1zM8 15h1v1h-1zM0 4h1v1h-1zM6 11h1v1h-1zM25 25h1v1h-1zM25 14h1v1h-1zM6 1h1v1h-1zM6 22h1v1h-1zM22 17h1v1h-1zM0 3h1v1h-1zM6 23h1v1h-1zM30 15h1v1h-1zM26 25h1v1h-1zM19 2h1v1h-1zM7 0h1v1h-1zM14 14h1v1h-1zM24 22h1v1h-1zM4 5h1v1h-1zM18 4h1v1h-1zM24 15h1v1h-1zM16 0h1v1h-1zM26 19h1v1h-1zM20 23h1v1h-1zM7 1h1v1h-1zM23 17h1v1h-1zM23 10h1v1h-1zM22 4h1v1h-1zM3 27h1v1h-1zM3 10h1v1h-1zM25 4h1v1h-1zM19 30h1v1h-1zM26 8h1v1h-1zM16 1h1v1h-1zM30 17h1v1h-1zM30 0h1v1h-1zM3 23h1v1h-1zM26 27h1v1h-1zM26 0h1v1h-1zM7 2h1v1h-1zM31 27h1v1h-1zM23 25h1v1h-1zM29 11h1v1h-1zM0 0h1v1h-1zM9 4h1v1h-1zM7 22h1v1h-1zM19 25h1v1h-1zM19 31h1v1h-1zM5 14h1v1h-1zM29 10h1v1h-1zM25 2h1v1h-1zM23 8h1v1h-1zM30 11h1v1h-1zM19 14h1v1h-1zM4 10h1v1h-1zM0 11h1v1h-1zM5 17h1v1h-1zM5 2h1v1h-1zM6 0h1v1h-1zM8 4h1v1h-1zM7 23h1v1h-1zM22 1h1v1h-1zM22 27h1v1h-1zM16 27h1v1h-1zM30 27h1v1h-1zM22 8h1v1h-1zM6 2h1v1h-1zM30 31h1v1h-1zM16 23h1v1h-1zM30 14h1v1h-1zM23 31h1v1h-1zM5 19h1v1h-1zM26 1h1v1h-1zM30 3h1v1h-1zM30 23h1v1h-1zM26 7h1v1h-1zM5 0h1v1h-1zM6 4h1v1h-1zM29 7h1v1h-1zM4 27h1v1h-1zM17 4h1v1h-1zM0 2h1v1h-1zM0 10h1v1h-1zM16 8h1v1h-1zM3 22h1v1h-1zM7 4h1v1h-1zM19 22h1v1h-1zM10 2h1v1h-1z"/><path fill="#eb9999" d="M5 3h1v1h-1zM5 11h1v1h-1zM7 11h1v1h-1zM22 2h1v1h-1zM5 15h1v1h-1zM5 5h1v1h-1zM6 31h1v1h-1zM0 31h1v1h-1zM25 1h1v1h-1zM10 4h1v1h-1zM5 1h1v1h-1zM6 10h1v1h-1zM26 3h1v1h-1zM5 31h1v1h-1zM19 27h1v1h-1zM0 15h1v1h-1zM26 2h1v1h-1zM30 10h1v1h-1zM5 29h1v1h-1zM26 4h1v1h-1zM22 7h1v1h-1zM23 15h1v1h-1zM26 15h1v1h-1zM22 15h1v1h-1zM5 27h1v1h-1zM4 23h1v1h-1zM0 27h1v1h-1zM25 23h1v1h-1zM0 14h1v1h-1zM26 22h1v1h-1zM6 14h1v1h-1zM7 14h1v1h-1zM29 14h1v1h-1zM7 31h1v1h-1zM16 15h1v1h-1zM4 22h1v1h-1zM5 25h1v1h-1zM5 23h1v1h-1zM25 22h1v1h-1zM7 15h1v1h-1zM4 4h1v1h-1zM26 23h1v1h-1zM5 22h1v1h-1zM6 15h1v1h-1zM26 14h1v1h-1zM30 4h1v1h-1zM16 4h1v1h-1zM29 4h1v1h-1zM5 10h1v1h-1zM25 15h1v1h-1zM5 4h1v1h-1z"/></pattern></defs><defs><pattern id="q1" width="32" height="32" patternUnits="userSpaceOnUse"><rect width="32" height="32" fill="#00008b"/><path fill="#ffffff" d="M28 18h1v1h-1zM10 13h1v1h-1zM13 20h1v1h-1zM13 18h1v1h-1zM6 8h1v1h-1zM6 15h1v1h-1zM5 9h1v1h-1zM10 12h1v1h-1zM9 12h1v1h-1zM30 23h1v1h-1zM9 13h1v1h-1zM6 9h1v1h-1zM28 17h1v1h-1zM12 18h1v1h-1zM22 3h1v1h-1zM5 8h1v1h-1zM12 26h1v1h-1zM28 9h1v1h-1zM12 20h1v1h-1zM15 18h1v1h-1zM27 9h1v1h-1zM21 5h1v1h-1zM30 22h1v1h-1zM3 18h1v1h-1zM6 16h1v1h-1zM21 23h1v1h-1zM21 18h1v1h-1zM13 21h1v1h-1zM28 20h1v1h-1zM30 18h1v1h-1zM27 18h1v1h-1z"/><path fill="#cccce8" d="M6 13h1v1h-1zM21 3h1v1h-1zM5 10h1v1h-1zM6 7h1v1h-1zM28 6h1v1h-1zM21 6h1v1h-1zM19 6h1v1h-1zM22 4h1v1h-1zM10 18h1v1h-1zM21 4h1v1h-1zM28 10h1v1h-1zM21 8h1v1h-1zM13 9h1v1h-1zM12 0h1v1h-1zM30 20h1v1h-1zM27 10h1v1h-1zM19 5h1v1h-1zM5 15h1v1h-1zM16 1h1v1h-1zM22 5h1v1h-1zM6 10h1v1h-1zM30 21h1v1h-1zM2 18h1v1h-1zM15 6h1v1h-1zM6 14h1v1h-1zM16 15h1v1h-1zM6 12h1v1h-1zM21 9h1v1h-1zM31 23h1v1h-1zM29 18h1v1h-1zM12 9h1v1h-1zM15 20h1v1h-1zM13 23h1v1h-1zM16 0h1v1h-1zM13 22h1v1h-1zM13 6h1v1h-1zM5 13h1v1h-1zM16 18h1v1h-1zM22 9h1v1h-1zM12 21h1v1h-1zM28 16h1v1h-1zM22 8h1v1h-1zM27 17h1v1h-1zM27 20h1v1h-1zM22 6h1v1h-1zM28 0h1v1h-1zM6 17h1v1h-1zM12 1h1v1h-1zM15 15h1v1h-1zM21 24h1v1h-1zM28 21h1v1h-1z"/><path fill="#8f8fcc" d="M20 5h1v1h-1zM19 13h1v1h-1zM0 23h1v1h-1zM28 5h1v1h-1zM27 6h1v1h-1zM14 18h1v1h-1zM12 25h1v1h-1zM3 17h1v1h-1zM21 7h1v1h-1zM13 29h1v1h-1zM8 13h1v1h-1zM10 29h1v1h-1zM28 8h1v1h-1zM13 17h1v1h-1zM10 11h1v1h-1zM12 27h1v1h-1zM13 30h1v1h-1zM3 30h1v1h-1zM10 17h1v1h-1zM0 22h1v1h-1zM12 23h1v1h-1zM3 29h1v1h-1zM10 23h1v1h-1zM4 9h1v1h-1zM22 18h1v1h-1zM19 9h1v1h-1zM16 6h1v1h-1zM6 18h1v1h-1zM8 12h1v1h-1zM21 13h1v1h-1zM27 8h1v1h-1zM5 12h1v1h-1zM16 13h1v1h-1zM12 24h1v1h-1zM31 22h1v1h-1zM6 6h1v1h-1zM30 17h1v1h-1zM10 24h1v1h-1zM4 18h1v1h-1zM12 17h1v1h-1zM20 6h1v1h-1zM5 11h1v1h-1zM4 8h1v1h-1zM9 11h1v1h-1zM21 22h1v1h-1zM5 23h1v1h-1zM6 0h1v1h-1zM6 11h1v1h-1zM21 20h1v1h-1zM5 0h1v1h-1zM4 23h1v1h-1zM13 8h1v1h-1zM22 7h1v1h-1zM28 22h1v1h-1zM5 16h1v1h-1zM5 7h1v1h-1zM12 10h1v1h-1zM7 15h1v1h-1zM4 15h1v1h-1zM22 23h1v1h-1zM13 26h1v1h-1zM5 24h1v1h-1zM15 9h1v1h-1zM15 5h1v1h-1zM13 10h1v1h-1zM15 17h1v1h-1zM5 14h1v1h-1zM30 24h1v1h-1zM10 14h1v1h-1zM12 22h1v1h-1zM15 16h1v1h-1zM26 9h1v1h-1z"/><path fill="#4c4cae" d="M19 8h1v1h-1zM10 20h1v1h-1zM15 0h1v1h-1zM21 0h1v1h-1zM3 16h1v1h-1zM22 2h1v1h-1zM14 20h1v1h-1zM13 0h1v1h-1zM16 16h1v1h-1zM19 23h1v1h-1zM28 11h1v1h-1zM2 30h1v1h-1zM15 12h1v1h-1zM21 17h1v1h-1zM29 17h1v1h-1zM28 23h1v1h-1zM4 0h1v1h-1zM16 12h1v1h-1zM6 1h1v1h-1zM6 24h1v1h-1zM27 11h1v1h-1zM4 10h1v1h-1zM26 18h1v1h-1zM12 8h1v1h-1zM28 3h1v1h-1zM0 10h1v1h-1zM3 0h1v1h-1zM4 24h1v1h-1zM16 20h1v1h-1zM13 19h1v1h-1zM21 1h1v1h-1zM2 29h1v1h-1zM0 6h1v1h-1zM12 6h1v1h-1zM4 16h1v1h-1zM21 12h1v1h-1zM22 1h1v1h-1zM28 7h1v1h-1zM10 10h1v1h-1zM6 23h1v1h-1zM10 26h1v1h-1zM27 7h1v1h-1zM10 15h1v1h-1zM10 16h1v1h-1zM28 1h1v1h-1zM19 7h1v1h-1zM5 18h1v1h-1zM2 17h1v1h-1zM0 9h1v1h-1zM27 16h1v1h-1zM6 29h1v1h-1zM13 5h1v1h-1zM27 21h1v1h-1zM15 1h1v1h-1zM13 24h1v1h-1zM15 10h1v1h-1zM15 13h1v1h-1zM16 23h1v1h-1zM22 12h1v1h-1zM4 17h1v1h-1zM18 6h1v1h-1zM21 29h1v1h-1zM20 23h1v1h-1zM0 21h1v1h-1zM20 9h1v1h-1zM27 0h1v1h-1zM16 5h1v1h-1zM20 8h1v1h-1zM19 24h1v1h-1zM22 13h1v1h-1zM3 20h1v1h-1zM10 22h1v1h-1zM20 18h1v1h-1zM3 15h1v1h-1zM15 30h1v1h-1zM19 29h1v1h-1zM12 29h1v1h-1zM10 30h1v1h-1zM10 25h1v1h-1zM16 17h1v1h-1zM25 6h1v1h-1zM15 23h1v1h-1zM3 23h1v1h-1zM10 6h1v1h-1zM20 13h1v1h-1zM9 14h1v1h-1zM10 0h1v1h-1zM22 0h1v1h-1zM4 29h1v1h-1zM7 13h1v1h-1zM0 20h1v1h-1zM5 17h1v1h-1zM21 21h1v1h-1zM4 13h1v1h-1zM25 7h1v1h-1zM5 29h1v1h-1zM26 8h1v1h-1zM7 16h1v1h-1zM13 27h1v1h-1zM21 2h1v1h-1zM10 3h1v1h-1zM2 20h1v1h-1z"/></pattern><pattern id="q2" width="32" height="32" patternUnits="userSpaceOnUse"><rect width="32" height="32" fill="#00008b"/><path fill="#ffffff" d="M18 1h1v1h-1zM18 0h1v1h-1zM31 5h1v1h-1zM31 3h1v1h-1zM29 13h1v1h-1zM19 1h1v1h-1zM8 13h1v1h-1zM9 13h1v1h-1zM28 29h1v1h-1zM28 13h1v1h-1zM22 1h1v1h-1zM31 13h1v1h-1zM29 29h1v1h-1zM24 5h1v1h-1zM22 29h1v1h-1zM26 29h1v1h-1zM19 0h1v1h-1zM22 0h1v1h-1zM0 3h1v1h-1zM8 21h1v1h-1zM2 3h1v1h-1zM22 10h1v1h-1zM22 31h1v1h-1zM6 21h1v1h-1zM9 3h1v1h-1zM6 13h1v1h-1zM22 27h1v1h-1zM18 31h1v1h-1zM8 3h1v1h-1zM22 13h1v1h-1zM15 31h1v1h-1zM11 8h1v1h-1zM9 8h1v1h-1zM30 13h1v1h-1zM27 29h1v1h-1zM0 5h1v1h-1zM6 22h1v1h-1zM6 23h1v1h-1zM6 29h1v1h-1zM9 21h1v1h-1zM20 1h1v1h-1zM22 8h1v1h-1zM6 10h1v1h-1zM24 18h1v1h-1zM24 13h1v1h-1zM7 13h1v1h-1zM22 5h1v1h-1zM2 31h1v1h-1zM10 8h1v1h-1zM30 5h1v1h-1zM11 7h1v1h-1zM31 1h1v1h-1zM24 20h1v1h-1zM31 6h1v1h-1zM9 20h1v1h-1zM22 20h1v1h-1zM25 29h1v1h-1zM22 11h1v1h-1zM15 5h1v1h-1zM15 29h1v1h-1zM10 13h1v1h-1zM2 1h1v1h-1zM2 29h1v1h-1zM27 13h1v1h-1zM22 23h1v1h-1zM31 18h1v1h-1zM13 7h1v1h-1zM9 1h1v1h-1zM22 7h1v1h-1zM17 0h1v1h-1zM24 29h1v1h-1zM22 15h1v1h-1zM25 5h1v1h-1zM29 31h1v1h-1zM6 3h1v1h-1zM16 31h1v1h-1zM22 28h1v1h-1zM22 3h1v1h-1zM12 7h1v1h-1zM14 5h1v1h-1zM12 8h1v1h-1zM6 11h1v1h-1z"/><path fill="#cccce8" d="M2 18h1v1h-1zM24 27h1v1h-1zM15 0h1v1h-1zM5 23h1v1h-1zM26 13h1v1h-1zM26 5h1v1h-1zM7 21h1v1h-1zM6 1h1v1h-1zM31 11h1v1h-1zM16 0h1v1h-1zM18 8h1v1h-1zM31 20h1v1h-1zM17 1h1v1h-1zM11 13h1v1h-1zM20 0h1v1h-1zM31 25h1v1h-1zM31 4h1v1h-1zM6 8h1v1h-1zM2 5h1v1h-1zM22 9h1v1h-1zM28 31h1v1h-1zM11 20h1v1h-1zM28 25h1v1h-1zM30 3h1v1h-1zM10 7h1v1h-1zM18 3h1v1h-1zM23 20h1v1h-1zM18 2h1v1h-1zM18 18h1v1h-1zM22 18h1v1h-1zM22 16h1v1h-1zM1 3h1v1h-1zM8 20h1v1h-1zM5 3h1v1h-1zM22 21h1v1h-1zM8 11h1v1h-1zM21 1h1v1h-1zM23 5h1v1h-1zM23 13h1v1h-1zM8 23h1v1h-1zM27 25h1v1h-1zM8 12h1v1h-1zM5 13h1v1h-1zM29 5h1v1h-1zM26 27h1v1h-1zM16 7h1v1h-1zM22 6h1v1h-1zM26 25h1v1h-1zM8 10h1v1h-1zM5 21h1v1h-1zM26 31h1v1h-1zM10 20h1v1h-1zM8 22h1v1h-1zM25 13h1v1h-1zM31 2h1v1h-1zM2 2h1v1h-1zM7 10h1v1h-1zM4 3h1v1h-1zM3 3h1v1h-1zM6 15h1v1h-1zM9 5h1v1h-1zM23 27h1v1h-1zM9 23h1v1h-1zM15 7h1v1h-1zM9 7h1v1h-1zM25 18h1v1h-1zM24 3h1v1h-1zM13 8h1v1h-1zM28 30h1v1h-1zM13 5h1v1h-1zM8 1h1v1h-1zM6 9h1v1h-1zM15 6h1v1h-1zM2 16h1v1h-1zM0 18h1v1h-1zM5 29h1v1h-1zM9 10h1v1h-1zM31 16h1v1h-1zM28 7h1v1h-1zM24 19h1v1h-1zM21 29h1v1h-1zM13 6h1v1h-1zM9 18h1v1h-1zM26 1h1v1h-1zM10 21h1v1h-1zM31 27h1v1h-1zM29 30h1v1h-1zM16 8h1v1h-1zM3 18h1v1h-1zM15 27h1v1h-1zM9 12h1v1h-1zM8 8h1v1h-1zM27 7h1v1h-1zM29 15h1v1h-1zM28 5h1v1h-1zM16 5h1v1h-1zM9 9h1v1h-1zM7 11h1v1h-1zM0 1h1v1h-1zM2 17h1v1h-1zM26 6h1v1h-1zM28 20h1v1h-1z"/><path fill="#8f8fcc" d="M28 12h1v1h-1zM21 0h1v1h-1zM27 5h1v1h-1zM5 22h1v1h-1zM22 14h1v1h-1zM6 16h1v1h-1zM18 5h1v1h-1zM11 21h1v1h-1zM2 8h1v1h-1zM18 7h1v1h-1zM9 2h1v1h-1zM26 18h1v1h-1zM9 11h1v1h-1zM31 15h1v1h-1zM15 13h1v1h-1zM22 24h1v1h-1zM2 13h1v1h-1zM2 0h1v1h-1zM5 5h1v1h-1zM31 12h1v1h-1zM14 6h1v1h-1zM18 25h1v1h-1zM29 25h1v1h-1zM6 20h1v1h-1zM6 14h1v1h-1zM15 25h1v1h-1zM29 12h1v1h-1zM27 31h1v1h-1zM24 6h1v1h-1zM14 31h1v1h-1zM9 25h1v1h-1zM14 7h1v1h-1zM2 10h1v1h-1zM28 27h1v1h-1zM0 13h1v1h-1zM14 23h1v1h-1zM14 13h1v1h-1zM6 5h1v1h-1zM22 12h1v1h-1zM20 29h1v1h-1zM17 31h1v1h-1zM13 13h1v1h-1zM11 6h1v1h-1zM23 18h1v1h-1zM31 7h1v1h-1zM7 22h1v1h-1zM22 25h1v1h-1zM6 0h1v1h-1zM23 21h1v1h-1zM7 3h1v1h-1zM26 3h1v1h-1zM11 10h1v1h-1zM28 6h1v1h-1zM0 20h1v1h-1zM31 0h1v1h-1zM24 1h1v1h-1zM26 7h1v1h-1zM27 27h1v1h-1zM29 14h1v1h-1zM11 9h1v1h-1zM27 6h1v1h-1zM31 21h1v1h-1zM31 31h1v1h-1zM31 17h1v1h-1zM15 23h1v1h-1zM15 18h1v1h-1zM9 22h1v1h-1zM25 27h1v1h-1zM29 7h1v1h-1zM9 24h1v1h-1zM16 18h1v1h-1zM29 6h1v1h-1zM9 0h1v1h-1zM20 27h1v1h-1zM21 8h1v1h-1zM16 1h1v1h-1zM29 20h1v1h-1zM3 29h1v1h-1zM2 30h1v1h-1zM4 5h1v1h-1zM18 13h1v1h-1zM23 29h1v1h-1zM26 30h1v1h-1zM28 8h1v1h-1zM6 27h1v1h-1zM28 3h1v1h-1zM8 9h1v1h-1zM24 31h1v1h-1zM4 13h1v1h-1zM29 16h1v1h-1zM5 1h1v1h-1zM29 3h1v1h-1zM13 23h1v1h-1zM27 3h1v1h-1zM0 2h1v1h-1zM31 10h1v1h-1zM4 18h1v1h-1zM21 10h1v1h-1zM13 25h1v1h-1zM2 25h1v1h-1zM24 21h1v1h-1zM10 9h1v1h-1zM21 31h1v1h-1zM15 24h1v1h-1zM24 28h1v1h-1zM4 29h1v1h-1zM6 12h1v1h-1zM22 2h1v1h-1zM9 29h1v1h-1zM30 6h1v1h-1zM20 8h1v1h-1zM25 31h1v1h-1zM22 30h1v1h-1zM29 27h1v1h-1zM22 22h1v1h-1zM2 23h1v1h-1zM25 6h1v1h-1zM10 18h1v1h-1zM16 6h1v1h-1zM10 1h1v1h-1zM5 27h1v1h-1zM20 10h1v1h-1zM14 25h1v1h-1z"/><path fill="#4c4cae" d="M27 8h1v1h-1zM19 31h1v1h-1zM2 11h1v1h-1zM15 3h1v1h-1zM8 5h1v1h-1zM16 11h1v1h-1zM25 1h1v1h-1zM1 5h1v1h-1zM1 1h1v1h-1zM14 29h1v1h-1zM10 10h1v1h-1zM24 25h1v1h-1zM12 6h1v1h-1zM13 0h1v1h-1zM28 14h1v1h-1zM5 20h1v1h-1zM8 2h1v1h-1zM2 9h1v1h-1zM14 0h1v1h-1zM22 19h1v1h-1zM6 31h1v1h-1zM4 20h1v1h-1zM27 1h1v1h-1zM18 10h1v1h-1zM30 29h1v1h-1zM13 21h1v1h-1zM31 29h1v1h-1zM7 23h1v1h-1zM13 20h1v1h-1zM3 5h1v1h-1zM11 5h1v1h-1zM26 0h1v1h-1zM18 27h1v1h-1zM0 6h1v1h-1zM1 31h1v1h-1zM28 18h1v1h-1zM13 31h1v1h-1zM26 28h1v1h-1zM23 23h1v1h-1zM28 21h1v1h-1zM8 14h1v1h-1zM31 14h1v1h-1zM19 8h1v1h-1zM28 15h1v1h-1zM6 7h1v1h-1zM9 14h1v1h-1zM25 20h1v1h-1zM16 13h1v1h-1zM29 21h1v1h-1zM2 24h1v1h-1zM0 16h1v1h-1zM16 29h1v1h-1zM3 1h1v1h-1zM0 10h1v1h-1zM16 3h1v1h-1zM30 31h1v1h-1zM23 15h1v1h-1zM25 3h1v1h-1zM31 26h1v1h-1zM30 12h1v1h-1zM15 28h1v1h-1zM27 30h1v1h-1zM21 27h1v1h-1zM22 17h1v1h-1zM15 8h1v1h-1zM14 27h1v1h-1zM7 12h1v1h-1zM28 24h1v1h-1zM2 20h1v1h-1zM13 24h1v1h-1zM9 6h1v1h-1zM23 3h1v1h-1zM31 23h1v1h-1zM10 6h1v1h-1zM31 8h1v1h-1zM17 3h1v1h-1zM7 8h1v1h-1zM17 8h1v1h-1zM15 1h1v1h-1zM2 27h1v1h-1zM28 28h1v1h-1zM0 25h1v1h-1zM26 20h1v1h-1zM10 5h1v1h-1zM7 29h1v1h-1zM14 3h1v1h-1zM6 18h1v1h-1zM14 21h1v1h-1zM4 27h1v1h-1zM8 29h1v1h-1zM12 5h1v1h-1zM4 23h1v1h-1zM30 25h1v1h-1zM30 1h1v1h-1zM5 15h1v1h-1zM15 11h1v1h-1zM23 1h1v1h-1zM20 20h1v1h-1zM27 24h1v1h-1zM20 31h1v1h-1zM11 1h1v1h-1zM7 9h1v1h-1zM29 18h1v1h-1zM12 25h1v1h-1zM11 11h1v1h-1zM28 11h1v1h-1zM11 18h1v1h-1zM14 24h1v1h-1zM12 20h1v1h-1zM21 9h1v1h-1zM0 11h1v1h-1zM13 15h1v1h-1zM20 9h1v1h-1zM18 6h1v1h-1zM29 0h1v1h-1zM17 7h1v1h-1zM23 31h1v1h-1zM11 0h1v1h-1zM4 21h1v1h-1zM30 15h1v1h-1zM31 19h1v1h-1zM12 13h1v1h-1zM18 11h1v1h-1zM0 23h1v1h-1zM20 25h1v1h-1zM7 20h1v1h-1zM8 0h1v1h-1zM23 19h1v1h-1zM24 0h1v1h-1zM16 25h1v1h-1zM29 11h1v1h-1zM26 24h1v1h-1zM23 10h1v1h-1zM15 20h1v1h-1zM18 9h1v1h-1zM25 19h1v1h-1zM30 16h1v1h-1zM2 15h1v1h-1zM20 13h1v1h-1zM28 1h1v1h-1zM0 4h1v1h-1zM24 14h1v1h-1zM29 8h1v1h-1zM6 2h1v1h-1zM28 16h1v1h-1zM10 3h1v1h-1zM0 21h1v1h-1zM26 2h1v1h-1zM5 18h1v1h-1zM5 16h1v1h-1zM1 2h1v1h-1zM18 20h1v1h-1zM0 31h1v1h-1zM25 25h1v1h-1zM2 6h1v1h-1zM19 25h1v1h-1zM6 28h1v1h-1zM23 28h1v1h-1zM13 1h1v1h-1zM7 1h1v1h-1zM12 21h1v1h-1zM2 7h1v1h-1zM19 27h1v1h-1zM26 8h1v1h-1zM0 17h1v1h-1zM31 24h1v1h-1zM3 17h1v1h-1zM13 3h1v1h-1zM19 13h1v1h-1zM19 18h1v1h-1zM28 23h1v1h-1zM28 0h1v1h-1zM3 20h1v1h-1zM9 31h1v1h-1zM0 27h1v1h-1zM18 29h1v1h-1zM3 13h1v1h-1zM1 18h1v1h-1zM15 12h1v1h-1zM15 21h1v1h-1zM3 16h1v1h-1zM21 7h1v1h-1zM17 18h1v1h-1zM10 29h1v1h-1zM24 12h1v1h-1zM8 18h1v1h-1zM19 10h1v1h-1zM15 30h1v1h-1zM30 11h1v1h-1zM11 14h1v1h-1zM19 20h1v1h-1zM10 11h1v1h-1zM29 17h1v1h-1zM23 11h1v1h-1zM25 30h1v1h-1zM29 28h1v1h-1zM6 17h1v1h-1zM30 14h1v1h-1zM10 0h1v1h-1zM24 7h1v1h-1zM5 0h1v1h-1zM25 28h1v1h-1zM24 11h1v1h-1zM27 28h1v1h-1zM29 1h1v1h-1z"/></pattern><pattern id="q3" width="32" height="32" patternUnits="userSpaceOnUse"><rect width="32" height="32" fill="#00008b"/><path fill="#ffffff" d="M17 4h1v1h-1zM17 3h1v1h-1zM15 5h1v1h-1zM17 5h1v1h-1zM15 4h1v1h-1zM14 5h1v1h-1zM29 7h1v1h-1zM15 7h1v1h-1zM12 5h1v1h-1zM15 16h1v1h-1zM14 4h1v1h-1zM15 3h1v1h-1zM14 16h1v1h-1zM30 7h1v1h-1zM17 16h1v1h-1zM14 17h1v1h-1zM14 7h1v1h-1zM6 26h1v1h-1zM14 22h1v1h-1zM24 20h1v1h-1zM15 20h1v1h-1zM17 2h1v1h-1zM27 17h1v1h-1zM17 7h1v1h-1zM7 26h1v1h-1zM15 21h1v1h-1zM29 5h1v1h-1zM6 27h1v1h-1zM12 4h1v1h-1zM15 31h1v1h-1zM17 21h1v1h-1zM8 26h1v1h-1zM15 17h1v1h-1zM14 21h1v1h-1zM17 9h1v1h-1zM12 3h1v1h-1zM22 7h1v1h-1zM21 13h1v1h-1zM7 27h1v1h-1zM26 17h1v1h-1zM8 7h1v1h-1zM17 22h1v1h-1zM17 31h1v1h-1zM14 20h1v1h-1zM29 23h1v1h-1zM25 20h1v1h-1zM12 7h1v1h-1zM21 7h1v1h-1zM22 13h1v1h-1zM12 22h1v1h-1zM14 23h1v1h-1zM13 5h1v1h-1zM14 3h1v1h-1zM6 28h1v1h-1zM24 7h1v1h-1zM17 26h1v1h-1zM12 23h1v1h-1zM17 20h1v1h-1zM29 22h1v1h-1zM24 21h1v1h-1zM27 16h1v1h-1zM17 30h1v1h-1zM12 2h1v1h-1zM14 31h1v1h-1zM21 3h1v1h-1zM15 22h1v1h-1zM21 26h1v1h-1zM8 27h1v1h-1zM29 26h1v1h-1zM17 10h1v1h-1zM25 2h1v1h-1zM6 22h1v1h-1zM17 13h1v1h-1zM6 25h1v1h-1zM31 7h1v1h-1zM25 21h1v1h-1zM17 17h1v1h-1zM6 5h1v1h-1zM7 4h1v1h-1zM7 22h1v1h-1zM28 26h1v1h-1zM8 13h1v1h-1zM29 8h1v1h-1zM25 7h1v1h-1zM7 7h1v1h-1zM7 5h1v1h-1zM26 13h1v1h-1zM23 7h1v1h-1zM26 20h1v1h-1zM23 20h1v1h-1zM7 25h1v1h-1zM26 12h1v1h-1zM25 19h1v1h-1zM30 5h1v1h-1zM27 20h1v1h-1zM25 13h1v1h-1zM16 4h1v1h-1zM26 11h1v1h-1zM7 3h1v1h-1zM15 13h1v1h-1zM15 15h1v1h-1zM16 5h1v1h-1zM24 19h1v1h-1zM8 5h1v1h-1zM28 17h1v1h-1zM30 8h1v1h-1zM13 22h1v1h-1zM8 4h1v1h-1zM15 8h1v1h-1zM17 8h1v1h-1zM15 2h1v1h-1zM6 4h1v1h-1zM25 22h1v1h-1zM8 22h1v1h-1zM28 16h1v1h-1zM6 21h1v1h-1zM29 25h1v1h-1zM7 21h1v1h-1zM28 23h1v1h-1zM13 7h1v1h-1zM28 22h1v1h-1zM26 19h1v1h-1zM19 20h1v1h-1zM6 29h1v1h-1zM13 23h1v1h-1zM24 22h1v1h-1zM0 7h1v1h-1zM18 3h1v1h-1zM27 26h1v1h-1zM8 20h1v1h-1zM11 5h1v1h-1zM15 9h1v1h-1zM24 2h1v1h-1zM8 3h1v1h-1zM21 4h1v1h-1zM17 23h1v1h-1zM21 27h1v1h-1zM17 25h1v1h-1zM15 26h1v1h-1zM14 2h1v1h-1zM26 10h1v1h-1zM29 4h1v1h-1zM8 31h1v1h-1zM8 21h1v1h-1zM15 30h1v1h-1zM28 7h1v1h-1zM15 19h1v1h-1zM17 15h1v1h-1zM11 4h1v1h-1zM22 26h1v1h-1zM29 9h1v1h-1zM28 25h1v1h-1zM17 11h1v1h-1zM28 20h1v1h-1z"/><path fill="#cccce8" d="M21 2h1v1h-1zM27 13h1v1h-1zM26 2h1v1h-1zM7 28h1v1h-1zM15 14h1v1h-1zM8 30h1v1h-1zM27 19h1v1h-1zM6 16h1v1h-1zM7 13h1v1h-1zM0 22h1v1h-1zM30 9h1v1h-1zM25 17h1v1h-1zM25 12h1v1h-1zM29 27h1v1h-1zM12 25h1v1h-1zM5 26h1v1h-1zM14 26h1v1h-1zM6 20h1v1h-1zM2 21h1v1h-1zM7 20h1v1h-1zM16 3h1v1h-1zM21 5h1v1h-1zM18 4h1v1h-1zM14 19h1v1h-1zM17 12h1v1h-1zM11 3h1v1h-1zM21 25h1v1h-1zM8 25h1v1h-1zM13 4h1v1h-1zM29 6h1v1h-1zM2 7h1v1h-1zM26 21h1v1h-1zM12 26h1v1h-1zM14 25h1v1h-1zM1 7h1v1h-1zM22 3h1v1h-1zM2 22h1v1h-1zM14 30h1v1h-1zM27 22h1v1h-1zM27 21h1v1h-1zM15 6h1v1h-1zM13 17h1v1h-1zM29 21h1v1h-1zM26 16h1v1h-1zM5 27h1v1h-1zM27 25h1v1h-1zM24 30h1v1h-1zM27 10h1v1h-1zM12 24h1v1h-1zM19 21h1v1h-1zM1 22h1v1h-1zM17 14h1v1h-1zM26 22h1v1h-1zM5 22h1v1h-1zM28 21h1v1h-1zM25 10h1v1h-1zM6 13h1v1h-1zM8 2h1v1h-1zM26 18h1v1h-1zM6 30h1v1h-1zM14 8h1v1h-1zM31 8h1v1h-1zM28 5h1v1h-1zM29 24h1v1h-1zM31 5h1v1h-1zM5 25h1v1h-1zM27 11h1v1h-1zM2 20h1v1h-1zM17 27h1v1h-1zM14 15h1v1h-1zM25 11h1v1h-1zM14 6h1v1h-1zM6 17h1v1h-1zM28 27h1v1h-1zM8 12h1v1h-1zM12 21h1v1h-1zM15 23h1v1h-1zM9 26h1v1h-1zM21 14h1v1h-1zM12 27h1v1h-1zM7 9h1v1h-1zM25 1h1v1h-1zM29 20h1v1h-1zM13 3h1v1h-1zM21 23h1v1h-1zM14 27h1v1h-1zM22 2h1v1h-1zM7 23h1v1h-1zM23 13h1v1h-1zM22 27h1v1h-1zM6 7h1v1h-1zM22 5h1v1h-1zM17 6h1v1h-1zM7 30h1v1h-1zM22 20h1v1h-1zM24 13h1v1h-1zM31 9h1v1h-1zM21 12h1v1h-1zM21 22h1v1h-1zM27 12h1v1h-1zM23 21h1v1h-1zM12 17h1v1h-1zM18 20h1v1h-1zM5 17h1v1h-1zM14 24h1v1h-1zM7 29h1v1h-1zM29 3h1v1h-1zM25 3h1v1h-1zM0 8h1v1h-1zM21 16h1v1h-1zM14 9h1v1h-1zM8 8h1v1h-1zM16 7h1v1h-1zM6 3h1v1h-1zM6 9h1v1h-1zM15 25h1v1h-1zM20 3h1v1h-1zM22 8h1v1h-1zM19 26h1v1h-1zM5 21h1v1h-1zM22 25h1v1h-1zM12 9h1v1h-1zM22 14h1v1h-1zM5 28h1v1h-1zM0 16h1v1h-1zM0 9h1v1h-1zM30 22h1v1h-1zM8 23h1v1h-1zM14 18h1v1h-1zM15 10h1v1h-1zM24 3h1v1h-1zM11 26h1v1h-1zM12 8h1v1h-1zM2 13h1v1h-1zM27 3h1v1h-1zM7 2h1v1h-1zM5 16h1v1h-1zM18 21h1v1h-1zM0 23h1v1h-1zM13 16h1v1h-1zM27 18h1v1h-1zM8 9h1v1h-1zM6 23h1v1h-1zM18 5h1v1h-1zM15 0h1v1h-1zM6 10h1v1h-1zM5 20h1v1h-1zM24 9h1v1h-1zM11 22h1v1h-1zM22 4h1v1h-1zM29 30h1v1h-1zM21 21h1v1h-1zM15 27h1v1h-1zM19 3h1v1h-1z"/><path fill="#8f8fcc" d="M2 8h1v1h-1zM26 26h1v1h-1zM25 31h1v1h-1zM15 12h1v1h-1zM25 9h1v1h-1zM20 26h1v1h-1zM13 2h1v1h-1zM26 25h1v1h-1zM30 23h1v1h-1zM31 22h1v1h-1zM29 16h1v1h-1zM21 20h1v1h-1zM7 10h1v1h-1zM18 16h1v1h-1zM20 21h1v1h-1zM31 16h1v1h-1zM26 7h1v1h-1zM7 8h1v1h-1zM25 18h1v1h-1zM28 4h1v1h-1zM1 8h1v1h-1zM17 24h1v1h-1zM14 13h1v1h-1zM0 17h1v1h-1zM27 23h1v1h-1zM7 12h1v1h-1zM27 2h1v1h-1zM5 29h1v1h-1zM21 24h1v1h-1zM14 0h1v1h-1zM17 19h1v1h-1zM26 3h1v1h-1zM1 21h1v1h-1zM28 19h1v1h-1zM23 19h1v1h-1zM20 7h1v1h-1zM22 12h1v1h-1zM5 5h1v1h-1zM20 22h1v1h-1zM20 20h1v1h-1zM22 21h1v1h-1zM16 16h1v1h-1zM25 26h1v1h-1zM24 31h1v1h-1zM25 30h1v1h-1zM25 25h1v1h-1zM20 4h1v1h-1zM15 18h1v1h-1zM28 24h1v1h-1zM24 5h1v1h-1zM8 28h1v1h-1zM29 31h1v1h-1zM20 23h1v1h-1zM26 1h1v1h-1zM17 29h1v1h-1zM29 28h1v1h-1zM30 4h1v1h-1zM29 29h1v1h-1zM7 31h1v1h-1zM13 21h1v1h-1zM6 19h1v1h-1zM12 6h1v1h-1zM16 31h1v1h-1zM19 22h1v1h-1zM15 11h1v1h-1zM30 6h1v1h-1zM26 9h1v1h-1zM21 8h1v1h-1zM24 8h1v1h-1zM30 26h1v1h-1zM23 2h1v1h-1zM0 5h1v1h-1zM29 17h1v1h-1zM23 8h1v1h-1zM13 24h1v1h-1zM18 2h1v1h-1zM19 4h1v1h-1zM11 2h1v1h-1zM9 27h1v1h-1zM28 3h1v1h-1zM0 21h1v1h-1zM8 19h1v1h-1zM28 9h1v1h-1zM11 23h1v1h-1zM5 30h1v1h-1zM25 5h1v1h-1zM8 11h1v1h-1zM8 29h1v1h-1zM17 0h1v1h-1zM7 11h1v1h-1zM21 17h1v1h-1zM18 26h1v1h-1zM31 23h1v1h-1zM7 19h1v1h-1zM11 25h1v1h-1zM17 1h1v1h-1zM23 3h1v1h-1zM23 9h1v1h-1zM30 25h1v1h-1zM24 29h1v1h-1zM27 9h1v1h-1zM12 31h1v1h-1zM1 9h1v1h-1zM12 20h1v1h-1zM20 25h1v1h-1zM6 24h1v1h-1zM11 27h1v1h-1zM5 13h1v1h-1zM24 10h1v1h-1zM16 9h1v1h-1zM23 22h1v1h-1zM29 2h1v1h-1zM5 19h1v1h-1zM20 27h1v1h-1zM6 31h1v1h-1zM25 23h1v1h-1zM14 14h1v1h-1zM30 3h1v1h-1zM25 0h1v1h-1zM8 10h1v1h-1zM2 9h1v1h-1zM1 23h1v1h-1zM2 23h1v1h-1zM27 27h1v1h-1zM27 4h1v1h-1zM12 30h1v1h-1zM27 7h1v1h-1zM24 1h1v1h-1zM5 23h1v1h-1zM22 22h1v1h-1zM9 7h1v1h-1zM10 26h1v1h-1zM23 5h1v1h-1zM20 5h1v1h-1zM16 21h1v1h-1zM3 20h1v1h-1zM7 24h1v1h-1zM13 26h1v1h-1zM24 12h1v1h-1zM22 9h1v1h-1zM13 25h1v1h-1zM22 23h1v1h-1zM24 23h1v1h-1zM26 31h1v1h-1zM6 12h1v1h-1zM1 17h1v1h-1zM2 25h1v1h-1zM4 26h1v1h-1zM4 22h1v1h-1zM21 15h1v1h-1zM0 26h1v1h-1zM19 27h1v1h-1zM2 26h1v1h-1zM1 20h1v1h-1zM12 1h1v1h-1zM31 26h1v1h-1zM18 22h1v1h-1zM13 31h1v1h-1zM13 8h1v1h-1zM6 11h1v1h-1zM12 16h1v1h-1zM15 24h1v1h-1zM19 5h1v1h-1zM11 7h1v1h-1zM18 30h1v1h-1zM20 13h1v1h-1zM3 22h1v1h-1zM27 5h1v1h-1zM3 21h1v1h-1zM26 23h1v1h-1zM30 2h1v1h-1zM4 25h1v1h-1zM26 0h1v1h-1zM20 2h1v1h-1zM19 16h1v1h-1zM0 25h1v1h-1zM9 13h1v1h-1zM12 19h1v1h-1zM14 10h1v1h-1zM25 8h1v1h-1zM24 26h1v1h-1zM14 1h1v1h-1zM8 0h1v1h-1zM25 16h1v1h-1zM16 20h1v1h-1zM18 31h1v1h-1zM31 25h1v1h-1zM22 16h1v1h-1zM23 26h1v1h-1zM16 17h1v1h-1zM19 25h1v1h-1zM5 31h1v1h-1zM16 13h1v1h-1zM4 20h1v1h-1zM1 16h1v1h-1zM29 19h1v1h-1zM13 9h1v1h-1zM2 17h1v1h-1zM14 29h1v1h-1zM8 24h1v1h-1zM5 4h1v1h-1zM24 25h1v1h-1zM31 17h1v1h-1zM23 30h1v1h-1zM16 2h1v1h-1z"/><path fill="#4c4cae" d="M6 8h1v1h-1zM12 13h1v1h-1zM1 13h1v1h-1zM28 13h1v1h-1zM19 7h1v1h-1zM8 1h1v1h-1zM28 10h1v1h-1zM27 24h1v1h-1zM11 21h1v1h-1zM9 5h1v1h-1zM7 16h1v1h-1zM15 1h1v1h-1zM13 6h1v1h-1zM19 19h1v1h-1zM19 23h1v1h-1zM16 22h1v1h-1zM17 28h1v1h-1zM24 17h1v1h-1zM12 18h1v1h-1zM28 8h1v1h-1zM4 21h1v1h-1zM14 28h1v1h-1zM16 8h1v1h-1zM22 24h1v1h-1zM19 2h1v1h-1zM12 28h1v1h-1zM29 10h1v1h-1zM8 6h1v1h-1zM30 16h1v1h-1zM13 27h1v1h-1zM13 20h1v1h-1zM30 27h1v1h-1zM18 7h1v1h-1zM24 18h1v1h-1zM21 28h1v1h-1zM24 6h1v1h-1zM9 25h1v1h-1zM30 21h1v1h-1zM14 12h1v1h-1zM6 2h1v1h-1zM24 4h1v1h-1zM31 2h1v1h-1zM24 11h1v1h-1zM7 17h1v1h-1zM0 27h1v1h-1zM23 12h1v1h-1zM9 31h1v1h-1zM11 13h1v1h-1zM30 29h1v1h-1zM26 5h1v1h-1zM31 4h1v1h-1zM2 19h1v1h-1zM0 13h1v1h-1zM25 6h1v1h-1zM28 18h1v1h-1zM31 6h1v1h-1zM9 22h1v1h-1zM15 29h1v1h-1zM16 10h1v1h-1zM5 9h1v1h-1zM0 24h1v1h-1zM0 20h1v1h-1zM6 18h1v1h-1zM22 6h1v1h-1zM17 18h1v1h-1zM13 30h1v1h-1zM8 14h1v1h-1zM21 6h1v1h-1zM21 9h1v1h-1zM28 31h1v1h-1zM3 25h1v1h-1zM23 31h1v1h-1zM25 4h1v1h-1zM14 11h1v1h-1zM30 30h1v1h-1zM27 14h1v1h-1zM7 6h1v1h-1zM12 29h1v1h-1zM27 31h1v1h-1zM20 24h1v1h-1zM0 2h1v1h-1zM22 15h1v1h-1zM20 16h1v1h-1zM31 21h1v1h-1zM5 18h1v1h-1zM6 15h1v1h-1zM15 28h1v1h-1zM31 3h1v1h-1zM10 5h1v1h-1zM23 4h1v1h-1zM8 17h1v1h-1zM2 16h1v1h-1zM11 24h1v1h-1zM5 24h1v1h-1zM28 2h1v1h-1zM24 0h1v1h-1zM31 27h1v1h-1zM10 27h1v1h-1zM23 25h1v1h-1zM18 27h1v1h-1zM22 19h1v1h-1zM2 3h1v1h-1zM9 20h1v1h-1zM30 24h1v1h-1zM4 23h1v1h-1zM5 10h1v1h-1zM2 14h1v1h-1zM28 28h1v1h-1zM25 29h1v1h-1zM2 24h1v1h-1zM31 29h1v1h-1zM27 15h1v1h-1zM18 25h1v1h-1zM3 26h1v1h-1zM9 21h1v1h-1zM1 25h1v1h-1zM16 26h1v1h-1zM12 0h1v1h-1zM21 1h1v1h-1zM16 30h1v1h-1zM18 17h1v1h-1zM28 15h1v1h-1zM13 18h1v1h-1zM12 10h1v1h-1zM8 16h1v1h-1zM26 4h1v1h-1zM0 29h1v1h-1zM5 7h1v1h-1zM28 30h1v1h-1zM31 15h1v1h-1zM4 27h1v1h-1zM3 7h1v1h-1zM23 14h1v1h-1zM18 15h1v1h-1zM22 17h1v1h-1zM22 31h1v1h-1zM21 11h1v1h-1zM9 30h1v1h-1zM30 10h1v1h-1zM2 5h1v1h-1zM9 4h1v1h-1zM23 23h1v1h-1zM0 28h1v1h-1zM2 30h1v1h-1zM30 28h1v1h-1zM25 24h1v1h-1zM13 19h1v1h-1zM1 26h1v1h-1zM18 23h1v1h-1zM20 12h1v1h-1zM23 27h1v1h-1zM27 1h1v1h-1zM1 5h1v1h-1zM28 6h1v1h-1zM25 27h1v1h-1zM23 10h1v1h-1zM24 27h1v1h-1zM16 15h1v1h-1zM22 1h1v1h-1zM2 2h1v1h-1zM6 14h1v1h-1zM26 24h1v1h-1zM10 4h1v1h-1zM0 15h1v1h-1zM6 6h1v1h-1zM2 31h1v1h-1zM2 27h1v1h-1zM11 20h1v1h-1zM0 3h1v1h-1zM20 17h1v1h-1zM25 14h1v1h-1zM4 19h1v1h-1zM26 14h1v1h-1zM18 19h1v1h-1zM22 30h1v1h-1zM16 12h1v1h-1zM31 24h1v1h-1zM3 23h1v1h-1zM16 14h1v1h-1zM0 4h1v1h-1zM11 17h1v1h-1zM30 20h1v1h-1zM3 13h1v1h-1zM0 19h1v1h-1zM22 28h1v1h-1zM9 23h1v1h-1zM19 30h1v1h-1zM23 6h1v1h-1zM4 30h1v1h-1zM26 30h1v1h-1zM21 19h1v1h-1zM13 1h1v1h-1zM29 13h1v1h-1zM19 17h1v1h-1zM31 28h1v1h-1zM26 27h1v1h-1zM18 13h1v1h-1zM23 29h1v1h-1zM7 14h1v1h-1zM1 24h1v1h-1zM19 13h1v1h-1zM2 4h1v1h-1zM16 11h1v1h-1zM4 17h1v1h-1zM10 25h1v1h-1z"/></pattern><pattern id="q4" width="32" height="32" patternUnits="userSpaceOnUse"><rect width="32" height="32" fill="#cccce8"/><path fill="#f7d6d6" d="M6 6h1v1h-1zM6 7h1v1h-1zM20 7h1v1h-1zM11 4h1v1h-1zM20 0h1v1h-1zM6 8h1v1h-1zM6 5h1v1h-1zM0 13h1v1h-1zM5 6h1v1h-1zM20 6h1v1h-1zM17 6h1v1h-1zM11 5h1v1h-1zM22 6h1v1h-1zM6 9h1v1h-1zM17 13h1v1h-1zM17 7h1v1h-1zM14 18h1v1h-1zM6 13h1v1h-1zM20 18h1v1h-1zM22 5h1v1h-1zM16 6h1v1h-1zM22 18h1v1h-1zM22 19h1v1h-1zM5 5h1v1h-1zM22 0h1v1h-1zM17 12h1v1h-1zM5 7h1v1h-1zM2 6h1v1h-1zM20 5h1v1h-1zM20 19h1v1h-1zM6 14h1v1h-1zM20 28h1v1h-1zM14 25h1v1h-1zM4 6h1v1h-1zM1 6h1v1h-1zM20 31h1v1h-1zM0 6h1v1h-1zM17 11h1v1h-1zM20 13h1v1h-1zM23 6h1v1h-1zM4 13h1v1h-1zM1 13h1v1h-1zM14 26h1v1h-1zM0 5h1v1h-1zM2 13h1v1h-1zM4 5h1v1h-1zM20 21h1v1h-1zM22 7h1v1h-1zM18 13h1v1h-1zM5 13h1v1h-1zM16 7h1v1h-1zM14 19h1v1h-1zM17 14h1v1h-1zM11 13h1v1h-1zM0 14h1v1h-1zM6 11h1v1h-1zM20 17h1v1h-1zM22 4h1v1h-1zM14 0h1v1h-1zM6 0h1v1h-1zM20 8h1v1h-1zM20 12h1v1h-1zM10 4h1v1h-1zM17 5h1v1h-1zM6 12h1v1h-1zM11 12h1v1h-1zM2 7h1v1h-1zM20 20h1v1h-1zM14 11h1v1h-1zM13 13h1v1h-1zM18 12h1v1h-1zM4 7h1v1h-1zM14 6h1v1h-1zM4 14h1v1h-1zM16 11h1v1h-1zM6 4h1v1h-1zM2 5h1v1h-1zM6 1h1v1h-1zM24 6h1v1h-1zM20 1h1v1h-1zM14 17h1v1h-1zM22 31h1v1h-1zM2 14h1v1h-1zM18 7h1v1h-1zM1 5h1v1h-1zM14 13h1v1h-1zM5 8h1v1h-1zM28 7h1v1h-1zM5 14h1v1h-1zM4 4h1v1h-1zM23 0h1v1h-1zM23 7h1v1h-1zM20 30h1v1h-1zM28 6h1v1h-1zM20 4h1v1h-1zM22 28h1v1h-1zM20 14h1v1h-1zM11 11h1v1h-1zM14 28h1v1h-1zM23 5h1v1h-1zM14 7h1v1h-1zM24 0h1v1h-1z"/><path fill="#ffffff" d="M16 0h1v1h-1zM5 9h1v1h-1zM10 5h1v1h-1zM20 16h1v1h-1zM16 13h1v1h-1zM24 7h1v1h-1zM16 5h1v1h-1zM14 14h1v1h-1zM28 0h1v1h-1zM23 19h1v1h-1zM18 6h1v1h-1zM20 11h1v1h-1zM24 11h1v1h-1zM11 14h1v1h-1zM5 4h1v1h-1zM17 28h1v1h-1zM18 14h1v1h-1zM6 2h1v1h-1zM23 18h1v1h-1zM9 4h1v1h-1zM1 14h1v1h-1zM16 12h1v1h-1zM8 28h1v1h-1zM20 26h1v1h-1zM22 25h1v1h-1zM13 14h1v1h-1zM13 11h1v1h-1zM27 0h1v1h-1zM24 14h1v1h-1zM13 12h1v1h-1zM14 5h1v1h-1zM18 11h1v1h-1zM26 0h1v1h-1zM0 12h1v1h-1zM26 1h1v1h-1zM8 4h1v1h-1zM17 0h1v1h-1zM20 22h1v1h-1zM22 20h1v1h-1zM21 0h1v1h-1zM20 25h1v1h-1zM27 1h1v1h-1zM8 0h1v1h-1zM14 12h1v1h-1zM0 0h1v1h-1zM20 23h1v1h-1zM27 6h1v1h-1zM5 11h1v1h-1zM14 31h1v1h-1zM22 26h1v1h-1zM8 5h1v1h-1zM23 11h1v1h-1zM16 14h1v1h-1zM16 28h1v1h-1zM13 4h1v1h-1zM22 14h1v1h-1zM4 12h1v1h-1zM11 3h1v1h-1zM20 15h1v1h-1zM15 18h1v1h-1zM13 18h1v1h-1zM22 11h1v1h-1zM6 18h1v1h-1zM22 17h1v1h-1zM22 1h1v1h-1zM4 11h1v1h-1zM27 7h1v1h-1zM21 6h1v1h-1zM15 0h1v1h-1zM15 6h1v1h-1zM28 11h1v1h-1zM23 4h1v1h-1zM10 12h1v1h-1zM26 23h1v1h-1zM14 4h1v1h-1zM23 14h1v1h-1zM24 1h1v1h-1zM1 7h1v1h-1zM9 12h1v1h-1zM28 1h1v1h-1zM24 13h1v1h-1zM21 18h1v1h-1zM11 6h1v1h-1zM5 12h1v1h-1zM14 1h1v1h-1zM2 19h1v1h-1zM10 13h1v1h-1zM21 5h1v1h-1zM6 23h1v1h-1zM9 5h1v1h-1zM16 18h1v1h-1zM2 0h1v1h-1zM28 5h1v1h-1zM21 19h1v1h-1zM6 25h1v1h-1zM19 7h1v1h-1zM6 31h1v1h-1zM13 5h1v1h-1zM11 25h1v1h-1zM22 13h1v1h-1zM6 10h1v1h-1zM21 7h1v1h-1zM13 25h1v1h-1zM28 18h1v1h-1zM6 21h1v1h-1zM27 2h1v1h-1zM14 9h1v1h-1zM14 8h1v1h-1zM4 18h1v1h-1zM26 6h1v1h-1zM26 25h1v1h-1zM16 25h1v1h-1zM22 30h1v1h-1zM22 21h1v1h-1zM26 24h1v1h-1zM14 27h1v1h-1zM0 4h1v1h-1zM23 1h1v1h-1zM10 11h1v1h-1zM15 7h1v1h-1zM20 29h1v1h-1zM9 11h1v1h-1zM26 2h1v1h-1zM1 0h1v1h-1zM8 12h1v1h-1zM17 19h1v1h-1zM13 28h1v1h-1zM23 28h1v1h-1zM13 0h1v1h-1zM9 13h1v1h-1zM15 25h1v1h-1zM6 22h1v1h-1zM23 31h1v1h-1zM28 23h1v1h-1zM17 18h1v1h-1zM2 4h1v1h-1zM22 15h1v1h-1zM4 8h1v1h-1zM19 13h1v1h-1zM0 18h1v1h-1zM28 28h1v1h-1zM14 20h1v1h-1zM6 19h1v1h-1zM11 31h1v1h-1zM24 19h1v1h-1zM7 6h1v1h-1zM23 13h1v1h-1zM14 2h1v1h-1zM11 17h1v1h-1zM1 12h1v1h-1zM17 1h1v1h-1zM28 2h1v1h-1zM9 28h1v1h-1zM2 21h1v1h-1zM24 5h1v1h-1zM23 25h1v1h-1zM14 16h1v1h-1zM13 26h1v1h-1zM6 30h1v1h-1zM16 19h1v1h-1zM2 18h1v1h-1zM0 31h1v1h-1zM20 27h1v1h-1zM8 11h1v1h-1zM11 18h1v1h-1zM18 28h1v1h-1zM16 1h1v1h-1zM8 6h1v1h-1zM15 19h1v1h-1zM17 8h1v1h-1zM2 12h1v1h-1zM17 4h1v1h-1zM28 4h1v1h-1zM26 7h1v1h-1zM4 9h1v1h-1zM27 5h1v1h-1zM26 14h1v1h-1zM24 31h1v1h-1zM1 21h1v1h-1zM14 30h1v1h-1zM8 18h1v1h-1zM2 20h1v1h-1zM18 0h1v1h-1zM9 0h1v1h-1zM15 26h1v1h-1zM6 15h1v1h-1zM14 15h1v1h-1zM24 2h1v1h-1zM8 1h1v1h-1zM12 4h1v1h-1zM24 18h1v1h-1zM13 17h1v1h-1zM16 26h1v1h-1zM8 2h1v1h-1zM17 15h1v1h-1zM0 21h1v1h-1zM8 13h1v1h-1zM0 7h1v1h-1zM24 25h1v1h-1zM8 25h1v1h-1zM0 11h1v1h-1zM7 5h1v1h-1zM22 16h1v1h-1zM15 11h1v1h-1zM21 31h1v1h-1z"/><path fill="#8f8fcc" d="M21 30h1v1h-1zM21 14h1v1h-1zM8 24h1v1h-1zM25 14h1v1h-1zM26 28h1v1h-1zM2 30h1v1h-1zM12 14h1v1h-1zM27 31h1v1h-1zM29 28h1v1h-1zM30 31h1v1h-1zM2 26h1v1h-1zM24 26h1v1h-1zM7 12h1v1h-1zM10 18h1v1h-1zM21 25h1v1h-1zM29 7h1v1h-1zM5 3h1v1h-1zM27 8h1v1h-1zM13 9h1v1h-1zM7 19h1v1h-1zM24 16h1v1h-1zM21 26h1v1h-1zM7 11h1v1h-1zM7 2h1v1h-1zM9 1h1v1h-1zM7 22h1v1h-1zM11 22h1v1h-1zM22 24h1v1h-1zM19 31h1v1h-1zM17 20h1v1h-1zM11 21h1v1h-1zM26 26h1v1h-1zM23 8h1v1h-1zM30 6h1v1h-1zM27 18h1v1h-1zM18 20h1v1h-1zM24 3h1v1h-1zM15 8h1v1h-1zM22 23h1v1h-1zM25 24h1v1h-1zM7 18h1v1h-1zM29 23h1v1h-1zM19 5h1v1h-1zM26 3h1v1h-1zM10 26h1v1h-1zM23 10h1v1h-1zM15 2h1v1h-1zM15 30h1v1h-1zM20 10h1v1h-1zM4 25h1v1h-1zM22 22h1v1h-1zM27 9h1v1h-1zM4 30h1v1h-1zM2 2h1v1h-1zM13 20h1v1h-1zM30 22h1v1h-1zM15 9h1v1h-1zM5 30h1v1h-1zM16 27h1v1h-1zM26 11h1v1h-1zM11 9h1v1h-1zM16 23h1v1h-1zM1 28h1v1h-1zM18 30h1v1h-1zM18 31h1v1h-1zM25 2h1v1h-1zM18 21h1v1h-1zM21 16h1v1h-1zM3 18h1v1h-1zM17 27h1v1h-1zM5 19h1v1h-1zM29 11h1v1h-1zM0 25h1v1h-1zM7 20h1v1h-1zM29 21h1v1h-1zM17 21h1v1h-1zM17 17h1v1h-1zM31 5h1v1h-1zM6 16h1v1h-1zM1 30h1v1h-1zM9 29h1v1h-1zM17 16h1v1h-1zM26 18h1v1h-1zM10 28h1v1h-1zM22 10h1v1h-1zM6 29h1v1h-1zM8 22h1v1h-1zM7 24h1v1h-1zM31 6h1v1h-1zM18 4h1v1h-1zM30 23h1v1h-1zM16 24h1v1h-1zM18 29h1v1h-1zM11 10h1v1h-1zM10 30h1v1h-1zM19 20h1v1h-1zM16 20h1v1h-1zM2 17h1v1h-1zM23 29h1v1h-1zM13 29h1v1h-1zM3 19h1v1h-1zM13 8h1v1h-1zM19 30h1v1h-1zM30 14h1v1h-1zM10 17h1v1h-1zM5 31h1v1h-1zM8 17h1v1h-1zM28 16h1v1h-1zM13 10h1v1h-1zM29 22h1v1h-1zM21 15h1v1h-1zM0 2h1v1h-1zM15 27h1v1h-1zM27 10h1v1h-1zM13 24h1v1h-1zM21 12h1v1h-1zM22 9h1v1h-1zM3 12h1v1h-1zM30 5h1v1h-1zM16 16h1v1h-1zM25 21h1v1h-1zM29 31h1v1h-1zM7 14h1v1h-1zM21 11h1v1h-1zM4 16h1v1h-1zM28 26h1v1h-1zM9 19h1v1h-1zM31 0h1v1h-1zM4 29h1v1h-1zM15 10h1v1h-1zM4 26h1v1h-1zM26 19h1v1h-1zM1 25h1v1h-1zM23 9h1v1h-1zM11 19h1v1h-1zM28 20h1v1h-1zM15 20h1v1h-1zM19 15h1v1h-1zM9 27h1v1h-1zM1 15h1v1h-1zM10 9h1v1h-1zM18 23h1v1h-1zM2 23h1v1h-1zM11 29h1v1h-1zM23 27h1v1h-1zM12 3h1v1h-1zM2 9h1v1h-1zM0 29h1v1h-1zM19 1h1v1h-1zM25 13h1v1h-1zM5 25h1v1h-1zM30 12h1v1h-1zM7 31h1v1h-1zM25 11h1v1h-1zM28 30h1v1h-1zM18 16h1v1h-1zM21 8h1v1h-1zM15 16h1v1h-1zM30 11h1v1h-1zM25 22h1v1h-1zM1 8h1v1h-1zM30 19h1v1h-1zM30 17h1v1h-1zM29 1h1v1h-1zM1 23h1v1h-1zM10 23h1v1h-1zM18 9h1v1h-1zM19 23h1v1h-1zM18 2h1v1h-1zM2 3h1v1h-1zM17 3h1v1h-1zM2 16h1v1h-1zM13 23h1v1h-1zM15 15h1v1h-1zM9 17h1v1h-1zM31 18h1v1h-1zM16 21h1v1h-1zM27 22h1v1h-1zM11 1h1v1h-1zM10 2h1v1h-1zM7 26h1v1h-1zM29 13h1v1h-1zM19 17h1v1h-1zM7 28h1v1h-1zM24 29h1v1h-1zM5 17h1v1h-1zM2 29h1v1h-1zM4 31h1v1h-1zM29 19h1v1h-1zM27 21h1v1h-1zM14 22h1v1h-1zM15 29h1v1h-1zM4 23h1v1h-1zM0 16h1v1h-1zM18 26h1v1h-1zM27 12h1v1h-1zM9 10h1v1h-1zM27 19h1v1h-1zM25 5h1v1h-1zM13 21h1v1h-1zM26 16h1v1h-1zM19 16h1v1h-1zM17 24h1v1h-1zM23 24h1v1h-1zM19 22h1v1h-1z"/><path fill="#4c4cae" d="M29 5h1v1h-1zM29 17h1v1h-1zM17 22h1v1h-1zM18 17h1v1h-1zM26 17h1v1h-1zM27 26h1v1h-1zM9 7h1v1h-1zM8 10h1v1h-1zM26 8h1v1h-1zM9 21h1v1h-1zM5 28h1v1h-1zM0 26h1v1h-1zM0 3h1v1h-1zM11 8h1v1h-1zM28 29h1v1h-1zM29 12h1v1h-1zM16 3h1v1h-1zM26 20h1v1h-1zM3 28h1v1h-1zM9 8h1v1h-1zM26 9h1v1h-1zM1 2h1v1h-1zM25 31h1v1h-1zM27 17h1v1h-1zM19 26h1v1h-1zM18 22h1v1h-1zM18 10h1v1h-1zM3 0h1v1h-1zM11 27h1v1h-1zM21 29h1v1h-1zM30 7h1v1h-1zM19 29h1v1h-1zM3 15h1v1h-1zM5 23h1v1h-1zM21 27h1v1h-1zM25 15h1v1h-1zM12 18h1v1h-1zM18 25h1v1h-1zM21 22h1v1h-1zM27 16h1v1h-1zM26 10h1v1h-1zM31 31h1v1h-1zM9 23h1v1h-1zM9 20h1v1h-1zM1 17h1v1h-1zM30 4h1v1h-1zM1 26h1v1h-1zM23 23h1v1h-1zM10 10h1v1h-1zM0 10h1v1h-1zM30 1h1v1h-1zM10 21h1v1h-1zM31 12h1v1h-1zM10 7h1v1h-1zM3 11h1v1h-1zM3 8h1v1h-1zM12 31h1v1h-1zM19 25h1v1h-1zM28 27h1v1h-1zM29 4h1v1h-1zM21 23h1v1h-1zM0 9h1v1h-1zM12 17h1v1h-1zM21 2h1v1h-1zM4 20h1v1h-1zM15 24h1v1h-1zM16 22h1v1h-1zM11 20h1v1h-1zM23 22h1v1h-1zM10 24h1v1h-1zM30 20h1v1h-1zM29 2h1v1h-1zM12 25h1v1h-1zM1 29h1v1h-1zM25 4h1v1h-1zM15 3h1v1h-1zM4 22h1v1h-1zM27 30h1v1h-1zM25 19h1v1h-1zM4 21h1v1h-1zM12 28h1v1h-1zM12 6h1v1h-1zM31 4h1v1h-1zM7 3h1v1h-1zM31 21h1v1h-1zM12 0h1v1h-1zM1 9h1v1h-1zM29 25h1v1h-1zM18 27h1v1h-1zM30 30h1v1h-1zM6 27h1v1h-1zM19 9h1v1h-1zM3 1h1v1h-1zM25 28h1v1h-1zM5 29h1v1h-1zM5 16h1v1h-1zM25 18h1v1h-1zM9 24h1v1h-1zM26 12h1v1h-1zM5 21h1v1h-1zM10 15h1v1h-1zM15 21h1v1h-1z"/><path fill="#00008b" d="M26 30h1v1h-1zM3 2h1v1h-1zM19 4h1v1h-1zM0 8h1v1h-1zM7 30h1v1h-1zM24 27h1v1h-1zM2 27h1v1h-1zM30 25h1v1h-1zM31 28h1v1h-1zM10 22h1v1h-1zM21 3h1v1h-1zM1 3h1v1h-1zM25 20h1v1h-1zM29 14h1v1h-1zM10 8h1v1h-1zM15 23h1v1h-1zM10 19h1v1h-1zM31 17h1v1h-1zM8 15h1v1h-1zM3 25h1v1h-1zM5 22h1v1h-1zM0 24h1v1h-1zM27 20h1v1h-1zM19 27h1v1h-1zM5 26h1v1h-1zM25 26h1v1h-1zM10 1h1v1h-1zM10 29h1v1h-1zM31 19h1v1h-1zM12 2h1v1h-1zM29 20h1v1h-1zM29 24h1v1h-1zM31 22h1v1h-1zM4 24h1v1h-1zM9 15h1v1h-1zM13 22h1v1h-1zM3 17h1v1h-1zM2 24h1v1h-1zM12 30h1v1h-1zM30 2h1v1h-1zM3 20h1v1h-1zM26 27h1v1h-1zM27 29h1v1h-1zM31 11h1v1h-1zM30 16h1v1h-1zM3 3h1v1h-1zM4 27h1v1h-1zM27 27h1v1h-1zM1 16h1v1h-1zM10 16h1v1h-1zM30 15h1v1h-1zM3 21h1v1h-1zM29 8h1v1h-1zM8 16h1v1h-1zM7 17h1v1h-1zM7 10h1v1h-1zM5 20h1v1h-1zM25 12h1v1h-1zM21 24h1v1h-1zM9 22h1v1h-1zM25 9h1v1h-1zM29 30h1v1h-1zM3 26h1v1h-1zM25 10h1v1h-1zM25 3h1v1h-1zM12 26h1v1h-1zM31 23h1v1h-1zM10 27h1v1h-1zM10 20h1v1h-1zM25 17h1v1h-1zM12 15h1v1h-1zM5 24h1v1h-1zM0 27h1v1h-1zM3 9h1v1h-1zM30 26h1v1h-1zM25 8h1v1h-1zM25 16h1v1h-1zM3 30h1v1h-1zM31 15h1v1h-1zM2 10h1v1h-1zM1 10h1v1h-1zM7 27h1v1h-1zM18 24h1v1h-1zM31 30h1v1h-1zM18 3h1v1h-1zM30 29h1v1h-1zM7 15h1v1h-1zM3 31h1v1h-1zM30 24h1v1h-1zM29 3h1v1h-1zM9 16h1v1h-1zM29 26h1v1h-1zM3 16h1v1h-1zM19 2h1v1h-1zM26 29h1v1h-1zM25 30h1v1h-1zM29 16h1v1h-1zM21 9h1v1h-1zM29 9h1v1h-1zM1 24h1v1h-1zM19 24h1v1h-1zM3 29h1v1h-1zM31 1h1v1h-1zM19 10h1v1h-1zM15 22h1v1h-1zM30 3h1v1h-1zM29 10h1v1h-1zM29 29h1v1h-1zM12 23h1v1h-1zM12 16h1v1h-1zM31 16h1v1h-1zM1 27h1v1h-1zM31 7h1v1h-1zM30 27h1v1h-1zM29 15h1v1h-1zM3 23h1v1h-1zM7 29h1v1h-1zM31 20h1v1h-1zM12 19h1v1h-1zM29 27h1v1h-1zM3 22h1v1h-1zM31 25h1v1h-1zM12 1h1v1h-1zM12 29h1v1h-1zM12 24h1v1h-1zM12 7h1v1h-1zM21 10h1v1h-1zM30 10h1v1h-1zM31 2h1v1h-1zM12 21h1v1h-1zM31 29h1v1h-1zM7 16h1v1h-1zM30 9h1v1h-1zM30 8h1v1h-1zM12 10h1v1h-1zM12 9h1v1h-1zM3 27h1v1h-1zM5 27h1v1h-1zM3 10h1v1h-1zM12 27h1v1h-1zM31 26h1v1h-1zM25 27h1v1h-1zM25 29h1v1h-1zM31 3h1v1h-1zM12 20h1v1h-1zM3 24h1v1h-1zM12 22h1v1h-1zM19 3h1v1h-1zM12 8h1v1h-1zM31 24h1v1h-1zM31 10h1v1h-1zM31 27h1v1h-1zM31 9h1v1h-1zM31 8h1v1h-1z"/></pattern><pattern id="q5" width="32" height="32" patternUnits="userSpaceOnUse"><rect width="32" height="32" fill="#ffffff"/><path fill="#cc0000" d="M5 27h1v1h-1zM5 25h1v1h-1zM5 24h1v1h-1zM14 0h1v1h-1zM12 1h1v1h-1zM26 0h1v1h-1zM1 27h1v1h-1zM14 1h1v1h-1zM13 1h1v1h-1zM12 24h1v1h-1zM5 26h1v1h-1zM12 2h1v1h-1zM5 17h1v1h-1zM26 2h1v1h-1zM26 7h1v1h-1zM1 2h1v1h-1zM1 24h1v1h-1zM26 1h1v1h-1zM14 31h1v1h-1zM13 0h1v1h-1zM1 1h1v1h-1zM1 9h1v1h-1zM26 24h1v1h-1zM26 31h1v1h-1zM26 17h1v1h-1zM1 31h1v1h-1zM1 7h1v1h-1zM12 17h1v1h-1zM12 0h1v1h-1zM7 24h1v1h-1zM1 0h1v1h-1zM14 24h1v1h-1zM26 3h1v1h-1zM9 31h1v1h-1zM1 25h1v1h-1zM5 9h1v1h-1zM5 31h1v1h-1zM9 0h1v1h-1zM25 24h1v1h-1zM11 24h1v1h-1zM26 4h1v1h-1zM26 20h1v1h-1zM14 17h1v1h-1zM17 24h1v1h-1zM9 7h1v1h-1zM14 7h1v1h-1zM9 14h1v1h-1zM3 17h1v1h-1zM9 9h1v1h-1zM14 20h1v1h-1zM12 15h1v1h-1zM23 24h1v1h-1zM5 7h1v1h-1zM7 9h1v1h-1zM12 7h1v1h-1zM12 14h1v1h-1zM26 27h1v1h-1zM1 26h1v1h-1zM1 3h1v1h-1zM22 14h1v1h-1zM1 8h1v1h-1zM5 0h1v1h-1zM26 25h1v1h-1zM1 19h1v1h-1zM26 5h1v1h-1zM1 17h1v1h-1zM20 9h1v1h-1zM21 9h1v1h-1zM7 7h1v1h-1zM14 25h1v1h-1zM13 2h1v1h-1zM10 14h1v1h-1zM12 25h1v1h-1zM24 24h1v1h-1zM7 25h1v1h-1zM11 14h1v1h-1zM12 3h1v1h-1zM14 21h1v1h-1zM21 19h1v1h-1zM26 6h1v1h-1zM1 20h1v1h-1zM13 17h1v1h-1z"/><path fill="#eb9999" d="M4 17h1v1h-1zM14 13h1v1h-1zM21 17h1v1h-1zM7 31h1v1h-1zM17 17h1v1h-1zM22 17h1v1h-1zM14 9h1v1h-1zM21 27h1v1h-1zM9 24h1v1h-1zM27 7h1v1h-1zM6 24h1v1h-1zM17 20h1v1h-1zM3 27h1v1h-1zM9 1h1v1h-1zM22 24h1v1h-1zM22 9h1v1h-1zM21 14h1v1h-1zM25 2h1v1h-1zM14 22h1v1h-1zM9 13h1v1h-1zM4 27h1v1h-1zM20 24h1v1h-1zM14 2h1v1h-1zM22 15h1v1h-1zM10 31h1v1h-1zM10 9h1v1h-1zM8 9h1v1h-1zM15 20h1v1h-1zM14 14h1v1h-1zM15 24h1v1h-1zM20 19h1v1h-1zM25 27h1v1h-1zM8 7h1v1h-1zM21 24h1v1h-1zM12 4h1v1h-1zM1 28h1v1h-1zM10 0h1v1h-1zM10 24h1v1h-1zM23 17h1v1h-1zM12 9h1v1h-1zM15 21h1v1h-1zM22 7h1v1h-1zM1 4h1v1h-1zM20 17h1v1h-1zM10 7h1v1h-1zM27 31h1v1h-1zM27 0h1v1h-1zM5 5h1v1h-1zM3 31h1v1h-1zM15 31h1v1h-1zM23 7h1v1h-1zM11 2h1v1h-1zM5 6h1v1h-1zM22 20h1v1h-1zM6 25h1v1h-1zM9 2h1v1h-1zM8 31h1v1h-1zM5 28h1v1h-1zM7 14h1v1h-1zM5 29h1v1h-1zM22 27h1v1h-1zM21 20h1v1h-1zM1 18h1v1h-1zM25 17h1v1h-1zM13 24h1v1h-1zM14 6h1v1h-1zM23 27h1v1h-1zM17 9h1v1h-1zM24 27h1v1h-1zM11 9h1v1h-1zM3 0h1v1h-1zM7 0h1v1h-1zM26 15h1v1h-1zM11 1h1v1h-1zM8 14h1v1h-1zM21 7h1v1h-1zM7 8h1v1h-1zM22 19h1v1h-1zM26 21h1v1h-1zM20 18h1v1h-1zM12 31h1v1h-1zM21 18h1v1h-1zM25 1h1v1h-1zM9 8h1v1h-1zM23 14h1v1h-1zM13 31h1v1h-1zM13 7h1v1h-1zM10 13h1v1h-1zM8 24h1v1h-1zM20 27h1v1h-1zM11 15h1v1h-1zM14 5h1v1h-1zM7 17h1v1h-1zM23 20h1v1h-1zM5 12h1v1h-1zM12 5h1v1h-1zM9 15h1v1h-1zM24 17h1v1h-1zM23 31h1v1h-1zM1 29h1v1h-1zM22 31h1v1h-1zM5 13h1v1h-1zM12 13h1v1h-1zM17 25h1v1h-1zM17 21h1v1h-1zM17 31h1v1h-1zM17 14h1v1h-1zM27 17h1v1h-1zM5 30h1v1h-1zM11 7h1v1h-1zM7 13h1v1h-1zM15 0h1v1h-1zM1 23h1v1h-1zM5 8h1v1h-1zM4 24h1v1h-1zM25 25h1v1h-1zM12 23h1v1h-1zM17 13h1v1h-1zM26 19h1v1h-1zM26 8h1v1h-1zM9 20h1v1h-1zM22 13h1v1h-1zM21 15h1v1h-1z"/><path fill="#f7d6d6" d="M15 22h1v1h-1zM1 22h1v1h-1zM5 1h1v1h-1zM14 15h1v1h-1zM25 7h1v1h-1zM17 22h1v1h-1zM22 22h1v1h-1zM25 0h1v1h-1zM11 13h1v1h-1zM15 17h1v1h-1zM7 22h1v1h-1zM8 0h1v1h-1zM7 15h1v1h-1zM3 24h1v1h-1zM5 18h1v1h-1zM11 0h1v1h-1zM1 30h1v1h-1zM4 25h1v1h-1zM20 20h1v1h-1zM10 1h1v1h-1zM23 9h1v1h-1zM23 15h1v1h-1zM18 9h1v1h-1zM23 22h1v1h-1zM7 20h1v1h-1zM18 24h1v1h-1zM12 6h1v1h-1zM11 25h1v1h-1zM9 17h1v1h-1zM19 9h1v1h-1zM6 9h1v1h-1zM25 20h1v1h-1zM21 13h1v1h-1zM26 26h1v1h-1zM14 12h1v1h-1zM3 19h1v1h-1zM17 19h1v1h-1zM5 23h1v1h-1zM21 22h1v1h-1zM26 18h1v1h-1zM25 3h1v1h-1zM13 14h1v1h-1zM14 8h1v1h-1zM3 18h1v1h-1zM15 7h1v1h-1zM24 7h1v1h-1zM13 15h1v1h-1zM16 20h1v1h-1zM21 8h1v1h-1zM17 27h1v1h-1zM11 17h1v1h-1zM22 18h1v1h-1zM20 22h1v1h-1zM12 16h1v1h-1zM10 15h1v1h-1zM14 30h1v1h-1zM23 23h1v1h-1zM28 7h1v1h-1zM1 6h1v1h-1zM3 25h1v1h-1zM0 9h1v1h-1zM17 7h1v1h-1zM4 26h1v1h-1zM20 14h1v1h-1zM17 0h1v1h-1zM1 14h1v1h-1zM20 1h1v1h-1zM8 8h1v1h-1zM10 20h1v1h-1zM17 8h1v1h-1zM4 31h1v1h-1zM26 22h1v1h-1zM25 31h1v1h-1zM15 25h1v1h-1zM27 1h1v1h-1zM10 2h1v1h-1zM14 23h1v1h-1zM14 26h1v1h-1zM7 1h1v1h-1zM21 28h1v1h-1zM0 24h1v1h-1zM14 4h1v1h-1zM5 20h1v1h-1zM12 22h1v1h-1zM22 23h1v1h-1zM7 26h1v1h-1zM16 17h1v1h-1zM12 8h1v1h-1zM22 21h1v1h-1zM17 23h1v1h-1zM9 30h1v1h-1zM6 17h1v1h-1zM21 31h1v1h-1zM23 13h1v1h-1zM5 22h1v1h-1zM26 14h1v1h-1zM2 27h1v1h-1zM3 1h1v1h-1zM7 21h1v1h-1zM13 5h1v1h-1zM11 3h1v1h-1zM8 13h1v1h-1zM9 19h1v1h-1zM23 19h1v1h-1zM26 23h1v1h-1zM13 25h1v1h-1zM9 6h1v1h-1zM7 27h1v1h-1zM6 26h1v1h-1zM1 5h1v1h-1zM24 31h1v1h-1zM22 29h1v1h-1zM0 7h1v1h-1zM8 15h1v1h-1zM21 29h1v1h-1zM24 25h1v1h-1zM7 23h1v1h-1zM6 7h1v1h-1zM6 27h1v1h-1zM9 25h1v1h-1zM1 15h1v1h-1zM8 1h1v1h-1zM22 8h1v1h-1zM9 3h1v1h-1zM23 8h1v1h-1zM23 21h1v1h-1zM26 28h1v1h-1zM6 31h1v1h-1zM5 15h1v1h-1zM25 4h1v1h-1zM13 6h1v1h-1zM9 12h1v1h-1zM7 30h1v1h-1zM4 0h1v1h-1zM10 8h1v1h-1zM3 26h1v1h-1zM11 31h1v1h-1zM16 24h1v1h-1zM24 20h1v1h-1zM21 23h1v1h-1zM22 28h1v1h-1zM9 22h1v1h-1zM5 14h1v1h-1zM12 12h1v1h-1zM17 18h1v1h-1zM29 7h1v1h-1zM21 25h1v1h-1zM5 19h1v1h-1zM15 9h1v1h-1zM27 20h1v1h-1zM14 27h1v1h-1zM20 25h1v1h-1zM22 6h1v1h-1zM17 15h1v1h-1zM27 24h1v1h-1zM14 19h1v1h-1zM26 30h1v1h-1zM17 1h1v1h-1zM0 25h1v1h-1zM12 20h1v1h-1zM20 23h1v1h-1zM23 25h1v1h-1zM2 31h1v1h-1zM21 21h1v1h-1zM13 9h1v1h-1zM29 25h1v1h-1zM23 6h1v1h-1zM15 13h1v1h-1zM8 25h1v1h-1zM24 2h1v1h-1zM15 1h1v1h-1zM10 12h1v1h-1zM11 12h1v1h-1zM26 9h1v1h-1zM11 23h1v1h-1zM24 0h1v1h-1zM13 13h1v1h-1zM7 6h1v1h-1zM27 2h1v1h-1zM16 21h1v1h-1zM0 2h1v1h-1zM20 8h1v1h-1zM30 25h1v1h-1zM26 13h1v1h-1zM26 16h1v1h-1zM17 26h1v1h-1zM2 19h1v1h-1zM20 2h1v1h-1zM23 0h1v1h-1zM23 28h1v1h-1zM9 4h1v1h-1zM1 13h1v1h-1zM27 6h1v1h-1zM19 24h1v1h-1zM29 31h1v1h-1zM13 4h1v1h-1zM29 26h1v1h-1zM1 21h1v1h-1zM22 30h1v1h-1zM3 20h1v1h-1zM28 31h1v1h-1zM9 10h1v1h-1zM3 7h1v1h-1zM2 17h1v1h-1zM29 24h1v1h-1z"/><path fill="#cccce8" d="M18 20h1v1h-1zM0 3h1v1h-1zM18 15h1v1h-1zM16 19h1v1h-1zM7 4h1v1h-1zM28 24h1v1h-1zM6 20h1v1h-1zM16 13h1v1h-1zM18 23h1v1h-1zM18 27h1v1h-1zM8 19h1v1h-1zM15 15h1v1h-1zM6 1h1v1h-1zM8 12h1v1h-1zM8 29h1v1h-1zM31 9h1v1h-1zM6 6h1v1h-1zM13 30h1v1h-1zM28 6h1v1h-1zM2 26h1v1h-1zM1 11h1v1h-1zM27 9h1v1h-1zM15 2h1v1h-1zM23 16h1v1h-1zM21 16h1v1h-1zM10 18h1v1h-1zM22 2h1v1h-1zM11 27h1v1h-1zM9 26h1v1h-1zM27 13h1v1h-1zM0 0h1v1h-1zM19 19h1v1h-1zM0 21h1v1h-1zM27 26h1v1h-1zM16 7h1v1h-1zM6 30h1v1h-1zM30 31h1v1h-1zM11 26h1v1h-1zM15 5h1v1h-1zM27 19h1v1h-1zM16 14h1v1h-1zM27 18h1v1h-1zM19 27h1v1h-1zM13 18h1v1h-1zM13 26h1v1h-1zM10 5h1v1h-1zM0 23h1v1h-1zM3 12h1v1h-1zM7 16h1v1h-1zM4 30h1v1h-1zM3 8h1v1h-1zM30 27h1v1h-1zM28 26h1v1h-1zM4 13h1v1h-1zM29 1h1v1h-1zM24 3h1v1h-1zM27 22h1v1h-1zM16 27h1v1h-1zM15 12h1v1h-1zM24 29h1v1h-1zM1 16h1v1h-1zM2 9h1v1h-1zM6 14h1v1h-1zM29 23h1v1h-1zM19 18h1v1h-1zM31 27h1v1h-1zM19 23h1v1h-1zM2 28h1v1h-1zM15 4h1v1h-1zM28 27h1v1h-1zM19 15h1v1h-1zM19 8h1v1h-1zM19 20h1v1h-1zM19 31h1v1h-1zM28 13h1v1h-1zM28 8h1v1h-1zM4 15h1v1h-1zM18 4h1v1h-1zM4 20h1v1h-1zM16 9h1v1h-1zM11 30h1v1h-1zM11 18h1v1h-1zM29 9h1v1h-1zM6 21h1v1h-1zM6 29h1v1h-1zM11 16h1v1h-1zM28 20h1v1h-1zM28 1h1v1h-1zM30 23h1v1h-1zM29 5h1v1h-1zM8 26h1v1h-1zM17 16h1v1h-1zM17 10h1v1h-1zM16 30h1v1h-1zM18 21h1v1h-1zM22 11h1v1h-1zM17 5h1v1h-1zM25 29h1v1h-1zM24 12h1v1h-1zM6 15h1v1h-1zM0 19h1v1h-1zM8 10h1v1h-1zM20 10h1v1h-1zM31 20h1v1h-1zM7 28h1v1h-1zM13 27h1v1h-1zM24 4h1v1h-1zM28 12h1v1h-1zM4 12h1v1h-1zM19 25h1v1h-1zM18 19h1v1h-1zM21 5h1v1h-1zM6 5h1v1h-1zM27 30h1v1h-1zM29 20h1v1h-1zM4 16h1v1h-1zM28 9h1v1h-1zM16 23h1v1h-1zM7 11h1v1h-1zM8 18h1v1h-1zM20 30h1v1h-1zM28 21h1v1h-1zM31 17h1v1h-1zM7 3h1v1h-1zM11 21h1v1h-1zM4 8h1v1h-1zM11 29h1v1h-1zM3 23h1v1h-1zM18 3h1v1h-1zM19 13h1v1h-1zM16 18h1v1h-1zM4 4h1v1h-1zM18 7h1v1h-1zM15 18h1v1h-1zM24 30h1v1h-1zM25 16h1v1h-1zM29 2h1v1h-1zM2 4h1v1h-1zM5 3h1v1h-1zM6 18h1v1h-1zM31 23h1v1h-1zM31 8h1v1h-1zM24 16h1v1h-1zM4 14h1v1h-1zM0 14h1v1h-1zM27 16h1v1h-1zM25 12h1v1h-1zM15 29h1v1h-1zM13 29h1v1h-1zM28 22h1v1h-1zM29 8h1v1h-1zM29 30h1v1h-1zM6 19h1v1h-1zM16 26h1v1h-1zM23 4h1v1h-1zM30 0h1v1h-1zM9 16h1v1h-1zM18 18h1v1h-1zM19 21h1v1h-1zM2 30h1v1h-1zM10 26h1v1h-1zM10 28h1v1h-1zM2 29h1v1h-1zM4 23h1v1h-1zM23 10h1v1h-1zM20 16h1v1h-1zM0 15h1v1h-1zM16 15h1v1h-1zM16 8h1v1h-1zM27 12h1v1h-1zM3 3h1v1h-1zM29 14h1v1h-1zM13 10h1v1h-1zM0 4h1v1h-1zM28 5h1v1h-1zM16 1h1v1h-1zM18 26h1v1h-1zM0 28h1v1h-1zM14 28h1v1h-1zM13 11h1v1h-1zM30 1h1v1h-1zM30 9h1v1h-1zM28 2h1v1h-1zM0 29h1v1h-1zM15 16h1v1h-1zM25 30h1v1h-1zM17 6h1v1h-1zM2 3h1v1h-1zM31 2h1v1h-1zM2 8h1v1h-1zM30 20h1v1h-1zM6 10h1v1h-1zM31 31h1v1h-1zM0 13h1v1h-1zM27 23h1v1h-1zM23 3h1v1h-1zM20 3h1v1h-1zM2 5h1v1h-1zM3 22h1v1h-1zM28 15h1v1h-1zM17 11h1v1h-1zM30 6h1v1h-1zM18 29h1v1h-1zM28 14h1v1h-1zM6 28h1v1h-1z"/><path fill="#8f8fcc" d="M18 10h1v1h-1zM20 12h1v1h-1zM29 4h1v1h-1zM31 1h1v1h-1zM15 10h1v1h-1zM30 2h1v1h-1zM29 15h1v1h-1zM16 29h1v1h-1zM0 6h1v1h-1zM12 28h1v1h-1zM0 30h1v1h-1zM0 10h1v1h-1zM0 18h1v1h-1zM2 15h1v1h-1zM4 2h1v1h-1zM21 11h1v1h-1zM8 28h1v1h-1zM23 11h1v1h-1zM28 30h1v1h-1zM8 11h1v1h-1zM6 11h1v1h-1zM2 14h1v1h-1zM15 3h1v1h-1zM19 3h1v1h-1zM30 30h1v1h-1zM2 6h1v1h-1zM18 30h1v1h-1zM19 28h1v1h-1zM29 29h1v1h-1zM22 4h1v1h-1zM27 29h1v1h-1zM10 16h1v1h-1zM8 16h1v1h-1zM6 2h1v1h-1zM18 12h1v1h-1zM4 22h1v1h-1zM18 28h1v1h-1zM19 10h1v1h-1zM19 29h1v1h-1zM19 26h1v1h-1zM6 16h1v1h-1zM30 13h1v1h-1zM30 8h1v1h-1zM3 21h1v1h-1zM11 28h1v1h-1zM21 4h1v1h-1zM21 3h1v1h-1zM31 0h1v1h-1zM2 23h1v1h-1zM15 11h1v1h-1zM30 5h1v1h-1zM22 3h1v1h-1zM28 4h1v1h-1zM28 23h1v1h-1zM30 29h1v1h-1zM28 18h1v1h-1zM16 4h1v1h-1zM16 2h1v1h-1zM16 12h1v1h-1zM31 29h1v1h-1zM31 6h1v1h-1zM2 13h1v1h-1zM6 4h1v1h-1zM20 4h1v1h-1zM19 7h1v1h-1zM19 4h1v1h-1zM29 3h1v1h-1zM16 16h1v1h-1zM27 28h1v1h-1zM20 6h1v1h-1zM29 11h1v1h-1zM29 18h1v1h-1zM3 11h1v1h-1zM0 5h1v1h-1zM0 12h1v1h-1zM4 21h1v1h-1zM26 11h1v1h-1zM31 30h1v1h-1zM30 15h1v1h-1zM28 3h1v1h-1zM30 14h1v1h-1zM2 22h1v1h-1zM3 10h1v1h-1zM28 19h1v1h-1zM15 28h1v1h-1zM30 12h1v1h-1zM19 30h1v1h-1zM4 10h1v1h-1zM20 5h1v1h-1zM18 5h1v1h-1zM13 28h1v1h-1zM31 14h1v1h-1zM28 29h1v1h-1zM31 15h1v1h-1zM4 11h1v1h-1zM18 16h1v1h-1zM16 28h1v1h-1zM30 4h1v1h-1zM31 13h1v1h-1zM24 11h1v1h-1zM24 10h1v1h-1zM26 10h1v1h-1z"/><path fill="#4c4cae" d="M31 3h1v1h-1zM19 16h1v1h-1zM4 3h1v1h-1zM16 5h1v1h-1zM2 12h1v1h-1zM29 16h1v1h-1zM29 10h1v1h-1zM29 28h1v1h-1zM0 11h1v1h-1zM16 6h1v1h-1zM20 11h1v1h-1zM31 28h1v1h-1zM16 3h1v1h-1zM2 21h1v1h-1zM28 11h1v1h-1zM30 3h1v1h-1zM28 16h1v1h-1zM2 16h1v1h-1zM29 19h1v1h-1zM18 11h1v1h-1zM31 19h1v1h-1zM19 12h1v1h-1zM31 4h1v1h-1zM0 16h1v1h-1zM25 11h1v1h-1zM31 5h1v1h-1zM31 18h1v1h-1zM30 28h1v1h-1zM31 10h1v1h-1zM6 3h1v1h-1zM30 18h1v1h-1zM16 10h1v1h-1zM28 28h1v1h-1zM31 12h1v1h-1zM27 11h1v1h-1zM25 10h1v1h-1zM30 16h1v1h-1zM28 10h1v1h-1zM2 10h1v1h-1zM30 10h1v1h-1zM30 19h1v1h-1zM18 6h1v1h-1zM30 11h1v1h-1zM16 11h1v1h-1zM19 5h1v1h-1zM31 16h1v1h-1zM27 10h1v1h-1zM2 11h1v1h-1zM19 11h1v1h-1zM31 11h1v1h-1zM19 6h1v1h-1z"/></pattern><pattern id="q6" width="32" height="32" patternUnits="userSpaceOnUse"><rect width="32" height="32" fill="#cc0000"/><path fill="#db4c4c" d="M18 2h1v1h-1zM11 23h1v1h-1zM18 6h1v1h-1zM26 12h1v1h-1zM16 5h1v1h-1zM13 12h1v1h-1zM29 25h1v1h-1zM23 30h1v1h-1zM30 28h1v1h-1zM21 13h1v1h-1zM23 27h1v1h-1zM25 30h1v1h-1zM31 28h1v1h-1zM12 11h1v1h-1zM5 28h1v1h-1zM18 13h1v1h-1zM20 12h1v1h-1zM11 0h1v1h-1zM17 1h1v1h-1zM16 3h1v1h-1zM22 14h1v1h-1zM19 28h1v1h-1zM24 11h1v1h-1zM14 18h1v1h-1zM5 23h1v1h-1zM19 23h1v1h-1zM4 25h1v1h-1zM21 11h1v1h-1zM17 3h1v1h-1zM18 30h1v1h-1zM24 12h1v1h-1zM24 16h1v1h-1zM3 26h1v1h-1zM4 1h1v1h-1zM11 21h1v1h-1zM10 13h1v1h-1zM30 30h1v1h-1zM1 23h1v1h-1zM7 26h1v1h-1zM6 15h1v1h-1zM17 0h1v1h-1zM24 4h1v1h-1zM19 11h1v1h-1zM11 28h1v1h-1zM28 30h1v1h-1zM19 4h1v1h-1zM3 25h1v1h-1zM0 26h1v1h-1zM3 0h1v1h-1zM23 20h1v1h-1zM4 23h1v1h-1zM30 16h1v1h-1zM18 0h1v1h-1zM15 19h1v1h-1zM25 10h1v1h-1zM30 15h1v1h-1zM12 28h1v1h-1zM30 11h1v1h-1zM16 30h1v1h-1zM18 4h1v1h-1zM0 6h1v1h-1zM5 26h1v1h-1zM10 19h1v1h-1zM23 13h1v1h-1zM10 16h1v1h-1zM26 13h1v1h-1zM3 27h1v1h-1zM13 4h1v1h-1zM4 0h1v1h-1zM26 28h1v1h-1zM31 12h1v1h-1zM31 13h1v1h-1zM18 7h1v1h-1zM24 10h1v1h-1zM22 20h1v1h-1zM3 23h1v1h-1zM21 18h1v1h-1zM15 17h1v1h-1zM3 14h1v1h-1zM24 26h1v1h-1zM2 13h1v1h-1zM2 1h1v1h-1zM17 4h1v1h-1zM24 27h1v1h-1zM29 20h1v1h-1zM29 21h1v1h-1zM8 28h1v1h-1zM10 5h1v1h-1zM23 11h1v1h-1zM22 19h1v1h-1zM11 25h1v1h-1zM12 25h1v1h-1zM1 22h1v1h-1zM4 28h1v1h-1zM0 31h1v1h-1zM2 23h1v1h-1zM7 30h1v1h-1zM13 14h1v1h-1zM7 14h1v1h-1zM12 23h1v1h-1zM6 19h1v1h-1zM4 26h1v1h-1z"/><path fill="#eb9999" d="M12 0h1v1h-1zM17 5h1v1h-1zM11 1h1v1h-1zM11 24h1v1h-1zM2 26h1v1h-1zM13 0h1v1h-1zM17 6h1v1h-1zM7 1h1v1h-1zM2 11h1v1h-1zM2 14h1v1h-1zM18 8h1v1h-1zM7 28h1v1h-1zM1 30h1v1h-1zM30 13h1v1h-1zM31 30h1v1h-1zM10 31h1v1h-1zM17 18h1v1h-1zM25 29h1v1h-1zM29 24h1v1h-1zM26 10h1v1h-1zM31 16h1v1h-1zM11 22h1v1h-1zM25 5h1v1h-1zM8 1h1v1h-1zM25 24h1v1h-1zM27 8h1v1h-1zM15 6h1v1h-1zM27 11h1v1h-1zM28 14h1v1h-1zM24 29h1v1h-1zM18 5h1v1h-1zM23 19h1v1h-1zM5 10h1v1h-1zM3 13h1v1h-1zM22 3h1v1h-1zM23 12h1v1h-1zM26 20h1v1h-1zM4 30h1v1h-1zM0 24h1v1h-1zM27 13h1v1h-1zM6 22h1v1h-1zM7 13h1v1h-1zM19 0h1v1h-1zM20 11h1v1h-1zM0 25h1v1h-1zM14 4h1v1h-1zM11 30h1v1h-1zM15 21h1v1h-1zM22 29h1v1h-1zM15 16h1v1h-1zM5 0h1v1h-1zM3 3h1v1h-1zM13 21h1v1h-1zM21 23h1v1h-1zM26 29h1v1h-1zM7 3h1v1h-1zM26 22h1v1h-1zM5 1h1v1h-1zM16 1h1v1h-1zM8 26h1v1h-1zM13 5h1v1h-1zM22 17h1v1h-1zM31 10h1v1h-1zM0 2h1v1h-1zM19 5h1v1h-1zM30 3h1v1h-1zM18 23h1v1h-1zM24 3h1v1h-1zM12 24h1v1h-1zM26 21h1v1h-1zM5 29h1v1h-1zM31 3h1v1h-1zM11 14h1v1h-1zM27 12h1v1h-1zM22 4h1v1h-1zM12 13h1v1h-1zM2 18h1v1h-1zM11 13h1v1h-1zM1 8h1v1h-1zM21 30h1v1h-1zM20 28h1v1h-1zM0 7h1v1h-1zM25 19h1v1h-1zM10 15h1v1h-1zM11 3h1v1h-1zM8 25h1v1h-1zM31 15h1v1h-1zM3 5h1v1h-1zM27 10h1v1h-1zM27 9h1v1h-1zM12 10h1v1h-1zM26 8h1v1h-1zM15 31h1v1h-1zM11 4h1v1h-1zM2 4h1v1h-1zM2 12h1v1h-1zM7 8h1v1h-1zM23 16h1v1h-1zM15 1h1v1h-1zM1 9h1v1h-1zM26 23h1v1h-1zM30 4h1v1h-1zM2 0h1v1h-1zM13 28h1v1h-1zM4 10h1v1h-1zM3 11h1v1h-1zM17 2h1v1h-1zM19 29h1v1h-1zM13 3h1v1h-1zM5 24h1v1h-1zM1 4h1v1h-1zM2 3h1v1h-1zM14 5h1v1h-1zM3 12h1v1h-1zM4 15h1v1h-1zM2 10h1v1h-1zM3 4h1v1h-1zM23 14h1v1h-1zM3 2h1v1h-1zM20 3h1v1h-1zM4 19h1v1h-1zM5 19h1v1h-1zM28 13h1v1h-1zM31 4h1v1h-1zM20 30h1v1h-1zM7 16h1v1h-1zM12 22h1v1h-1zM8 23h1v1h-1zM13 10h1v1h-1zM29 17h1v1h-1zM6 7h1v1h-1zM2 25h1v1h-1zM19 27h1v1h-1zM3 17h1v1h-1zM10 8h1v1h-1zM20 14h1v1h-1zM21 25h1v1h-1zM10 6h1v1h-1zM12 12h1v1h-1zM12 4h1v1h-1zM2 30h1v1h-1zM26 9h1v1h-1zM24 15h1v1h-1zM19 26h1v1h-1zM9 28h1v1h-1zM17 30h1v1h-1zM7 5h1v1h-1zM12 19h1v1h-1zM15 28h1v1h-1zM1 0h1v1h-1zM17 8h1v1h-1zM25 9h1v1h-1zM2 22h1v1h-1zM27 28h1v1h-1z"/><path fill="#f7d6d6" d="M2 5h1v1h-1zM7 4h1v1h-1zM2 16h1v1h-1zM7 0h1v1h-1zM15 23h1v1h-1zM19 10h1v1h-1zM24 6h1v1h-1zM23 10h1v1h-1zM8 0h1v1h-1zM8 22h1v1h-1zM20 23h1v1h-1zM28 28h1v1h-1zM8 3h1v1h-1zM14 20h1v1h-1zM15 11h1v1h-1zM18 11h1v1h-1zM3 30h1v1h-1zM30 10h1v1h-1zM12 14h1v1h-1zM5 27h1v1h-1zM3 15h1v1h-1zM12 30h1v1h-1zM3 22h1v1h-1zM19 24h1v1h-1zM8 14h1v1h-1zM18 28h1v1h-1zM17 14h1v1h-1zM8 27h1v1h-1zM21 26h1v1h-1zM16 6h1v1h-1zM8 30h1v1h-1zM30 12h1v1h-1zM1 26h1v1h-1zM7 23h1v1h-1zM7 9h1v1h-1zM1 3h1v1h-1zM25 16h1v1h-1zM0 19h1v1h-1zM7 6h1v1h-1zM16 17h1v1h-1zM21 24h1v1h-1zM8 8h1v1h-1zM23 29h1v1h-1zM23 4h1v1h-1zM22 5h1v1h-1zM19 25h1v1h-1zM23 5h1v1h-1zM20 6h1v1h-1zM28 10h1v1h-1zM3 6h1v1h-1zM22 31h1v1h-1zM4 24h1v1h-1zM7 27h1v1h-1zM7 29h1v1h-1zM21 14h1v1h-1zM1 1h1v1h-1zM21 28h1v1h-1zM18 12h1v1h-1zM4 27h1v1h-1zM27 14h1v1h-1zM11 19h1v1h-1zM16 31h1v1h-1zM13 30h1v1h-1zM15 29h1v1h-1zM30 6h1v1h-1zM15 14h1v1h-1zM15 13h1v1h-1zM22 22h1v1h-1zM14 3h1v1h-1zM7 10h1v1h-1zM4 5h1v1h-1zM12 3h1v1h-1zM2 8h1v1h-1zM28 8h1v1h-1zM1 29h1v1h-1zM24 17h1v1h-1zM9 22h1v1h-1zM26 14h1v1h-1zM0 17h1v1h-1zM30 29h1v1h-1zM23 3h1v1h-1zM12 1h1v1h-1zM27 29h1v1h-1zM25 4h1v1h-1zM1 16h1v1h-1zM21 16h1v1h-1zM25 8h1v1h-1zM20 7h1v1h-1zM3 10h1v1h-1zM15 2h1v1h-1zM6 20h1v1h-1zM17 7h1v1h-1zM20 8h1v1h-1zM13 16h1v1h-1zM3 20h1v1h-1zM10 17h1v1h-1zM11 26h1v1h-1zM16 20h1v1h-1zM7 2h1v1h-1zM18 24h1v1h-1zM30 5h1v1h-1zM16 16h1v1h-1zM4 3h1v1h-1zM19 22h1v1h-1zM26 5h1v1h-1zM4 2h1v1h-1zM28 9h1v1h-1zM8 4h1v1h-1zM13 23h1v1h-1zM11 11h1v1h-1zM7 24h1v1h-1zM1 5h1v1h-1zM13 19h1v1h-1zM13 1h1v1h-1zM4 22h1v1h-1zM24 9h1v1h-1zM18 25h1v1h-1zM3 24h1v1h-1zM2 29h1v1h-1zM22 15h1v1h-1zM31 18h1v1h-1zM5 3h1v1h-1zM20 27h1v1h-1zM12 26h1v1h-1zM13 17h1v1h-1zM28 11h1v1h-1zM15 12h1v1h-1zM25 6h1v1h-1zM25 27h1v1h-1zM16 2h1v1h-1zM1 15h1v1h-1zM18 18h1v1h-1zM21 3h1v1h-1zM4 6h1v1h-1zM18 10h1v1h-1zM11 27h1v1h-1zM5 15h1v1h-1zM1 18h1v1h-1zM5 5h1v1h-1zM4 20h1v1h-1zM15 22h1v1h-1zM5 31h1v1h-1zM23 22h1v1h-1zM12 27h1v1h-1zM21 27h1v1h-1zM18 29h1v1h-1zM8 21h1v1h-1zM3 19h1v1h-1zM20 2h1v1h-1zM2 6h1v1h-1zM11 29h1v1h-1zM8 2h1v1h-1zM4 4h1v1h-1zM7 18h1v1h-1zM8 20h1v1h-1zM22 0h1v1h-1zM20 26h1v1h-1zM1 25h1v1h-1zM20 1h1v1h-1zM18 26h1v1h-1zM3 8h1v1h-1zM25 15h1v1h-1zM9 23h1v1h-1zM2 15h1v1h-1zM30 27h1v1h-1zM17 13h1v1h-1zM19 9h1v1h-1zM13 6h1v1h-1zM31 29h1v1h-1zM31 27h1v1h-1zM5 2h1v1h-1zM9 21h1v1h-1zM1 21h1v1h-1zM9 20h1v1h-1zM8 29h1v1h-1zM23 17h1v1h-1zM28 29h1v1h-1zM5 6h1v1h-1zM8 5h1v1h-1zM13 22h1v1h-1zM2 20h1v1h-1zM13 25h1v1h-1zM21 10h1v1h-1zM12 5h1v1h-1zM1 20h1v1h-1zM12 29h1v1h-1zM11 5h1v1h-1zM2 9h1v1h-1zM2 2h1v1h-1zM28 15h1v1h-1zM11 12h1v1h-1zM4 29h1v1h-1zM14 13h1v1h-1zM26 18h1v1h-1zM23 21h1v1h-1zM5 9h1v1h-1zM3 29h1v1h-1zM22 6h1v1h-1zM25 25h1v1h-1zM5 22h1v1h-1zM5 8h1v1h-1zM12 16h1v1h-1zM11 2h1v1h-1zM8 9h1v1h-1zM26 6h1v1h-1z"/><path fill="#ffffff" d="M11 10h1v1h-1zM1 24h1v1h-1zM17 16h1v1h-1zM30 8h1v1h-1zM2 24h1v1h-1zM30 18h1v1h-1zM15 25h1v1h-1zM31 22h1v1h-1zM24 8h1v1h-1zM13 24h1v1h-1zM24 1h1v1h-1zM20 4h1v1h-1zM19 18h1v1h-1zM31 5h1v1h-1zM31 23h1v1h-1zM20 10h1v1h-1zM18 31h1v1h-1zM11 16h1v1h-1zM14 0h1v1h-1zM10 7h1v1h-1zM10 12h1v1h-1zM12 17h1v1h-1zM29 19h1v1h-1zM28 12h1v1h-1zM27 5h1v1h-1zM15 24h1v1h-1zM14 11h1v1h-1zM18 22h1v1h-1zM31 8h1v1h-1zM17 10h1v1h-1zM16 28h1v1h-1zM5 4h1v1h-1zM17 31h1v1h-1zM11 31h1v1h-1zM4 8h1v1h-1zM7 11h1v1h-1zM8 6h1v1h-1zM22 21h1v1h-1zM17 11h1v1h-1zM10 9h1v1h-1zM22 9h1v1h-1zM20 29h1v1h-1zM19 31h1v1h-1zM1 6h1v1h-1zM27 0h1v1h-1zM14 12h1v1h-1zM30 7h1v1h-1zM24 2h1v1h-1zM20 25h1v1h-1zM24 0h1v1h-1zM8 24h1v1h-1zM8 16h1v1h-1zM18 27h1v1h-1zM9 27h1v1h-1zM8 13h1v1h-1zM16 14h1v1h-1zM20 18h1v1h-1zM7 12h1v1h-1zM31 6h1v1h-1zM28 16h1v1h-1zM27 31h1v1h-1zM2 21h1v1h-1zM4 31h1v1h-1zM5 20h1v1h-1zM10 10h1v1h-1zM18 9h1v1h-1zM26 4h1v1h-1zM16 29h1v1h-1zM9 1h1v1h-1zM15 10h1v1h-1zM10 11h1v1h-1zM13 29h1v1h-1zM28 4h1v1h-1zM14 14h1v1h-1zM7 15h1v1h-1zM16 8h1v1h-1zM31 20h1v1h-1zM4 9h1v1h-1zM20 24h1v1h-1zM27 20h1v1h-1zM20 5h1v1h-1zM16 19h1v1h-1zM21 4h1v1h-1zM27 22h1v1h-1zM28 5h1v1h-1zM27 21h1v1h-1zM17 28h1v1h-1zM22 2h1v1h-1zM15 26h1v1h-1zM7 22h1v1h-1zM7 7h1v1h-1zM20 0h1v1h-1zM21 29h1v1h-1zM25 26h1v1h-1zM15 15h1v1h-1zM17 17h1v1h-1zM23 6h1v1h-1zM30 23h1v1h-1zM25 3h1v1h-1zM12 31h1v1h-1zM14 6h1v1h-1zM1 31h1v1h-1zM16 21h1v1h-1zM27 6h1v1h-1zM13 31h1v1h-1zM22 1h1v1h-1zM23 15h1v1h-1zM23 31h1v1h-1zM14 19h1v1h-1zM3 21h1v1h-1zM16 11h1v1h-1zM30 2h1v1h-1zM14 30h1v1h-1zM18 16h1v1h-1zM17 9h1v1h-1zM21 6h1v1h-1zM8 15h1v1h-1zM31 0h1v1h-1zM17 23h1v1h-1zM11 17h1v1h-1zM22 8h1v1h-1zM30 1h1v1h-1zM27 4h1v1h-1zM28 6h1v1h-1zM24 31h1v1h-1zM3 7h1v1h-1zM3 9h1v1h-1zM26 27h1v1h-1zM21 20h1v1h-1zM30 0h1v1h-1zM19 20h1v1h-1zM14 17h1v1h-1zM31 2h1v1h-1zM13 15h1v1h-1zM26 0h1v1h-1zM2 7h1v1h-1zM31 1h1v1h-1zM14 21h1v1h-1zM27 7h1v1h-1zM31 9h1v1h-1zM26 19h1v1h-1zM14 16h1v1h-1zM16 10h1v1h-1zM18 15h1v1h-1zM3 31h1v1h-1zM27 23h1v1h-1zM9 30h1v1h-1zM26 31h1v1h-1zM19 21h1v1h-1zM30 26h1v1h-1zM21 17h1v1h-1zM28 31h1v1h-1zM31 21h1v1h-1zM30 31h1v1h-1zM30 9h1v1h-1zM28 27h1v1h-1zM7 31h1v1h-1zM6 21h1v1h-1zM23 9h1v1h-1zM8 10h1v1h-1zM28 0h1v1h-1zM1 2h1v1h-1zM9 26h1v1h-1zM11 6h1v1h-1zM13 27h1v1h-1zM13 26h1v1h-1zM21 22h1v1h-1zM2 19h1v1h-1zM2 17h1v1h-1zM20 22h1v1h-1zM15 27h1v1h-1zM9 3h1v1h-1zM28 22h1v1h-1zM21 5h1v1h-1zM11 15h1v1h-1zM26 7h1v1h-1zM30 22h1v1h-1zM21 19h1v1h-1zM1 7h1v1h-1zM9 0h1v1h-1zM21 1h1v1h-1zM17 26h1v1h-1zM17 29h1v1h-1zM16 13h1v1h-1zM9 29h1v1h-1zM25 17h1v1h-1zM16 23h1v1h-1zM13 2h1v1h-1zM28 23h1v1h-1zM26 24h1v1h-1zM18 21h1v1h-1zM23 0h1v1h-1zM21 0h1v1h-1zM21 8h1v1h-1zM17 12h1v1h-1zM31 31h1v1h-1zM21 15h1v1h-1zM20 9h1v1h-1zM14 1h1v1h-1zM2 31h1v1h-1zM15 8h1v1h-1zM31 7h1v1h-1zM21 2h1v1h-1zM17 25h1v1h-1zM12 6h1v1h-1z"/><path fill="#cccce8" d="M16 7h1v1h-1zM28 7h1v1h-1zM8 7h1v1h-1zM11 8h1v1h-1zM19 15h1v1h-1zM17 15h1v1h-1zM4 7h1v1h-1zM12 9h1v1h-1zM14 23h1v1h-1zM25 7h1v1h-1zM7 17h1v1h-1zM21 31h1v1h-1zM27 27h1v1h-1zM20 16h1v1h-1zM19 16h1v1h-1zM31 26h1v1h-1zM12 2h1v1h-1zM25 0h1v1h-1zM26 16h1v1h-1zM28 3h1v1h-1zM16 9h1v1h-1zM18 20h1v1h-1zM25 1h1v1h-1zM23 1h1v1h-1zM27 15h1v1h-1zM17 20h1v1h-1zM16 22h1v1h-1zM28 26h1v1h-1zM27 16h1v1h-1zM4 21h1v1h-1zM14 28h1v1h-1zM11 9h1v1h-1zM25 31h1v1h-1zM12 15h1v1h-1zM9 25h1v1h-1zM5 7h1v1h-1zM7 20h1v1h-1zM23 2h1v1h-1zM24 7h1v1h-1zM9 14h1v1h-1zM16 15h1v1h-1zM17 24h1v1h-1zM30 20h1v1h-1zM21 7h1v1h-1zM31 17h1v1h-1zM15 7h1v1h-1zM26 15h1v1h-1zM23 8h1v1h-1zM17 27h1v1h-1zM28 21h1v1h-1zM17 21h1v1h-1zM17 22h1v1h-1zM16 26h1v1h-1zM9 4h1v1h-1zM27 1h1v1h-1zM16 12h1v1h-1zM20 20h1v1h-1zM22 7h1v1h-1zM30 25h1v1h-1zM1 19h1v1h-1zM27 18h1v1h-1zM9 2h1v1h-1zM8 18h1v1h-1zM8 31h1v1h-1zM21 9h1v1h-1zM30 17h1v1h-1zM16 27h1v1h-1zM13 9h1v1h-1zM20 15h1v1h-1zM14 31h1v1h-1zM20 31h1v1h-1zM14 22h1v1h-1zM15 9h1v1h-1zM12 8h1v1h-1zM18 17h1v1h-1zM31 25h1v1h-1zM1 17h1v1h-1zM30 21h1v1h-1zM16 25h1v1h-1zM14 24h1v1h-1zM26 1h1v1h-1zM28 20h1v1h-1zM14 25h1v1h-1zM31 19h1v1h-1zM13 8h1v1h-1zM31 24h1v1h-1zM28 1h1v1h-1zM30 24h1v1h-1zM14 2h1v1h-1zM26 3h1v1h-1zM27 3h1v1h-1zM9 24h1v1h-1zM26 26h1v1h-1zM14 29h1v1h-1zM8 11h1v1h-1zM9 16h1v1h-1zM26 25h1v1h-1zM7 21h1v1h-1zM25 2h1v1h-1zM16 24h1v1h-1zM27 26h1v1h-1zM21 21h1v1h-1z"/><path fill="#8f8fcc" d="M28 25h1v1h-1zM9 8h1v1h-1zM5 21h1v1h-1zM28 18h1v1h-1zM9 18h1v1h-1zM14 10h1v1h-1zM11 7h1v1h-1zM20 21h1v1h-1zM14 15h1v1h-1zM7 19h1v1h-1zM13 7h1v1h-1zM9 5h1v1h-1zM19 19h1v1h-1zM8 19h1v1h-1zM8 12h1v1h-1zM20 19h1v1h-1zM23 7h1v1h-1zM17 19h1v1h-1zM9 15h1v1h-1zM28 24h1v1h-1zM27 24h1v1h-1zM30 19h1v1h-1zM27 19h1v1h-1zM19 17h1v1h-1zM27 25h1v1h-1zM20 17h1v1h-1zM28 2h1v1h-1zM14 26h1v1h-1zM9 6h1v1h-1zM18 19h1v1h-1zM12 7h1v1h-1zM9 13h1v1h-1zM26 17h1v1h-1zM8 17h1v1h-1zM14 27h1v1h-1zM9 19h1v1h-1zM9 31h1v1h-1zM27 2h1v1h-1zM26 2h1v1h-1zM9 9h1v1h-1zM14 7h1v1h-1zM9 7h1v1h-1zM28 17h1v1h-1zM14 8h1v1h-1zM27 17h1v1h-1zM28 19h1v1h-1zM9 10h1v1h-1zM9 17h1v1h-1zM14 9h1v1h-1zM9 11h1v1h-1zM9 12h1v1h-1z"/></pattern><pattern id="q7" width="32" height="32" patternUnits="userSpaceOnUse"><rect width="32" height="32" fill="#cc0000"/><path fill="#db4c4c" d="M21 3h1v1h-1zM20 24h1v1h-1zM14 16h1v1h-1zM17 11h1v1h-1zM0 6h1v1h-1zM27 14h1v1h-1zM1 10h1v1h-1zM30 3h1v1h-1zM31 25h1v1h-1zM5 27h1v1h-1zM5 6h1v1h-1zM31 15h1v1h-1zM11 8h1v1h-1zM24 25h1v1h-1zM20 13h1v1h-1zM16 0h1v1h-1zM17 0h1v1h-1zM22 14h1v1h-1zM8 13h1v1h-1zM22 12h1v1h-1zM17 14h1v1h-1zM30 28h1v1h-1zM31 17h1v1h-1zM12 2h1v1h-1zM29 18h1v1h-1zM31 13h1v1h-1zM24 27h1v1h-1zM13 5h1v1h-1zM0 8h1v1h-1zM4 20h1v1h-1zM8 14h1v1h-1zM28 0h1v1h-1zM15 3h1v1h-1zM10 31h1v1h-1zM30 12h1v1h-1zM21 22h1v1h-1zM13 9h1v1h-1zM9 22h1v1h-1zM3 18h1v1h-1zM19 1h1v1h-1zM24 15h1v1h-1zM12 11h1v1h-1zM28 11h1v1h-1zM14 1h1v1h-1zM13 0h1v1h-1zM10 4h1v1h-1zM10 13h1v1h-1zM29 11h1v1h-1zM22 5h1v1h-1zM11 24h1v1h-1zM5 30h1v1h-1zM20 17h1v1h-1zM7 25h1v1h-1zM19 27h1v1h-1zM27 17h1v1h-1zM16 8h1v1h-1zM7 2h1v1h-1zM13 16h1v1h-1zM17 10h1v1h-1zM17 17h1v1h-1zM3 25h1v1h-1zM29 21h1v1h-1zM10 11h1v1h-1zM12 4h1v1h-1zM3 27h1v1h-1zM12 23h1v1h-1zM24 4h1v1h-1zM2 5h1v1h-1zM10 14h1v1h-1zM8 18h1v1h-1zM7 23h1v1h-1zM28 10h1v1h-1zM5 26h1v1h-1zM11 17h1v1h-1zM24 7h1v1h-1zM18 18h1v1h-1zM16 15h1v1h-1zM27 5h1v1h-1zM29 22h1v1h-1zM6 6h1v1h-1zM4 11h1v1h-1zM8 6h1v1h-1zM2 24h1v1h-1zM28 5h1v1h-1zM21 30h1v1h-1zM28 16h1v1h-1zM5 4h1v1h-1zM7 19h1v1h-1zM23 30h1v1h-1zM18 15h1v1h-1zM21 20h1v1h-1zM4 5h1v1h-1zM30 31h1v1h-1zM22 7h1v1h-1zM19 25h1v1h-1zM11 6h1v1h-1zM20 27h1v1h-1zM27 30h1v1h-1zM17 9h1v1h-1zM11 18h1v1h-1zM2 3h1v1h-1zM22 29h1v1h-1zM16 17h1v1h-1zM11 14h1v1h-1zM29 20h1v1h-1zM8 27h1v1h-1zM25 18h1v1h-1zM24 12h1v1h-1zM20 23h1v1h-1zM21 7h1v1h-1zM24 0h1v1h-1zM28 13h1v1h-1zM25 28h1v1h-1zM12 1h1v1h-1zM3 7h1v1h-1zM15 21h1v1h-1zM3 31h1v1h-1zM30 18h1v1h-1zM29 0h1v1h-1zM11 25h1v1h-1zM6 18h1v1h-1zM29 31h1v1h-1zM24 31h1v1h-1zM11 13h1v1h-1zM9 18h1v1h-1zM23 3h1v1h-1zM1 23h1v1h-1zM25 4h1v1h-1zM25 29h1v1h-1zM27 20h1v1h-1zM3 6h1v1h-1zM6 23h1v1h-1zM15 20h1v1h-1zM2 11h1v1h-1zM30 21h1v1h-1zM4 3h1v1h-1zM22 28h1v1h-1zM30 20h1v1h-1zM18 20h1v1h-1zM30 24h1v1h-1zM3 28h1v1h-1zM28 1h1v1h-1zM1 26h1v1h-1zM17 28h1v1h-1zM16 14h1v1h-1zM21 10h1v1h-1zM1 0h1v1h-1zM2 30h1v1h-1zM3 26h1v1h-1zM22 21h1v1h-1zM17 13h1v1h-1zM1 4h1v1h-1zM8 28h1v1h-1zM18 14h1v1h-1z"/><path fill="#eb9999" d="M15 6h1v1h-1zM9 24h1v1h-1zM24 21h1v1h-1zM29 28h1v1h-1zM10 7h1v1h-1zM30 5h1v1h-1zM16 4h1v1h-1zM26 5h1v1h-1zM27 16h1v1h-1zM19 4h1v1h-1zM22 18h1v1h-1zM8 29h1v1h-1zM10 8h1v1h-1zM12 28h1v1h-1zM25 12h1v1h-1zM21 15h1v1h-1zM17 2h1v1h-1zM7 26h1v1h-1zM12 10h1v1h-1zM1 31h1v1h-1zM18 17h1v1h-1zM9 15h1v1h-1zM10 18h1v1h-1zM10 6h1v1h-1zM3 13h1v1h-1zM13 23h1v1h-1zM18 11h1v1h-1zM5 17h1v1h-1zM4 24h1v1h-1zM1 28h1v1h-1zM4 9h1v1h-1zM21 14h1v1h-1zM7 15h1v1h-1zM9 31h1v1h-1zM0 4h1v1h-1zM21 5h1v1h-1zM8 26h1v1h-1zM11 15h1v1h-1zM22 0h1v1h-1zM5 13h1v1h-1zM2 20h1v1h-1zM28 31h1v1h-1zM5 28h1v1h-1zM22 31h1v1h-1zM22 6h1v1h-1zM25 6h1v1h-1zM20 16h1v1h-1zM0 9h1v1h-1zM11 0h1v1h-1zM31 27h1v1h-1zM15 31h1v1h-1zM17 1h1v1h-1zM0 18h1v1h-1zM18 29h1v1h-1zM24 1h1v1h-1zM24 16h1v1h-1zM25 21h1v1h-1zM12 25h1v1h-1zM1 27h1v1h-1zM1 29h1v1h-1zM21 0h1v1h-1zM10 15h1v1h-1zM25 24h1v1h-1zM27 0h1v1h-1zM4 10h1v1h-1zM22 20h1v1h-1zM4 18h1v1h-1zM30 6h1v1h-1zM13 2h1v1h-1zM28 6h1v1h-1zM5 14h1v1h-1zM2 0h1v1h-1zM0 11h1v1h-1zM24 8h1v1h-1zM31 2h1v1h-1zM30 10h1v1h-1zM3 1h1v1h-1zM24 2h1v1h-1zM5 15h1v1h-1zM6 25h1v1h-1zM7 27h1v1h-1zM24 20h1v1h-1zM0 24h1v1h-1zM16 11h1v1h-1zM20 25h1v1h-1zM18 0h1v1h-1zM24 22h1v1h-1zM17 27h1v1h-1zM21 8h1v1h-1zM21 28h1v1h-1zM16 28h1v1h-1zM24 26h1v1h-1zM2 9h1v1h-1zM2 13h1v1h-1zM3 14h1v1h-1zM22 11h1v1h-1zM29 5h1v1h-1zM15 22h1v1h-1zM16 9h1v1h-1zM19 26h1v1h-1zM21 6h1v1h-1zM0 14h1v1h-1zM16 10h1v1h-1zM28 2h1v1h-1zM30 11h1v1h-1zM5 19h1v1h-1zM27 13h1v1h-1zM3 4h1v1h-1zM8 10h1v1h-1zM11 11h1v1h-1zM20 1h1v1h-1zM8 25h1v1h-1zM0 13h1v1h-1zM18 4h1v1h-1zM18 10h1v1h-1zM15 5h1v1h-1zM2 8h1v1h-1zM31 1h1v1h-1zM11 9h1v1h-1zM28 29h1v1h-1zM25 0h1v1h-1zM13 11h1v1h-1zM8 24h1v1h-1zM27 7h1v1h-1zM1 15h1v1h-1zM2 7h1v1h-1zM29 1h1v1h-1zM30 22h1v1h-1zM8 15h1v1h-1zM14 28h1v1h-1zM2 25h1v1h-1zM10 9h1v1h-1zM24 14h1v1h-1zM0 29h1v1h-1zM9 10h1v1h-1zM23 18h1v1h-1zM10 2h1v1h-1zM11 28h1v1h-1zM23 29h1v1h-1zM29 6h1v1h-1zM31 19h1v1h-1zM7 29h1v1h-1zM16 2h1v1h-1zM26 30h1v1h-1zM28 25h1v1h-1zM28 23h1v1h-1zM8 2h1v1h-1zM6 30h1v1h-1zM30 0h1v1h-1zM22 8h1v1h-1zM25 7h1v1h-1zM8 31h1v1h-1zM13 4h1v1h-1zM23 15h1v1h-1z"/><path fill="#f7d6d6" d="M9 6h1v1h-1zM11 4h1v1h-1zM18 8h1v1h-1zM27 8h1v1h-1zM18 13h1v1h-1zM29 15h1v1h-1zM18 28h1v1h-1zM3 17h1v1h-1zM9 2h1v1h-1zM21 31h1v1h-1zM16 1h1v1h-1zM17 16h1v1h-1zM28 28h1v1h-1zM10 17h1v1h-1zM8 7h1v1h-1zM20 4h1v1h-1zM10 0h1v1h-1zM1 1h1v1h-1zM2 10h1v1h-1zM4 27h1v1h-1zM23 5h1v1h-1zM19 19h1v1h-1zM1 2h1v1h-1zM13 10h1v1h-1zM25 22h1v1h-1zM10 10h1v1h-1zM31 23h1v1h-1zM23 28h1v1h-1zM15 18h1v1h-1zM14 19h1v1h-1zM26 12h1v1h-1zM27 1h1v1h-1zM11 16h1v1h-1zM21 29h1v1h-1zM2 6h1v1h-1zM29 14h1v1h-1zM3 23h1v1h-1zM4 8h1v1h-1zM13 1h1v1h-1zM3 29h1v1h-1zM18 9h1v1h-1zM31 16h1v1h-1zM25 17h1v1h-1zM2 14h1v1h-1zM26 21h1v1h-1zM29 25h1v1h-1zM7 31h1v1h-1zM8 9h1v1h-1zM26 18h1v1h-1zM6 4h1v1h-1zM18 31h1v1h-1zM29 17h1v1h-1zM2 31h1v1h-1zM6 13h1v1h-1zM21 9h1v1h-1zM31 26h1v1h-1zM25 8h1v1h-1zM18 1h1v1h-1zM21 13h1v1h-1zM7 28h1v1h-1zM15 29h1v1h-1zM27 31h1v1h-1zM16 16h1v1h-1zM4 30h1v1h-1zM8 19h1v1h-1zM25 20h1v1h-1zM9 9h1v1h-1zM25 1h1v1h-1zM6 14h1v1h-1zM0 28h1v1h-1zM22 1h1v1h-1zM15 8h1v1h-1zM18 16h1v1h-1zM22 4h1v1h-1zM25 31h1v1h-1zM20 26h1v1h-1zM5 29h1v1h-1zM3 15h1v1h-1zM27 6h1v1h-1zM16 27h1v1h-1zM5 2h1v1h-1zM0 10h1v1h-1zM11 2h1v1h-1zM11 26h1v1h-1zM17 26h1v1h-1zM7 1h1v1h-1zM19 2h1v1h-1zM21 18h1v1h-1zM16 13h1v1h-1zM25 2h1v1h-1zM30 25h1v1h-1zM0 25h1v1h-1zM27 4h1v1h-1zM22 17h1v1h-1zM2 18h1v1h-1zM3 2h1v1h-1zM11 27h1v1h-1zM26 22h1v1h-1zM6 26h1v1h-1zM22 16h1v1h-1zM1 17h1v1h-1zM25 25h1v1h-1zM22 22h1v1h-1zM22 13h1v1h-1zM0 31h1v1h-1zM8 8h1v1h-1zM6 19h1v1h-1zM27 2h1v1h-1zM18 24h1v1h-1zM24 11h1v1h-1zM15 12h1v1h-1zM9 8h1v1h-1zM9 0h1v1h-1zM16 26h1v1h-1zM29 2h1v1h-1zM6 2h1v1h-1zM7 17h1v1h-1zM25 27h1v1h-1zM24 9h1v1h-1zM4 28h1v1h-1zM9 7h1v1h-1zM4 25h1v1h-1zM0 15h1v1h-1zM15 24h1v1h-1zM15 0h1v1h-1zM27 9h1v1h-1zM22 10h1v1h-1zM5 16h1v1h-1zM28 4h1v1h-1zM28 19h1v1h-1zM26 24h1v1h-1zM16 24h1v1h-1zM2 1h1v1h-1zM27 11h1v1h-1zM22 27h1v1h-1zM2 26h1v1h-1zM18 27h1v1h-1zM22 2h1v1h-1zM15 15h1v1h-1zM29 13h1v1h-1zM11 10h1v1h-1zM16 25h1v1h-1zM27 23h1v1h-1zM13 25h1v1h-1zM4 7h1v1h-1zM26 0h1v1h-1zM26 4h1v1h-1zM6 15h1v1h-1zM30 17h1v1h-1zM20 19h1v1h-1zM27 25h1v1h-1zM17 24h1v1h-1zM25 15h1v1h-1zM2 27h1v1h-1z"/><path fill="#ffffff" d="M27 29h1v1h-1zM9 17h1v1h-1zM16 19h1v1h-1zM23 17h1v1h-1zM18 23h1v1h-1zM7 0h1v1h-1zM17 25h1v1h-1zM8 0h1v1h-1zM4 26h1v1h-1zM4 4h1v1h-1zM2 23h1v1h-1zM11 1h1v1h-1zM21 4h1v1h-1zM10 1h1v1h-1zM14 26h1v1h-1zM11 23h1v1h-1zM22 9h1v1h-1zM26 15h1v1h-1zM1 19h1v1h-1zM23 14h1v1h-1zM13 28h1v1h-1zM25 9h1v1h-1zM9 1h1v1h-1zM2 28h1v1h-1zM25 11h1v1h-1zM27 28h1v1h-1zM4 17h1v1h-1zM21 27h1v1h-1zM15 14h1v1h-1zM21 1h1v1h-1zM30 15h1v1h-1zM29 23h1v1h-1zM12 27h1v1h-1zM30 14h1v1h-1zM26 20h1v1h-1zM23 6h1v1h-1zM10 23h1v1h-1zM15 17h1v1h-1zM4 23h1v1h-1zM27 10h1v1h-1zM18 2h1v1h-1zM4 6h1v1h-1zM12 19h1v1h-1zM6 27h1v1h-1zM17 19h1v1h-1zM8 1h1v1h-1zM21 24h1v1h-1zM30 4h1v1h-1zM10 16h1v1h-1zM24 13h1v1h-1zM23 7h1v1h-1zM30 1h1v1h-1zM18 25h1v1h-1zM14 27h1v1h-1zM29 16h1v1h-1zM2 29h1v1h-1zM20 2h1v1h-1zM0 23h1v1h-1zM2 15h1v1h-1zM23 24h1v1h-1zM8 17h1v1h-1zM26 6h1v1h-1zM5 31h1v1h-1zM0 0h1v1h-1zM17 23h1v1h-1zM0 17h1v1h-1zM23 31h1v1h-1zM22 24h1v1h-1zM15 9h1v1h-1zM24 10h1v1h-1zM25 16h1v1h-1zM2 4h1v1h-1zM18 26h1v1h-1zM26 17h1v1h-1zM9 19h1v1h-1zM0 27h1v1h-1zM6 17h1v1h-1zM2 2h1v1h-1zM23 0h1v1h-1zM26 31h1v1h-1zM26 7h1v1h-1zM27 19h1v1h-1zM5 1h1v1h-1zM26 29h1v1h-1zM15 25h1v1h-1zM23 16h1v1h-1zM24 23h1v1h-1zM22 25h1v1h-1zM26 1h1v1h-1zM5 0h1v1h-1zM8 23h1v1h-1zM3 16h1v1h-1zM4 13h1v1h-1zM23 27h1v1h-1zM25 14h1v1h-1zM29 4h1v1h-1zM30 27h1v1h-1zM23 25h1v1h-1zM29 27h1v1h-1zM26 14h1v1h-1zM30 13h1v1h-1zM12 26h1v1h-1zM28 27h1v1h-1zM25 10h1v1h-1zM26 8h1v1h-1zM26 28h1v1h-1zM0 26h1v1h-1zM21 17h1v1h-1zM0 2h1v1h-1zM30 2h1v1h-1zM21 2h1v1h-1zM4 0h1v1h-1zM23 12h1v1h-1zM9 16h1v1h-1zM21 16h1v1h-1zM7 16h1v1h-1zM15 2h1v1h-1zM15 10h1v1h-1zM29 19h1v1h-1zM15 4h1v1h-1zM26 2h1v1h-1zM23 4h1v1h-1zM9 23h1v1h-1zM25 26h1v1h-1zM15 11h1v1h-1zM0 19h1v1h-1zM1 16h1v1h-1zM3 19h1v1h-1zM23 20h1v1h-1zM22 26h1v1h-1zM2 17h1v1h-1zM4 14h1v1h-1zM23 21h1v1h-1zM24 19h1v1h-1zM4 29h1v1h-1zM4 15h1v1h-1zM13 19h1v1h-1zM16 23h1v1h-1zM4 31h1v1h-1zM21 25h1v1h-1zM23 2h1v1h-1zM6 28h1v1h-1zM10 19h1v1h-1zM15 1h1v1h-1zM23 1h1v1h-1zM26 11h1v1h-1zM26 13h1v1h-1zM26 9h1v1h-1zM25 13h1v1h-1zM26 16h1v1h-1zM23 8h1v1h-1zM23 26h1v1h-1zM15 16h1v1h-1zM30 23h1v1h-1z"/><path fill="#cccce8" d="M30 19h1v1h-1zM15 13h1v1h-1zM6 29h1v1h-1zM4 19h1v1h-1zM30 16h1v1h-1zM21 26h1v1h-1zM27 27h1v1h-1zM6 1h1v1h-1zM26 25h1v1h-1zM0 1h1v1h-1zM28 26h1v1h-1zM8 16h1v1h-1zM29 26h1v1h-1zM25 23h1v1h-1zM6 16h1v1h-1zM4 2h1v1h-1zM15 28h1v1h-1zM18 19h1v1h-1zM23 22h1v1h-1zM30 26h1v1h-1zM15 23h1v1h-1zM4 1h1v1h-1zM4 16h1v1h-1zM11 19h1v1h-1zM22 19h1v1h-1zM21 23h1v1h-1zM26 10h1v1h-1zM0 16h1v1h-1zM15 19h1v1h-1zM6 31h1v1h-1zM13 27h1v1h-1zM15 26h1v1h-1zM6 0h1v1h-1zM26 23h1v1h-1zM26 27h1v1h-1zM25 19h1v1h-1zM23 11h1v1h-1zM21 19h1v1h-1zM27 26h1v1h-1zM15 27h1v1h-1zM2 19h1v1h-1zM2 16h1v1h-1zM23 13h1v1h-1zM13 26h1v1h-1zM23 9h1v1h-1zM22 23h1v1h-1zM23 10h1v1h-1zM26 19h1v1h-1zM23 19h1v1h-1zM26 26h1v1h-1zM23 23h1v1h-1z"/></pattern><pattern id="q8" width="32" height="32" patternUnits="userSpaceOnUse"><rect width="32" height="32" fill="#cc0000"/><path fill="#db4c4c" d="M17 20h1v1h-1zM5 13h1v1h-1zM17 21h1v1h-1zM29 16h1v1h-1zM11 2h1v1h-1zM29 9h1v1h-1zM31 5h1v1h-1zM20 2h1v1h-1zM16 27h1v1h-1zM30 28h1v1h-1zM17 2h1v1h-1zM11 1h1v1h-1zM9 17h1v1h-1zM25 27h1v1h-1zM16 23h1v1h-1zM18 23h1v1h-1zM18 30h1v1h-1zM13 2h1v1h-1zM18 0h1v1h-1zM22 30h1v1h-1zM10 30h1v1h-1zM15 24h1v1h-1zM28 9h1v1h-1zM18 9h1v1h-1zM22 29h1v1h-1zM26 15h1v1h-1zM3 21h1v1h-1zM20 10h1v1h-1zM22 21h1v1h-1zM11 12h1v1h-1zM10 12h1v1h-1zM29 2h1v1h-1zM21 26h1v1h-1zM31 26h1v1h-1zM28 3h1v1h-1zM23 25h1v1h-1zM2 9h1v1h-1zM24 12h1v1h-1zM11 11h1v1h-1zM27 29h1v1h-1zM16 15h1v1h-1zM10 1h1v1h-1zM7 23h1v1h-1zM13 27h1v1h-1zM21 28h1v1h-1zM21 29h1v1h-1zM24 11h1v1h-1zM19 20h1v1h-1zM29 29h1v1h-1zM24 25h1v1h-1zM0 12h1v1h-1zM22 26h1v1h-1zM16 4h1v1h-1zM14 12h1v1h-1zM20 3h1v1h-1zM9 4h1v1h-1zM19 12h1v1h-1zM0 11h1v1h-1zM8 12h1v1h-1zM2 10h1v1h-1zM12 23h1v1h-1zM8 8h1v1h-1zM27 16h1v1h-1zM5 0h1v1h-1zM25 20h1v1h-1zM27 28h1v1h-1zM4 23h1v1h-1zM2 5h1v1h-1zM24 3h1v1h-1zM28 20h1v1h-1zM10 3h1v1h-1zM12 6h1v1h-1zM13 7h1v1h-1zM7 22h1v1h-1zM28 28h1v1h-1zM27 18h1v1h-1zM10 4h1v1h-1zM10 0h1v1h-1zM11 15h1v1h-1zM13 25h1v1h-1zM12 30h1v1h-1zM29 1h1v1h-1zM28 7h1v1h-1zM25 24h1v1h-1zM10 16h1v1h-1zM26 1h1v1h-1zM7 12h1v1h-1zM10 22h1v1h-1zM22 28h1v1h-1zM29 26h1v1h-1zM22 18h1v1h-1zM28 26h1v1h-1zM19 17h1v1h-1zM7 0h1v1h-1zM31 24h1v1h-1zM29 7h1v1h-1zM0 3h1v1h-1zM13 22h1v1h-1zM10 5h1v1h-1zM23 21h1v1h-1zM25 21h1v1h-1zM22 0h1v1h-1zM25 19h1v1h-1zM20 4h1v1h-1zM28 1h1v1h-1zM20 1h1v1h-1zM3 27h1v1h-1zM3 15h1v1h-1zM28 29h1v1h-1zM23 26h1v1h-1zM3 16h1v1h-1zM20 7h1v1h-1zM23 16h1v1h-1zM14 15h1v1h-1zM31 4h1v1h-1zM14 22h1v1h-1zM9 8h1v1h-1zM28 2h1v1h-1zM22 20h1v1h-1zM29 28h1v1h-1zM9 5h1v1h-1zM1 1h1v1h-1zM5 30h1v1h-1zM20 26h1v1h-1zM24 6h1v1h-1zM28 15h1v1h-1zM6 27h1v1h-1zM6 12h1v1h-1zM23 18h1v1h-1zM7 24h1v1h-1zM10 11h1v1h-1zM18 29h1v1h-1zM1 22h1v1h-1zM3 14h1v1h-1zM27 26h1v1h-1zM8 24h1v1h-1zM2 4h1v1h-1zM26 4h1v1h-1zM25 26h1v1h-1zM7 30h1v1h-1zM13 4h1v1h-1zM20 11h1v1h-1zM3 3h1v1h-1zM24 4h1v1h-1zM21 30h1v1h-1zM14 7h1v1h-1zM28 22h1v1h-1zM2 27h1v1h-1zM23 20h1v1h-1zM14 2h1v1h-1zM19 27h1v1h-1zM31 17h1v1h-1zM23 28h1v1h-1zM24 29h1v1h-1z"/><path fill="#eb9999" d="M24 0h1v1h-1zM5 12h1v1h-1zM0 26h1v1h-1zM13 15h1v1h-1zM8 29h1v1h-1zM26 29h1v1h-1zM16 28h1v1h-1zM2 1h1v1h-1zM6 23h1v1h-1zM9 22h1v1h-1zM2 7h1v1h-1zM20 25h1v1h-1zM28 18h1v1h-1zM0 16h1v1h-1zM17 25h1v1h-1zM0 7h1v1h-1zM26 27h1v1h-1zM3 30h1v1h-1zM14 27h1v1h-1zM25 22h1v1h-1zM19 25h1v1h-1zM18 24h1v1h-1zM26 2h1v1h-1zM10 2h1v1h-1zM2 22h1v1h-1zM3 13h1v1h-1zM7 8h1v1h-1zM21 6h1v1h-1zM11 30h1v1h-1zM5 6h1v1h-1zM22 25h1v1h-1zM17 7h1v1h-1zM26 18h1v1h-1zM31 28h1v1h-1zM1 27h1v1h-1zM2 13h1v1h-1zM25 8h1v1h-1zM21 25h1v1h-1zM8 23h1v1h-1zM6 26h1v1h-1zM29 30h1v1h-1zM13 3h1v1h-1zM26 16h1v1h-1zM28 16h1v1h-1zM27 21h1v1h-1zM2 11h1v1h-1zM3 29h1v1h-1zM26 3h1v1h-1zM27 0h1v1h-1zM1 29h1v1h-1zM19 2h1v1h-1zM28 23h1v1h-1zM14 29h1v1h-1zM2 23h1v1h-1zM19 31h1v1h-1zM19 21h1v1h-1zM27 30h1v1h-1zM2 12h1v1h-1zM24 18h1v1h-1zM24 27h1v1h-1zM1 10h1v1h-1zM5 27h1v1h-1zM1 23h1v1h-1zM16 16h1v1h-1zM1 30h1v1h-1zM26 30h1v1h-1zM7 6h1v1h-1zM25 28h1v1h-1zM13 29h1v1h-1zM3 1h1v1h-1zM0 28h1v1h-1zM23 22h1v1h-1zM5 29h1v1h-1zM8 28h1v1h-1zM17 14h1v1h-1zM12 8h1v1h-1zM9 23h1v1h-1zM11 0h1v1h-1zM8 22h1v1h-1zM17 10h1v1h-1zM17 12h1v1h-1zM19 5h1v1h-1zM17 13h1v1h-1zM1 9h1v1h-1zM20 29h1v1h-1zM10 17h1v1h-1zM3 26h1v1h-1zM2 30h1v1h-1zM2 29h1v1h-1zM0 4h1v1h-1zM6 0h1v1h-1zM23 19h1v1h-1zM16 6h1v1h-1zM2 26h1v1h-1zM27 20h1v1h-1zM24 23h1v1h-1zM23 8h1v1h-1zM2 14h1v1h-1zM14 25h1v1h-1zM17 5h1v1h-1zM0 24h1v1h-1zM2 3h1v1h-1zM1 2h1v1h-1zM14 0h1v1h-1zM16 26h1v1h-1zM20 28h1v1h-1zM6 30h1v1h-1zM18 28h1v1h-1zM13 0h1v1h-1zM1 12h1v1h-1zM22 19h1v1h-1zM30 6h1v1h-1zM16 24h1v1h-1zM17 22h1v1h-1zM17 30h1v1h-1zM19 1h1v1h-1zM26 6h1v1h-1zM12 17h1v1h-1zM2 24h1v1h-1zM16 8h1v1h-1zM1 13h1v1h-1zM3 11h1v1h-1zM0 5h1v1h-1z"/><path fill="#f7d6d6" d="M2 16h1v1h-1zM19 26h1v1h-1zM17 11h1v1h-1zM17 0h1v1h-1zM17 3h1v1h-1zM7 29h1v1h-1zM25 17h1v1h-1zM13 28h1v1h-1zM22 8h1v1h-1zM1 0h1v1h-1zM5 25h1v1h-1zM24 16h1v1h-1zM24 21h1v1h-1zM3 22h1v1h-1zM14 28h1v1h-1zM18 6h1v1h-1zM29 17h1v1h-1zM3 12h1v1h-1zM1 11h1v1h-1zM26 0h1v1h-1zM2 2h1v1h-1zM12 16h1v1h-1zM4 24h1v1h-1zM9 24h1v1h-1zM11 23h1v1h-1zM19 3h1v1h-1zM27 23h1v1h-1zM2 15h1v1h-1zM24 20h1v1h-1zM23 23h1v1h-1zM17 27h1v1h-1zM28 30h1v1h-1zM27 17h1v1h-1zM3 2h1v1h-1zM1 7h1v1h-1zM6 6h1v1h-1zM1 14h1v1h-1zM10 8h1v1h-1zM21 0h1v1h-1zM16 17h1v1h-1zM29 24h1v1h-1zM20 30h1v1h-1zM22 22h1v1h-1zM19 7h1v1h-1zM1 3h1v1h-1zM19 9h1v1h-1zM27 6h1v1h-1zM22 17h1v1h-1zM13 30h1v1h-1zM28 19h1v1h-1zM3 17h1v1h-1zM30 8h1v1h-1zM13 26h1v1h-1zM13 6h1v1h-1zM14 30h1v1h-1zM17 23h1v1h-1zM27 8h1v1h-1zM14 23h1v1h-1zM2 0h1v1h-1zM5 23h1v1h-1zM24 22h1v1h-1zM17 15h1v1h-1zM19 11h1v1h-1zM26 28h1v1h-1zM29 0h1v1h-1zM24 19h1v1h-1zM31 8h1v1h-1zM17 9h1v1h-1zM0 17h1v1h-1zM21 22h1v1h-1zM13 23h1v1h-1zM19 10h1v1h-1zM14 4h1v1h-1zM8 6h1v1h-1zM11 17h1v1h-1zM2 17h1v1h-1zM6 29h1v1h-1zM28 0h1v1h-1zM11 16h1v1h-1zM10 23h1v1h-1zM11 8h1v1h-1zM1 26h1v1h-1zM21 8h1v1h-1zM3 23h1v1h-1zM1 5h1v1h-1zM3 8h1v1h-1zM1 4h1v1h-1zM27 19h1v1h-1zM17 29h1v1h-1zM26 26h1v1h-1zM12 24h1v1h-1zM24 26h1v1h-1zM27 22h1v1h-1zM3 6h1v1h-1zM1 28h1v1h-1zM27 24h1v1h-1zM14 3h1v1h-1zM11 6h1v1h-1zM19 4h1v1h-1zM7 28h1v1h-1zM3 0h1v1h-1zM1 24h1v1h-1z"/><path fill="#ffffff" d="M2 28h1v1h-1zM3 28h1v1h-1zM3 24h1v1h-1zM14 16h1v1h-1zM17 16h1v1h-1zM26 8h1v1h-1zM28 24h1v1h-1zM23 17h1v1h-1zM18 8h1v1h-1zM5 8h1v1h-1zM17 4h1v1h-1zM17 26h1v1h-1zM1 15h1v1h-1zM24 24h1v1h-1zM14 6h1v1h-1zM1 16h1v1h-1zM28 17h1v1h-1zM26 20h1v1h-1zM24 8h1v1h-1zM5 26h1v1h-1zM6 8h1v1h-1zM26 19h1v1h-1zM26 17h1v1h-1zM0 8h1v1h-1zM29 6h1v1h-1zM26 23h1v1h-1zM1 17h1v1h-1zM20 8h1v1h-1zM26 24h1v1h-1zM20 6h1v1h-1zM24 28h1v1h-1zM9 6h1v1h-1zM6 24h1v1h-1zM28 8h1v1h-1zM26 21h1v1h-1zM2 8h1v1h-1zM5 28h1v1h-1zM31 6h1v1h-1zM14 26h1v1h-1zM20 22h1v1h-1zM29 8h1v1h-1zM13 16h1v1h-1zM17 17h1v1h-1zM10 6h1v1h-1zM14 17h1v1h-1zM17 24h1v1h-1zM6 28h1v1h-1zM28 6h1v1h-1zM20 0h1v1h-1zM10 24h1v1h-1zM23 24h1v1h-1zM22 23h1v1h-1zM13 17h1v1h-1zM19 29h1v1h-1zM17 28h1v1h-1zM24 17h1v1h-1zM19 30h1v1h-1zM13 24h1v1h-1zM14 24h1v1h-1zM17 6h1v1h-1zM19 28h1v1h-1zM13 8h1v1h-1zM19 22h1v1h-1zM26 22h1v1h-1zM11 24h1v1h-1zM14 8h1v1h-1zM1 8h1v1h-1zM2 6h1v1h-1zM21 23h1v1h-1zM0 6h1v1h-1zM19 0h1v1h-1zM5 24h1v1h-1zM19 6h1v1h-1zM17 8h1v1h-1zM19 8h1v1h-1zM20 23h1v1h-1zM19 23h1v1h-1zM22 24h1v1h-1zM19 24h1v1h-1zM1 6h1v1h-1zM20 24h1v1h-1zM21 24h1v1h-1z"/></pattern><pattern id="q9" width="32" height="32" patternUnits="userSpaceOnUse"><rect width="32" height="32" fill="#cc0000"/><path fill="#db4c4c" d="M7 1h1v1h-1zM15 9h1v1h-1zM7 5h1v1h-1zM8 9h1v1h-1zM12 1h1v1h-1zM6 17h1v1h-1zM17 23h1v1h-1zM26 2h1v1h-1zM11 5h1v1h-1zM11 19h1v1h-1zM8 1h1v1h-1zM26 19h1v1h-1zM25 29h1v1h-1zM26 5h1v1h-1zM12 18h1v1h-1zM8 15h1v1h-1zM29 12h1v1h-1zM20 23h1v1h-1zM29 21h1v1h-1zM16 1h1v1h-1zM4 7h1v1h-1zM17 9h1v1h-1zM20 20h1v1h-1zM8 6h1v1h-1zM20 19h1v1h-1zM29 13h1v1h-1zM20 1h1v1h-1zM21 18h1v1h-1zM3 1h1v1h-1zM5 29h1v1h-1zM27 25h1v1h-1zM4 5h1v1h-1zM11 31h1v1h-1zM4 1h1v1h-1zM29 24h1v1h-1zM18 7h1v1h-1zM24 10h1v1h-1zM6 10h1v1h-1zM19 7h1v1h-1zM5 30h1v1h-1zM14 18h1v1h-1zM6 13h1v1h-1zM10 30h1v1h-1zM2 7h1v1h-1zM29 30h1v1h-1zM6 9h1v1h-1zM18 15h1v1h-1zM7 7h1v1h-1zM10 19h1v1h-1zM25 13h1v1h-1zM14 10h1v1h-1zM16 18h1v1h-1zM5 12h1v1h-1zM27 11h1v1h-1zM6 27h1v1h-1zM15 1h1v1h-1zM29 5h1v1h-1zM19 18h1v1h-1zM29 18h1v1h-1zM15 18h1v1h-1zM5 10h1v1h-1zM11 20h1v1h-1zM3 19h1v1h-1zM29 7h1v1h-1zM6 12h1v1h-1zM0 7h1v1h-1zM29 23h1v1h-1zM3 23h1v1h-1zM5 9h1v1h-1zM14 7h1v1h-1zM11 30h1v1h-1zM10 5h1v1h-1zM8 4h1v1h-1zM29 20h1v1h-1zM27 31h1v1h-1zM5 8h1v1h-1zM14 11h1v1h-1zM6 29h1v1h-1zM17 5h1v1h-1zM26 26h1v1h-1zM20 7h1v1h-1zM19 17h1v1h-1zM5 31h1v1h-1zM25 19h1v1h-1zM26 20h1v1h-1zM25 17h1v1h-1zM17 13h1v1h-1zM5 27h1v1h-1zM29 26h1v1h-1zM26 18h1v1h-1zM24 11h1v1h-1zM19 15h1v1h-1zM25 20h1v1h-1zM17 12h1v1h-1zM17 18h1v1h-1zM26 10h1v1h-1zM6 11h1v1h-1zM16 11h1v1h-1zM6 5h1v1h-1zM25 0h1v1h-1zM29 25h1v1h-1zM5 5h1v1h-1z"/><path fill="#eb9999" d="M16 10h1v1h-1zM6 8h1v1h-1zM6 30h1v1h-1zM10 20h1v1h-1zM27 26h1v1h-1zM17 7h1v1h-1zM3 21h1v1h-1zM6 26h1v1h-1zM14 1h1v1h-1zM6 31h1v1h-1zM3 20h1v1h-1zM3 18h1v1h-1zM15 11h1v1h-1zM5 26h1v1h-1zM5 0h1v1h-1zM5 11h1v1h-1zM17 17h1v1h-1zM27 30h1v1h-1zM20 15h1v1h-1zM15 10h1v1h-1zM9 5h1v1h-1zM29 1h1v1h-1zM3 7h1v1h-1zM6 0h1v1h-1zM8 7h1v1h-1zM17 10h1v1h-1zM26 12h1v1h-1zM17 1h1v1h-1zM26 0h1v1h-1zM17 15h1v1h-1zM3 5h1v1h-1zM20 17h1v1h-1zM25 30h1v1h-1zM27 1h1v1h-1zM25 10h1v1h-1zM17 11h1v1h-1zM25 18h1v1h-1zM26 30h1v1h-1zM25 31h1v1h-1zM5 7h1v1h-1zM20 18h1v1h-1zM26 31h1v1h-1zM25 12h1v1h-1zM26 11h1v1h-1zM6 7h1v1h-1zM25 1h1v1h-1zM8 5h1v1h-1zM25 11h1v1h-1zM6 1h1v1h-1zM5 1h1v1h-1zM26 1h1v1h-1z"/></pattern></defs><g transform="translate(69,589) scale(4)"><path fill="#00008b" d="M64 22h20v4h-20zM64 26h20v4h-20zM64 30h20v4h-20zM64 34h20v4h-20zM64 38h20v4h-20zM64 42h20v4h-20zM16 70h24v4h-24zM20 74h20v4h-20zM16 78h24v4h-24zM16 82h24v4h-24zM16 86h24v4h-24z"/><path fill="url(#p1)" d="M76 46h8v4h-8zM16 62h24v4h-24zM16 66h24v4h-24zM40 70h4v4h-4zM16 74h4v4h-4zM40 74h4v4h-4zM40 82h4v4h-4zM40 86h4v4h-4z"/><path fill="url(#p2)" d="M60 22h4v4h-4zM60 26h4v4h-4zM60 30h4v4h-4zM60 34h4v4h-4zM60 38h4v4h-4zM60 42h4v4h-4zM60 46h4v4h-4zM68 46h8v4h-8zM20 58h20v4h-20zM40 62h4v4h-4zM40 66h4v4h-4zM40 78h4v4h-4z"/><path fill="url(#p3)" d="M56 22h4v4h-4zM56 26h4v4h-4zM36 30h4v4h-4zM56 30h4v4h-4zM56 34h4v4h-4zM56 38h4v4h-4zM56 42h4v4h-4zM56 46h4v4h-4zM64 46h4v4h-4zM72 50h12v4h-12zM72 54h12v4h-12zM16 58h4v4h-4zM48 82h4v4h-4zM48 86h4v4h-4z"/><path fill="url(#p4)" d="M52 22h4v4h-4zM52 26h4v4h-4zM52 30h4v4h-4zM52 34h4v4h-4zM52 38h4v4h-4zM16 42h4v4h-4zM24 42h4v4h-4zM52 42h4v4h-4zM60 50h12v4h-12zM68 54h4v4h-4zM40 58h4v4h-4zM44 62h4v4h-4zM44 66h4v4h-4zM44 70h4v4h-4zM44 74h4v4h-4zM44 78h8v4h-8zM44 82h4v4h-4zM44 86h4v4h-4z"/><path fill="url(#p5)" d="M16 22h4v4h-4zM48 22h4v4h-4zM16 30h4v4h-4zM48 30h4v4h-4zM20 42h4v4h-4zM52 46h4v4h-4zM56 50h4v4h-4zM56 54h12v4h-12zM44 58h4v4h-4zM48 62h4v4h-4zM48 66h4v4h-4zM48 70h4v4h-4zM48 74h4v4h-4z"/><path fill="url(#p6)" d="M20 22h4v4h-4zM28 22h20v4h-20zM16 26h4v4h-4zM36 26h8v4h-8zM48 26h4v4h-4zM32 30h4v4h-4zM40 30h8v4h-8zM16 34h8v4h-8zM44 34h8v4h-8zM16 38h4v4h-4zM24 38h4v4h-4zM48 38h4v4h-4zM28 42h8v4h-8zM44 42h8v4h-8zM16 46h4v4h-4zM16 50h24v4h-24zM16 54h24v4h-24zM52 86h4v4h-4z"/><path fill="url(#p7)" d="M24 22h4v4h-4zM20 26h16v4h-16zM44 26h4v4h-4zM20 30h4v4h-4zM28 30h4v4h-4zM24 34h4v4h-4zM36 34h8v4h-8zM20 38h4v4h-4zM28 38h4v4h-4zM40 38h8v4h-8zM36 42h4v4h-4zM20 46h20v4h-20zM52 50h4v4h-4zM40 54h4v4h-4zM52 54h4v4h-4zM48 58h4v4h-4zM64 58h4v4h-4zM72 58h12v4h-12zM52 62h4v4h-4zM64 62h20v4h-20zM52 66h4v4h-4zM64 66h12v4h-12zM52 70h4v4h-4zM52 74h4v4h-4zM52 78h4v4h-4zM80 78h4v4h-4zM52 82h4v4h-4zM56 86h4v4h-4z"/><path fill="url(#p8)" d="M24 30h4v4h-4zM28 34h8v4h-8zM32 38h8v4h-8zM40 42h4v4h-4zM40 46h12v4h-12zM40 50h12v4h-12zM44 54h8v4h-8zM52 58h12v4h-12zM68 58h4v4h-4zM56 62h8v4h-8zM56 66h8v4h-8zM76 66h8v4h-8zM56 70h28v4h-28zM56 74h28v4h-28zM56 78h24v4h-24zM56 82h28v4h-28zM60 86h24v4h-24z"/></g><g transform="translate(133,677) scale(4)"><path fill="#00008b" d="M4 0h1V68h-1zM0 4H68v1H0zM25 26h1V45h-1zM26 25H45v1H26zM46 24h1V68h-1zM0 46H68v1H0zM50 24h1V68h-1zM0 50H68v1H0zM51 24h1V68h-1zM0 51H68v1H0zM55 26h1V68h-1zM0 55H68v1H0z"/><path fill="#d40000" d="M1 0h1v1h-1zM0 1h1v1h-1zM2 1h1v1h-1zM1 2h1v1h-1zM3 2h1v1h-1zM2 3h1v1h-1zM4 3h1v1h-1zM3 4h1v1h-1zM5 4h1v1h-1zM4 5h1v1h-1zM6 5h1v1h-1zM5 6h1v1h-1zM7 6h1v1h-1zM6 7h1v1h-1zM8 7h1v1h-1zM7 8h1v1h-1zM9 8h1v1h-1zM8 9h1v1h-1zM10 9h1v1h-1zM9 10h1v1h-1zM11 10h1v1h-1zM10 11h1v1h-1zM12 11h1v1h-1zM11 12h1v1h-1zM13 12h1v1h-1zM12 13h1v1h-1zM14 13h1v1h-1zM13 14h1v1h-1zM15 14h1v1h-1zM14 15h1v1h-1zM16 15h1v1h-1zM15 16h1v1h-1zM17 16h1v1h-1zM16 17h1v1h-1zM18 17h1v1h-1zM17 18h1v1h-1zM19 18h1v1h-1zM18 19h1v1h-1zM20 19h1v1h-1zM19 20h1v1h-1zM21 20h1v1h-1zM20 21h1v1h-1zM22 21h1v1h-1zM21 22h1v1h-1zM23 22h1v1h-1zM22 23h1v1h-1zM24 23h1v1h-1zM23 24h1v1h-1zM25 24h1v1h-1zM24 25h1v1h-1zM26 25h1v1h-1zM25 26h1v1h-1zM27 26h1v1h-1zM26 27h1v1h-1zM28 27h1v1h-1zM27 28h1v1h-1zM29 28h1v1h-1zM28 29h1v1h-1zM30 29h1v1h-1zM29 30h1v1h-1zM31 30h1v1h-1zM30 31h1v1h-1zM32 31h1v1h-1zM31 32h1v1h-1zM33 32h1v1h-1zM32 33h1v1h-1zM34 33h1v1h-1zM33 34h1v1h-1zM35 34h1v1h-1zM34 35h1v1h-1zM36 35h1v1h-1zM35 36h1v1h-1zM37 36h1v1h-1zM36 37h1v1h-1zM38 37h1v1h-1zM37 38h1v1h-1zM39 38h1v1h-1zM38 39h1v1h-1zM40 39h1v1h-1zM39 40h1v1h-1zM41 40h1v1h-1zM40 41h1v1h-1zM42 41h1v1h-1zM41 42h1v1h-1zM43 42h1v1h-1zM42 43h1v1h-1zM44 43h1v1h-1zM43 44h1v1h-1zM45 44h1v1h-1zM44 45h1v1h-1zM46 45h1v1h-1zM45 46h1v1h-1zM47 46h1v1h-1zM46 47h1v1h-1zM48 47h1v1h-1zM47 48h1v1h-1zM49 48h1v1h-1zM48 49h1v1h-1zM50 49h1v1h-1zM49 50h1v1h-1zM51 50h1v1h-1zM50 51h1v1h-1zM52 51h1v1h-1zM51 52h1v1h-1zM53 52h1v1h-1zM52 53h1v1h-1zM54 53h1v1h-1zM53 54h1v1h-1zM55 54h1v1h-1zM54 55h1v1h-1zM56 55h1v1h-1zM55 56h1v1h-1zM57 56h1v1h-1zM56 57h1v1h-1zM58 57h1v1h-1zM57 58h1v1h-1zM59 58h1v1h-1zM58 59h1v1h-1zM60 59h1v1h-1zM59 60h1v1h-1zM61 60h1v1h-1zM60 61h1v1h-1zM62 61h1v1h-1zM61 62h1v1h-1zM63 62h1v1h-1zM62 63h1v1h-1zM64 63h1v1h-1zM63 64h1v1h-1zM65 64h1v1h-1zM64 65h1v1h-1zM66 65h1v1h-1zM65 66h1v1h-1zM67 66h1v1h-1zM66 67h1v1h-1z"/><path fill="#fff" d="M0 0h1v1h-1zM1 1h1v1h-1zM2 2h1v1h-1zM3 3h1v1h-1zM4 4h1v1h-1zM5 5h1v1h-1zM6 6h1v1h-1zM7 7h1v1h-1zM8 8h1v1h-1zM9 9h1v1h-1zM10 10h1v1h-1zM11 11h1v1h-1zM12 12h1v1h-1zM13 13h1v1h-1zM14 14h1v1h-1zM15 15h1v1h-1zM16 16h1v1h-1zM17 17h1v1h-1zM18 18h1v1h-1zM19 19h1v1h-1zM20 20h1v1h-1zM21 21h1v1h-1zM22 22h1v1h-1zM23 23h1v1h-1zM24 24h1v1h-1zM25 25h1v1h-1zM26 26h1v1h-1zM27 27h1v1h-1zM28 28h1v1h-1zM29 29h1v1h-1zM30 30h1v1h-1zM31 31h1v1h-1zM32 32h1v1h-1zM33 33h1v1h-1zM34 34h1v1h-1zM35 35h1v1h-1zM36 36h1v1h-1zM37 37h1v1h-1zM38 38h1v1h-1zM39 39h1v1h-1zM40 40h1v1h-1zM41 41h1v1h-1zM42 42h1v1h-1zM43 43h1v1h-1zM44 44h1v1h-1zM45 45h1v1h-1zM46 46h1v1h-1zM47 47h1v1h-1zM48 48h1v1h-1zM49 49h1v1h-1zM50 50h1v1h-1zM51 51h1v1h-1zM52 52h1v1h-1zM53 53h1v1h-1zM54 54h1v1h-1zM55 55h1v1h-1zM56 56h1v1h-1zM57 57h1v1h-1zM58 58h1v1h-1zM59 59h1v1h-1zM60 60h1v1h-1zM61 61h1v1h-1zM62 62h1v1h-1zM63 63h1v1h-1zM64 64h1v1h-1zM65 65h1v1h-1zM66 66h1v1h-1zM67 67h1v1h-1z"/><path d="M0 65h68v0.25H0z" fill="#fff" fill-opacity="0.3"/></g><g transform="translate(339,665) scale(4)"><path fill="#00008b" d="M77 3h12v4h-12zM73 7h16v4h-16zM81 11h8v4h-8zM77 27h12v4h-12zM21 55h4v4h-4zM21 59h8v4h-8zM21 63h12v4h-12zM21 67h20v4h-20z"/><path fill="url(#q1)" d="M69 3h8v4h-8zM69 7h4v4h-4zM73 11h8v4h-8zM77 15h12v4h-12zM61 19h8v4h-8zM81 19h8v4h-8zM73 23h16v4h-16zM73 27h4v4h-4zM77 31h12v4h-12zM21 51h8v4h-8zM25 55h4v4h-4zM29 59h4v4h-4zM33 63h8v4h-8zM41 67h8v4h-8z"/><path fill="url(#q2)" d="M61 3h8v4h-8zM61 7h8v4h-8zM61 11h12v4h-12zM21 15h4v4h-4zM61 15h16v4h-16zM21 19h4v4h-4zM69 19h12v4h-12zM21 23h4v4h-4zM61 23h12v4h-12zM73 31h4v4h-4zM21 43h4v4h-4zM33 43h8v4h-8zM21 47h4v4h-4zM33 47h12v4h-12zM29 51h8v4h-8zM29 55h4v4h-4zM45 55h4v4h-4zM33 59h16v4h-16zM41 63h8v4h-8zM49 67h4v4h-4z"/><path fill="url(#q3)" d="M21 3h4v4h-4zM33 3h16v4h-16zM57 3h4v4h-4zM21 7h4v4h-4zM21 27h4v4h-4zM61 27h12v4h-12zM21 31h4v4h-4zM65 31h8v4h-8zM77 35h12v4h-12zM25 43h8v4h-8zM41 43h8v4h-8zM25 47h8v4h-8zM45 47h4v4h-4zM37 51h12v4h-12zM33 55h12v4h-12zM49 55h4v4h-4zM49 59h8v4h-8zM49 63h8v4h-8zM53 67h4v4h-4z"/><path fill="url(#q4)" d="M25 3h8v4h-8zM49 3h8v4h-8zM57 7h4v4h-4zM21 11h4v4h-4zM61 31h4v4h-4zM21 35h4v4h-4zM73 35h4v4h-4zM21 39h4v4h-4zM49 43h4v4h-4zM49 47h4v4h-4zM49 51h4v4h-4zM53 55h4v4h-4zM57 59h4v4h-4zM57 63h4v4h-4zM57 67h4v4h-4z"/><path fill="url(#q5)" d="M41 7h4v4h-4zM53 7h4v4h-4zM57 11h4v4h-4zM57 15h4v4h-4zM57 19h4v4h-4zM25 23h4v4h-4zM57 23h4v4h-4zM25 27h4v4h-4zM57 27h4v4h-4zM25 31h8v4h-8zM65 35h8v4h-8zM25 39h8v4h-8zM69 39h20v4h-20zM53 51h4v4h-4zM57 55h4v4h-4zM61 63h4v4h-4zM61 67h4v4h-4z"/><path fill="url(#q6)" d="M33 7h8v4h-8zM45 7h8v4h-8zM41 11h16v4h-16zM25 15h4v4h-4zM45 15h12v4h-12zM49 19h8v4h-8zM29 23h4v4h-4zM53 23h4v4h-4zM29 27h8v4h-8zM33 31h8v4h-8zM57 31h4v4h-4zM25 35h24v4h-24zM33 39h16v4h-16zM65 39h4v4h-4zM53 43h4v4h-4zM73 43h8v4h-8zM53 47h4v4h-4zM73 47h12v4h-12zM57 51h4v4h-4zM81 51h8v4h-8zM61 55h4v4h-4zM61 59h4v4h-4zM65 63h4v4h-4zM65 67h4v4h-4z"/><path fill="url(#q7)" d="M29 7h4v4h-4zM25 11h4v4h-4zM33 11h8v4h-8zM29 15h4v4h-4zM41 15h4v4h-4zM25 19h8v4h-8zM45 19h4v4h-4zM33 23h4v4h-4zM49 23h4v4h-4zM37 27h8v4h-8zM53 27h4v4h-4zM41 31h8v4h-8zM49 35h4v4h-4zM61 35h4v4h-4zM49 39h4v4h-4zM61 39h4v4h-4zM57 43h4v4h-4zM65 43h8v4h-8zM81 43h8v4h-8zM57 47h8v4h-8zM69 47h4v4h-4zM85 47h4v4h-4zM61 51h8v4h-8zM73 51h8v4h-8zM65 55h8v4h-8zM81 55h8v4h-8zM65 59h8v4h-8zM81 59h8v4h-8zM69 63h12v4h-12zM69 67h12v4h-12z"/><path fill="url(#q8)" d="M25 7h4v4h-4zM29 11h4v4h-4zM33 15h8v4h-8zM33 19h12v4h-12zM37 23h12v4h-12zM45 27h8v4h-8zM49 31h8v4h-8zM53 35h8v4h-8zM53 39h8v4h-8zM61 43h4v4h-4zM65 47h4v4h-4zM69 51h4v4h-4zM73 55h8v4h-8zM73 59h8v4h-8zM81 63h8v4h-8zM81 67h8v4h-8z"/></g><g transform="translate(423,677) scale(4)"><path fill="#d40000" d="M1 0h1v1h-1zM0 1h1v1h-1zM2 1h1v1h-1zM1 2h1v1h-1zM3 2h1v1h-1zM2 3h1v1h-1zM4 3h1v1h-1zM3 4h1v1h-1zM5 4h1v1h-1zM4 5h1v1h-1zM6 5h1v1h-1zM5 6h1v1h-1zM7 6h1v1h-1zM6 7h1v1h-1zM8 7h1v1h-1zM7 8h1v1h-1zM9 8h1v1h-1zM8 9h1v1h-1zM10 9h1v1h-1zM9 10h1v1h-1zM11 10h1v1h-1zM10 11h1v1h-1zM12 11h1v1h-1zM11 12h1v1h-1zM13 12h1v1h-1zM12 13h1v1h-1zM14 13h1v1h-1zM13 14h1v1h-1zM15 14h1v1h-1zM14 15h1v1h-1zM16 15h1v1h-1zM15 16h1v1h-1zM17 16h1v1h-1zM16 17h1v1h-1zM18 17h1v1h-1zM17 18h1v1h-1zM19 18h1v1h-1zM18 19h1v1h-1zM20 19h1v1h-1zM19 20h1v1h-1zM21 20h1v1h-1zM20 21h1v1h-1zM22 21h1v1h-1zM21 22h1v1h-1zM23 22h1v1h-1zM22 23h1v1h-1zM24 23h1v1h-1zM23 24h1v1h-1zM25 24h1v1h-1zM24 25h1v1h-1zM26 25h1v1h-1zM25 26h1v1h-1zM27 26h1v1h-1zM26 27h1v1h-1zM28 27h1v1h-1zM27 28h1v1h-1zM29 28h1v1h-1zM28 29h1v1h-1zM30 29h1v1h-1zM29 30h1v1h-1zM31 30h1v1h-1zM30 31h1v1h-1zM32 31h1v1h-1zM31 32h1v1h-1zM33 32h1v1h-1zM32 33h1v1h-1zM34 33h1v1h-1zM33 34h1v1h-1zM35 34h1v1h-1zM34 35h1v1h-1zM36 35h1v1h-1zM35 36h1v1h-1zM37 36h1v1h-1zM36 37h1v1h-1zM38 37h1v1h-1zM37 38h1v1h-1zM39 38h1v1h-1zM38 39h1v1h-1zM40 39h1v1h-1zM39 40h1v1h-1zM41 40h1v1h-1zM40 41h1v1h-1zM42 41h1v1h-1zM41 42h1v1h-1zM43 42h1v1h-1zM42 43h1v1h-1zM44 43h1v1h-1zM43 44h1v1h-1zM45 44h1v1h-1zM44 45h1v1h-1zM46 45h1v1h-1zM45 46h1v1h-1zM47 46h1v1h-1zM46 47h1v1h-1zM48 47h1v1h-1zM47 48h1v1h-1zM49 48h1v1h-1zM48 49h1v1h-1zM50 49h1v1h-1zM49 50h1v1h-1zM51 50h1v1h-1zM50 51h1v1h-1zM52 51h1v1h-1zM51 52h1v1h-1zM53 52h1v1h-1zM52 53h1v1h-1zM54 53h1v1h-1zM53 54h1v1h-1zM55 54h1v1h-1zM54 55h1v1h-1zM56 55h1v1h-1zM55 56h1v1h-1zM57 56h1v1h-1zM56 57h1v1h-1zM58 57h1v1h-1zM57 58h1v1h-1zM59 58h1v1h-1zM58 59h1v1h-1zM60 59h1v1h-1zM59 60h1v1h-1zM61 60h1v1h-1zM60 61h1v1h-1zM62 61h1v1h-1zM61 62h1v1h-1zM63 62h1v1h-1zM62 63h1v1h-1zM64 63h1v1h-1zM63 64h1v1h-1zM65 64h1v1h-1zM64 65h1v1h-1zM66 65h1v1h-1zM65 66h1v1h-1zM67 66h1v1h-1zM66 67h1v1h-1z"/><path fill="#fff" d="M0 0h1v1h-1zM1 1h1v1h-1zM2 2h1v1h-1zM3 3h1v1h-1zM4 4h1v1h-1zM5 5h1v1h-1zM6 6h1v1h-1zM7 7h1v1h-1zM8 8h1v1h-1zM9 9h1v1h-1zM10 10h1v1h-1zM11 11h1v1h-1zM12 12h1v1h-1zM13 13h1v1h-1zM14 14h1v1h-1zM15 15h1v1h-1zM16 16h1v1h-1zM17 17h1v1h-1zM18 18h1v1h-1zM19 19h1v1h-1zM20 20h1v1h-1zM21 21h1v1h-1zM22 22h1v1h-1zM23 23h1v1h-1zM24 24h1v1h-1zM25 25h1v1h-1zM26 26h1v1h-1zM27 27h1v1h-1zM28 28h1v1h-1zM29 29h1v1h-1zM30 30h1v1h-1zM31 31h1v1h-1zM32 32h1v1h-1zM33 33h1v1h-1zM34 34h1v1h-1zM35 35h1v1h-1zM36 36h1v1h-1zM37 37h1v1h-1zM38 38h1v1h-1zM39 39h1v1h-1zM40 40h1v1h-1zM41 41h1v1h-1zM42 42h1v1h-1zM43 43h1v1h-1zM44 44h1v1h-1zM45 45h1v1h-1zM46 46h1v1h-1zM47 47h1v1h-1zM48 48h1v1h-1zM49 49h1v1h-1zM50 50h1v1h-1zM51 51h1v1h-1zM52 52h1v1h-1zM53 53h1v1h-1zM54 54h1v1h-1zM55 55h1v1h-1zM56 56h1v1h-1zM57 57h1v1h-1zM58 58h1v1h-1zM59 59h1v1h-1zM60 60h1v1h-1zM61 61h1v1h-1zM62 62h1v1h-1zM63 63h1v1h-1zM64 64h1v1h-1zM65 65h1v1h-1zM66 66h1v1h-1zM67 67h1v1h-1z"/><path d="M0 65h68v0.25H0z" fill="#fff" fill-opacity="0.3"/></g><g transform="translate(715,669) scale(4)"><path fill="#00008b" d="M62 2h4v4h-4zM70 2h4v4h-4zM78 2h8v4h-8zM62 14h4v4h-4zM70 14h4v4h-4zM70 18h4v4h-4zM70 22h4v4h-4zM22 42h4v4h-4zM30 42h4v4h-4zM22 46h24v4h-24zM22 50h24v4h-24zM22 58h12v4h-12zM22 62h12v4h-12z"/><path fill="url(#p1)" d="M58 2h4v4h-4zM66 2h4v4h-4zM66 6h8v4h-8zM78 6h8v4h-8zM66 10h8v4h-8zM78 10h8v4h-8zM58 14h4v4h-4zM66 14h4v4h-4zM82 14h4v4h-4zM66 18h4v4h-4zM66 22h4v4h-4zM70 26h4v4h-4zM70 30h4v4h-4zM70 34h4v4h-4zM22 38h4v4h-4zM34 38h4v4h-4zM70 38h4v4h-4zM26 42h4v4h-4zM34 42h12v4h-12zM70 42h4v4h-4zM46 50h12v4h-12zM22 66h24v4h-24zM74 66h4v4h-4z"/><path fill="url(#p2)" d="M54 2h4v4h-4zM86 2h4v4h-4zM62 6h4v4h-4zM86 6h4v4h-4zM62 10h4v4h-4zM86 10h4v4h-4zM74 14h4v4h-4zM86 14h4v4h-4zM62 18h4v4h-4zM86 18h4v4h-4zM62 22h4v4h-4zM86 22h4v4h-4zM78 26h4v4h-4zM22 34h24v4h-24zM74 34h16v4h-16zM26 38h8v4h-8zM38 38h8v4h-8zM74 38h4v4h-4zM74 42h4v4h-4zM70 46h8v4h-8zM58 50h12v4h-12zM78 50h4v4h-4zM78 54h4v4h-4zM34 58h12v4h-12zM74 58h4v4h-4zM34 62h12v4h-12zM74 62h4v4h-4zM46 66h4v4h-4z"/><path fill="url(#p3)" d="M50 2h4v4h-4zM74 2h4v4h-4zM50 6h12v4h-12zM74 6h4v4h-4zM50 10h12v4h-12zM74 10h4v4h-4zM50 14h8v4h-8zM78 14h4v4h-4zM50 18h12v4h-12zM74 18h12v4h-12zM50 22h12v4h-12zM74 22h12v4h-12zM66 26h4v4h-4zM74 26h4v4h-4zM86 26h4v4h-4zM74 30h16v4h-16zM46 34h4v4h-4zM66 34h4v4h-4zM46 38h4v4h-4zM78 38h12v4h-12zM46 42h4v4h-4zM78 42h4v4h-4zM86 42h4v4h-4zM46 46h4v4h-4zM78 46h4v4h-4zM70 50h4v4h-4zM22 54h48v4h-48zM46 58h20v4h-20zM46 62h12v4h-12zM50 66h8v4h-8z"/><path fill="url(#p4)" d="M62 26h4v4h-4zM82 26h4v4h-4zM22 30h24v4h-24zM62 30h8v4h-8zM50 34h4v4h-4zM62 34h4v4h-4zM50 38h4v4h-4zM66 38h4v4h-4zM50 42h4v4h-4zM82 42h4v4h-4zM50 46h4v4h-4zM82 46h8v4h-8zM82 50h4v4h-4zM82 54h8v4h-8zM58 62h4v4h-4zM58 66h8v4h-8zM70 66h4v4h-4z"/><path fill="url(#p5)" d="M22 26h20v4h-20zM54 26h8v4h-8zM46 30h4v4h-4zM58 30h4v4h-4zM58 34h4v4h-4zM54 38h4v4h-4zM54 42h4v4h-4zM54 46h4v4h-4zM86 50h4v4h-4zM70 54h4v4h-4zM66 58h8v4h-8zM62 62h4v4h-4zM70 62h4v4h-4zM66 66h4v4h-4zM78 66h4v4h-4z"/><path fill="url(#p6)" d="M38 2h12v4h-12zM42 6h8v4h-8zM22 10h4v4h-4zM42 10h8v4h-8zM46 14h4v4h-4zM22 18h8v4h-8zM22 22h8v4h-8zM42 26h4v4h-4zM50 26h4v4h-4zM54 30h4v4h-4zM54 34h4v4h-4zM62 38h4v4h-4zM58 42h4v4h-4zM66 42h4v4h-4zM58 46h4v4h-4zM74 50h4v4h-4zM74 54h4v4h-4zM82 58h8v4h-8zM66 62h4v4h-4zM78 62h4v4h-4zM86 62h4v4h-4zM82 66h4v4h-4z"/><path fill="url(#p7)" d="M26 2h12v4h-12zM22 6h4v4h-4zM30 6h12v4h-12zM26 10h4v4h-4zM34 10h8v4h-8zM22 14h12v4h-12zM42 14h4v4h-4zM30 18h8v4h-8zM46 18h4v4h-4zM30 22h8v4h-8zM46 26h4v4h-4zM50 30h4v4h-4zM58 38h4v4h-4zM62 46h8v4h-8zM78 58h4v4h-4zM82 62h4v4h-4zM86 66h4v4h-4z"/><path fill="url(#p8)" d="M22 2h4v4h-4zM26 6h4v4h-4zM30 10h4v4h-4zM34 14h8v4h-8zM38 18h8v4h-8zM38 22h12v4h-12zM62 42h4v4h-4z"/></g><g transform="translate(803,677) scale(4)"><path fill="#00008b" d="M26 0h1V68h-1zM0 26H68v1H0zM29 0h1V68h-1zM0 29H68v1H0zM33 0h1V68h-1zM0 33H68v1H0z"/><path fill="#d40000" d="M1 0h1v1h-1zM0 1h1v1h-1zM2 1h1v1h-1zM1 2h1v1h-1zM3 2h1v1h-1zM2 3h1v1h-1zM4 3h1v1h-1zM3 4h1v1h-1zM5 4h1v1h-1zM4 5h1v1h-1zM6 5h1v1h-1zM5 6h1v1h-1zM7 6h1v1h-1zM6 7h1v1h-1zM8 7h1v1h-1zM7 8h1v1h-1zM9 8h1v1h-1zM8 9h1v1h-1zM10 9h1v1h-1zM9 10h1v1h-1zM11 10h1v1h-1zM10 11h1v1h-1zM12 11h1v1h-1zM11 12h1v1h-1zM13 12h1v1h-1zM12 13h1v1h-1zM14 13h1v1h-1zM13 14h1v1h-1zM15 14h1v1h-1zM14 15h1v1h-1zM16 15h1v1h-1zM15 16h1v1h-1zM17 16h1v1h-1zM16 17h1v1h-1zM18 17h1v1h-1zM17 18h1v1h-1zM19 18h1v1h-1zM18 19h1v1h-1zM20 19h1v1h-1zM19 20h1v1h-1zM21 20h1v1h-1zM20 21h1v1h-1zM22 21h1v1h-1zM21 22h1v1h-1zM23 22h1v1h-1zM22 23h1v1h-1zM24 23h1v1h-1zM23 24h1v1h-1zM25 24h1v1h-1zM24 25h1v1h-1zM26 25h1v1h-1zM25 26h1v1h-1zM27 26h1v1h-1zM26 27h1v1h-1zM28 27h1v1h-1zM27 28h1v1h-1zM29 28h1v1h-1zM28 29h1v1h-1zM30 29h1v1h-1zM29 30h1v1h-1zM31 30h1v1h-1zM30 31h1v1h-1zM32 31h1v1h-1zM31 32h1v1h-1zM33 32h1v1h-1zM32 33h1v1h-1zM34 33h1v1h-1zM33 34h1v1h-1zM35 34h1v1h-1zM34 35h1v1h-1zM36 35h1v1h-1zM35 36h1v1h-1zM37 36h1v1h-1zM36 37h1v1h-1zM38 37h1v1h-1zM37 38h1v1h-1zM39 38h1v1h-1zM38 39h1v1h-1zM40 39h1v1h-1zM39 40h1v1h-1zM41 40h1v1h-1zM40 41h1v1h-1zM42 41h1v1h-1zM41 42h1v1h-1zM43 42h1v1h-1zM42 43h1v1h-1zM44 43h1v1h-1zM43 44h1v1h-1zM45 44h1v1h-1zM44 45h1v1h-1zM46 45h1v1h-1zM45 46h1v1h-1zM47 46h1v1h-1zM46 47h1v1h-1zM48 47h1v1h-1zM47 48h1v1h-1zM49 48h1v1h-1zM48 49h1v1h-1zM50 49h1v1h-1zM49 50h1v1h-1zM51 50h1v1h-1zM50 51h1v1h-1zM52 51h1v1h-1zM51 52h1v1h-1zM53 52h1v1h-1zM52 53h1v1h-1zM54 53h1v1h-1zM53 54h1v1h-1zM55 54h1v1h-1zM54 55h1v1h-1zM56 55h1v1h-1zM55 56h1v1h-1zM57 56h1v1h-1zM56 57h1v1h-1zM58 57h1v1h-1zM57 58h1v1h-1zM59 58h1v1h-1zM58 59h1v1h-1zM60 59h1v1h-1zM59 60h1v1h-1zM61 60h1v1h-1zM60 61h1v1h-1zM62 61h1v1h-1zM61 62h1v1h-1zM63 62h1v1h-1zM62 63h1v1h-1zM64 63h1v1h-1zM63 64h1v1h-1zM65 64h1v1h-1zM64 65h1v1h-1zM66 65h1v1h-1zM65 66h1v1h-1zM67 66h1v1h-1zM66 67h1v1h-1z"/><path fill="#fff" d="M0 0h1v1h-1zM1 1h1v1h-1zM2 2h1v1h-1zM3 3h1v1h-1zM4 4h1v1h-1zM5 5h1v1h-1zM6 6h1v1h-1zM7 7h1v1h-1zM8 8h1v1h-1zM9 9h1v1h-1zM10 10h1v1h-1zM11 11h1v1h-1zM12 12h1v1h-1zM13 13h1v1h-1zM14 14h1v1h-1zM15 15h1v1h-1zM16 16h1v1h-1zM17 17h1v1h-1zM18 18h1v1h-1zM19 19h1v1h-1zM20 20h1v1h-1zM21 21h1v1h-1zM22 22h1v1h-1zM23 23h1v1h-1zM24 24h1v1h-1zM25 25h1v1h-1zM26 26h1v1h-1zM27 27h1v1h-1zM28 28h1v1h-1zM29 29h1v1h-1zM30 30h1v1h-1zM31 31h1v1h-1zM32 32h1v1h-1zM33 33h1v1h-1zM34 34h1v1h-1zM35 35h1v1h-1zM36 36h1v1h-1zM37 37h1v1h-1zM38 38h1v1h-1zM39 39h1v1h-1zM40 40h1v1h-1zM41 41h1v1h-1zM42 42h1v1h-1zM43 43h1v1h-1zM44 44h1v1h-1zM45 45h1v1h-1zM46 46h1v1h-1zM47 47h1v1h-1zM48 48h1v1h-1zM49 49h1v1h-1zM50 50h1v1h-1zM51 51h1v1h-1zM52 52h1v1h-1zM53 53h1v1h-1zM54 54h1v1h-1zM55 55h1v1h-1zM56 56h1v1h-1zM57 57h1v1h-1zM58 58h1v1h-1zM59 59h1v1h-1zM60 60h1v1h-1zM61 61h1v1h-1zM62 62h1v1h-1zM63 63h1v1h-1zM64 64h1v1h-1zM65 65h1v1h-1zM66 66h1v1h-1zM67 67h1v1h-1z"/><path d="M0 65h68v0.25H0z" fill="#fff" fill-opacity="0.3"/></g><g transform="translate(1026,669) scale(4)"><path fill="#00008b" d="M17 66h16v4h-16z"/><path fill="url(#q1)" d="M65 2h4v4h-4zM73 2h12v4h-12zM61 6h24v4h-24zM57 10h8v4h-8zM77 10h8v4h-8zM57 14h8v4h-8zM81 14h4v4h-4zM61 18h8v4h-8zM77 18h8v4h-8zM61 22h24v4h-24zM73 30h4v4h-4zM17 46h4v4h-4zM17 54h4v4h-4zM17 58h16v4h-16zM17 62h20v4h-20zM33 66h8v4h-8z"/><path fill="url(#q2)" d="M57 2h8v4h-8zM69 2h4v4h-4zM57 6h4v4h-4zM53 10h4v4h-4zM65 10h12v4h-12zM49 14h8v4h-8zM65 14h4v4h-4zM73 14h8v4h-8zM53 18h8v4h-8zM69 18h8v4h-8zM57 22h4v4h-4zM65 26h20v4h-20zM69 30h4v4h-4zM77 30h4v4h-4zM17 38h8v4h-8zM17 42h16v4h-16zM21 46h12v4h-12zM17 50h16v4h-16zM21 54h20v4h-20zM33 58h8v4h-8zM45 58h4v4h-4zM37 62h4v4h-4zM41 66h8v4h-8z"/><path fill="url(#q3)" d="M45 2h4v4h-4zM53 2h4v4h-4zM45 6h12v4h-12zM45 10h8v4h-8zM45 14h4v4h-4zM69 14h4v4h-4zM49 18h4v4h-4zM49 22h8v4h-8zM57 26h8v4h-8zM21 30h4v4h-4zM33 30h8v4h-8zM65 30h4v4h-4zM81 30h4v4h-4zM17 34h24v4h-24zM65 34h16v4h-16zM25 38h16v4h-16zM69 38h4v4h-4zM33 42h8v4h-8zM69 42h12v4h-12zM33 46h8v4h-8zM33 50h8v4h-8zM45 50h12v4h-12zM41 54h16v4h-16zM41 58h4v4h-4zM49 58h8v4h-8zM41 62h12v4h-12zM49 66h4v4h-4z"/><path fill="url(#q4)" d="M49 2h4v4h-4zM45 18h4v4h-4zM45 22h4v4h-4zM49 26h8v4h-8zM17 30h4v4h-4zM25 30h8v4h-8zM41 34h4v4h-4zM81 34h4v4h-4zM41 38h4v4h-4zM65 38h4v4h-4zM73 38h12v4h-12zM41 42h4v4h-4zM65 42h4v4h-4zM81 42h4v4h-4zM41 46h4v4h-4zM65 46h20v4h-20zM41 50h4v4h-4zM57 50h4v4h-4zM57 54h8v4h-8zM57 58h8v4h-8zM53 62h16v4h-16zM53 66h12v4h-12z"/><path fill="url(#q5)" d="M17 18h4v4h-4zM17 22h4v4h-4zM45 26h4v4h-4zM41 30h4v4h-4zM65 66h4v4h-4z"/><path fill="url(#q6)" d="M33 2h12v4h-12zM33 6h12v4h-12zM37 10h8v4h-8zM17 14h4v4h-4zM41 14h4v4h-4zM21 18h4v4h-4zM21 22h8v4h-8zM17 26h20v4h-20z"/><path fill="url(#q7)" d="M21 2h12v4h-12zM17 6h4v4h-4zM25 6h8v4h-8zM17 10h8v4h-8zM29 10h8v4h-8zM21 14h8v4h-8zM33 14h8v4h-8zM25 18h8v4h-8zM37 18h8v4h-8zM29 22h8v4h-8zM41 22h4v4h-4zM37 26h4v4h-4zM49 30h16v4h-16zM45 34h4v4h-4zM53 34h12v4h-12zM45 38h8v4h-8zM57 38h8v4h-8zM45 42h12v4h-12zM61 42h4v4h-4zM45 46h16v4h-16zM65 50h20v4h-20zM69 54h16v4h-16zM65 58h4v4h-4zM73 58h12v4h-12zM69 62h8v4h-8zM81 62h4v4h-4zM69 66h12v4h-12z"/><path fill="url(#q8)" d="M17 2h4v4h-4zM21 6h4v4h-4zM25 10h4v4h-4zM29 14h4v4h-4zM33 18h4v4h-4zM37 22h4v4h-4zM41 26h4v4h-4zM45 30h4v4h-4zM49 34h4v4h-4zM53 38h4v4h-4zM57 42h4v4h-4zM61 46h4v4h-4zM61 50h4v4h-4zM65 54h4v4h-4zM69 58h4v4h-4zM77 62h4v4h-4zM81 66h4v4h-4z"/></g><g transform="translate(1094,677) scale(4)"><path fill="#d40000" d="M1 0h1v1h-1zM0 1h1v1h-1zM2 1h1v1h-1zM1 2h1v1h-1zM3 2h1v1h-1zM2 3h1v1h-1zM4 3h1v1h-1zM3 4h1v1h-1zM5 4h1v1h-1zM4 5h1v1h-1zM6 5h1v1h-1zM5 6h1v1h-1zM7 6h1v1h-1zM6 7h1v1h-1zM8 7h1v1h-1zM7 8h1v1h-1zM9 8h1v1h-1zM8 9h1v1h-1zM10 9h1v1h-1zM9 10h1v1h-1zM11 10h1v1h-1zM10 11h1v1h-1zM12 11h1v1h-1zM11 12h1v1h-1zM13 12h1v1h-1zM12 13h1v1h-1zM14 13h1v1h-1zM13 14h1v1h-1zM15 14h1v1h-1zM14 15h1v1h-1zM16 15h1v1h-1zM15 16h1v1h-1zM17 16h1v1h-1zM16 17h1v1h-1zM18 17h1v1h-1zM17 18h1v1h-1zM19 18h1v1h-1zM18 19h1v1h-1zM20 19h1v1h-1zM19 20h1v1h-1zM21 20h1v1h-1zM20 21h1v1h-1zM22 21h1v1h-1zM21 22h1v1h-1zM23 22h1v1h-1zM22 23h1v1h-1zM24 23h1v1h-1zM23 24h1v1h-1zM25 24h1v1h-1zM24 25h1v1h-1zM26 25h1v1h-1zM25 26h1v1h-1zM27 26h1v1h-1zM26 27h1v1h-1zM28 27h1v1h-1zM27 28h1v1h-1zM29 28h1v1h-1zM28 29h1v1h-1zM30 29h1v1h-1zM29 30h1v1h-1zM31 30h1v1h-1zM30 31h1v1h-1zM32 31h1v1h-1zM31 32h1v1h-1zM33 32h1v1h-1zM32 33h1v1h-1zM34 33h1v1h-1zM33 34h1v1h-1zM35 34h1v1h-1zM34 35h1v1h-1zM36 35h1v1h-1zM35 36h1v1h-1zM37 36h1v1h-1zM36 37h1v1h-1zM38 37h1v1h-1zM37 38h1v1h-1zM39 38h1v1h-1zM38 39h1v1h-1zM40 39h1v1h-1zM39 40h1v1h-1zM41 40h1v1h-1zM40 41h1v1h-1zM42 41h1v1h-1zM41 42h1v1h-1zM43 42h1v1h-1zM42 43h1v1h-1zM44 43h1v1h-1zM43 44h1v1h-1zM45 44h1v1h-1zM44 45h1v1h-1zM46 45h1v1h-1zM45 46h1v1h-1zM47 46h1v1h-1zM46 47h1v1h-1zM48 47h1v1h-1zM47 48h1v1h-1zM49 48h1v1h-1zM48 49h1v1h-1zM50 49h1v1h-1zM49 50h1v1h-1zM51 50h1v1h-1zM50 51h1v1h-1zM52 51h1v1h-1zM51 52h1v1h-1zM53 52h1v1h-1zM52 53h1v1h-1zM54 53h1v1h-1zM53 54h1v1h-1zM55 54h1v1h-1zM54 55h1v1h-1zM56 55h1v1h-1zM55 56h1v1h-1zM57 56h1v1h-1zM56 57h1v1h-1zM58 57h1v1h-1zM57 58h1v1h-1zM59 58h1v1h-1zM58 59h1v1h-1zM60 59h1v1h-1zM59 60h1v1h-1zM61 60h1v1h-1zM60 61h1v1h-1zM62 61h1v1h-1zM61 62h1v1h-1zM63 62h1v1h-1zM62 63h1v1h-1zM64 63h1v1h-1zM63 64h1v1h-1zM65 64h1v1h-1zM64 65h1v1h-1zM66 65h1v1h-1zM65 66h1v1h-1zM67 66h1v1h-1zM66 67h1v1h-1z"/><path fill="#fff" d="M0 0h1v1h-1zM1 1h1v1h-1zM2 2h1v1h-1zM3 3h1v1h-1zM4 4h1v1h-1zM5 5h1v1h-1zM6 6h1v1h-1zM7 7h1v1h-1zM8 8h1v1h-1zM9 9h1v1h-1zM10 10h1v1h-1zM11 11h1v1h-1zM12 12h1v1h-1zM13 13h1v1h-1zM14 14h1v1h-1zM15 15h1v1h-1zM16 16h1v1h-1zM17 17h1v1h-1zM18 18h1v1h-1zM19 19h1v1h-1zM20 20h1v1h-1zM21 21h1v1h-1zM22 22h1v1h-1zM23 23h1v1h-1zM24 24h1v1h-1zM25 25h1v1h-1zM26 26h1v1h-1zM27 27h1v1h-1zM28 28h1v1h-1zM29 29h1v1h-1zM30 30h1v1h-1zM31 31h1v1h-1zM32 32h1v1h-1zM33 33h1v1h-1zM34 34h1v1h-1zM35 35h1v1h-1zM36 36h1v1h-1zM37 37h1v1h-1zM38 38h1v1h-1zM39 39h1v1h-1zM40 40h1v1h-1zM41 41h1v1h-1zM42 42h1v1h-1zM43 43h1v1h-1zM44 44h1v1h-1zM45 45h1v1h-1zM46 46h1v1h-1zM47 47h1v1h-1zM48 48h1v1h-1zM49 49h1v1h-1zM50 50h1v1h-1zM51 51h1v1h-1zM52 52h1v1h-1zM53 53h1v1h-1zM54 54h1v1h-1zM55 55h1v1h-1zM56 56h1v1h-1zM57 57h1v1h-1zM58 58h1v1h-1zM59 59h1v1h-1zM60 60h1v1h-1zM61 61h1v1h-1zM62 62h1v1h-1zM63 63h1v1h-1zM64 64h1v1h-1zM65 65h1v1h-1zM66 66h1v1h-1zM67 67h1v1h-1z"/><path d="M0 65h68v0.25H0z" fill="#fff" fill-opacity="0.3"/></g><g transform="translate(1437,577) scale(4)"><path fill="#00008b" d="M61 25h16v4h-16zM61 29h16v4h-16zM61 33h16v4h-16zM61 37h16v4h-16zM69 41h8v4h-8zM61 45h16v4h-16zM61 49h16v4h-16zM61 53h16v4h-16zM61 57h16v4h-16zM65 61h12v4h-12zM9 73h20v4h-20zM9 77h36v4h-36zM9 81h36v4h-36zM9 85h36v4h-36zM9 89h36v4h-36z"/><path fill="url(#p1)" d="M57 29h4v4h-4zM57 33h4v4h-4zM65 41h4v4h-4zM61 61h4v4h-4zM9 69h16v4h-16zM29 73h8v4h-8z"/><path fill="url(#p2)" d="M53 33h4v4h-4zM53 37h8v4h-8zM61 41h4v4h-4zM57 45h4v4h-4zM57 49h4v4h-4zM57 53h4v4h-4zM57 57h4v4h-4zM9 65h12v4h-12zM25 69h4v4h-4zM37 73h4v4h-4zM45 89h4v4h-4z"/><path fill="url(#p3)" d="M57 25h4v4h-4zM53 29h4v4h-4zM49 33h4v4h-4zM49 37h4v4h-4zM57 41h4v4h-4zM53 45h4v4h-4zM53 49h4v4h-4zM9 61h4v4h-4zM57 61h4v4h-4zM21 65h4v4h-4zM61 65h4v4h-4zM69 65h4v4h-4zM29 69h4v4h-4zM45 77h4v4h-4zM45 81h4v4h-4zM45 85h4v4h-4zM49 89h4v4h-4z"/><path fill="url(#p4)" d="M49 29h4v4h-4zM53 41h4v4h-4zM49 45h4v4h-4zM53 53h4v4h-4zM53 57h4v4h-4zM13 61h8v4h-8zM25 65h8v4h-8zM57 65h4v4h-4zM65 65h4v4h-4zM73 65h4v4h-4zM33 69h4v4h-4zM65 69h12v4h-12zM41 73h4v4h-4zM61 73h4v4h-4zM69 73h8v4h-8zM49 81h8v4h-8zM49 85h8v4h-8zM53 89h8v4h-8z"/><path fill="url(#p5)" d="M29 25h4v4h-4zM37 25h4v4h-4zM45 25h12v4h-12zM41 29h8v4h-8zM45 33h4v4h-4zM45 37h4v4h-4zM49 41h4v4h-4zM49 49h4v4h-4zM49 53h4v4h-4zM9 57h4v4h-4zM21 61h8v4h-8zM53 61h4v4h-4zM33 65h4v4h-4zM37 69h4v4h-4zM61 69h4v4h-4zM45 73h4v4h-4zM65 73h4v4h-4zM49 77h12v4h-12zM57 81h4v4h-4zM57 85h4v4h-4z"/><path fill="url(#p6)" d="M9 25h4v4h-4zM17 25h12v4h-12zM33 25h4v4h-4zM41 25h4v4h-4zM25 29h16v4h-16zM33 33h12v4h-12zM9 37h4v4h-4zM37 37h8v4h-8zM9 41h4v4h-4zM45 41h4v4h-4zM9 45h4v4h-4zM41 45h8v4h-8zM9 49h4v4h-4zM45 49h4v4h-4zM9 53h4v4h-4zM13 57h16v4h-16zM49 57h4v4h-4zM29 61h8v4h-8zM37 65h4v4h-4zM41 69h4v4h-4zM49 73h4v4h-4zM61 81h4v4h-4zM61 85h4v4h-4zM61 89h4v4h-4z"/><path fill="url(#p7)" d="M13 25h4v4h-4zM9 29h4v4h-4zM21 29h4v4h-4zM9 33h4v4h-4zM25 33h8v4h-8zM17 37h4v4h-4zM29 37h8v4h-8zM13 41h8v4h-8zM33 41h12v4h-12zM13 45h12v4h-12zM37 45h4v4h-4zM13 49h12v4h-12zM41 49h4v4h-4zM13 53h20v4h-20zM45 53h4v4h-4zM29 57h8v4h-8zM37 61h4v4h-4zM49 61h4v4h-4zM41 65h4v4h-4zM53 65h4v4h-4zM45 69h4v4h-4zM53 73h8v4h-8zM61 77h16v4h-16zM65 89h4v4h-4z"/><path fill="url(#p8)" d="M13 29h8v4h-8zM13 33h12v4h-12zM13 37h4v4h-4zM21 37h8v4h-8zM21 41h12v4h-12zM25 45h12v4h-12zM25 49h16v4h-16zM33 53h12v4h-12zM37 57h12v4h-12zM41 61h8v4h-8zM45 65h8v4h-8zM49 69h12v4h-12zM65 81h12v4h-12zM65 85h12v4h-12zM69 89h8v4h-8z"/></g><g transform="translate(1473,677) scale(4)"><path fill="#00008b" d="M9 0h1V35h-1zM0 9H30v1H0zM2 19h1V50h-1zM55 48h1V68h-1zM48 55H68v1H48zM52 52H68v1H52zM52 52h1V68h-1z"/><path fill="url(#p5)" d="M19 2H50v1H19z"/><path fill="#d40000" d="M1 0h1v1h-1zM0 1h1v1h-1zM2 1h1v1h-1zM1 2h1v1h-1zM3 2h1v1h-1zM2 3h1v1h-1zM4 3h1v1h-1zM3 4h1v1h-1zM5 4h1v1h-1zM4 5h1v1h-1zM6 5h1v1h-1zM5 6h1v1h-1zM7 6h1v1h-1zM6 7h1v1h-1zM8 7h1v1h-1zM7 8h1v1h-1zM9 8h1v1h-1zM8 9h1v1h-1zM10 9h1v1h-1zM9 10h1v1h-1zM11 10h1v1h-1zM10 11h1v1h-1zM12 11h1v1h-1zM11 12h1v1h-1zM13 12h1v1h-1zM12 13h1v1h-1zM14 13h1v1h-1zM13 14h1v1h-1zM15 14h1v1h-1zM14 15h1v1h-1zM16 15h1v1h-1zM15 16h1v1h-1zM17 16h1v1h-1zM16 17h1v1h-1zM18 17h1v1h-1zM17 18h1v1h-1zM19 18h1v1h-1zM18 19h1v1h-1zM20 19h1v1h-1zM19 20h1v1h-1zM21 20h1v1h-1zM20 21h1v1h-1zM22 21h1v1h-1zM21 22h1v1h-1zM23 22h1v1h-1zM22 23h1v1h-1zM24 23h1v1h-1zM23 24h1v1h-1zM25 24h1v1h-1zM24 25h1v1h-1zM26 25h1v1h-1zM25 26h1v1h-1zM27 26h1v1h-1zM26 27h1v1h-1zM28 27h1v1h-1zM27 28h1v1h-1zM29 28h1v1h-1zM28 29h1v1h-1zM30 29h1v1h-1zM29 30h1v1h-1zM31 30h1v1h-1zM30 31h1v1h-1zM32 31h1v1h-1zM31 32h1v1h-1zM33 32h1v1h-1zM32 33h1v1h-1zM34 33h1v1h-1zM33 34h1v1h-1zM35 34h1v1h-1zM34 35h1v1h-1zM36 35h1v1h-1zM35 36h1v1h-1zM37 36h1v1h-1zM36 37h1v1h-1zM38 37h1v1h-1zM37 38h1v1h-1zM39 38h1v1h-1zM38 39h1v1h-1zM40 39h1v1h-1zM39 40h1v1h-1zM41 40h1v1h-1zM40 41h1v1h-1zM42 41h1v1h-1zM41 42h1v1h-1zM43 42h1v1h-1zM42 43h1v1h-1zM44 43h1v1h-1zM43 44h1v1h-1zM45 44h1v1h-1zM44 45h1v1h-1zM46 45h1v1h-1zM45 46h1v1h-1zM47 46h1v1h-1zM46 47h1v1h-1zM48 47h1v1h-1zM47 48h1v1h-1zM49 48h1v1h-1zM48 49h1v1h-1zM50 49h1v1h-1zM49 50h1v1h-1zM51 50h1v1h-1zM50 51h1v1h-1zM52 51h1v1h-1zM51 52h1v1h-1zM53 52h1v1h-1zM52 53h1v1h-1zM54 53h1v1h-1zM53 54h1v1h-1zM55 54h1v1h-1zM54 55h1v1h-1zM56 55h1v1h-1zM55 56h1v1h-1zM57 56h1v1h-1zM56 57h1v1h-1zM58 57h1v1h-1zM57 58h1v1h-1zM59 58h1v1h-1zM58 59h1v1h-1zM60 59h1v1h-1zM59 60h1v1h-1zM61 60h1v1h-1zM60 61h1v1h-1zM62 61h1v1h-1zM61 62h1v1h-1zM63 62h1v1h-1zM62 63h1v1h-1zM64 63h1v1h-1zM63 64h1v1h-1zM65 64h1v1h-1zM64 65h1v1h-1zM66 65h1v1h-1zM65 66h1v1h-1zM67 66h1v1h-1zM66 67h1v1h-1z"/><path fill="#fff" d="M0 0h1v1h-1zM1 1h1v1h-1zM2 2h1v1h-1zM3 3h1v1h-1zM4 4h1v1h-1zM5 5h1v1h-1zM6 6h1v1h-1zM7 7h1v1h-1zM8 8h1v1h-1zM9 9h1v1h-1zM10 10h1v1h-1zM11 11h1v1h-1zM12 12h1v1h-1zM13 13h1v1h-1zM14 14h1v1h-1zM15 15h1v1h-1zM16 16h1v1h-1zM17 17h1v1h-1zM18 18h1v1h-1zM19 19h1v1h-1zM20 20h1v1h-1zM21 21h1v1h-1zM22 22h1v1h-1zM23 23h1v1h-1zM24 24h1v1h-1zM25 25h1v1h-1zM26 26h1v1h-1zM27 27h1v1h-1zM28 28h1v1h-1zM29 29h1v1h-1zM30 30h1v1h-1zM31 31h1v1h-1zM32 32h1v1h-1zM33 33h1v1h-1zM34 34h1v1h-1zM35 35h1v1h-1zM36 36h1v1h-1zM37 37h1v1h-1zM38 38h1v1h-1zM39 39h1v1h-1zM40 40h1v1h-1zM41 41h1v1h-1zM42 42h1v1h-1zM43 43h1v1h-1zM44 44h1v1h-1zM45 45h1v1h-1zM46 46h1v1h-1zM47 47h1v1h-1zM48 48h1v1h-1zM49 49h1v1h-1zM50 50h1v1h-1zM51 51h1v1h-1zM52 52h1v1h-1zM53 53h1v1h-1zM54 54h1v1h-1zM55 55h1v1h-1zM56 56h1v1h-1zM57 57h1v1h-1zM58 58h1v1h-1zM59 59h1v1h-1zM60 60h1v1h-1zM61 61h1v1h-1zM62 62h1v1h-1zM63 63h1v1h-1zM64 64h1v1h-1zM65 65h1v1h-1zM66 66h1v1h-1zM67 67h1v1h-1z"/><path d="M0 65h68v0.25H0z" fill="#fff" fill-opacity="0.3"/></g><g transform="translate(1741,617) scale(4)"><path fill="#00008b" d="M62 35h12v4h-12zM18 71h4v4h-4zM18 75h4v4h-4zM10 79h12v4h-12z"/><path fill="url(#q1)" d="M54 15h20v4h-20zM54 19h20v4h-20zM54 23h20v4h-20zM54 27h20v4h-20zM58 31h16v4h-16zM58 35h4v4h-4zM66 39h8v4h-8zM6 63h8v4h-8zM6 67h16v4h-16zM6 71h12v4h-12zM22 71h4v4h-4zM6 75h12v4h-12zM22 75h8v4h-8zM6 79h4v4h-4zM22 79h8v4h-8z"/><path fill="url(#q2)" d="M50 15h4v4h-4zM50 19h4v4h-4zM50 23h4v4h-4zM50 27h4v4h-4zM54 31h4v4h-4zM54 35h4v4h-4zM58 39h8v4h-8zM54 43h20v4h-20zM6 59h4v4h-4zM14 63h4v4h-4zM22 67h4v4h-4zM26 71h4v4h-4z"/><path fill="url(#q3)" d="M50 31h4v4h-4zM50 35h4v4h-4zM54 39h4v4h-4zM54 47h20v4h-20zM54 51h4v4h-4zM62 51h12v4h-12zM58 55h16v4h-16zM10 59h8v4h-8zM58 59h4v4h-4zM66 59h8v4h-8zM18 63h12v4h-12zM26 67h8v4h-8zM50 67h4v4h-4zM30 71h12v4h-12zM50 71h8v4h-8zM30 75h12v4h-12zM50 75h8v4h-8zM30 79h12v4h-12zM50 79h8v4h-8z"/><path fill="url(#q4)" d="M50 39h4v4h-4zM50 43h4v4h-4zM50 47h4v4h-4zM50 51h4v4h-4zM58 51h4v4h-4zM50 55h8v4h-8zM18 59h24v4h-24zM54 59h4v4h-4zM62 59h4v4h-4zM30 63h24v4h-24zM34 67h16v4h-16zM54 67h4v4h-4zM42 71h8v4h-8zM42 75h8v4h-8zM42 79h8v4h-8z"/><path fill="url(#q5)" d="M6 35h4v4h-4zM42 35h8v4h-8zM22 51h4v4h-4zM6 55h4v4h-4zM22 55h4v4h-4zM42 59h12v4h-12zM54 63h4v4h-4z"/><path fill="url(#q6)" d="M18 15h20v4h-20zM46 15h4v4h-4zM22 19h28v4h-28zM26 23h24v4h-24zM6 27h4v4h-4zM30 27h20v4h-20zM6 31h8v4h-8zM34 31h16v4h-16zM10 35h8v4h-8zM38 35h4v4h-4zM6 39h12v4h-12zM42 39h8v4h-8zM6 43h20v4h-20zM46 43h4v4h-4zM6 47h24v4h-24zM6 51h16v4h-16zM26 51h12v4h-12zM10 55h12v4h-12zM26 55h12v4h-12zM58 63h16v4h-16zM58 79h4v4h-4z"/><path fill="url(#q7)" d="M14 15h4v4h-4zM38 15h8v4h-8zM18 19h4v4h-4zM6 23h4v4h-4zM22 23h4v4h-4zM10 27h8v4h-8zM26 27h4v4h-4zM14 31h8v4h-8zM30 31h4v4h-4zM18 35h8v4h-8zM34 35h4v4h-4zM18 39h12v4h-12zM38 39h4v4h-4zM26 43h4v4h-4zM42 43h4v4h-4zM30 47h8v4h-8zM46 47h4v4h-4zM38 51h4v4h-4zM38 55h4v4h-4zM62 67h12v4h-12zM58 71h4v4h-4zM66 71h8v4h-8zM58 75h8v4h-8zM70 75h4v4h-4zM62 79h8v4h-8z"/><path fill="url(#q8)" d="M6 15h8v4h-8zM6 19h12v4h-12zM10 23h12v4h-12zM18 27h8v4h-8zM22 31h8v4h-8zM26 35h8v4h-8zM30 39h8v4h-8zM30 43h12v4h-12zM38 47h8v4h-8zM42 51h8v4h-8zM42 55h8v4h-8zM58 67h4v4h-4zM62 71h4v4h-4zM66 75h4v4h-4zM70 79h4v4h-4z"/></g><g transform="translate(1765,677) scale(4)"><path fill="#d40000" d="M1 0h1v1h-1zM0 1h1v1h-1zM2 1h1v1h-1zM1 2h1v1h-1zM3 2h1v1h-1zM2 3h1v1h-1zM4 3h1v1h-1zM3 4h1v1h-1zM5 4h1v1h-1zM4 5h1v1h-1zM6 5h1v1h-1zM5 6h1v1h-1zM7 6h1v1h-1zM6 7h1v1h-1zM8 7h1v1h-1zM7 8h1v1h-1zM9 8h1v1h-1zM8 9h1v1h-1zM10 9h1v1h-1zM9 10h1v1h-1zM11 10h1v1h-1zM10 11h1v1h-1zM12 11h1v1h-1zM11 12h1v1h-1zM13 12h1v1h-1zM12 13h1v1h-1zM14 13h1v1h-1zM13 14h1v1h-1zM15 14h1v1h-1zM14 15h1v1h-1zM16 15h1v1h-1zM15 16h1v1h-1zM17 16h1v1h-1zM16 17h1v1h-1zM18 17h1v1h-1zM17 18h1v1h-1zM19 18h1v1h-1zM18 19h1v1h-1zM20 19h1v1h-1zM19 20h1v1h-1zM21 20h1v1h-1zM20 21h1v1h-1zM22 21h1v1h-1zM21 22h1v1h-1zM23 22h1v1h-1zM22 23h1v1h-1zM24 23h1v1h-1zM23 24h1v1h-1zM25 24h1v1h-1zM24 25h1v1h-1zM26 25h1v1h-1zM25 26h1v1h-1zM27 26h1v1h-1zM26 27h1v1h-1zM28 27h1v1h-1zM27 28h1v1h-1zM29 28h1v1h-1zM28 29h1v1h-1zM30 29h1v1h-1zM29 30h1v1h-1zM31 30h1v1h-1zM30 31h1v1h-1zM32 31h1v1h-1zM31 32h1v1h-1zM33 32h1v1h-1zM32 33h1v1h-1zM34 33h1v1h-1zM33 34h1v1h-1zM35 34h1v1h-1zM34 35h1v1h-1zM36 35h1v1h-1zM35 36h1v1h-1zM37 36h1v1h-1zM36 37h1v1h-1zM38 37h1v1h-1zM37 38h1v1h-1zM39 38h1v1h-1zM38 39h1v1h-1zM40 39h1v1h-1zM39 40h1v1h-1zM41 40h1v1h-1zM40 41h1v1h-1zM42 41h1v1h-1zM41 42h1v1h-1zM43 42h1v1h-1zM42 43h1v1h-1zM44 43h1v1h-1zM43 44h1v1h-1zM45 44h1v1h-1zM44 45h1v1h-1zM46 45h1v1h-1zM45 46h1v1h-1zM47 46h1v1h-1zM46 47h1v1h-1zM48 47h1v1h-1zM47 48h1v1h-1zM49 48h1v1h-1zM48 49h1v1h-1zM50 49h1v1h-1zM49 50h1v1h-1zM51 50h1v1h-1zM50 51h1v1h-1zM52 51h1v1h-1zM51 52h1v1h-1zM53 52h1v1h-1zM52 53h1v1h-1zM54 53h1v1h-1zM53 54h1v1h-1zM55 54h1v1h-1zM54 55h1v1h-1zM56 55h1v1h-1zM55 56h1v1h-1zM57 56h1v1h-1zM56 57h1v1h-1zM58 57h1v1h-1zM57 58h1v1h-1zM59 58h1v1h-1zM58 59h1v1h-1zM60 59h1v1h-1zM59 60h1v1h-1zM61 60h1v1h-1zM60 61h1v1h-1zM62 61h1v1h-1zM61 62h1v1h-1zM63 62h1v1h-1zM62 63h1v1h-1zM64 63h1v1h-1zM63 64h1v1h-1zM65 64h1v1h-1zM64 65h1v1h-1zM66 65h1v1h-1zM65 66h1v1h-1zM67 66h1v1h-1zM66 67h1v1h-1z"/><path fill="#fff" d="M0 0h1v1h-1zM1 1h1v1h-1zM2 2h1v1h-1zM3 3h1v1h-1zM4 4h1v1h-1zM5 5h1v1h-1zM6 6h1v1h-1zM7 7h1v1h-1zM8 8h1v1h-1zM9 9h1v1h-1zM10 10h1v1h-1zM11 11h1v1h-1zM12 12h1v1h-1zM13 13h1v1h-1zM14 14h1v1h-1zM15 15h1v1h-1zM16 16h1v1h-1zM17 17h1v1h-1zM18 18h1v1h-1zM19 19h1v1h-1zM20 20h1v1h-1zM21 21h1v1h-1zM22 22h1v1h-1zM23 23h1v1h-1zM24 24h1v1h-1zM25 25h1v1h-1zM26 26h1v1h-1zM27 27h1v1h-1zM28 28h1v1h-1zM29 29h1v1h-1zM30 30h1v1h-1zM31 31h1v1h-1zM32 32h1v1h-1zM33 33h1v1h-1zM34 34h1v1h-1zM35 35h1v1h-1zM36 36h1v1h-1zM37 37h1v1h-1zM38 38h1v1h-1zM39 39h1v1h-1zM40 40h1v1h-1zM41 41h1v1h-1zM42 42h1v1h-1zM43 43h1v1h-1zM44 44h1v1h-1zM45 45h1v1h-1zM46 46h1v1h-1zM47 47h1v1h-1zM48 48h1v1h-1zM49 49h1v1h-1zM50 50h1v1h-1zM51 51h1v1h-1zM52 52h1v1h-1zM53 53h1v1h-1zM54 54h1v1h-1zM55 55h1v1h-1zM56 56h1v1h-1zM57 57h1v1h-1zM58 58h1v1h-1zM59 59h1v1h-1zM60 60h1v1h-1zM61 61h1v1h-1zM62 62h1v1h-1zM63 63h1v1h-1zM64 64h1v1h-1zM65 65h1v1h-1zM66 66h1v1h-1zM67 67h1v1h-1z"/><path d="M0 65h68v0.25H0z" fill="#fff" fill-opacity="0.3"/></g><g transform="translate(109,1008) scale(4)"><path fill="#00008b" d="M70 15h4v4h-4zM70 19h4v4h-4zM70 23h4v4h-4zM70 27h4v4h-4zM70 31h4v4h-4zM70 39h4v4h-4zM6 75h4v4h-4zM6 79h32v4h-32z"/><path fill="url(#p1)" d="M66 15h4v4h-4zM66 19h4v4h-4zM66 23h4v4h-4zM66 27h4v4h-4zM66 31h4v4h-4zM66 35h8v4h-8zM62 39h8v4h-8zM62 43h4v4h-4zM70 43h4v4h-4zM62 47h4v4h-4zM70 47h4v4h-4zM62 51h4v4h-4zM62 55h4v4h-4zM62 59h4v4h-4zM62 67h4v4h-4zM6 71h4v4h-4zM10 75h24v4h-24zM38 79h4v4h-4z"/><path fill="url(#p2)" d="M62 15h4v4h-4zM62 19h4v4h-4zM62 23h4v4h-4zM62 27h4v4h-4zM62 31h4v4h-4zM62 35h4v4h-4zM70 51h4v4h-4zM62 63h4v4h-4zM6 67h4v4h-4zM10 71h24v4h-24zM34 75h8v4h-8zM42 79h12v4h-12zM62 79h4v4h-4z"/><path fill="url(#p3)" d="M46 15h8v4h-8zM54 31h4v4h-4zM58 35h4v4h-4zM54 39h8v4h-8zM66 43h4v4h-4zM66 47h4v4h-4zM70 55h4v4h-4zM6 63h8v4h-8zM10 67h24v4h-24zM42 75h8v4h-8zM54 79h8v4h-8zM66 79h4v4h-4z"/><path fill="url(#p4)" d="M58 15h4v4h-4zM38 23h12v4h-12zM58 27h4v4h-4zM58 31h4v4h-4zM66 51h4v4h-4zM6 55h4v4h-4zM6 59h4v4h-4zM70 59h4v4h-4zM14 63h20v4h-20zM34 67h4v4h-4zM50 75h4v4h-4z"/><path fill="url(#p5)" d="M34 15h12v4h-12zM54 15h4v4h-4zM58 19h4v4h-4zM34 23h4v4h-4zM50 23h12v4h-12zM54 27h4v4h-4zM54 35h4v4h-4zM50 39h4v4h-4zM58 43h4v4h-4zM6 47h4v4h-4zM58 47h4v4h-4zM6 51h4v4h-4zM10 55h4v4h-4zM18 55h4v4h-4zM66 55h4v4h-4zM10 59h8v4h-8zM34 63h4v4h-4zM70 63h4v4h-4zM38 67h8v4h-8zM70 67h4v4h-4zM34 71h8v4h-8zM70 71h4v4h-4zM54 75h8v4h-8z"/><path fill="url(#p6)" d="M50 19h8v4h-8zM6 23h8v4h-8zM22 23h4v4h-4zM30 23h4v4h-4zM50 27h4v4h-4zM42 31h12v4h-12zM38 39h12v4h-12zM6 43h8v4h-8zM18 43h4v4h-4zM54 43h4v4h-4zM10 47h12v4h-12zM54 47h4v4h-4zM10 51h16v4h-16zM54 51h8v4h-8zM14 55h4v4h-4zM22 55h12v4h-12zM58 55h4v4h-4zM18 59h16v4h-16zM66 59h4v4h-4zM38 63h8v4h-8zM46 67h4v4h-4zM66 67h4v4h-4zM42 71h8v4h-8zM62 75h4v4h-4z"/><path fill="url(#p7)" d="M6 15h4v4h-4zM14 15h20v4h-20zM6 19h44v4h-44zM14 23h8v4h-8zM26 23h4v4h-4zM6 27h12v4h-12zM22 27h28v4h-28zM6 31h16v4h-16zM30 31h12v4h-12zM6 35h16v4h-16zM30 35h24v4h-24zM6 39h24v4h-24zM34 39h4v4h-4zM14 43h4v4h-4zM22 43h8v4h-8zM50 43h4v4h-4zM22 47h12v4h-12zM50 47h4v4h-4zM26 51h8v4h-8zM54 55h4v4h-4zM58 59h4v4h-4zM46 63h4v4h-4zM66 63h4v4h-4zM50 67h8v4h-8zM50 71h16v4h-16zM66 75h8v4h-8z"/><path fill="url(#p8)" d="M10 15h4v4h-4zM18 27h4v4h-4zM22 31h8v4h-8zM22 35h8v4h-8zM30 39h4v4h-4zM30 43h20v4h-20zM34 47h16v4h-16zM34 51h20v4h-20zM34 55h20v4h-20zM34 59h24v4h-24zM50 63h12v4h-12zM58 67h4v4h-4zM66 71h4v4h-4zM70 79h4v4h-4z"/></g><g transform="translate(133,1068) scale(4)"><path fill="#00008b" d="M55 0h1V68h-1zM56 0h1V68h-1zM0 55H68v1H0zM0 56H68v1H0zM64 37h1V68h-1zM0 63H68v1H0z"/><path fill="#d40000" d="M1 0h1v1h-1zM0 1h1v1h-1zM2 1h1v1h-1zM1 2h1v1h-1zM3 2h1v1h-1zM2 3h1v1h-1zM4 3h1v1h-1zM3 4h1v1h-1zM5 4h1v1h-1zM4 5h1v1h-1zM6 5h1v1h-1zM5 6h1v1h-1zM7 6h1v1h-1zM6 7h1v1h-1zM8 7h1v1h-1zM7 8h1v1h-1zM9 8h1v1h-1zM8 9h1v1h-1zM10 9h1v1h-1zM9 10h1v1h-1zM11 10h1v1h-1zM10 11h1v1h-1zM12 11h1v1h-1zM11 12h1v1h-1zM13 12h1v1h-1zM12 13h1v1h-1zM14 13h1v1h-1zM13 14h1v1h-1zM15 14h1v1h-1zM14 15h1v1h-1zM16 15h1v1h-1zM15 16h1v1h-1zM17 16h1v1h-1zM16 17h1v1h-1zM18 17h1v1h-1zM17 18h1v1h-1zM19 18h1v1h-1zM18 19h1v1h-1zM20 19h1v1h-1zM19 20h1v1h-1zM21 20h1v1h-1zM20 21h1v1h-1zM22 21h1v1h-1zM21 22h1v1h-1zM23 22h1v1h-1zM22 23h1v1h-1zM24 23h1v1h-1zM23 24h1v1h-1zM25 24h1v1h-1zM24 25h1v1h-1zM26 25h1v1h-1zM25 26h1v1h-1zM27 26h1v1h-1zM26 27h1v1h-1zM28 27h1v1h-1zM27 28h1v1h-1zM29 28h1v1h-1zM28 29h1v1h-1zM30 29h1v1h-1zM29 30h1v1h-1zM31 30h1v1h-1zM30 31h1v1h-1zM32 31h1v1h-1zM31 32h1v1h-1zM33 32h1v1h-1zM32 33h1v1h-1zM34 33h1v1h-1zM33 34h1v1h-1zM35 34h1v1h-1zM34 35h1v1h-1zM36 35h1v1h-1zM35 36h1v1h-1zM37 36h1v1h-1zM36 37h1v1h-1zM38 37h1v1h-1zM37 38h1v1h-1zM39 38h1v1h-1zM38 39h1v1h-1zM40 39h1v1h-1zM39 40h1v1h-1zM41 40h1v1h-1zM40 41h1v1h-1zM42 41h1v1h-1zM41 42h1v1h-1zM43 42h1v1h-1zM42 43h1v1h-1zM44 43h1v1h-1zM43 44h1v1h-1zM45 44h1v1h-1zM44 45h1v1h-1zM46 45h1v1h-1zM45 46h1v1h-1zM47 46h1v1h-1zM46 47h1v1h-1zM48 47h1v1h-1zM47 48h1v1h-1zM49 48h1v1h-1zM48 49h1v1h-1zM50 49h1v1h-1zM49 50h1v1h-1zM51 50h1v1h-1zM50 51h1v1h-1zM52 51h1v1h-1zM51 52h1v1h-1zM53 52h1v1h-1zM52 53h1v1h-1zM54 53h1v1h-1zM53 54h1v1h-1zM55 54h1v1h-1zM54 55h1v1h-1zM56 55h1v1h-1zM55 56h1v1h-1zM57 56h1v1h-1zM56 57h1v1h-1zM58 57h1v1h-1zM57 58h1v1h-1zM59 58h1v1h-1zM58 59h1v1h-1zM60 59h1v1h-1zM59 60h1v1h-1zM61 60h1v1h-1zM60 61h1v1h-1zM62 61h1v1h-1zM61 62h1v1h-1zM63 62h1v1h-1zM62 63h1v1h-1zM64 63h1v1h-1zM63 64h1v1h-1zM65 64h1v1h-1zM64 65h1v1h-1zM66 65h1v1h-1zM65 66h1v1h-1zM67 66h1v1h-1zM66 67h1v1h-1z"/><path fill="#fff" d="M0 0h1v1h-1zM1 1h1v1h-1zM2 2h1v1h-1zM3 3h1v1h-1zM4 4h1v1h-1zM5 5h1v1h-1zM6 6h1v1h-1zM7 7h1v1h-1zM8 8h1v1h-1zM9 9h1v1h-1zM10 10h1v1h-1zM11 11h1v1h-1zM12 12h1v1h-1zM13 13h1v1h-1zM14 14h1v1h-1zM15 15h1v1h-1zM16 16h1v1h-1zM17 17h1v1h-1zM18 18h1v1h-1zM19 19h1v1h-1zM20 20h1v1h-1zM21 21h1v1h-1zM22 22h1v1h-1zM23 23h1v1h-1zM24 24h1v1h-1zM25 25h1v1h-1zM26 26h1v1h-1zM27 27h1v1h-1zM28 28h1v1h-1zM29 29h1v1h-1zM30 30h1v1h-1zM31 31h1v1h-1zM32 32h1v1h-1zM33 33h1v1h-1zM34 34h1v1h-1zM35 35h1v1h-1zM36 36h1v1h-1zM37 37h1v1h-1zM38 38h1v1h-1zM39 39h1v1h-1zM40 40h1v1h-1zM41 41h1v1h-1zM42 42h1v1h-1zM43 43h1v1h-1zM44 44h1v1h-1zM45 45h1v1h-1zM46 46h1v1h-1zM47 47h1v1h-1zM48 48h1v1h-1zM49 49h1v1h-1zM50 50h1v1h-1zM51 51h1v1h-1zM52 52h1v1h-1zM53 53h1v1h-1zM54 54h1v1h-1zM55 55h1v1h-1zM56 56h1v1h-1zM57 57h1v1h-1zM58 58h1v1h-1zM59 59h1v1h-1zM60 60h1v1h-1zM61 61h1v1h-1zM62 62h1v1h-1zM63 63h1v1h-1zM64 64h1v1h-1zM65 65h1v1h-1zM66 66h1v1h-1zM67 67h1v1h-1z"/><path d="M0 65h68v0.25H0z" fill="#fff" fill-opacity="0.3"/></g><g transform="translate(327,964) scale(4)"><path fill="#00008b" d="M84 26h8v4h-8zM84 30h8v4h-8zM88 34h4v4h-4zM24 82h4v4h-4zM24 86h8v4h-8zM24 90h12v4h-12z"/><path fill="url(#q1)" d="M76 26h8v4h-8zM76 30h8v4h-8zM80 34h8v4h-8zM84 38h8v4h-8zM80 42h12v4h-12zM80 46h8v4h-8zM84 50h8v4h-8zM84 54h4v4h-4zM24 74h4v4h-4zM24 78h12v4h-12zM28 82h8v4h-8zM32 86h8v4h-8zM36 90h12v4h-12z"/><path fill="url(#q2)" d="M72 26h4v4h-4zM76 34h4v4h-4zM76 38h8v4h-8zM76 42h4v4h-4zM88 46h4v4h-4zM80 50h4v4h-4zM80 54h4v4h-4zM88 54h4v4h-4zM84 58h4v4h-4zM28 74h8v4h-8zM36 78h8v4h-8zM36 82h16v4h-16zM40 86h16v4h-16zM48 90h4v4h-4z"/><path fill="url(#q3)" d="M72 30h4v4h-4zM72 34h4v4h-4zM76 46h4v4h-4zM76 50h4v4h-4zM80 58h4v4h-4zM88 58h4v4h-4zM36 74h8v4h-8zM44 78h8v4h-8zM52 82h4v4h-4zM52 90h4v4h-4z"/><path fill="url(#q4)" d="M68 26h4v4h-4zM72 38h4v4h-4zM72 42h4v4h-4zM72 46h4v4h-4zM76 54h4v4h-4zM24 58h4v4h-4zM24 62h4v4h-4zM80 62h12v4h-12zM24 66h8v4h-8zM24 70h12v4h-12zM44 74h4v4h-4zM52 78h4v4h-4zM56 82h4v4h-4zM56 86h4v4h-4zM56 90h4v4h-4z"/><path fill="url(#q5)" d="M24 26h4v4h-4zM24 30h4v4h-4zM64 30h8v4h-8zM24 34h4v4h-4zM64 34h8v4h-8zM24 38h4v4h-4zM68 38h4v4h-4zM24 42h4v4h-4zM68 42h4v4h-4zM24 46h4v4h-4zM68 46h4v4h-4zM24 50h4v4h-4zM72 50h4v4h-4zM24 54h4v4h-4zM72 54h4v4h-4zM28 58h4v4h-4zM76 58h4v4h-4zM28 62h8v4h-8zM32 66h8v4h-8zM36 70h12v4h-12zM48 74h8v4h-8zM56 78h4v4h-4zM60 82h4v4h-4zM60 86h4v4h-4zM60 90h4v4h-4z"/><path fill="url(#q6)" d="M36 26h32v4h-32zM44 30h20v4h-20zM48 34h16v4h-16zM48 38h20v4h-20zM28 42h4v4h-4zM52 42h16v4h-16zM28 46h8v4h-8zM56 46h12v4h-12zM28 50h12v4h-12zM60 50h12v4h-12zM28 54h16v4h-16zM64 54h8v4h-8zM32 58h16v4h-16zM68 58h8v4h-8zM36 62h16v4h-16zM72 62h8v4h-8zM40 66h16v4h-16zM76 66h16v4h-16zM48 70h12v4h-12zM80 70h12v4h-12zM56 74h4v4h-4zM84 74h8v4h-8zM60 78h4v4h-4zM88 78h4v4h-4zM64 82h4v4h-4zM64 86h4v4h-4zM64 90h12v4h-12z"/><path fill="url(#q7)" d="M28 26h8v4h-8zM32 30h12v4h-12zM28 34h4v4h-4zM36 34h12v4h-12zM28 38h8v4h-8zM40 38h8v4h-8zM32 42h8v4h-8zM44 42h8v4h-8zM36 46h8v4h-8zM52 46h4v4h-4zM40 50h4v4h-4zM56 50h4v4h-4zM44 54h4v4h-4zM60 54h4v4h-4zM48 58h4v4h-4zM64 58h4v4h-4zM52 62h4v4h-4zM68 62h4v4h-4zM56 66h4v4h-4zM72 66h4v4h-4zM60 70h4v4h-4zM76 70h4v4h-4zM60 74h8v4h-8zM80 74h4v4h-4zM64 78h8v4h-8zM84 78h4v4h-4zM68 82h8v4h-8zM84 82h8v4h-8zM68 86h12v4h-12zM88 86h4v4h-4zM76 90h8v4h-8z"/><path fill="url(#q8)" d="M28 30h4v4h-4zM32 34h4v4h-4zM36 38h4v4h-4zM40 42h4v4h-4zM44 46h8v4h-8zM44 50h12v4h-12zM48 54h12v4h-12zM52 58h12v4h-12zM56 62h12v4h-12zM60 66h12v4h-12zM64 70h12v4h-12zM68 74h12v4h-12zM72 78h12v4h-12zM76 82h8v4h-8zM80 86h8v4h-8zM84 90h8v4h-8z"/></g><g transform="translate(423,1068) scale(4)"><path fill="#d40000" d="M1 0h1v1h-1zM0 1h1v1h-1zM2 1h1v1h-1zM1 2h1v1h-1zM3 2h1v1h-1zM2 3h1v1h-1zM4 3h1v1h-1zM3 4h1v1h-1zM5 4h1v1h-1zM4 5h1v1h-1zM6 5h1v1h-1zM5 6h1v1h-1zM7 6h1v1h-1zM6 7h1v1h-1zM8 7h1v1h-1zM7 8h1v1h-1zM9 8h1v1h-1zM8 9h1v1h-1zM10 9h1v1h-1zM9 10h1v1h-1zM11 10h1v1h-1zM10 11h1v1h-1zM12 11h1v1h-1zM11 12h1v1h-1zM13 12h1v1h-1zM12 13h1v1h-1zM14 13h1v1h-1zM13 14h1v1h-1zM15 14h1v1h-1zM14 15h1v1h-1zM16 15h1v1h-1zM15 16h1v1h-1zM17 16h1v1h-1zM16 17h1v1h-1zM18 17h1v1h-1zM17 18h1v1h-1zM19 18h1v1h-1zM18 19h1v1h-1zM20 19h1v1h-1zM19 20h1v1h-1zM21 20h1v1h-1zM20 21h1v1h-1zM22 21h1v1h-1zM21 22h1v1h-1zM23 22h1v1h-1zM22 23h1v1h-1zM24 23h1v1h-1zM23 24h1v1h-1zM25 24h1v1h-1zM24 25h1v1h-1zM26 25h1v1h-1zM25 26h1v1h-1zM27 26h1v1h-1zM26 27h1v1h-1zM28 27h1v1h-1zM27 28h1v1h-1zM29 28h1v1h-1zM28 29h1v1h-1zM30 29h1v1h-1zM29 30h1v1h-1zM31 30h1v1h-1zM30 31h1v1h-1zM32 31h1v1h-1zM31 32h1v1h-1zM33 32h1v1h-1zM32 33h1v1h-1zM34 33h1v1h-1zM33 34h1v1h-1zM35 34h1v1h-1zM34 35h1v1h-1zM36 35h1v1h-1zM35 36h1v1h-1zM37 36h1v1h-1zM36 37h1v1h-1zM38 37h1v1h-1zM37 38h1v1h-1zM39 38h1v1h-1zM38 39h1v1h-1zM40 39h1v1h-1zM39 40h1v1h-1zM41 40h1v1h-1zM40 41h1v1h-1zM42 41h1v1h-1zM41 42h1v1h-1zM43 42h1v1h-1zM42 43h1v1h-1zM44 43h1v1h-1zM43 44h1v1h-1zM45 44h1v1h-1zM44 45h1v1h-1zM46 45h1v1h-1zM45 46h1v1h-1zM47 46h1v1h-1zM46 47h1v1h-1zM48 47h1v1h-1zM47 48h1v1h-1zM49 48h1v1h-1zM48 49h1v1h-1zM50 49h1v1h-1zM49 50h1v1h-1zM51 50h1v1h-1zM50 51h1v1h-1zM52 51h1v1h-1zM51 52h1v1h-1zM53 52h1v1h-1zM52 53h1v1h-1zM54 53h1v1h-1zM53 54h1v1h-1zM55 54h1v1h-1zM54 55h1v1h-1zM56 55h1v1h-1zM55 56h1v1h-1zM57 56h1v1h-1zM56 57h1v1h-1zM58 57h1v1h-1zM57 58h1v1h-1zM59 58h1v1h-1zM58 59h1v1h-1zM60 59h1v1h-1zM59 60h1v1h-1zM61 60h1v1h-1zM60 61h1v1h-1zM62 61h1v1h-1zM61 62h1v1h-1zM63 62h1v1h-1zM62 63h1v1h-1zM64 63h1v1h-1zM63 64h1v1h-1zM65 64h1v1h-1zM64 65h1v1h-1zM66 65h1v1h-1zM65 66h1v1h-1zM67 66h1v1h-1zM66 67h1v1h-1z"/><path fill="#fff" d="M0 0h1v1h-1zM1 1h1v1h-1zM2 2h1v1h-1zM3 3h1v1h-1zM4 4h1v1h-1zM5 5h1v1h-1zM6 6h1v1h-1zM7 7h1v1h-1zM8 8h1v1h-1zM9 9h1v1h-1zM10 10h1v1h-1zM11 11h1v1h-1zM12 12h1v1h-1zM13 13h1v1h-1zM14 14h1v1h-1zM15 15h1v1h-1zM16 16h1v1h-1zM17 17h1v1h-1zM18 18h1v1h-1zM19 19h1v1h-1zM20 20h1v1h-1zM21 21h1v1h-1zM22 22h1v1h-1zM23 23h1v1h-1zM24 24h1v1h-1zM25 25h1v1h-1zM26 26h1v1h-1zM27 27h1v1h-1zM28 28h1v1h-1zM29 29h1v1h-1zM30 30h1v1h-1zM31 31h1v1h-1zM32 32h1v1h-1zM33 33h1v1h-1zM34 34h1v1h-1zM35 35h1v1h-1zM36 36h1v1h-1zM37 37h1v1h-1zM38 38h1v1h-1zM39 39h1v1h-1zM40 40h1v1h-1zM41 41h1v1h-1zM42 42h1v1h-1zM43 43h1v1h-1zM44 44h1v1h-1zM45 45h1v1h-1zM46 46h1v1h-1zM47 47h1v1h-1zM48 48h1v1h-1zM49 49h1v1h-1zM50 50h1v1h-1zM51 51h1v1h-1zM52 52h1v1h-1zM53 53h1v1h-1zM54 54h1v1h-1zM55 55h1v1h-1zM56 56h1v1h-1zM57 57h1v1h-1zM58 58h1v1h-1zM59 59h1v1h-1zM60 60h1v1h-1zM61 61h1v1h-1zM62 62h1v1h-1zM63 63h1v1h-1zM64 64h1v1h-1zM65 65h1v1h-1zM66 66h1v1h-1zM67 67h1v1h-1z"/><path d="M0 65h68v0.25H0z" fill="#fff" fill-opacity="0.3"/></g><g transform="translate(699,964) scale(4)"><path fill="url(#p1)" d="M82 42h12v4h-12zM82 46h12v4h-12zM26 82h4v4h-4zM42 82h8v4h-8zM26 86h4v4h-4zM42 86h8v4h-8zM26 90h4v4h-4zM42 90h8v4h-8z"/><path fill="url(#p2)" d="M86 30h8v4h-8zM82 38h12v4h-12zM82 50h4v4h-4zM90 50h4v4h-4zM26 78h8v4h-8zM42 78h8v4h-8zM30 82h12v4h-12zM30 86h12v4h-12zM30 90h12v4h-12zM50 90h4v4h-4z"/><path fill="url(#p3)" d="M82 26h12v4h-12zM82 30h4v4h-4zM82 34h12v4h-12zM86 50h4v4h-4zM82 54h12v4h-12zM82 58h4v4h-4zM90 58h4v4h-4zM82 62h4v4h-4zM90 62h4v4h-4zM34 78h8v4h-8zM50 78h4v4h-4zM50 82h16v4h-16zM50 86h16v4h-16zM54 90h12v4h-12z"/><path fill="url(#p4)" d="M74 42h8v4h-8zM74 46h8v4h-8zM86 58h4v4h-4zM86 62h4v4h-4zM26 74h8v4h-8zM42 74h8v4h-8zM54 78h4v4h-4zM66 82h4v4h-4zM66 86h4v4h-4zM66 90h4v4h-4z"/><path fill="url(#p5)" d="M70 26h4v4h-4zM70 30h12v4h-12zM70 34h4v4h-4zM70 38h12v4h-12zM70 42h4v4h-4zM70 46h4v4h-4zM70 50h12v4h-12zM70 54h4v4h-4zM26 66h4v4h-4zM34 66h4v4h-4zM46 66h4v4h-4zM82 66h4v4h-4zM90 66h4v4h-4zM26 70h4v4h-4zM34 70h4v4h-4zM42 70h8v4h-8zM90 70h4v4h-4zM34 74h8v4h-8zM50 74h8v4h-8zM58 78h12v4h-12zM70 90h4v4h-4z"/><path fill="url(#p6)" d="M26 26h4v4h-4zM74 26h8v4h-8zM74 34h8v4h-8zM74 54h8v4h-8zM70 58h4v4h-4zM26 62h4v4h-4zM70 62h4v4h-4zM30 66h4v4h-4zM38 66h8v4h-8zM50 66h8v4h-8zM62 66h12v4h-12zM86 66h4v4h-4zM30 70h4v4h-4zM38 70h4v4h-4zM50 70h8v4h-8zM62 70h4v4h-4zM82 70h8v4h-8zM58 74h12v4h-12zM82 74h12v4h-12zM70 82h12v4h-12zM70 86h12v4h-12zM74 90h8v4h-8z"/><path fill="url(#p7)" d="M30 26h40v4h-40zM26 30h4v4h-4zM34 30h36v4h-36zM26 34h8v4h-8zM38 34h24v4h-24zM26 38h12v4h-12zM42 38h28v4h-28zM26 42h16v4h-16zM50 42h20v4h-20zM26 46h16v4h-16zM54 46h16v4h-16zM26 50h20v4h-20zM58 50h12v4h-12zM26 54h24v4h-24zM26 58h28v4h-28zM74 58h8v4h-8zM30 62h24v4h-24zM74 62h8v4h-8zM58 66h4v4h-4zM58 70h4v4h-4zM66 70h8v4h-8zM78 74h4v4h-4zM70 78h8v4h-8zM82 78h12v4h-12zM86 82h8v4h-8zM82 86h4v4h-4zM82 90h4v4h-4z"/><path fill="url(#p8)" d="M30 30h4v4h-4zM34 34h4v4h-4zM62 34h8v4h-8zM38 38h4v4h-4zM42 42h8v4h-8zM42 46h12v4h-12zM46 50h12v4h-12zM50 54h20v4h-20zM54 58h16v4h-16zM54 62h16v4h-16zM74 66h8v4h-8zM74 70h8v4h-8zM70 74h8v4h-8zM78 78h4v4h-4zM82 82h4v4h-4zM86 86h8v4h-8zM86 90h8v4h-8z"/></g><g transform="translate(803,1068) scale(4)"><path fill="#00008b" d="M1 0h1V68h-1zM0 1H68v1H0zM4 0h1V68h-1zM0 4H68v1H0zM8 0h1V68h-1zM0 8H68v1H0zM39 0h1V68h-1zM0 39H68v1H0zM40 0h1V68h-1zM0 40H68v1H0zM51 0h1V68h-1zM0 50H68v1H0zM55 0h1V68h-1zM0 55H68v1H0z"/><path fill="#d40000" d="M1 0h1v1h-1zM0 1h1v1h-1zM2 1h1v1h-1zM1 2h1v1h-1zM3 2h1v1h-1zM2 3h1v1h-1zM4 3h1v1h-1zM3 4h1v1h-1zM5 4h1v1h-1zM4 5h1v1h-1zM6 5h1v1h-1zM5 6h1v1h-1zM7 6h1v1h-1zM6 7h1v1h-1zM8 7h1v1h-1zM7 8h1v1h-1zM9 8h1v1h-1zM8 9h1v1h-1zM10 9h1v1h-1zM9 10h1v1h-1zM11 10h1v1h-1zM10 11h1v1h-1zM12 11h1v1h-1zM11 12h1v1h-1zM13 12h1v1h-1zM12 13h1v1h-1zM14 13h1v1h-1zM13 14h1v1h-1zM15 14h1v1h-1zM14 15h1v1h-1zM16 15h1v1h-1zM15 16h1v1h-1zM17 16h1v1h-1zM16 17h1v1h-1zM18 17h1v1h-1zM17 18h1v1h-1zM19 18h1v1h-1zM18 19h1v1h-1zM20 19h1v1h-1zM19 20h1v1h-1zM21 20h1v1h-1zM20 21h1v1h-1zM22 21h1v1h-1zM21 22h1v1h-1zM23 22h1v1h-1zM22 23h1v1h-1zM24 23h1v1h-1zM23 24h1v1h-1zM25 24h1v1h-1zM24 25h1v1h-1zM26 25h1v1h-1zM25 26h1v1h-1zM27 26h1v1h-1zM26 27h1v1h-1zM28 27h1v1h-1zM27 28h1v1h-1zM29 28h1v1h-1zM28 29h1v1h-1zM30 29h1v1h-1zM29 30h1v1h-1zM31 30h1v1h-1zM30 31h1v1h-1zM32 31h1v1h-1zM31 32h1v1h-1zM33 32h1v1h-1zM32 33h1v1h-1zM34 33h1v1h-1zM33 34h1v1h-1zM35 34h1v1h-1zM34 35h1v1h-1zM36 35h1v1h-1zM35 36h1v1h-1zM37 36h1v1h-1zM36 37h1v1h-1zM38 37h1v1h-1zM37 38h1v1h-1zM39 38h1v1h-1zM38 39h1v1h-1zM40 39h1v1h-1zM39 40h1v1h-1zM41 40h1v1h-1zM40 41h1v1h-1zM42 41h1v1h-1zM41 42h1v1h-1zM43 42h1v1h-1zM42 43h1v1h-1zM44 43h1v1h-1zM43 44h1v1h-1zM45 44h1v1h-1zM44 45h1v1h-1zM46 45h1v1h-1zM45 46h1v1h-1zM47 46h1v1h-1zM46 47h1v1h-1zM48 47h1v1h-1zM47 48h1v1h-1zM49 48h1v1h-1zM48 49h1v1h-1zM50 49h1v1h-1zM49 50h1v1h-1zM51 50h1v1h-1zM50 51h1v1h-1zM52 51h1v1h-1zM51 52h1v1h-1zM53 52h1v1h-1zM52 53h1v1h-1zM54 53h1v1h-1zM53 54h1v1h-1zM55 54h1v1h-1zM54 55h1v1h-1zM56 55h1v1h-1zM55 56h1v1h-1zM57 56h1v1h-1zM56 57h1v1h-1zM58 57h1v1h-1zM57 58h1v1h-1zM59 58h1v1h-1zM58 59h1v1h-1zM60 59h1v1h-1zM59 60h1v1h-1zM61 60h1v1h-1zM60 61h1v1h-1zM62 61h1v1h-1zM61 62h1v1h-1zM63 62h1v1h-1zM62 63h1v1h-1zM64 63h1v1h-1zM63 64h1v1h-1zM65 64h1v1h-1zM64 65h1v1h-1zM66 65h1v1h-1zM65 66h1v1h-1zM67 66h1v1h-1zM66 67h1v1h-1z"/><path fill="#fff" d="M0 0h1v1h-1zM1 1h1v1h-1zM2 2h1v1h-1zM3 3h1v1h-1zM4 4h1v1h-1zM5 5h1v1h-1zM6 6h1v1h-1zM7 7h1v1h-1zM8 8h1v1h-1zM9 9h1v1h-1zM10 10h1v1h-1zM11 11h1v1h-1zM12 12h1v1h-1zM13 13h1v1h-1zM14 14h1v1h-1zM15 15h1v1h-1zM16 16h1v1h-1zM17 17h1v1h-1zM18 18h1v1h-1zM19 19h1v1h-1zM20 20h1v1h-1zM21 21h1v1h-1zM22 22h1v1h-1zM23 23h1v1h-1zM24 24h1v1h-1zM25 25h1v1h-1zM26 26h1v1h-1zM27 27h1v1h-1zM28 28h1v1h-1zM29 29h1v1h-1zM30 30h1v1h-1zM31 31h1v1h-1zM32 32h1v1h-1zM33 33h1v1h-1zM34 34h1v1h-1zM35 35h1v1h-1zM36 36h1v1h-1zM37 37h1v1h-1zM38 38h1v1h-1zM39 39h1v1h-1zM40 40h1v1h-1zM41 41h1v1h-1zM42 42h1v1h-1zM43 43h1v1h-1zM44 44h1v1h-1zM45 45h1v1h-1zM46 46h1v1h-1zM47 47h1v1h-1zM48 48h1v1h-1zM49 49h1v1h-1zM50 50h1v1h-1zM51 51h1v1h-1zM52 52h1v1h-1zM53 53h1v1h-1zM54 54h1v1h-1zM55 55h1v1h-1zM56 56h1v1h-1zM57 57h1v1h-1zM58 58h1v1h-1zM59 59h1v1h-1zM60 60h1v1h-1zM61 61h1v1h-1zM62 62h1v1h-1zM63 63h1v1h-1zM64 64h1v1h-1zM65 65h1v1h-1zM66 66h1v1h-1zM67 67h1v1h-1z"/><path d="M0 65h68v0.25H0z" fill="#fff" fill-opacity="0.3"/></g><g transform="translate(1046,1040) scale(4)"><path fill="#00008b" d="M12 67h4v4h-4zM12 71h8v4h-8z"/><path fill="url(#q1)" d="M68 7h12v4h-12zM72 11h8v4h-8zM72 15h8v4h-8zM68 19h12v4h-12zM68 23h12v4h-12zM76 27h4v4h-4zM72 31h8v4h-8zM12 59h4v4h-4zM12 63h12v4h-12zM16 67h16v4h-16zM20 71h12v4h-12z"/><path fill="url(#q2)" d="M68 11h4v4h-4zM68 15h4v4h-4zM68 27h8v4h-8zM76 35h4v4h-4zM12 55h8v4h-8zM16 59h12v4h-12zM24 63h8v4h-8zM32 67h4v4h-4zM32 71h8v4h-8z"/><path fill="url(#q3)" d="M64 7h4v4h-4zM64 11h4v4h-4zM64 15h4v4h-4zM64 19h4v4h-4zM64 23h4v4h-4zM68 31h4v4h-4zM72 35h4v4h-4zM76 39h4v4h-4zM20 55h8v4h-8zM28 59h12v4h-12zM32 63h8v4h-8zM36 67h8v4h-8zM40 71h4v4h-4z"/><path fill="url(#q4)" d="M60 7h4v4h-4zM64 27h4v4h-4zM64 31h4v4h-4zM68 35h4v4h-4zM72 39h4v4h-4zM12 43h4v4h-4zM12 47h4v4h-4zM12 51h8v4h-8zM28 55h12v4h-12zM40 59h8v4h-8zM40 63h4v4h-4zM44 67h4v4h-4zM44 71h4v4h-4z"/><path fill="url(#q5)" d="M12 7h4v4h-4zM52 7h8v4h-8zM12 11h4v4h-4zM56 11h8v4h-8zM12 15h4v4h-4zM56 15h8v4h-8zM12 19h4v4h-4zM56 19h8v4h-8zM12 23h4v4h-4zM56 23h8v4h-8zM12 27h4v4h-4zM56 27h8v4h-8zM12 31h4v4h-4zM56 31h8v4h-8zM12 35h4v4h-4zM64 35h4v4h-4zM12 39h4v4h-4zM68 39h4v4h-4zM16 43h8v4h-8zM68 43h12v4h-12zM16 47h16v4h-16zM20 51h20v4h-20zM40 55h4v4h-4zM48 59h8v4h-8zM44 63h8v4h-8zM48 67h8v4h-8zM48 71h8v4h-8z"/><path fill="url(#q6)" d="M24 7h28v4h-28zM32 11h24v4h-24zM36 15h20v4h-20zM36 19h20v4h-20zM16 23h4v4h-4zM40 23h16v4h-16zM16 27h12v4h-12zM44 27h12v4h-12zM16 31h12v4h-12zM48 31h8v4h-8zM16 35h20v4h-20zM52 35h12v4h-12zM16 39h24v4h-24zM56 39h12v4h-12zM24 43h20v4h-20zM64 43h4v4h-4zM32 47h16v4h-16zM68 47h12v4h-12zM40 51h12v4h-12zM72 51h8v4h-8zM44 55h12v4h-12zM76 55h4v4h-4zM56 59h8v4h-8zM52 63h8v4h-8zM56 67h8v4h-8zM56 71h8v4h-8z"/><path fill="url(#q7)" d="M16 7h8v4h-8zM20 11h12v4h-12zM16 15h4v4h-4zM24 15h12v4h-12zM16 19h8v4h-8zM32 19h4v4h-4zM20 23h8v4h-8zM36 23h4v4h-4zM28 27h4v4h-4zM40 27h4v4h-4zM28 31h8v4h-8zM44 31h4v4h-4zM36 35h4v4h-4zM48 35h4v4h-4zM40 39h4v4h-4zM52 39h4v4h-4zM44 43h4v4h-4zM56 43h8v4h-8zM48 47h4v4h-4zM60 47h8v4h-8zM52 51h4v4h-4zM64 51h8v4h-8zM56 55h4v4h-4zM68 55h8v4h-8zM64 59h4v4h-4zM76 59h4v4h-4zM60 63h8v4h-8zM76 63h4v4h-4zM64 67h8v4h-8zM64 71h8v4h-8z"/><path fill="url(#q8)" d="M16 11h4v4h-4zM20 15h4v4h-4zM24 19h8v4h-8zM28 23h8v4h-8zM32 27h8v4h-8zM36 31h8v4h-8zM40 35h8v4h-8zM44 39h8v4h-8zM48 43h8v4h-8zM52 47h8v4h-8zM56 51h8v4h-8zM60 55h8v4h-8zM68 59h8v4h-8zM68 63h8v4h-8zM72 67h8v4h-8zM72 71h8v4h-8z"/></g><g transform="translate(1094,1068) scale(4)"><path fill="#d40000" d="M1 0h1v1h-1zM0 1h1v1h-1zM2 1h1v1h-1zM1 2h1v1h-1zM3 2h1v1h-1zM2 3h1v1h-1zM4 3h1v1h-1zM3 4h1v1h-1zM5 4h1v1h-1zM4 5h1v1h-1zM6 5h1v1h-1zM5 6h1v1h-1zM7 6h1v1h-1zM6 7h1v1h-1zM8 7h1v1h-1zM7 8h1v1h-1zM9 8h1v1h-1zM8 9h1v1h-1zM10 9h1v1h-1zM9 10h1v1h-1zM11 10h1v1h-1zM10 11h1v1h-1zM12 11h1v1h-1zM11 12h1v1h-1zM13 12h1v1h-1zM12 13h1v1h-1zM14 13h1v1h-1zM13 14h1v1h-1zM15 14h1v1h-1zM14 15h1v1h-1zM16 15h1v1h-1zM15 16h1v1h-1zM17 16h1v1h-1zM16 17h1v1h-1zM18 17h1v1h-1zM17 18h1v1h-1zM19 18h1v1h-1zM18 19h1v1h-1zM20 19h1v1h-1zM19 20h1v1h-1zM21 20h1v1h-1zM20 21h1v1h-1zM22 21h1v1h-1zM21 22h1v1h-1zM23 22h1v1h-1zM22 23h1v1h-1zM24 23h1v1h-1zM23 24h1v1h-1zM25 24h1v1h-1zM24 25h1v1h-1zM26 25h1v1h-1zM25 26h1v1h-1zM27 26h1v1h-1zM26 27h1v1h-1zM28 27h1v1h-1zM27 28h1v1h-1zM29 28h1v1h-1zM28 29h1v1h-1zM30 29h1v1h-1zM29 30h1v1h-1zM31 30h1v1h-1zM30 31h1v1h-1zM32 31h1v1h-1zM31 32h1v1h-1zM33 32h1v1h-1zM32 33h1v1h-1zM34 33h1v1h-1zM33 34h1v1h-1zM35 34h1v1h-1zM34 35h1v1h-1zM36 35h1v1h-1zM35 36h1v1h-1zM37 36h1v1h-1zM36 37h1v1h-1zM38 37h1v1h-1zM37 38h1v1h-1zM39 38h1v1h-1zM38 39h1v1h-1zM40 39h1v1h-1zM39 40h1v1h-1zM41 40h1v1h-1zM40 41h1v1h-1zM42 41h1v1h-1zM41 42h1v1h-1zM43 42h1v1h-1zM42 43h1v1h-1zM44 43h1v1h-1zM43 44h1v1h-1zM45 44h1v1h-1zM44 45h1v1h-1zM46 45h1v1h-1zM45 46h1v1h-1zM47 46h1v1h-1zM46 47h1v1h-1zM48 47h1v1h-1zM47 48h1v1h-1zM49 48h1v1h-1zM48 49h1v1h-1zM50 49h1v1h-1zM49 50h1v1h-1zM51 50h1v1h-1zM50 51h1v1h-1zM52 51h1v1h-1zM51 52h1v1h-1zM53 52h1v1h-1zM52 53h1v1h-1zM54 53h1v1h-1zM53 54h1v1h-1zM55 54h1v1h-1zM54 55h1v1h-1zM56 55h1v1h-1zM55 56h1v1h-1zM57 56h1v1h-1zM56 57h1v1h-1zM58 57h1v1h-1zM57 58h1v1h-1zM59 58h1v1h-1zM58 59h1v1h-1zM60 59h1v1h-1zM59 60h1v1h-1zM61 60h1v1h-1zM60 61h1v1h-1zM62 61h1v1h-1zM61 62h1v1h-1zM63 62h1v1h-1zM62 63h1v1h-1zM64 63h1v1h-1zM63 64h1v1h-1zM65 64h1v1h-1zM64 65h1v1h-1zM66 65h1v1h-1zM65 66h1v1h-1zM67 66h1v1h-1zM66 67h1v1h-1z"/><path fill="#fff" d="M0 0h1v1h-1zM1 1h1v1h-1zM2 2h1v1h-1zM3 3h1v1h-1zM4 4h1v1h-1zM5 5h1v1h-1zM6 6h1v1h-1zM7 7h1v1h-1zM8 8h1v1h-1zM9 9h1v1h-1zM10 10h1v1h-1zM11 11h1v1h-1zM12 12h1v1h-1zM13 13h1v1h-1zM14 14h1v1h-1zM15 15h1v1h-1zM16 16h1v1h-1zM17 17h1v1h-1zM18 18h1v1h-1zM19 19h1v1h-1zM20 20h1v1h-1zM21 21h1v1h-1zM22 22h1v1h-1zM23 23h1v1h-1zM24 24h1v1h-1zM25 25h1v1h-1zM26 26h1v1h-1zM27 27h1v1h-1zM28 28h1v1h-1zM29 29h1v1h-1zM30 30h1v1h-1zM31 31h1v1h-1zM32 32h1v1h-1zM33 33h1v1h-1zM34 34h1v1h-1zM35 35h1v1h-1zM36 36h1v1h-1zM37 37h1v1h-1zM38 38h1v1h-1zM39 39h1v1h-1zM40 40h1v1h-1zM41 41h1v1h-1zM42 42h1v1h-1zM43 43h1v1h-1zM44 44h1v1h-1zM45 45h1v1h-1zM46 46h1v1h-1zM47 47h1v1h-1zM48 48h1v1h-1zM49 49h1v1h-1zM50 50h1v1h-1zM51 51h1v1h-1zM52 52h1v1h-1zM53 53h1v1h-1zM54 54h1v1h-1zM55 55h1v1h-1zM56 56h1v1h-1zM57 57h1v1h-1zM58 58h1v1h-1zM59 59h1v1h-1zM60 60h1v1h-1zM61 61h1v1h-1zM62 62h1v1h-1zM63 63h1v1h-1zM64 64h1v1h-1zM65 65h1v1h-1zM66 66h1v1h-1zM67 67h1v1h-1z"/><path d="M0 65h68v0.25H0z" fill="#fff" fill-opacity="0.3"/></g><g transform="translate(1361,1004) scale(4)"><path fill="url(#p3)" d="M68 16h4v4h-4zM88 16h4v4h-4zM68 20h4v4h-4zM88 24h4v4h-4zM28 52h4v4h-4zM88 68h4v4h-4z"/><path fill="url(#p4)" d="M80 16h8v4h-8zM92 16h4v4h-4zM80 20h16v4h-16zM68 24h4v4h-4zM80 24h8v4h-8zM92 24h4v4h-4zM80 28h8v4h-8zM92 28h4v4h-4zM80 32h8v4h-8zM92 32h4v4h-4zM80 36h16v4h-16zM80 40h16v4h-16zM80 44h16v4h-16zM80 48h16v4h-16zM32 52h8v4h-8zM80 52h8v4h-8zM80 56h8v4h-8zM80 60h8v4h-8zM84 64h4v4h-4zM28 68h16v4h-16zM28 72h12v4h-12zM56 72h4v4h-4zM28 76h12v4h-12zM56 76h8v4h-8zM28 80h12v4h-12zM56 80h8v4h-8z"/><path fill="url(#p5)" d="M72 16h4v4h-4zM72 20h4v4h-4zM72 24h4v4h-4zM28 28h12v4h-12zM88 28h4v4h-4zM88 32h4v4h-4zM88 52h8v4h-8zM28 56h12v4h-12zM88 56h8v4h-8zM28 60h12v4h-12zM88 60h8v4h-8zM80 64h4v4h-4zM88 64h8v4h-8zM44 68h28v4h-28zM76 68h4v4h-4zM40 72h16v4h-16zM60 72h12v4h-12zM40 76h16v4h-16zM64 76h8v4h-8zM40 80h16v4h-16zM64 80h12v4h-12zM84 80h8v4h-8z"/><path fill="url(#p6)" d="M48 16h4v4h-4zM76 16h4v4h-4zM64 20h4v4h-4zM76 20h4v4h-4zM40 24h4v4h-4zM64 24h4v4h-4zM76 24h4v4h-4zM68 32h8v4h-8zM68 36h8v4h-8zM68 40h8v4h-8zM68 44h8v4h-8zM40 52h8v4h-8zM40 56h4v4h-4zM40 60h4v4h-4zM28 64h16v4h-16zM72 68h4v4h-4zM80 68h4v4h-4zM92 68h4v4h-4zM72 72h12v4h-12zM92 72h4v4h-4zM72 76h12v4h-12zM92 76h4v4h-4zM76 80h8v4h-8z"/><path fill="url(#p7)" d="M32 16h16v4h-16zM52 16h16v4h-16zM28 20h4v4h-4zM36 20h28v4h-28zM28 24h8v4h-8zM44 24h20v4h-20zM44 28h36v4h-36zM28 32h16v4h-16zM64 32h4v4h-4zM76 32h4v4h-4zM28 36h16v4h-16zM64 36h4v4h-4zM76 36h4v4h-4zM28 40h24v4h-24zM64 40h4v4h-4zM76 40h4v4h-4zM28 44h28v4h-28zM64 44h4v4h-4zM76 44h4v4h-4zM28 48h20v4h-20zM68 48h12v4h-12zM48 52h16v4h-16zM76 52h4v4h-4zM44 56h24v4h-24zM76 56h4v4h-4zM44 60h24v4h-24zM76 60h4v4h-4zM44 64h32v4h-32zM84 68h4v4h-4zM84 72h4v4h-4zM84 76h4v4h-4zM92 80h4v4h-4z"/><path fill="url(#p8)" d="M28 16h4v4h-4zM32 20h4v4h-4zM36 24h4v4h-4zM40 28h4v4h-4zM44 32h20v4h-20zM44 36h20v4h-20zM52 40h12v4h-12zM56 44h8v4h-8zM48 48h20v4h-20zM64 52h12v4h-12zM68 56h8v4h-8zM68 60h8v4h-8zM76 64h4v4h-4zM88 72h4v4h-4zM88 76h4v4h-4z"/></g><g transform="translate(1473,1068) scale(4)"><path fill="#00008b" d="M25 0h1V68h-1zM33 0h1V68h-1zM45 0h1V68h-1zM50 0h1V68h-1zM54 0h1V68h-1zM55 0h1V68h-1zM64 0h1V68h-1zM67 0h1V68h-1zM0 25H68v1H0zM0 32H68v1H0zM0 45H68v1H0zM0 50H68v1H0zM0 52H68v1H0zM0 54H68v1H0zM0 55H68v1H0zM0 61H50v1H0zM0 64H50v1H0zM0 67H68v1H0z"/><path fill="#d40000" d="M1 0h1v1h-1zM0 1h1v1h-1zM2 1h1v1h-1zM1 2h1v1h-1zM3 2h1v1h-1zM2 3h1v1h-1zM4 3h1v1h-1zM3 4h1v1h-1zM5 4h1v1h-1zM4 5h1v1h-1zM6 5h1v1h-1zM5 6h1v1h-1zM7 6h1v1h-1zM6 7h1v1h-1zM8 7h1v1h-1zM7 8h1v1h-1zM9 8h1v1h-1zM8 9h1v1h-1zM10 9h1v1h-1zM9 10h1v1h-1zM11 10h1v1h-1zM10 11h1v1h-1zM12 11h1v1h-1zM11 12h1v1h-1zM13 12h1v1h-1zM12 13h1v1h-1zM14 13h1v1h-1zM13 14h1v1h-1zM15 14h1v1h-1zM14 15h1v1h-1zM16 15h1v1h-1zM15 16h1v1h-1zM17 16h1v1h-1zM16 17h1v1h-1zM18 17h1v1h-1zM17 18h1v1h-1zM19 18h1v1h-1zM18 19h1v1h-1zM20 19h1v1h-1zM19 20h1v1h-1zM21 20h1v1h-1zM20 21h1v1h-1zM22 21h1v1h-1zM21 22h1v1h-1zM23 22h1v1h-1zM22 23h1v1h-1zM24 23h1v1h-1zM23 24h1v1h-1zM25 24h1v1h-1zM24 25h1v1h-1zM26 25h1v1h-1zM25 26h1v1h-1zM27 26h1v1h-1zM26 27h1v1h-1zM28 27h1v1h-1zM27 28h1v1h-1zM29 28h1v1h-1zM28 29h1v1h-1zM30 29h1v1h-1zM29 30h1v1h-1zM31 30h1v1h-1zM30 31h1v1h-1zM32 31h1v1h-1zM31 32h1v1h-1zM33 32h1v1h-1zM32 33h1v1h-1zM34 33h1v1h-1zM33 34h1v1h-1zM35 34h1v1h-1zM34 35h1v1h-1zM36 35h1v1h-1zM35 36h1v1h-1zM37 36h1v1h-1zM36 37h1v1h-1zM38 37h1v1h-1zM37 38h1v1h-1zM39 38h1v1h-1zM38 39h1v1h-1zM40 39h1v1h-1zM39 40h1v1h-1zM41 40h1v1h-1zM40 41h1v1h-1zM42 41h1v1h-1zM41 42h1v1h-1zM43 42h1v1h-1zM42 43h1v1h-1zM44 43h1v1h-1zM43 44h1v1h-1zM45 44h1v1h-1zM44 45h1v1h-1zM46 45h1v1h-1zM45 46h1v1h-1zM47 46h1v1h-1zM46 47h1v1h-1zM48 47h1v1h-1zM47 48h1v1h-1zM49 48h1v1h-1zM48 49h1v1h-1zM50 49h1v1h-1zM49 50h1v1h-1zM51 50h1v1h-1zM50 51h1v1h-1zM52 51h1v1h-1zM51 52h1v1h-1zM53 52h1v1h-1zM52 53h1v1h-1zM54 53h1v1h-1zM53 54h1v1h-1zM55 54h1v1h-1zM54 55h1v1h-1zM56 55h1v1h-1zM55 56h1v1h-1zM57 56h1v1h-1zM56 57h1v1h-1zM58 57h1v1h-1zM57 58h1v1h-1zM59 58h1v1h-1zM58 59h1v1h-1zM60 59h1v1h-1zM59 60h1v1h-1zM61 60h1v1h-1zM60 61h1v1h-1zM62 61h1v1h-1zM61 62h1v1h-1zM63 62h1v1h-1zM62 63h1v1h-1zM64 63h1v1h-1zM63 64h1v1h-1zM65 64h1v1h-1zM64 65h1v1h-1zM66 65h1v1h-1zM65 66h1v1h-1zM67 66h1v1h-1zM66 67h1v1h-1z"/><path fill="#fff" d="M0 0h1v1h-1zM1 1h1v1h-1zM2 2h1v1h-1zM3 3h1v1h-1zM4 4h1v1h-1zM5 5h1v1h-1zM6 6h1v1h-1zM7 7h1v1h-1zM8 8h1v1h-1zM9 9h1v1h-1zM10 10h1v1h-1zM11 11h1v1h-1zM12 12h1v1h-1zM13 13h1v1h-1zM14 14h1v1h-1zM15 15h1v1h-1zM16 16h1v1h-1zM17 17h1v1h-1zM18 18h1v1h-1zM19 19h1v1h-1zM20 20h1v1h-1zM21 21h1v1h-1zM22 22h1v1h-1zM23 23h1v1h-1zM24 24h1v1h-1zM25 25h1v1h-1zM26 26h1v1h-1zM27 27h1v1h-1zM28 28h1v1h-1zM29 29h1v1h-1zM30 30h1v1h-1zM31 31h1v1h-1zM32 32h1v1h-1zM33 33h1v1h-1zM34 34h1v1h-1zM35 35h1v1h-1zM36 36h1v1h-1zM37 37h1v1h-1zM38 38h1v1h-1zM39 39h1v1h-1zM40 40h1v1h-1zM41 41h1v1h-1zM42 42h1v1h-1zM43 43h1v1h-1zM44 44h1v1h-1zM45 45h1v1h-1zM46 46h1v1h-1zM47 47h1v1h-1zM48 48h1v1h-1zM49 49h1v1h-1zM50 50h1v1h-1zM51 51h1v1h-1zM52 52h1v1h-1zM53 53h1v1h-1zM54 54h1v1h-1zM55 55h1v1h-1zM56 56h1v1h-1zM57 57h1v1h-1zM58 58h1v1h-1zM59 59h1v1h-1zM60 60h1v1h-1zM61 61h1v1h-1zM62 62h1v1h-1zM63 63h1v1h-1zM64 64h1v1h-1zM65 65h1v1h-1zM66 66h1v1h-1zM67 67h1v1h-1z"/><path d="M0 65h68v0.25H0z" fill="#fff" fill-opacity="0.3"/></g><g transform="translate(1665,984) scale(4)"><path fill="#00008b" d="M29 77h4v4h-4zM29 81h4v4h-4zM25 85h32v4h-32z"/><path fill="url(#q1)" d="M81 21h12v4h-12zM81 25h12v4h-12zM81 29h12v4h-12zM81 33h12v4h-12zM81 37h12v4h-12zM81 41h12v4h-12zM25 73h20v4h-20zM25 77h4v4h-4zM33 77h12v4h-12zM49 77h4v4h-4zM25 81h4v4h-4zM33 81h24v4h-24zM57 85h4v4h-4z"/><path fill="url(#q2)" d="M81 45h12v4h-12zM81 49h12v4h-12zM45 73h4v4h-4zM45 77h4v4h-4zM53 77h8v4h-8zM57 81h4v4h-4zM61 85h4v4h-4z"/><path fill="url(#q3)" d="M81 53h12v4h-12zM81 57h12v4h-12zM81 61h12v4h-12zM81 65h12v4h-12zM49 73h12v4h-12zM61 77h4v4h-4zM61 81h4v4h-4zM65 85h4v4h-4z"/><path fill="url(#q4)" d="M77 29h4v4h-4zM77 33h4v4h-4zM77 37h4v4h-4zM77 41h4v4h-4zM77 45h4v4h-4zM77 49h4v4h-4zM77 53h4v4h-4zM25 57h8v4h-8zM77 57h4v4h-4zM77 61h4v4h-4zM77 65h4v4h-4zM81 69h12v4h-12zM61 73h16v4h-16zM65 77h12v4h-12zM65 81h12v4h-12zM69 85h8v4h-8z"/><path fill="url(#q5)" d="M57 21h12v4h-12zM77 21h4v4h-4zM61 25h12v4h-12zM77 25h4v4h-4zM61 29h12v4h-12zM25 33h4v4h-4zM61 33h8v4h-8zM25 37h4v4h-4zM25 41h4v4h-4zM25 53h12v4h-12zM33 57h12v4h-12zM25 61h16v4h-16zM25 65h16v4h-16zM77 69h4v4h-4zM77 73h16v4h-16zM77 77h16v4h-16zM77 81h16v4h-16zM77 85h16v4h-16z"/><path fill="url(#q6)" d="M37 21h20v4h-20zM69 21h8v4h-8zM41 25h20v4h-20zM73 25h4v4h-4zM45 29h16v4h-16zM73 29h4v4h-4zM29 33h4v4h-4zM49 33h12v4h-12zM69 33h8v4h-8zM29 37h4v4h-4zM57 37h20v4h-20zM29 41h8v4h-8zM57 41h20v4h-20zM25 45h4v4h-4zM33 45h8v4h-8zM61 45h16v4h-16zM25 49h20v4h-20zM65 49h12v4h-12zM37 53h12v4h-12zM69 53h8v4h-8zM45 57h12v4h-12zM41 61h20v4h-20zM41 65h24v4h-24zM25 69h36v4h-36z"/><path fill="url(#q7)" d="M29 21h8v4h-8zM25 25h4v4h-4zM33 25h8v4h-8zM25 29h8v4h-8zM37 29h8v4h-8zM33 33h4v4h-4zM41 33h8v4h-8zM33 37h8v4h-8zM49 37h8v4h-8zM37 41h8v4h-8zM53 41h4v4h-4zM29 45h4v4h-4zM41 45h8v4h-8zM57 45h4v4h-4zM45 49h8v4h-8zM61 49h4v4h-4zM49 53h8v4h-8zM65 53h4v4h-4zM57 57h4v4h-4zM69 57h8v4h-8zM61 61h4v4h-4zM73 61h4v4h-4zM65 65h4v4h-4zM61 69h12v4h-12z"/><path fill="url(#q8)" d="M25 21h4v4h-4zM29 25h4v4h-4zM33 29h4v4h-4zM37 33h4v4h-4zM41 37h8v4h-8zM45 41h8v4h-8zM49 45h8v4h-8zM53 49h8v4h-8zM57 53h8v4h-8zM61 57h8v4h-8zM65 61h8v4h-8zM69 65h8v4h-8zM73 69h4v4h-4z"/></g><g transform="translate(1765,1068) scale(4)"><path fill="#d40000" d="M1 0h1v1h-1zM0 1h1v1h-1zM2 1h1v1h-1zM1 2h1v1h-1zM3 2h1v1h-1zM2 3h1v1h-1zM4 3h1v1h-1zM3 4h1v1h-1zM5 4h1v1h-1zM4 5h1v1h-1zM6 5h1v1h-1zM5 6h1v1h-1zM7 6h1v1h-1zM6 7h1v1h-1zM8 7h1v1h-1zM7 8h1v1h-1zM9 8h1v1h-1zM8 9h1v1h-1zM10 9h1v1h-1zM9 10h1v1h-1zM11 10h1v1h-1zM10 11h1v1h-1zM12 11h1v1h-1zM11 12h1v1h-1zM13 12h1v1h-1zM12 13h1v1h-1zM14 13h1v1h-1zM13 14h1v1h-1zM15 14h1v1h-1zM14 15h1v1h-1zM16 15h1v1h-1zM15 16h1v1h-1zM17 16h1v1h-1zM16 17h1v1h-1zM18 17h1v1h-1zM17 18h1v1h-1zM19 18h1v1h-1zM18 19h1v1h-1zM20 19h1v1h-1zM19 20h1v1h-1zM21 20h1v1h-1zM20 21h1v1h-1zM22 21h1v1h-1zM21 22h1v1h-1zM23 22h1v1h-1zM22 23h1v1h-1zM24 23h1v1h-1zM23 24h1v1h-1zM25 24h1v1h-1zM24 25h1v1h-1zM26 25h1v1h-1zM25 26h1v1h-1zM27 26h1v1h-1zM26 27h1v1h-1zM28 27h1v1h-1zM27 28h1v1h-1zM29 28h1v1h-1zM28 29h1v1h-1zM30 29h1v1h-1zM29 30h1v1h-1zM31 30h1v1h-1zM30 31h1v1h-1zM32 31h1v1h-1zM31 32h1v1h-1zM33 32h1v1h-1zM32 33h1v1h-1zM34 33h1v1h-1zM33 34h1v1h-1zM35 34h1v1h-1zM34 35h1v1h-1zM36 35h1v1h-1zM35 36h1v1h-1zM37 36h1v1h-1zM36 37h1v1h-1zM38 37h1v1h-1zM37 38h1v1h-1zM39 38h1v1h-1zM38 39h1v1h-1zM40 39h1v1h-1zM39 40h1v1h-1zM41 40h1v1h-1zM40 41h1v1h-1zM42 41h1v1h-1zM41 42h1v1h-1zM43 42h1v1h-1zM42 43h1v1h-1zM44 43h1v1h-1zM43 44h1v1h-1zM45 44h1v1h-1zM44 45h1v1h-1zM46 45h1v1h-1zM45 46h1v1h-1zM47 46h1v1h-1zM46 47h1v1h-1zM48 47h1v1h-1zM47 48h1v1h-1zM49 48h1v1h-1zM48 49h1v1h-1zM50 49h1v1h-1zM49 50h1v1h-1zM51 50h1v1h-1zM50 51h1v1h-1zM52 51h1v1h-1zM51 52h1v1h-1zM53 52h1v1h-1zM52 53h1v1h-1zM54 53h1v1h-1zM53 54h1v1h-1zM55 54h1v1h-1zM54 55h1v1h-1zM56 55h1v1h-1zM55 56h1v1h-1zM57 56h1v1h-1zM56 57h1v1h-1zM58 57h1v1h-1zM57 58h1v1h-1zM59 58h1v1h-1zM58 59h1v1h-1zM60 59h1v1h-1zM59 60h1v1h-1zM61 60h1v1h-1zM60 61h1v1h-1zM62 61h1v1h-1zM61 62h1v1h-1zM63 62h1v1h-1zM62 63h1v1h-1zM64 63h1v1h-1zM63 64h1v1h-1zM65 64h1v1h-1zM64 65h1v1h-1zM66 65h1v1h-1zM65 66h1v1h-1zM67 66h1v1h-1zM66 67h1v1h-1z"/><path fill="#fff" d="M0 0h1v1h-1zM1 1h1v1h-1zM2 2h1v1h-1zM3 3h1v1h-1zM4 4h1v1h-1zM5 5h1v1h-1zM6 6h1v1h-1zM7 7h1v1h-1zM8 8h1v1h-1zM9 9h1v1h-1zM10 10h1v1h-1zM11 11h1v1h-1zM12 12h1v1h-1zM13 13h1v1h-1zM14 14h1v1h-1zM15 15h1v1h-1zM16 16h1v1h-1zM17 17h1v1h-1zM18 18h1v1h-1zM19 19h1v1h-1zM20 20h1v1h-1zM21 21h1v1h-1zM22 22h1v1h-1zM23 23h1v1h-1zM24 24h1v1h-1zM25 25h1v1h-1zM26 26h1v1h-1zM27 27h1v1h-1zM28 28h1v1h-1zM29 29h1v1h-1zM30 30h1v1h-1zM31 31h1v1h-1zM32 32h1v1h-1zM33 33h1v1h-1zM34 34h1v1h-1zM35 35h1v1h-1zM36 36h1v1h-1zM37 37h1v1h-1zM38 38h1v1h-1zM39 39h1v1h-1zM40 40h1v1h-1zM41 41h1v1h-1zM42 42h1v1h-1zM43 43h1v1h-1zM44 44h1v1h-1zM45 45h1v1h-1zM46 46h1v1h-1zM47 47h1v1h-1zM48 48h1v1h-1zM49 49h1v1h-1zM50 50h1v1h-1zM51 51h1v1h-1zM52 52h1v1h-1zM53 53h1v1h-1zM54 54h1v1h-1zM55 55h1v1h-1zM56 56h1v1h-1zM57 57h1v1h-1zM58 58h1v1h-1zM59 59h1v1h-1zM60 60h1v1h-1zM61 61h1v1h-1zM62 62h1v1h-1zM63 63h1v1h-1zM64 64h1v1h-1zM65 65h1v1h-1zM66 66h1v1h-1zM67 67h1v1h-1z"/><path d="M0 65h68v0.25H0z" fill="#fff" fill-opacity="0.3"/></g><g transform="translate(33,1374) scale(4)"><path fill="#00008b" d="M89 21h4v4h-4zM89 25h4v4h-4zM89 29h4v4h-4zM61 33h32v4h-32zM61 37h32v4h-32zM85 41h8v4h-8zM77 45h16v4h-16zM81 49h12v4h-12zM33 61h12v4h-12zM33 65h12v4h-12zM33 69h16v4h-16zM25 73h32v4h-32zM81 73h12v4h-12zM37 77h16v4h-16zM81 77h4v4h-4zM25 81h32v4h-32zM81 81h4v4h-4zM25 85h36v4h-36zM81 85h4v4h-4z"/><path fill="url(#p1)" d="M61 21h28v4h-28zM61 25h28v4h-28zM61 29h28v4h-28zM61 41h24v4h-24zM65 45h12v4h-12zM77 49h4v4h-4zM81 53h12v4h-12zM25 57h20v4h-20zM81 57h12v4h-12zM25 61h8v4h-8zM45 61h4v4h-4zM81 61h12v4h-12zM25 65h8v4h-8zM45 65h4v4h-4zM81 65h12v4h-12zM25 69h8v4h-8zM49 69h4v4h-4zM81 69h12v4h-12zM57 73h4v4h-4zM77 73h4v4h-4zM25 77h12v4h-12zM53 77h4v4h-4zM57 81h4v4h-4zM77 81h4v4h-4zM61 85h20v4h-20z"/><path fill="url(#p2)" d="M57 33h4v4h-4zM57 37h4v4h-4zM61 45h4v4h-4zM65 49h12v4h-12zM45 57h4v4h-4zM49 61h4v4h-4zM49 65h4v4h-4zM61 73h16v4h-16zM57 77h4v4h-4zM77 77h4v4h-4zM61 81h16v4h-16z"/><path fill="url(#p3)" d="M57 21h4v4h-4zM57 25h4v4h-4zM57 29h4v4h-4zM57 41h4v4h-4zM61 49h4v4h-4zM25 53h12v4h-12zM49 57h4v4h-4zM53 69h4v4h-4zM61 77h16v4h-16zM85 77h4v4h-4z"/><path fill="url(#p4)" d="M57 45h4v4h-4zM37 53h4v4h-4zM77 53h4v4h-4zM77 57h4v4h-4zM53 61h4v4h-4zM77 61h4v4h-4zM53 65h4v4h-4zM89 77h4v4h-4zM85 81h4v4h-4z"/><path fill="url(#p5)" d="M57 49h4v4h-4zM41 53h8v4h-8zM53 57h4v4h-4zM77 65h4v4h-4zM77 69h4v4h-4zM89 81h4v4h-4zM85 85h4v4h-4z"/><path fill="url(#p6)" d="M25 21h4v4h-4zM53 21h4v4h-4zM45 25h4v4h-4zM25 37h4v4h-4zM25 41h4v4h-4zM25 45h4v4h-4zM25 49h16v4h-16zM49 53h4v4h-4zM73 53h4v4h-4zM89 85h4v4h-4z"/><path fill="url(#p7)" d="M29 21h24v4h-24zM25 25h4v4h-4zM33 25h12v4h-12zM49 25h8v4h-8zM25 29h8v4h-8zM37 29h20v4h-20zM25 33h12v4h-12zM45 33h12v4h-12zM29 37h8v4h-8zM49 37h8v4h-8zM29 41h12v4h-12zM53 41h4v4h-4zM29 45h16v4h-16zM41 49h8v4h-8zM53 53h4v4h-4zM61 53h12v4h-12zM73 57h4v4h-4zM73 61h4v4h-4zM73 65h4v4h-4zM57 69h4v4h-4z"/><path fill="url(#p8)" d="M29 25h4v4h-4zM33 29h4v4h-4zM37 33h8v4h-8zM37 37h12v4h-12zM41 41h12v4h-12zM45 45h12v4h-12zM49 49h8v4h-8zM57 53h4v4h-4zM57 57h16v4h-16zM57 61h16v4h-16zM57 65h16v4h-16zM61 69h16v4h-16z"/></g><g transform="translate(133,1458) scale(4)"><path fill="#00008b" d="M2 0h1V44h-1zM0 2H34v1H0z"/><path fill="url(#p6)" d="M34 9H52v1H34zM58 25h1V55h-1zM22 58H55v1H22z"/><path fill="#d40000" d="M1 0h1v1h-1zM0 1h1v1h-1zM2 1h1v1h-1zM1 2h1v1h-1zM3 2h1v1h-1zM2 3h1v1h-1zM4 3h1v1h-1zM3 4h1v1h-1zM5 4h1v1h-1zM4 5h1v1h-1zM6 5h1v1h-1zM5 6h1v1h-1zM7 6h1v1h-1zM6 7h1v1h-1zM8 7h1v1h-1zM7 8h1v1h-1zM9 8h1v1h-1zM8 9h1v1h-1zM10 9h1v1h-1zM9 10h1v1h-1zM11 10h1v1h-1zM10 11h1v1h-1zM12 11h1v1h-1zM11 12h1v1h-1zM13 12h1v1h-1zM12 13h1v1h-1zM14 13h1v1h-1zM13 14h1v1h-1zM15 14h1v1h-1zM14 15h1v1h-1zM16 15h1v1h-1zM15 16h1v1h-1zM17 16h1v1h-1zM16 17h1v1h-1zM18 17h1v1h-1zM17 18h1v1h-1zM19 18h1v1h-1zM18 19h1v1h-1zM20 19h1v1h-1zM19 20h1v1h-1zM21 20h1v1h-1zM20 21h1v1h-1zM22 21h1v1h-1zM21 22h1v1h-1zM23 22h1v1h-1zM22 23h1v1h-1zM24 23h1v1h-1zM23 24h1v1h-1zM25 24h1v1h-1zM24 25h1v1h-1zM26 25h1v1h-1zM25 26h1v1h-1zM27 26h1v1h-1zM26 27h1v1h-1zM28 27h1v1h-1zM27 28h1v1h-1zM29 28h1v1h-1zM28 29h1v1h-1zM30 29h1v1h-1zM29 30h1v1h-1zM31 30h1v1h-1zM30 31h1v1h-1zM32 31h1v1h-1zM31 32h1v1h-1zM33 32h1v1h-1zM32 33h1v1h-1zM34 33h1v1h-1zM33 34h1v1h-1zM35 34h1v1h-1zM34 35h1v1h-1zM36 35h1v1h-1zM35 36h1v1h-1zM37 36h1v1h-1zM36 37h1v1h-1zM38 37h1v1h-1zM37 38h1v1h-1zM39 38h1v1h-1zM38 39h1v1h-1zM40 39h1v1h-1zM39 40h1v1h-1zM41 40h1v1h-1zM40 41h1v1h-1zM42 41h1v1h-1zM41 42h1v1h-1zM43 42h1v1h-1zM42 43h1v1h-1zM44 43h1v1h-1zM43 44h1v1h-1zM45 44h1v1h-1zM44 45h1v1h-1zM46 45h1v1h-1zM45 46h1v1h-1zM47 46h1v1h-1zM46 47h1v1h-1zM48 47h1v1h-1zM47 48h1v1h-1zM49 48h1v1h-1zM48 49h1v1h-1zM50 49h1v1h-1zM49 50h1v1h-1zM51 50h1v1h-1zM50 51h1v1h-1zM52 51h1v1h-1zM51 52h1v1h-1zM53 52h1v1h-1zM52 53h1v1h-1zM54 53h1v1h-1zM53 54h1v1h-1zM55 54h1v1h-1zM54 55h1v1h-1zM56 55h1v1h-1zM55 56h1v1h-1zM57 56h1v1h-1zM56 57h1v1h-1zM58 57h1v1h-1zM57 58h1v1h-1zM59 58h1v1h-1zM58 59h1v1h-1zM60 59h1v1h-1zM59 60h1v1h-1zM61 60h1v1h-1zM60 61h1v1h-1zM62 61h1v1h-1zM61 62h1v1h-1zM63 62h1v1h-1zM62 63h1v1h-1zM64 63h1v1h-1zM63 64h1v1h-1zM65 64h1v1h-1zM64 65h1v1h-1zM66 65h1v1h-1zM65 66h1v1h-1zM67 66h1v1h-1zM66 67h1v1h-1z"/><path fill="#fff" d="M0 0h1v1h-1zM1 1h1v1h-1zM2 2h1v1h-1zM3 3h1v1h-1zM4 4h1v1h-1zM5 5h1v1h-1zM6 6h1v1h-1zM7 7h1v1h-1zM8 8h1v1h-1zM9 9h1v1h-1zM10 10h1v1h-1zM11 11h1v1h-1zM12 12h1v1h-1zM13 13h1v1h-1zM14 14h1v1h-1zM15 15h1v1h-1zM16 16h1v1h-1zM17 17h1v1h-1zM18 18h1v1h-1zM19 19h1v1h-1zM20 20h1v1h-1zM21 21h1v1h-1zM22 22h1v1h-1zM23 23h1v1h-1zM24 24h1v1h-1zM25 25h1v1h-1zM26 26h1v1h-1zM27 27h1v1h-1zM28 28h1v1h-1zM29 29h1v1h-1zM30 30h1v1h-1zM31 31h1v1h-1zM32 32h1v1h-1zM33 33h1v1h-1zM34 34h1v1h-1zM35 35h1v1h-1zM36 36h1v1h-1zM37 37h1v1h-1zM38 38h1v1h-1zM39 39h1v1h-1zM40 40h1v1h-1zM41 41h1v1h-1zM42 42h1v1h-1zM43 43h1v1h-1zM44 44h1v1h-1zM45 45h1v1h-1zM46 46h1v1h-1zM47 47h1v1h-1zM48 48h1v1h-1zM49 49h1v1h-1zM50 50h1v1h-1zM51 51h1v1h-1zM52 52h1v1h-1zM53 53h1v1h-1zM54 54h1v1h-1zM55 55h1v1h-1zM56 56h1v1h-1zM57 57h1v1h-1zM58 58h1v1h-1zM59 59h1v1h-1zM60 60h1v1h-1zM61 61h1v1h-1zM62 62h1v1h-1zM63 63h1v1h-1zM64 64h1v1h-1zM65 65h1v1h-1zM66 66h1v1h-1zM67 67h1v1h-1z"/><path d="M0 65h68v0.25H0z" fill="#fff" fill-opacity="0.3"/></g><g transform="translate(415,1370) scale(4)"><path fill="#00008b" d="M6 82h8v4h-8zM2 86h16v4h-16z"/><path fill="url(#q1)" d="M50 22h20v4h-20zM50 26h20v4h-20zM54 30h16v4h-16zM62 34h8v4h-8zM62 42h8v4h-8zM2 74h16v4h-16zM2 78h20v4h-20zM2 82h4v4h-4zM14 82h8v4h-8zM18 86h4v4h-4z"/><path fill="url(#q2)" d="M38 22h12v4h-12zM38 26h12v4h-12zM46 30h8v4h-8zM46 34h16v4h-16zM38 38h32v4h-32zM38 42h8v4h-8zM54 42h8v4h-8zM62 46h8v4h-8zM62 50h8v4h-8zM66 54h4v4h-4zM10 62h4v4h-4zM2 66h16v4h-16zM2 70h20v4h-20zM18 74h8v4h-8zM22 78h8v4h-8zM22 82h4v4h-4zM22 86h4v4h-4z"/><path fill="url(#q3)" d="M34 22h4v4h-4zM34 26h4v4h-4zM34 30h12v4h-12zM34 34h12v4h-12zM34 38h4v4h-4zM34 42h4v4h-4zM46 42h8v4h-8zM34 46h28v4h-28zM38 50h24v4h-24zM2 54h24v4h-24zM62 54h4v4h-4zM2 58h24v4h-24zM62 58h8v4h-8zM2 62h8v4h-8zM14 62h16v4h-16zM62 62h8v4h-8zM18 66h12v4h-12zM62 66h4v4h-4zM22 70h8v4h-8zM66 70h4v4h-4zM26 74h4v4h-4zM30 78h4v4h-4zM26 82h16v4h-16zM26 86h16v4h-16z"/><path fill="url(#q4)" d="M34 50h4v4h-4zM26 54h8v4h-8zM26 58h8v4h-8zM30 62h4v4h-4zM30 66h4v4h-4zM66 66h4v4h-4zM30 70h4v4h-4zM62 70h4v4h-4zM30 74h4v4h-4zM62 74h8v4h-8zM34 78h8v4h-8zM66 78h4v4h-4zM42 82h12v4h-12zM42 86h12v4h-12z"/><path fill="url(#q5)" d="M42 78h8v4h-8zM62 78h4v4h-4zM54 82h8v4h-8zM54 86h8v4h-8z"/><path fill="url(#q6)" d="M18 22h16v4h-16zM18 26h16v4h-16zM22 30h12v4h-12zM2 34h4v4h-4zM26 34h8v4h-8zM2 38h8v4h-8zM30 38h4v4h-4zM2 42h12v4h-12zM2 46h16v4h-16zM2 50h20v4h-20zM58 54h4v4h-4zM58 58h4v4h-4zM58 62h4v4h-4zM58 66h4v4h-4zM34 74h12v4h-12zM50 78h4v4h-4zM66 82h4v4h-4zM62 86h4v4h-4z"/><path fill="url(#q7)" d="M2 22h16v4h-16zM2 26h4v4h-4zM10 26h8v4h-8zM2 30h8v4h-8zM14 30h8v4h-8zM6 34h8v4h-8zM18 34h8v4h-8zM10 38h8v4h-8zM22 38h8v4h-8zM14 42h8v4h-8zM26 42h8v4h-8zM18 46h8v4h-8zM30 46h4v4h-4zM22 50h8v4h-8zM38 54h20v4h-20zM34 58h4v4h-4zM42 58h16v4h-16zM34 62h8v4h-8zM46 62h12v4h-12zM34 66h12v4h-12zM50 66h8v4h-8zM34 70h16v4h-16zM58 70h4v4h-4zM46 74h8v4h-8zM54 78h4v4h-4zM62 82h4v4h-4zM66 86h4v4h-4z"/><path fill="url(#q8)" d="M6 26h4v4h-4zM10 30h4v4h-4zM14 34h4v4h-4zM18 38h4v4h-4zM22 42h4v4h-4zM26 46h4v4h-4zM30 50h4v4h-4zM34 54h4v4h-4zM38 58h4v4h-4zM42 62h4v4h-4zM46 66h4v4h-4zM50 70h8v4h-8zM54 74h8v4h-8zM58 78h4v4h-4z"/></g><g transform="translate(423,1458) scale(4)"><path fill="#d40000" d="M1 0h1v1h-1zM0 1h1v1h-1zM2 1h1v1h-1zM1 2h1v1h-1zM3 2h1v1h-1zM2 3h1v1h-1zM4 3h1v1h-1zM3 4h1v1h-1zM5 4h1v1h-1zM4 5h1v1h-1zM6 5h1v1h-1zM5 6h1v1h-1zM7 6h1v1h-1zM6 7h1v1h-1zM8 7h1v1h-1zM7 8h1v1h-1zM9 8h1v1h-1zM8 9h1v1h-1zM10 9h1v1h-1zM9 10h1v1h-1zM11 10h1v1h-1zM10 11h1v1h-1zM12 11h1v1h-1zM11 12h1v1h-1zM13 12h1v1h-1zM12 13h1v1h-1zM14 13h1v1h-1zM13 14h1v1h-1zM15 14h1v1h-1zM14 15h1v1h-1zM16 15h1v1h-1zM15 16h1v1h-1zM17 16h1v1h-1zM16 17h1v1h-1zM18 17h1v1h-1zM17 18h1v1h-1zM19 18h1v1h-1zM18 19h1v1h-1zM20 19h1v1h-1zM19 20h1v1h-1zM21 20h1v1h-1zM20 21h1v1h-1zM22 21h1v1h-1zM21 22h1v1h-1zM23 22h1v1h-1zM22 23h1v1h-1zM24 23h1v1h-1zM23 24h1v1h-1zM25 24h1v1h-1zM24 25h1v1h-1zM26 25h1v1h-1zM25 26h1v1h-1zM27 26h1v1h-1zM26 27h1v1h-1zM28 27h1v1h-1zM27 28h1v1h-1zM29 28h1v1h-1zM28 29h1v1h-1zM30 29h1v1h-1zM29 30h1v1h-1zM31 30h1v1h-1zM30 31h1v1h-1zM32 31h1v1h-1zM31 32h1v1h-1zM33 32h1v1h-1zM32 33h1v1h-1zM34 33h1v1h-1zM33 34h1v1h-1zM35 34h1v1h-1zM34 35h1v1h-1zM36 35h1v1h-1zM35 36h1v1h-1zM37 36h1v1h-1zM36 37h1v1h-1zM38 37h1v1h-1zM37 38h1v1h-1zM39 38h1v1h-1zM38 39h1v1h-1zM40 39h1v1h-1zM39 40h1v1h-1zM41 40h1v1h-1zM40 41h1v1h-1zM42 41h1v1h-1zM41 42h1v1h-1zM43 42h1v1h-1zM42 43h1v1h-1zM44 43h1v1h-1zM43 44h1v1h-1zM45 44h1v1h-1zM44 45h1v1h-1zM46 45h1v1h-1zM45 46h1v1h-1zM47 46h1v1h-1zM46 47h1v1h-1zM48 47h1v1h-1zM47 48h1v1h-1zM49 48h1v1h-1zM48 49h1v1h-1zM50 49h1v1h-1zM49 50h1v1h-1zM51 50h1v1h-1zM50 51h1v1h-1zM52 51h1v1h-1zM51 52h1v1h-1zM53 52h1v1h-1zM52 53h1v1h-1zM54 53h1v1h-1zM53 54h1v1h-1zM55 54h1v1h-1zM54 55h1v1h-1zM56 55h1v1h-1zM55 56h1v1h-1zM57 56h1v1h-1zM56 57h1v1h-1zM58 57h1v1h-1zM57 58h1v1h-1zM59 58h1v1h-1zM58 59h1v1h-1zM60 59h1v1h-1zM59 60h1v1h-1zM61 60h1v1h-1zM60 61h1v1h-1zM62 61h1v1h-1zM61 62h1v1h-1zM63 62h1v1h-1zM62 63h1v1h-1zM64 63h1v1h-1zM63 64h1v1h-1zM65 64h1v1h-1zM64 65h1v1h-1zM66 65h1v1h-1zM65 66h1v1h-1zM67 66h1v1h-1zM66 67h1v1h-1z"/><path fill="#fff" d="M0 0h1v1h-1zM1 1h1v1h-1zM2 2h1v1h-1zM3 3h1v1h-1zM4 4h1v1h-1zM5 5h1v1h-1zM6 6h1v1h-1zM7 7h1v1h-1zM8 8h1v1h-1zM9 9h1v1h-1zM10 10h1v1h-1zM11 11h1v1h-1zM12 12h1v1h-1zM13 13h1v1h-1zM14 14h1v1h-1zM15 15h1v1h-1zM16 16h1v1h-1zM17 17h1v1h-1zM18 18h1v1h-1zM19 19h1v1h-1zM20 20h1v1h-1zM21 21h1v1h-1zM22 22h1v1h-1zM23 23h1v1h-1zM24 24h1v1h-1zM25 25h1v1h-1zM26 26h1v1h-1zM27 27h1v1h-1zM28 28h1v1h-1zM29 29h1v1h-1zM30 30h1v1h-1zM31 31h1v1h-1zM32 32h1v1h-1zM33 33h1v1h-1zM34 34h1v1h-1zM35 35h1v1h-1zM36 36h1v1h-1zM37 37h1v1h-1zM38 38h1v1h-1zM39 39h1v1h-1zM40 40h1v1h-1zM41 41h1v1h-1zM42 42h1v1h-1zM43 43h1v1h-1zM44 44h1v1h-1zM45 45h1v1h-1zM46 46h1v1h-1zM47 47h1v1h-1zM48 48h1v1h-1zM49 49h1v1h-1zM50 50h1v1h-1zM51 51h1v1h-1zM52 52h1v1h-1zM53 53h1v1h-1zM54 54h1v1h-1zM55 55h1v1h-1zM56 56h1v1h-1zM57 57h1v1h-1zM58 58h1v1h-1zM59 59h1v1h-1zM60 60h1v1h-1zM61 61h1v1h-1zM62 62h1v1h-1zM63 63h1v1h-1zM64 64h1v1h-1zM65 65h1v1h-1zM66 66h1v1h-1zM67 67h1v1h-1z"/><path d="M0 65h68v0.25H0z" fill="#fff" fill-opacity="0.3"/></g><g transform="translate(751,1422) scale(4)"><path fill="#00008b" d="M53 9h28v4h-28zM53 13h28v4h-28zM65 17h16v4h-16zM53 21h28v4h-28zM61 25h20v4h-20zM65 29h16v4h-16zM65 33h16v4h-16zM65 37h16v4h-16zM13 53h8v4h-8zM25 53h4v4h-4zM13 57h24v4h-24zM13 61h28v4h-28zM13 65h28v4h-28zM13 69h28v4h-28zM13 73h32v4h-32z"/><path fill="url(#p1)" d="M49 9h4v4h-4zM49 13h4v4h-4zM49 17h4v4h-4zM61 17h4v4h-4zM49 21h4v4h-4zM53 25h8v4h-8zM61 29h4v4h-4zM61 33h4v4h-4zM61 37h4v4h-4zM77 41h4v4h-4zM13 45h8v4h-8zM25 45h4v4h-4zM13 49h8v4h-8zM25 49h4v4h-4zM21 53h4v4h-4zM29 53h4v4h-4zM37 57h8v4h-8zM41 61h4v4h-4zM41 65h4v4h-4zM41 69h4v4h-4zM45 73h4v4h-4z"/><path fill="url(#p2)" d="M49 25h4v4h-4zM65 41h12v4h-12zM21 45h4v4h-4zM29 45h8v4h-8zM21 49h4v4h-4zM29 49h4v4h-4zM33 53h4v4h-4zM45 65h4v4h-4zM45 69h4v4h-4z"/><path fill="url(#p3)" d="M53 17h8v4h-8zM49 29h12v4h-12zM61 41h4v4h-4zM33 49h4v4h-4zM37 53h4v4h-4zM45 57h4v4h-4zM45 61h4v4h-4zM49 73h4v4h-4z"/><path fill="url(#p4)" d="M49 33h12v4h-12zM49 37h12v4h-12zM37 45h4v4h-4zM77 45h4v4h-4zM37 49h4v4h-4zM77 49h4v4h-4zM41 53h4v4h-4zM77 53h4v4h-4zM77 57h4v4h-4zM77 61h4v4h-4zM49 69h4v4h-4zM53 73h16v4h-16z"/><path fill="url(#p5)" d="M45 13h4v4h-4zM45 17h4v4h-4zM13 41h16v4h-16zM49 41h4v4h-4zM41 45h4v4h-4zM73 45h4v4h-4zM41 49h4v4h-4zM73 49h4v4h-4zM45 53h4v4h-4zM73 53h4v4h-4zM73 57h4v4h-4zM73 61h4v4h-4zM77 65h4v4h-4zM53 69h16v4h-16zM69 73h4v4h-4z"/><path fill="url(#p6)" d="M41 9h8v4h-8zM13 13h4v4h-4zM41 13h4v4h-4zM13 17h4v4h-4zM41 17h4v4h-4zM45 21h4v4h-4zM29 41h8v4h-8zM53 41h8v4h-8zM45 45h4v4h-4zM61 45h12v4h-12zM45 49h4v4h-4zM61 49h12v4h-12zM61 53h12v4h-12zM49 57h12v4h-12zM65 57h8v4h-8zM49 61h16v4h-16zM69 61h4v4h-4zM49 65h20v4h-20zM73 65h4v4h-4zM69 69h4v4h-4zM77 69h4v4h-4zM73 73h4v4h-4z"/><path fill="url(#p7)" d="M13 9h28v4h-28zM17 13h16v4h-16zM37 13h4v4h-4zM17 17h4v4h-4zM25 17h16v4h-16zM13 21h12v4h-12zM29 21h16v4h-16zM13 25h16v4h-16zM37 25h12v4h-12zM13 29h16v4h-16zM41 29h8v4h-8zM13 33h20v4h-20zM45 33h4v4h-4zM13 37h24v4h-24zM37 41h4v4h-4zM61 57h4v4h-4zM69 65h4v4h-4zM73 69h4v4h-4zM77 73h4v4h-4z"/><path fill="url(#p8)" d="M33 13h4v4h-4zM21 17h4v4h-4zM25 21h4v4h-4zM29 25h8v4h-8zM29 29h12v4h-12zM33 33h12v4h-12zM37 37h12v4h-12zM41 41h8v4h-8zM49 45h12v4h-12zM49 49h12v4h-12zM49 53h12v4h-12zM65 61h4v4h-4z"/></g><g transform="translate(803,1458) scale(4)"><path fill="#00008b" d="M6 0h1V37h-1zM0 6H37v1H0zM11 0h1V37h-1zM0 11H37v1H0zM36 36H68v1H36zM36 36h1V68h-1zM49 36h1V68h-1zM36 49H68v1H36zM51 36h1V68h-1zM36 51H68v1H36zM55 36h1V68h-1zM36 55H68v1H36zM62 36h1V68h-1zM36 62H68v1H36z"/><path fill="#d40000" d="M1 0h1v1h-1zM0 1h1v1h-1zM2 1h1v1h-1zM1 2h1v1h-1zM3 2h1v1h-1zM2 3h1v1h-1zM4 3h1v1h-1zM3 4h1v1h-1zM5 4h1v1h-1zM4 5h1v1h-1zM6 5h1v1h-1zM5 6h1v1h-1zM7 6h1v1h-1zM6 7h1v1h-1zM8 7h1v1h-1zM7 8h1v1h-1zM9 8h1v1h-1zM8 9h1v1h-1zM10 9h1v1h-1zM9 10h1v1h-1zM11 10h1v1h-1zM10 11h1v1h-1zM12 11h1v1h-1zM11 12h1v1h-1zM13 12h1v1h-1zM12 13h1v1h-1zM14 13h1v1h-1zM13 14h1v1h-1zM15 14h1v1h-1zM14 15h1v1h-1zM16 15h1v1h-1zM15 16h1v1h-1zM17 16h1v1h-1zM16 17h1v1h-1zM18 17h1v1h-1zM17 18h1v1h-1zM19 18h1v1h-1zM18 19h1v1h-1zM20 19h1v1h-1zM19 20h1v1h-1zM21 20h1v1h-1zM20 21h1v1h-1zM22 21h1v1h-1zM21 22h1v1h-1zM23 22h1v1h-1zM22 23h1v1h-1zM24 23h1v1h-1zM23 24h1v1h-1zM25 24h1v1h-1zM24 25h1v1h-1zM26 25h1v1h-1zM25 26h1v1h-1zM27 26h1v1h-1zM26 27h1v1h-1zM28 27h1v1h-1zM27 28h1v1h-1zM29 28h1v1h-1zM28 29h1v1h-1zM30 29h1v1h-1zM29 30h1v1h-1zM31 30h1v1h-1zM30 31h1v1h-1zM32 31h1v1h-1zM31 32h1v1h-1zM33 32h1v1h-1zM32 33h1v1h-1zM34 33h1v1h-1zM33 34h1v1h-1zM35 34h1v1h-1zM34 35h1v1h-1zM36 35h1v1h-1zM35 36h1v1h-1zM37 36h1v1h-1zM36 37h1v1h-1zM38 37h1v1h-1zM37 38h1v1h-1zM39 38h1v1h-1zM38 39h1v1h-1zM40 39h1v1h-1zM39 40h1v1h-1zM41 40h1v1h-1zM40 41h1v1h-1zM42 41h1v1h-1zM41 42h1v1h-1zM43 42h1v1h-1zM42 43h1v1h-1zM44 43h1v1h-1zM43 44h1v1h-1zM45 44h1v1h-1zM44 45h1v1h-1zM46 45h1v1h-1zM45 46h1v1h-1zM47 46h1v1h-1zM46 47h1v1h-1zM48 47h1v1h-1zM47 48h1v1h-1zM49 48h1v1h-1zM48 49h1v1h-1zM50 49h1v1h-1zM49 50h1v1h-1zM51 50h1v1h-1zM50 51h1v1h-1zM52 51h1v1h-1zM51 52h1v1h-1zM53 52h1v1h-1zM52 53h1v1h-1zM54 53h1v1h-1zM53 54h1v1h-1zM55 54h1v1h-1zM54 55h1v1h-1zM56 55h1v1h-1zM55 56h1v1h-1zM57 56h1v1h-1zM56 57h1v1h-1zM58 57h1v1h-1zM57 58h1v1h-1zM59 58h1v1h-1zM58 59h1v1h-1zM60 59h1v1h-1zM59 60h1v1h-1zM61 60h1v1h-1zM60 61h1v1h-1zM62 61h1v1h-1zM61 62h1v1h-1zM63 62h1v1h-1zM62 63h1v1h-1zM64 63h1v1h-1zM63 64h1v1h-1zM65 64h1v1h-1zM64 65h1v1h-1zM66 65h1v1h-1zM65 66h1v1h-1zM67 66h1v1h-1zM66 67h1v1h-1z"/><path fill="#fff" d="M0 0h1v1h-1zM1 1h1v1h-1zM2 2h1v1h-1zM3 3h1v1h-1zM4 4h1v1h-1zM5 5h1v1h-1zM6 6h1v1h-1zM7 7h1v1h-1zM8 8h1v1h-1zM9 9h1v1h-1zM10 10h1v1h-1zM11 11h1v1h-1zM12 12h1v1h-1zM13 13h1v1h-1zM14 14h1v1h-1zM15 15h1v1h-1zM16 16h1v1h-1zM17 17h1v1h-1zM18 18h1v1h-1zM19 19h1v1h-1zM20 20h1v1h-1zM21 21h1v1h-1zM22 22h1v1h-1zM23 23h1v1h-1zM24 24h1v1h-1zM25 25h1v1h-1zM26 26h1v1h-1zM27 27h1v1h-1zM28 28h1v1h-1zM29 29h1v1h-1zM30 30h1v1h-1zM31 31h1v1h-1zM32 32h1v1h-1zM33 33h1v1h-1zM34 34h1v1h-1zM35 35h1v1h-1zM36 36h1v1h-1zM37 37h1v1h-1zM38 38h1v1h-1zM39 39h1v1h-1zM40 40h1v1h-1zM41 41h1v1h-1zM42 42h1v1h-1zM43 43h1v1h-1zM44 44h1v1h-1zM45 45h1v1h-1zM46 46h1v1h-1zM47 47h1v1h-1zM48 48h1v1h-1zM49 49h1v1h-1zM50 50h1v1h-1zM51 51h1v1h-1zM52 52h1v1h-1zM53 53h1v1h-1zM54 54h1v1h-1zM55 55h1v1h-1zM56 56h1v1h-1zM57 57h1v1h-1zM58 58h1v1h-1zM59 59h1v1h-1zM60 60h1v1h-1zM61 61h1v1h-1zM62 62h1v1h-1zM63 63h1v1h-1zM64 64h1v1h-1zM65 65h1v1h-1zM66 66h1v1h-1zM67 67h1v1h-1z"/><path d="M0 65h68v0.25H0z" fill="#fff" fill-opacity="0.3"/></g><g transform="translate(1018,1458) scale(4)"><path fill="#00008b" d="M31 60h4v4h-4zM19 64h20v4h-20z"/><path fill="url(#q1)" d="M59 0h4v4h-4zM83 0h4v4h-4zM59 4h12v4h-12zM75 4h12v4h-12zM83 8h4v4h-4zM63 12h24v4h-24zM75 16h12v4h-12zM63 20h24v4h-24zM79 24h8v4h-8zM83 28h4v4h-4zM19 44h4v4h-4zM19 48h8v4h-8zM19 52h16v4h-16zM19 56h20v4h-20zM19 60h12v4h-12zM35 60h8v4h-8zM39 64h8v4h-8z"/><path fill="url(#q2)" d="M55 0h4v4h-4zM63 0h20v4h-20zM55 4h4v4h-4zM71 4h4v4h-4zM75 8h8v4h-8zM55 12h8v4h-8zM55 16h20v4h-20zM55 20h8v4h-8zM67 24h12v4h-12zM67 28h4v4h-4zM79 28h4v4h-4zM19 36h8v4h-8zM19 40h12v4h-12zM79 40h4v4h-4zM23 44h12v4h-12zM27 48h16v4h-16zM35 52h8v4h-8zM39 56h8v4h-8zM43 60h4v4h-4zM47 64h4v4h-4z"/><path fill="url(#q3)" d="M51 0h4v4h-4zM51 4h4v4h-4zM51 8h24v4h-24zM51 12h4v4h-4zM51 16h4v4h-4zM51 20h4v4h-4zM51 24h16v4h-16zM55 28h12v4h-12zM71 28h8v4h-8zM19 32h28v4h-28zM71 32h16v4h-16zM27 36h24v4h-24zM75 36h12v4h-12zM31 40h20v4h-20zM75 40h4v4h-4zM83 40h4v4h-4zM35 44h16v4h-16zM79 44h4v4h-4zM43 48h8v4h-8zM79 48h4v4h-4zM43 52h8v4h-8zM47 56h20v4h-20zM47 60h20v4h-20zM51 64h12v4h-12z"/><path fill="url(#q4)" d="M51 28h4v4h-4zM47 32h4v4h-4zM75 44h4v4h-4zM83 44h4v4h-4zM75 48h4v4h-4zM83 48h4v4h-4zM75 52h12v4h-12zM67 56h8v4h-8zM67 60h8v4h-8zM63 64h12v4h-12z"/><path fill="url(#q5)" d="M19 20h4v4h-4zM79 56h8v4h-8zM75 60h4v4h-4zM83 60h4v4h-4zM75 64h8v4h-8z"/><path fill="url(#q6)" d="M35 0h8v4h-8zM47 0h4v4h-4zM39 4h4v4h-4zM47 4h4v4h-4zM39 8h12v4h-12zM19 12h4v4h-4zM43 12h8v4h-8zM19 16h8v4h-8zM47 16h4v4h-4zM23 20h8v4h-8zM19 24h16v4h-16zM19 28h20v4h-20zM67 32h4v4h-4zM71 36h4v4h-4zM51 48h4v4h-4zM51 52h8v4h-8zM75 56h4v4h-4zM79 60h4v4h-4zM83 64h4v4h-4z"/><path fill="url(#q7)" d="M23 0h12v4h-12zM43 0h4v4h-4zM19 4h4v4h-4zM27 4h12v4h-12zM43 4h4v4h-4zM19 8h8v4h-8zM31 8h8v4h-8zM23 12h8v4h-8zM35 12h8v4h-8zM27 16h8v4h-8zM39 16h8v4h-8zM31 20h8v4h-8zM43 20h8v4h-8zM35 24h8v4h-8zM39 28h4v4h-4zM55 32h12v4h-12zM51 36h4v4h-4zM59 36h12v4h-12zM51 40h8v4h-8zM63 40h12v4h-12zM51 44h12v4h-12zM67 44h8v4h-8zM55 48h12v4h-12zM71 48h4v4h-4zM59 52h12v4h-12z"/><path fill="url(#q8)" d="M19 0h4v4h-4zM23 4h4v4h-4zM27 8h4v4h-4zM31 12h4v4h-4zM35 16h4v4h-4zM39 20h4v4h-4zM43 24h8v4h-8zM43 28h8v4h-8zM51 32h4v4h-4zM55 36h4v4h-4zM59 40h4v4h-4zM63 44h4v4h-4zM67 48h4v4h-4zM71 52h4v4h-4z"/></g><g transform="translate(1094,1458) scale(4)"><path fill="#d40000" d="M1 0h1v1h-1zM0 1h1v1h-1zM2 1h1v1h-1zM1 2h1v1h-1zM3 2h1v1h-1zM2 3h1v1h-1zM4 3h1v1h-1zM3 4h1v1h-1zM5 4h1v1h-1zM4 5h1v1h-1zM6 5h1v1h-1zM5 6h1v1h-1zM7 6h1v1h-1zM6 7h1v1h-1zM8 7h1v1h-1zM7 8h1v1h-1zM9 8h1v1h-1zM8 9h1v1h-1zM10 9h1v1h-1zM9 10h1v1h-1zM11 10h1v1h-1zM10 11h1v1h-1zM12 11h1v1h-1zM11 12h1v1h-1zM13 12h1v1h-1zM12 13h1v1h-1zM14 13h1v1h-1zM13 14h1v1h-1zM15 14h1v1h-1zM14 15h1v1h-1zM16 15h1v1h-1zM15 16h1v1h-1zM17 16h1v1h-1zM16 17h1v1h-1zM18 17h1v1h-1zM17 18h1v1h-1zM19 18h1v1h-1zM18 19h1v1h-1zM20 19h1v1h-1zM19 20h1v1h-1zM21 20h1v1h-1zM20 21h1v1h-1zM22 21h1v1h-1zM21 22h1v1h-1zM23 22h1v1h-1zM22 23h1v1h-1zM24 23h1v1h-1zM23 24h1v1h-1zM25 24h1v1h-1zM24 25h1v1h-1zM26 25h1v1h-1zM25 26h1v1h-1zM27 26h1v1h-1zM26 27h1v1h-1zM28 27h1v1h-1zM27 28h1v1h-1zM29 28h1v1h-1zM28 29h1v1h-1zM30 29h1v1h-1zM29 30h1v1h-1zM31 30h1v1h-1zM30 31h1v1h-1zM32 31h1v1h-1zM31 32h1v1h-1zM33 32h1v1h-1zM32 33h1v1h-1zM34 33h1v1h-1zM33 34h1v1h-1zM35 34h1v1h-1zM34 35h1v1h-1zM36 35h1v1h-1zM35 36h1v1h-1zM37 36h1v1h-1zM36 37h1v1h-1zM38 37h1v1h-1zM37 38h1v1h-1zM39 38h1v1h-1zM38 39h1v1h-1zM40 39h1v1h-1zM39 40h1v1h-1zM41 40h1v1h-1zM40 41h1v1h-1zM42 41h1v1h-1zM41 42h1v1h-1zM43 42h1v1h-1zM42 43h1v1h-1zM44 43h1v1h-1zM43 44h1v1h-1zM45 44h1v1h-1zM44 45h1v1h-1zM46 45h1v1h-1zM45 46h1v1h-1zM47 46h1v1h-1zM46 47h1v1h-1zM48 47h1v1h-1zM47 48h1v1h-1zM49 48h1v1h-1zM48 49h1v1h-1zM50 49h1v1h-1zM49 50h1v1h-1zM51 50h1v1h-1zM50 51h1v1h-1zM52 51h1v1h-1zM51 52h1v1h-1zM53 52h1v1h-1zM52 53h1v1h-1zM54 53h1v1h-1zM53 54h1v1h-1zM55 54h1v1h-1zM54 55h1v1h-1zM56 55h1v1h-1zM55 56h1v1h-1zM57 56h1v1h-1zM56 57h1v1h-1zM58 57h1v1h-1zM57 58h1v1h-1zM59 58h1v1h-1zM58 59h1v1h-1zM60 59h1v1h-1zM59 60h1v1h-1zM61 60h1v1h-1zM60 61h1v1h-1zM62 61h1v1h-1zM61 62h1v1h-1zM63 62h1v1h-1zM62 63h1v1h-1zM64 63h1v1h-1zM63 64h1v1h-1zM65 64h1v1h-1zM64 65h1v1h-1zM66 65h1v1h-1zM65 66h1v1h-1zM67 66h1v1h-1zM66 67h1v1h-1z"/><path fill="#fff" d="M0 0h1v1h-1zM1 1h1v1h-1zM2 2h1v1h-1zM3 3h1v1h-1zM4 4h1v1h-1zM5 5h1v1h-1zM6 6h1v1h-1zM7 7h1v1h-1zM8 8h1v1h-1zM9 9h1v1h-1zM10 10h1v1h-1zM11 11h1v1h-1zM12 12h1v1h-1zM13 13h1v1h-1zM14 14h1v1h-1zM15 15h1v1h-1zM16 16h1v1h-1zM17 17h1v1h-1zM18 18h1v1h-1zM19 19h1v1h-1zM20 20h1v1h-1zM21 21h1v1h-1zM22 22h1v1h-1zM23 23h1v1h-1zM24 24h1v1h-1zM25 25h1v1h-1zM26 26h1v1h-1zM27 27h1v1h-1zM28 28h1v1h-1zM29 29h1v1h-1zM30 30h1v1h-1zM31 31h1v1h-1zM32 32h1v1h-1zM33 33h1v1h-1zM34 34h1v1h-1zM35 35h1v1h-1zM36 36h1v1h-1zM37 37h1v1h-1zM38 38h1v1h-1zM39 39h1v1h-1zM40 40h1v1h-1zM41 41h1v1h-1zM42 42h1v1h-1zM43 43h1v1h-1zM44 44h1v1h-1zM45 45h1v1h-1zM46 46h1v1h-1zM47 47h1v1h-1zM48 48h1v1h-1zM49 49h1v1h-1zM50 50h1v1h-1zM51 51h1v1h-1zM52 52h1v1h-1zM53 53h1v1h-1zM54 54h1v1h-1zM55 55h1v1h-1zM56 56h1v1h-1zM57 57h1v1h-1zM58 58h1v1h-1zM59 59h1v1h-1zM60 60h1v1h-1zM61 61h1v1h-1zM62 62h1v1h-1zM63 63h1v1h-1zM64 64h1v1h-1zM65 65h1v1h-1zM66 66h1v1h-1zM67 67h1v1h-1z"/><path d="M0 65h68v0.25H0z" fill="#fff" fill-opacity="0.3"/></g><g transform="translate(1369,1394) scale(4)"><path fill="#00008b" d="M66 16h28v4h-28zM66 20h28v4h-28zM66 24h28v4h-28zM62 28h32v4h-32zM66 32h28v4h-28zM66 36h28v4h-28zM66 40h28v4h-28zM78 44h16v4h-16zM34 52h16v4h-16zM26 56h28v4h-28zM26 60h28v4h-28zM26 64h32v4h-32zM26 68h32v4h-32zM26 72h32v4h-32zM26 76h32v4h-32zM26 80h32v4h-32z"/><path fill="url(#p1)" d="M62 16h4v4h-4zM62 20h4v4h-4zM62 24h4v4h-4zM62 32h4v4h-4zM62 36h4v4h-4zM66 44h12v4h-12zM78 48h16v4h-16zM26 52h8v4h-8zM50 52h4v4h-4zM54 56h4v4h-4zM54 60h4v4h-4zM58 68h4v4h-4zM58 72h4v4h-4zM58 76h4v4h-4zM58 80h4v4h-4z"/><path fill="url(#p2)" d="M62 40h4v4h-4zM74 48h4v4h-4zM54 52h4v4h-4zM58 64h4v4h-4z"/><path fill="url(#p3)" d="M62 44h4v4h-4zM66 48h8v4h-8zM58 60h4v4h-4z"/><path fill="url(#p4)" d="M34 48h16v4h-16zM58 56h4v4h-4z"/><path fill="url(#p5)" d="M58 24h4v4h-4zM58 28h4v4h-4zM58 32h4v4h-4zM58 36h4v4h-4zM26 48h8v4h-8zM62 48h4v4h-4zM58 52h4v4h-4z"/><path fill="url(#p6)" d="M30 16h4v4h-4zM58 16h4v4h-4zM26 20h8v4h-8zM58 20h4v4h-4zM26 24h8v4h-8zM26 28h8v4h-8zM26 32h8v4h-8zM54 32h4v4h-4zM26 36h8v4h-8zM26 40h8v4h-8zM58 40h4v4h-4zM26 44h8v4h-8zM38 44h12v4h-12zM78 52h16v4h-16zM82 56h12v4h-12zM82 60h12v4h-12zM86 64h8v4h-8zM62 72h16v4h-16zM90 72h4v4h-4zM70 76h8v4h-8zM62 80h20v4h-20z"/><path fill="url(#p7)" d="M26 16h4v4h-4zM34 16h24v4h-24zM34 20h24v4h-24zM50 24h8v4h-8zM50 28h8v4h-8zM50 32h4v4h-4zM50 36h8v4h-8zM34 40h16v4h-16zM34 44h4v4h-4zM58 44h4v4h-4zM50 48h8v4h-8zM66 52h12v4h-12zM62 56h4v4h-4zM70 56h12v4h-12zM62 60h8v4h-8zM74 60h8v4h-8zM62 64h12v4h-12zM82 64h4v4h-4zM62 68h12v4h-12zM82 68h12v4h-12zM78 72h4v4h-4zM86 72h4v4h-4zM62 76h8v4h-8zM78 76h8v4h-8zM90 76h4v4h-4zM82 80h8v4h-8z"/><path fill="url(#p8)" d="M34 24h16v4h-16zM34 28h16v4h-16zM34 32h16v4h-16zM34 36h12v4h-12zM50 40h8v4h-8zM50 44h8v4h-8zM58 48h4v4h-4zM62 52h4v4h-4zM66 56h4v4h-4zM70 60h4v4h-4zM74 64h8v4h-8zM74 68h8v4h-8zM82 72h4v4h-4zM86 76h4v4h-4zM90 80h4v4h-4z"/><path fill="url(#p9)" d="M46 36h4v4h-4z"/></g><g transform="translate(1473,1458) scale(4)"><path fill="#00008b" d="M3 0h1V37h-1zM0 3H37v1H0zM6 0h1V37h-1zM0 6H37v1H0zM25 25h1V37h-1zM7 25H37v1H7zM48 37h1V68h-1zM37 48H68v1H37zM55 37h1V68h-1zM37 55H68v1H37zM59 37h1V68h-1zM37 60H68v1H37zM37 65H68v1H37z"/><path fill="#d40000" d="M1 0h1v1h-1zM0 1h1v1h-1zM2 1h1v1h-1zM1 2h1v1h-1zM3 2h1v1h-1zM2 3h1v1h-1zM4 3h1v1h-1zM3 4h1v1h-1zM5 4h1v1h-1zM4 5h1v1h-1zM6 5h1v1h-1zM5 6h1v1h-1zM7 6h1v1h-1zM6 7h1v1h-1zM8 7h1v1h-1zM7 8h1v1h-1zM9 8h1v1h-1zM8 9h1v1h-1zM10 9h1v1h-1zM9 10h1v1h-1zM11 10h1v1h-1zM10 11h1v1h-1zM12 11h1v1h-1zM11 12h1v1h-1zM13 12h1v1h-1zM12 13h1v1h-1zM14 13h1v1h-1zM13 14h1v1h-1zM15 14h1v1h-1zM14 15h1v1h-1zM16 15h1v1h-1zM15 16h1v1h-1zM17 16h1v1h-1zM16 17h1v1h-1zM18 17h1v1h-1zM17 18h1v1h-1zM19 18h1v1h-1zM18 19h1v1h-1zM20 19h1v1h-1zM19 20h1v1h-1zM21 20h1v1h-1zM20 21h1v1h-1zM22 21h1v1h-1zM21 22h1v1h-1zM23 22h1v1h-1zM22 23h1v1h-1zM24 23h1v1h-1zM23 24h1v1h-1zM25 24h1v1h-1zM24 25h1v1h-1zM26 25h1v1h-1zM25 26h1v1h-1zM27 26h1v1h-1zM26 27h1v1h-1zM28 27h1v1h-1zM27 28h1v1h-1zM29 28h1v1h-1zM28 29h1v1h-1zM30 29h1v1h-1zM29 30h1v1h-1zM31 30h1v1h-1zM30 31h1v1h-1zM32 31h1v1h-1zM31 32h1v1h-1zM33 32h1v1h-1zM32 33h1v1h-1zM34 33h1v1h-1zM33 34h1v1h-1zM35 34h1v1h-1zM34 35h1v1h-1zM36 35h1v1h-1zM35 36h1v1h-1zM37 36h1v1h-1zM36 37h1v1h-1zM38 37h1v1h-1zM37 38h1v1h-1zM39 38h1v1h-1zM38 39h1v1h-1zM40 39h1v1h-1zM39 40h1v1h-1zM41 40h1v1h-1zM40 41h1v1h-1zM42 41h1v1h-1zM41 42h1v1h-1zM43 42h1v1h-1zM42 43h1v1h-1zM44 43h1v1h-1zM43 44h1v1h-1zM45 44h1v1h-1zM44 45h1v1h-1zM46 45h1v1h-1zM45 46h1v1h-1zM47 46h1v1h-1zM46 47h1v1h-1zM48 47h1v1h-1zM47 48h1v1h-1zM49 48h1v1h-1zM48 49h1v1h-1zM50 49h1v1h-1zM49 50h1v1h-1zM51 50h1v1h-1zM50 51h1v1h-1zM52 51h1v1h-1zM51 52h1v1h-1zM53 52h1v1h-1zM52 53h1v1h-1zM54 53h1v1h-1zM53 54h1v1h-1zM55 54h1v1h-1zM54 55h1v1h-1zM56 55h1v1h-1zM55 56h1v1h-1zM57 56h1v1h-1zM56 57h1v1h-1zM58 57h1v1h-1zM57 58h1v1h-1zM59 58h1v1h-1zM58 59h1v1h-1zM60 59h1v1h-1zM59 60h1v1h-1zM61 60h1v1h-1zM60 61h1v1h-1zM62 61h1v1h-1zM61 62h1v1h-1zM63 62h1v1h-1zM62 63h1v1h-1zM64 63h1v1h-1zM63 64h1v1h-1zM65 64h1v1h-1zM64 65h1v1h-1zM66 65h1v1h-1zM65 66h1v1h-1zM67 66h1v1h-1zM66 67h1v1h-1z"/><path fill="#fff" d="M0 0h1v1h-1zM1 1h1v1h-1zM2 2h1v1h-1zM3 3h1v1h-1zM4 4h1v1h-1zM5 5h1v1h-1zM6 6h1v1h-1zM7 7h1v1h-1zM8 8h1v1h-1zM9 9h1v1h-1zM10 10h1v1h-1zM11 11h1v1h-1zM12 12h1v1h-1zM13 13h1v1h-1zM14 14h1v1h-1zM15 15h1v1h-1zM16 16h1v1h-1zM17 17h1v1h-1zM18 18h1v1h-1zM19 19h1v1h-1zM20 20h1v1h-1zM21 21h1v1h-1zM22 22h1v1h-1zM23 23h1v1h-1zM24 24h1v1h-1zM25 25h1v1h-1zM26 26h1v1h-1zM27 27h1v1h-1zM28 28h1v1h-1zM29 29h1v1h-1zM30 30h1v1h-1zM31 31h1v1h-1zM32 32h1v1h-1zM33 33h1v1h-1zM34 34h1v1h-1zM35 35h1v1h-1zM36 36h1v1h-1zM37 37h1v1h-1zM38 38h1v1h-1zM39 39h1v1h-1zM40 40h1v1h-1zM41 41h1v1h-1zM42 42h1v1h-1zM43 43h1v1h-1zM44 44h1v1h-1zM45 45h1v1h-1zM46 46h1v1h-1zM47 47h1v1h-1zM48 48h1v1h-1zM49 49h1v1h-1zM50 50h1v1h-1zM51 51h1v1h-1zM52 52h1v1h-1zM53 53h1v1h-1zM54 54h1v1h-1zM55 55h1v1h-1zM56 56h1v1h-1zM57 57h1v1h-1zM58 58h1v1h-1zM59 59h1v1h-1zM60 60h1v1h-1zM61 61h1v1h-1zM62 62h1v1h-1zM63 63h1v1h-1zM64 64h1v1h-1zM65 65h1v1h-1zM66 66h1v1h-1zM67 67h1v1h-1z"/><path d="M0 65h68v0.25H0z" fill="#fff" fill-opacity="0.3"/></g><g transform="translate(1653,1434) scale(4)"><path fill="#00008b" d="M28 58h8v4h-8zM28 62h8v4h-8zM28 66h12v4h-12z"/><path fill="url(#q1)" d="M72 6h24v4h-24zM68 10h28v4h-28zM76 14h20v4h-20zM80 18h16v4h-16zM68 22h4v4h-4zM80 22h16v4h-16zM84 26h12v4h-12zM88 30h8v4h-8zM28 46h8v4h-8zM28 50h8v4h-8zM28 54h12v4h-12zM36 58h8v4h-8zM36 62h8v4h-8zM40 66h8v4h-8zM28 70h20v4h-20z"/><path fill="url(#q2)" d="M64 6h8v4h-8zM64 10h4v4h-4zM68 14h8v4h-8zM64 18h16v4h-16zM64 22h4v4h-4zM72 22h8v4h-8zM64 26h20v4h-20zM84 30h4v4h-4zM28 42h8v4h-8zM36 46h4v4h-4zM36 50h4v4h-4zM40 54h4v4h-4zM44 58h4v4h-4zM44 62h8v4h-8zM48 66h4v4h-4zM48 70h8v4h-8z"/><path fill="url(#q3)" d="M64 14h4v4h-4zM64 30h20v4h-20zM64 34h32v4h-32zM68 38h4v4h-4zM92 38h4v4h-4zM36 42h12v4h-12zM92 42h4v4h-4zM40 46h8v4h-8zM40 50h8v4h-8zM44 54h4v4h-4zM48 58h4v4h-4zM52 62h4v4h-4zM52 66h8v4h-8zM56 70h8v4h-8z"/><path fill="url(#q4)" d="M64 38h4v4h-4zM72 38h20v4h-20zM48 42h20v4h-20zM76 42h16v4h-16zM48 46h16v4h-16zM92 46h4v4h-4zM48 50h20v4h-20zM92 50h4v4h-4zM48 54h20v4h-20zM92 54h4v4h-4zM52 58h16v4h-16zM92 58h4v4h-4zM56 62h12v4h-12zM92 62h4v4h-4zM60 66h8v4h-8zM64 70h24v4h-24z"/><path fill="url(#q5)" d="M60 14h4v4h-4zM60 18h4v4h-4zM28 38h16v4h-16zM72 42h4v4h-4zM64 46h4v4h-4zM92 66h4v4h-4zM88 70h4v4h-4z"/><path fill="url(#q6)" d="M40 6h24v4h-24zM44 10h20v4h-20zM48 14h12v4h-12zM52 18h8v4h-8zM28 22h8v4h-8zM56 22h8v4h-8zM28 26h12v4h-12zM60 26h4v4h-4zM28 30h16v4h-16zM60 30h4v4h-4zM28 34h16v4h-16zM44 38h12v4h-12zM68 42h4v4h-4zM88 46h4v4h-4zM68 66h4v4h-4zM92 70h4v4h-4z"/><path fill="url(#q7)" d="M32 6h8v4h-8zM28 10h4v4h-4zM36 10h8v4h-8zM28 14h8v4h-8zM40 14h8v4h-8zM28 18h12v4h-12zM44 18h8v4h-8zM36 22h8v4h-8zM48 22h8v4h-8zM40 26h8v4h-8zM56 26h4v4h-4zM44 30h4v4h-4zM56 30h4v4h-4zM44 34h12v4h-12zM60 34h4v4h-4zM56 38h4v4h-4zM72 46h16v4h-16zM68 50h4v4h-4zM76 50h16v4h-16zM68 54h8v4h-8zM80 54h12v4h-12zM68 58h12v4h-12zM84 58h8v4h-8zM68 62h16v4h-16zM88 62h4v4h-4zM72 66h16v4h-16z"/><path fill="url(#q8)" d="M28 6h4v4h-4zM32 10h4v4h-4zM36 14h4v4h-4zM40 18h4v4h-4zM44 22h4v4h-4zM48 26h8v4h-8zM48 30h8v4h-8zM56 34h4v4h-4zM60 38h4v4h-4zM68 46h4v4h-4zM72 50h4v4h-4zM76 54h4v4h-4zM80 58h4v4h-4zM84 62h4v4h-4zM88 66h4v4h-4z"/></g><g transform="translate(1765,1458) scale(4)"><path fill="#d40000" d="M1 0h1v1h-1zM0 1h1v1h-1zM2 1h1v1h-1zM1 2h1v1h-1zM3 2h1v1h-1zM2 3h1v1h-1zM4 3h1v1h-1zM3 4h1v1h-1zM5 4h1v1h-1zM4 5h1v1h-1zM6 5h1v1h-1zM5 6h1v1h-1zM7 6h1v1h-1zM6 7h1v1h-1zM8 7h1v1h-1zM7 8h1v1h-1zM9 8h1v1h-1zM8 9h1v1h-1zM10 9h1v1h-1zM9 10h1v1h-1zM11 10h1v1h-1zM10 11h1v1h-1zM12 11h1v1h-1zM11 12h1v1h-1zM13 12h1v1h-1zM12 13h1v1h-1zM14 13h1v1h-1zM13 14h1v1h-1zM15 14h1v1h-1zM14 15h1v1h-1zM16 15h1v1h-1zM15 16h1v1h-1zM17 16h1v1h-1zM16 17h1v1h-1zM18 17h1v1h-1zM17 18h1v1h-1zM19 18h1v1h-1zM18 19h1v1h-1zM20 19h1v1h-1zM19 20h1v1h-1zM21 20h1v1h-1zM20 21h1v1h-1zM22 21h1v1h-1zM21 22h1v1h-1zM23 22h1v1h-1zM22 23h1v1h-1zM24 23h1v1h-1zM23 24h1v1h-1zM25 24h1v1h-1zM24 25h1v1h-1zM26 25h1v1h-1zM25 26h1v1h-1zM27 26h1v1h-1zM26 27h1v1h-1zM28 27h1v1h-1zM27 28h1v1h-1zM29 28h1v1h-1zM28 29h1v1h-1zM30 29h1v1h-1zM29 30h1v1h-1zM31 30h1v1h-1zM30 31h1v1h-1zM32 31h1v1h-1zM31 32h1v1h-1zM33 32h1v1h-1zM32 33h1v1h-1zM34 33h1v1h-1zM33 34h1v1h-1zM35 34h1v1h-1zM34 35h1v1h-1zM36 35h1v1h-1zM35 36h1v1h-1zM37 36h1v1h-1zM36 37h1v1h-1zM38 37h1v1h-1zM37 38h1v1h-1zM39 38h1v1h-1zM38 39h1v1h-1zM40 39h1v1h-1zM39 40h1v1h-1zM41 40h1v1h-1zM40 41h1v1h-1zM42 41h1v1h-1zM41 42h1v1h-1zM43 42h1v1h-1zM42 43h1v1h-1zM44 43h1v1h-1zM43 44h1v1h-1zM45 44h1v1h-1zM44 45h1v1h-1zM46 45h1v1h-1zM45 46h1v1h-1zM47 46h1v1h-1zM46 47h1v1h-1zM48 47h1v1h-1zM47 48h1v1h-1zM49 48h1v1h-1zM48 49h1v1h-1zM50 49h1v1h-1zM49 50h1v1h-1zM51 50h1v1h-1zM50 51h1v1h-1zM52 51h1v1h-1zM51 52h1v1h-1zM53 52h1v1h-1zM52 53h1v1h-1zM54 53h1v1h-1zM53 54h1v1h-1zM55 54h1v1h-1zM54 55h1v1h-1zM56 55h1v1h-1zM55 56h1v1h-1zM57 56h1v1h-1zM56 57h1v1h-1zM58 57h1v1h-1zM57 58h1v1h-1zM59 58h1v1h-1zM58 59h1v1h-1zM60 59h1v1h-1zM59 60h1v1h-1zM61 60h1v1h-1zM60 61h1v1h-1zM62 61h1v1h-1zM61 62h1v1h-1zM63 62h1v1h-1zM62 63h1v1h-1zM64 63h1v1h-1zM63 64h1v1h-1zM65 64h1v1h-1zM64 65h1v1h-1zM66 65h1v1h-1zM65 66h1v1h-1zM67 66h1v1h-1zM66 67h1v1h-1z"/><path fill="#fff" d="M0 0h1v1h-1zM1 1h1v1h-1zM2 2h1v1h-1zM3 3h1v1h-1zM4 4h1v1h-1zM5 5h1v1h-1zM6 6h1v1h-1zM7 7h1v1h-1zM8 8h1v1h-1zM9 9h1v1h-1zM10 10h1v1h-1zM11 11h1v1h-1zM12 12h1v1h-1zM13 13h1v1h-1zM14 14h1v1h-1zM15 15h1v1h-1zM16 16h1v1h-1zM17 17h1v1h-1zM18 18h1v1h-1zM19 19h1v1h-1zM20 20h1v1h-1zM21 21h1v1h-1zM22 22h1v1h-1zM23 23h1v1h-1zM24 24h1v1h-1zM25 25h1v1h-1zM26 26h1v1h-1zM27 27h1v1h-1zM28 28h1v1h-1zM29 29h1v1h-1zM30 30h1v1h-1zM31 31h1v1h-1zM32 32h1v1h-1zM33 33h1v1h-1zM34 34h1v1h-1zM35 35h1v1h-1zM36 36h1v1h-1zM37 37h1v1h-1zM38 38h1v1h-1zM39 39h1v1h-1zM40 40h1v1h-1zM41 41h1v1h-1zM42 42h1v1h-1zM43 43h1v1h-1zM44 44h1v1h-1zM45 45h1v1h-1zM46 46h1v1h-1zM47 47h1v1h-1zM48 48h1v1h-1zM49 49h1v1h-1zM50 50h1v1h-1zM51 51h1v1h-1zM52 52h1v1h-1zM53 53h1v1h-1zM54 54h1v1h-1zM55 55h1v1h-1zM56 56h1v1h-1zM57 57h1v1h-1zM58 58h1v1h-1zM59 59h1v1h-1zM60 60h1v1h-1zM61 61h1v1h-1zM62 62h1v1h-1zM63 63h1v1h-1zM64 64h1v1h-1zM65 65h1v1h-1zM66 66h1v1h-1zM67 67h1v1h-1z"/><path d="M0 65h68v0.25H0z" fill="#fff" fill-opacity="0.3"/></g><g transform="translate(21,1824) scale(4)"><path fill="#00008b" d="M72 26h16v4h-16zM92 26h4v4h-4zM28 58h28v4h-28zM28 62h28v4h-28zM28 70h28v4h-28z"/><path fill="url(#p1)" d="M68 6h20v4h-20zM92 6h4v4h-4zM68 10h20v4h-20zM92 10h4v4h-4zM68 14h20v4h-20zM92 14h4v4h-4zM68 18h20v4h-20zM92 18h4v4h-4zM68 22h20v4h-20zM92 22h4v4h-4zM68 26h4v4h-4zM88 26h4v4h-4zM28 46h28v4h-28zM28 50h28v4h-28zM28 54h28v4h-28zM28 66h28v4h-28zM56 70h4v4h-4z"/><path fill="url(#p2)" d="M88 6h4v4h-4zM88 10h4v4h-4zM88 14h4v4h-4zM88 18h4v4h-4zM88 22h4v4h-4zM28 42h24v4h-24zM60 70h24v4h-24z"/><path fill="url(#p3)" d="M92 30h4v4h-4zM92 34h4v4h-4zM92 38h4v4h-4zM84 70h4v4h-4z"/><path fill="url(#p4)" d="M60 14h8v4h-8zM60 18h8v4h-8zM76 30h16v4h-16zM88 34h4v4h-4zM88 38h4v4h-4zM52 42h4v4h-4zM56 66h4v4h-4zM88 70h4v4h-4z"/><path fill="url(#p5)" d="M60 10h8v4h-8zM56 14h4v4h-4zM56 18h4v4h-4zM60 22h8v4h-8zM60 26h8v4h-8zM36 30h4v4h-4zM68 30h8v4h-8zM28 34h20v4h-20zM76 34h12v4h-12zM28 38h24v4h-24zM76 38h12v4h-12zM92 42h4v4h-4zM88 46h8v4h-8zM56 54h4v4h-4zM56 58h4v4h-4zM56 62h4v4h-4zM60 66h12v4h-12z"/><path fill="url(#p6)" d="M48 6h4v4h-4zM56 6h12v4h-12zM48 10h4v4h-4zM56 10h4v4h-4zM48 14h4v4h-4zM52 18h4v4h-4zM56 22h4v4h-4zM28 26h4v4h-4zM40 26h4v4h-4zM56 26h4v4h-4zM28 30h8v4h-8zM40 30h8v4h-8zM48 34h4v4h-4zM68 34h8v4h-8zM52 38h4v4h-4zM68 38h8v4h-8zM76 42h16v4h-16zM56 46h8v4h-8zM80 46h8v4h-8zM56 50h8v4h-8zM80 50h4v4h-4zM88 50h8v4h-8zM60 54h4v4h-4zM92 54h4v4h-4zM60 58h8v4h-8zM92 58h4v4h-4zM60 62h8v4h-8zM92 62h4v4h-4zM72 66h12v4h-12zM92 66h4v4h-4zM92 70h4v4h-4z"/><path fill="url(#p7)" d="M28 6h20v4h-20zM52 6h4v4h-4zM28 10h4v4h-4zM36 10h12v4h-12zM52 10h4v4h-4zM28 14h8v4h-8zM40 14h8v4h-8zM52 14h4v4h-4zM28 18h12v4h-12zM44 18h8v4h-8zM28 22h16v4h-16zM48 22h8v4h-8zM32 26h8v4h-8zM44 26h4v4h-4zM52 26h4v4h-4zM48 30h4v4h-4zM60 30h8v4h-8zM52 34h4v4h-4zM64 34h4v4h-4zM56 38h4v4h-4zM64 38h4v4h-4zM56 42h8v4h-8zM68 42h8v4h-8zM64 46h4v4h-4zM72 46h8v4h-8zM64 50h8v4h-8zM76 50h4v4h-4zM84 50h4v4h-4zM64 54h12v4h-12zM80 54h12v4h-12zM68 58h12v4h-12zM84 58h8v4h-8zM68 62h16v4h-16zM88 62h4v4h-4zM84 66h4v4h-4z"/><path fill="url(#p8)" d="M32 10h4v4h-4zM36 14h4v4h-4zM40 18h4v4h-4zM44 22h4v4h-4zM48 26h4v4h-4zM52 30h8v4h-8zM56 34h8v4h-8zM60 38h4v4h-4zM64 42h4v4h-4zM68 46h4v4h-4zM72 50h4v4h-4zM76 54h4v4h-4zM80 58h4v4h-4zM84 62h4v4h-4zM88 66h4v4h-4z"/></g><g transform="translate(133,1848) scale(4)"><path fill="#00008b" d="M19 0h1V38h-1zM0 19H38v1H0zM33 25h1V68h-1zM25 33H68v1H25zM40 25h1V68h-1zM25 40H68v1H25zM46 25h1V68h-1zM25 46H68v1H25zM50 25h1V68h-1zM25 50H68v1H25zM55 25h1V68h-1zM25 55H68v1H25zM64 25h1V68h-1zM25 65H68v1H25z"/><path fill="url(#p6)" d="M0 61H38v1H0zM61 0h1V38h-1z"/><path fill="#d40000" d="M1 0h1v1h-1zM0 1h1v1h-1zM2 1h1v1h-1zM1 2h1v1h-1zM3 2h1v1h-1zM2 3h1v1h-1zM4 3h1v1h-1zM3 4h1v1h-1zM5 4h1v1h-1zM4 5h1v1h-1zM6 5h1v1h-1zM5 6h1v1h-1zM7 6h1v1h-1zM6 7h1v1h-1zM8 7h1v1h-1zM7 8h1v1h-1zM9 8h1v1h-1zM8 9h1v1h-1zM10 9h1v1h-1zM9 10h1v1h-1zM11 10h1v1h-1zM10 11h1v1h-1zM12 11h1v1h-1zM11 12h1v1h-1zM13 12h1v1h-1zM12 13h1v1h-1zM14 13h1v1h-1zM13 14h1v1h-1zM15 14h1v1h-1zM14 15h1v1h-1zM16 15h1v1h-1zM15 16h1v1h-1zM17 16h1v1h-1zM16 17h1v1h-1zM18 17h1v1h-1zM17 18h1v1h-1zM19 18h1v1h-1zM18 19h1v1h-1zM20 19h1v1h-1zM19 20h1v1h-1zM21 20h1v1h-1zM20 21h1v1h-1zM22 21h1v1h-1zM21 22h1v1h-1zM23 22h1v1h-1zM22 23h1v1h-1zM24 23h1v1h-1zM23 24h1v1h-1zM25 24h1v1h-1zM24 25h1v1h-1zM26 25h1v1h-1zM25 26h1v1h-1zM27 26h1v1h-1zM26 27h1v1h-1zM28 27h1v1h-1zM27 28h1v1h-1zM29 28h1v1h-1zM28 29h1v1h-1zM30 29h1v1h-1zM29 30h1v1h-1zM31 30h1v1h-1zM30 31h1v1h-1zM32 31h1v1h-1zM31 32h1v1h-1zM33 32h1v1h-1zM32 33h1v1h-1zM34 33h1v1h-1zM33 34h1v1h-1zM35 34h1v1h-1zM34 35h1v1h-1zM36 35h1v1h-1zM35 36h1v1h-1zM37 36h1v1h-1zM36 37h1v1h-1zM38 37h1v1h-1zM37 38h1v1h-1zM39 38h1v1h-1zM38 39h1v1h-1zM40 39h1v1h-1zM39 40h1v1h-1zM41 40h1v1h-1zM40 41h1v1h-1zM42 41h1v1h-1zM41 42h1v1h-1zM43 42h1v1h-1zM42 43h1v1h-1zM44 43h1v1h-1zM43 44h1v1h-1zM45 44h1v1h-1zM44 45h1v1h-1zM46 45h1v1h-1zM45 46h1v1h-1zM47 46h1v1h-1zM46 47h1v1h-1zM48 47h1v1h-1zM47 48h1v1h-1zM49 48h1v1h-1zM48 49h1v1h-1zM50 49h1v1h-1zM49 50h1v1h-1zM51 50h1v1h-1zM50 51h1v1h-1zM52 51h1v1h-1zM51 52h1v1h-1zM53 52h1v1h-1zM52 53h1v1h-1zM54 53h1v1h-1zM53 54h1v1h-1zM55 54h1v1h-1zM54 55h1v1h-1zM56 55h1v1h-1zM55 56h1v1h-1zM57 56h1v1h-1zM56 57h1v1h-1zM58 57h1v1h-1zM57 58h1v1h-1zM59 58h1v1h-1zM58 59h1v1h-1zM60 59h1v1h-1zM59 60h1v1h-1zM61 60h1v1h-1zM60 61h1v1h-1zM62 61h1v1h-1zM61 62h1v1h-1zM63 62h1v1h-1zM62 63h1v1h-1zM64 63h1v1h-1zM63 64h1v1h-1zM65 64h1v1h-1zM64 65h1v1h-1zM66 65h1v1h-1zM65 66h1v1h-1zM67 66h1v1h-1zM66 67h1v1h-1z"/><path fill="#fff" d="M0 0h1v1h-1zM1 1h1v1h-1zM2 2h1v1h-1zM3 3h1v1h-1zM4 4h1v1h-1zM5 5h1v1h-1zM6 6h1v1h-1zM7 7h1v1h-1zM8 8h1v1h-1zM9 9h1v1h-1zM10 10h1v1h-1zM11 11h1v1h-1zM12 12h1v1h-1zM13 13h1v1h-1zM14 14h1v1h-1zM15 15h1v1h-1zM16 16h1v1h-1zM17 17h1v1h-1zM18 18h1v1h-1zM19 19h1v1h-1zM20 20h1v1h-1zM21 21h1v1h-1zM22 22h1v1h-1zM23 23h1v1h-1zM24 24h1v1h-1zM25 25h1v1h-1zM26 26h1v1h-1zM27 27h1v1h-1zM28 28h1v1h-1zM29 29h1v1h-1zM30 30h1v1h-1zM31 31h1v1h-1zM32 32h1v1h-1zM33 33h1v1h-1zM34 34h1v1h-1zM35 35h1v1h-1zM36 36h1v1h-1zM37 37h1v1h-1zM38 38h1v1h-1zM39 39h1v1h-1zM40 40h1v1h-1zM41 41h1v1h-1zM42 42h1v1h-1zM43 43h1v1h-1zM44 44h1v1h-1zM45 45h1v1h-1zM46 46h1v1h-1zM47 47h1v1h-1zM48 48h1v1h-1zM49 49h1v1h-1zM50 50h1v1h-1zM51 51h1v1h-1zM52 52h1v1h-1zM53 53h1v1h-1zM54 54h1v1h-1zM55 55h1v1h-1zM56 56h1v1h-1zM57 57h1v1h-1zM58 58h1v1h-1zM59 59h1v1h-1zM60 60h1v1h-1zM61 61h1v1h-1zM62 62h1v1h-1zM63 63h1v1h-1zM64 64h1v1h-1zM65 65h1v1h-1zM66 66h1v1h-1zM67 67h1v1h-1z"/><path d="M0 65h68v0.25H0z" fill="#fff" fill-opacity="0.3"/></g><g transform="translate(323,1816) scale(4)"><path fill="#00008b" d="M25 72h8v4h-8z"/><path fill="url(#q1)" d="M85 8h8v4h-8zM81 12h12v4h-12zM85 16h8v4h-8zM89 20h4v4h-4zM89 24h4v4h-4zM25 60h4v4h-4zM25 64h12v4h-12zM25 68h16v4h-16zM33 72h12v4h-12z"/><path fill="url(#q2)" d="M69 8h16v4h-16zM69 12h12v4h-12zM73 16h12v4h-12zM77 20h12v4h-12zM73 24h16v4h-16zM73 28h20v4h-20zM25 48h4v4h-4zM25 52h12v4h-12zM25 56h16v4h-16zM29 60h16v4h-16zM37 64h8v4h-8zM41 68h8v4h-8zM45 72h4v4h-4z"/><path fill="url(#q3)" d="M65 8h4v4h-4zM65 12h4v4h-4zM69 16h4v4h-4zM73 20h4v4h-4zM69 24h4v4h-4zM69 28h4v4h-4zM81 32h12v4h-12zM29 48h16v4h-16zM37 52h12v4h-12zM41 56h8v4h-8zM45 60h4v4h-4zM45 64h4v4h-4zM49 68h4v4h-4zM49 72h8v4h-8z"/><path fill="url(#q4)" d="M65 16h4v4h-4zM69 20h4v4h-4zM65 24h4v4h-4zM69 32h12v4h-12zM85 36h8v4h-8zM45 48h4v4h-4zM49 56h4v4h-4zM49 60h4v4h-4zM49 64h4v4h-4zM53 68h4v4h-4zM57 72h4v4h-4z"/><path fill="url(#q5)" d="M57 8h8v4h-8zM57 12h8v4h-8zM61 16h4v4h-4zM65 20h4v4h-4zM65 28h4v4h-4zM25 32h4v4h-4zM65 32h4v4h-4zM25 36h4v4h-4zM69 36h16v4h-16zM25 40h8v4h-8zM77 40h16v4h-16zM25 44h8v4h-8zM85 44h8v4h-8zM49 48h4v4h-4zM89 48h4v4h-4zM49 52h4v4h-4zM53 56h4v4h-4zM53 60h4v4h-4zM53 64h8v4h-8zM57 68h4v4h-4zM61 72h4v4h-4z"/><path fill="url(#q6)" d="M41 8h16v4h-16zM45 12h12v4h-12zM49 16h12v4h-12zM25 20h4v4h-4zM53 20h12v4h-12zM25 24h4v4h-4zM53 24h12v4h-12zM25 28h8v4h-8zM57 28h8v4h-8zM29 32h8v4h-8zM29 36h16v4h-16zM65 36h4v4h-4zM33 40h16v4h-16zM69 40h8v4h-8zM33 44h16v4h-16zM73 44h12v4h-12zM53 48h4v4h-4zM81 48h8v4h-8zM53 52h4v4h-4zM85 52h8v4h-8zM57 56h4v4h-4zM57 60h8v4h-8zM61 64h4v4h-4zM61 68h8v4h-8zM65 72h8v4h-8z"/><path fill="url(#q7)" d="M29 8h12v4h-12zM25 12h4v4h-4zM33 12h12v4h-12zM25 16h8v4h-8zM37 16h12v4h-12zM29 20h8v4h-8zM41 20h12v4h-12zM29 24h12v4h-12zM45 24h8v4h-8zM33 28h12v4h-12zM53 28h4v4h-4zM37 32h12v4h-12zM57 32h8v4h-8zM45 36h4v4h-4zM61 36h4v4h-4zM49 40h4v4h-4zM65 40h4v4h-4zM49 44h8v4h-8zM69 44h4v4h-4zM57 48h4v4h-4zM73 48h8v4h-8zM57 52h8v4h-8zM77 52h8v4h-8zM61 56h8v4h-8zM81 56h12v4h-12zM65 60h8v4h-8zM85 60h8v4h-8zM65 64h12v4h-12zM89 64h4v4h-4zM69 68h12v4h-12zM73 72h8v4h-8z"/><path fill="url(#q8)" d="M25 8h4v4h-4zM29 12h4v4h-4zM33 16h4v4h-4zM37 20h4v4h-4zM41 24h4v4h-4zM45 28h8v4h-8zM49 32h8v4h-8zM49 36h12v4h-12zM53 40h12v4h-12zM57 44h12v4h-12zM61 48h12v4h-12zM65 52h12v4h-12zM69 56h12v4h-12zM73 60h12v4h-12zM77 64h12v4h-12zM81 68h12v4h-12zM81 72h12v4h-12z"/></g><g transform="translate(423,1848) scale(4)"><path fill="#d40000" d="M1 0h1v1h-1zM0 1h1v1h-1zM2 1h1v1h-1zM1 2h1v1h-1zM3 2h1v1h-1zM2 3h1v1h-1zM4 3h1v1h-1zM3 4h1v1h-1zM5 4h1v1h-1zM4 5h1v1h-1zM6 5h1v1h-1zM5 6h1v1h-1zM7 6h1v1h-1zM6 7h1v1h-1zM8 7h1v1h-1zM7 8h1v1h-1zM9 8h1v1h-1zM8 9h1v1h-1zM10 9h1v1h-1zM9 10h1v1h-1zM11 10h1v1h-1zM10 11h1v1h-1zM12 11h1v1h-1zM11 12h1v1h-1zM13 12h1v1h-1zM12 13h1v1h-1zM14 13h1v1h-1zM13 14h1v1h-1zM15 14h1v1h-1zM14 15h1v1h-1zM16 15h1v1h-1zM15 16h1v1h-1zM17 16h1v1h-1zM16 17h1v1h-1zM18 17h1v1h-1zM17 18h1v1h-1zM19 18h1v1h-1zM18 19h1v1h-1zM20 19h1v1h-1zM19 20h1v1h-1zM21 20h1v1h-1zM20 21h1v1h-1zM22 21h1v1h-1zM21 22h1v1h-1zM23 22h1v1h-1zM22 23h1v1h-1zM24 23h1v1h-1zM23 24h1v1h-1zM25 24h1v1h-1zM24 25h1v1h-1zM26 25h1v1h-1zM25 26h1v1h-1zM27 26h1v1h-1zM26 27h1v1h-1zM28 27h1v1h-1zM27 28h1v1h-1zM29 28h1v1h-1zM28 29h1v1h-1zM30 29h1v1h-1zM29 30h1v1h-1zM31 30h1v1h-1zM30 31h1v1h-1zM32 31h1v1h-1zM31 32h1v1h-1zM33 32h1v1h-1zM32 33h1v1h-1zM34 33h1v1h-1zM33 34h1v1h-1zM35 34h1v1h-1zM34 35h1v1h-1zM36 35h1v1h-1zM35 36h1v1h-1zM37 36h1v1h-1zM36 37h1v1h-1zM38 37h1v1h-1zM37 38h1v1h-1zM39 38h1v1h-1zM38 39h1v1h-1zM40 39h1v1h-1zM39 40h1v1h-1zM41 40h1v1h-1zM40 41h1v1h-1zM42 41h1v1h-1zM41 42h1v1h-1zM43 42h1v1h-1zM42 43h1v1h-1zM44 43h1v1h-1zM43 44h1v1h-1zM45 44h1v1h-1zM44 45h1v1h-1zM46 45h1v1h-1zM45 46h1v1h-1zM47 46h1v1h-1zM46 47h1v1h-1zM48 47h1v1h-1zM47 48h1v1h-1zM49 48h1v1h-1zM48 49h1v1h-1zM50 49h1v1h-1zM49 50h1v1h-1zM51 50h1v1h-1zM50 51h1v1h-1zM52 51h1v1h-1zM51 52h1v1h-1zM53 52h1v1h-1zM52 53h1v1h-1zM54 53h1v1h-1zM53 54h1v1h-1zM55 54h1v1h-1zM54 55h1v1h-1zM56 55h1v1h-1zM55 56h1v1h-1zM57 56h1v1h-1zM56 57h1v1h-1zM58 57h1v1h-1zM57 58h1v1h-1zM59 58h1v1h-1zM58 59h1v1h-1zM60 59h1v1h-1zM59 60h1v1h-1zM61 60h1v1h-1zM60 61h1v1h-1zM62 61h1v1h-1zM61 62h1v1h-1zM63 62h1v1h-1zM62 63h1v1h-1zM64 63h1v1h-1zM63 64h1v1h-1zM65 64h1v1h-1zM64 65h1v1h-1zM66 65h1v1h-1zM65 66h1v1h-1zM67 66h1v1h-1zM66 67h1v1h-1z"/><path fill="#fff" d="M0 0h1v1h-1zM1 1h1v1h-1zM2 2h1v1h-1zM3 3h1v1h-1zM4 4h1v1h-1zM5 5h1v1h-1zM6 6h1v1h-1zM7 7h1v1h-1zM8 8h1v1h-1zM9 9h1v1h-1zM10 10h1v1h-1zM11 11h1v1h-1zM12 12h1v1h-1zM13 13h1v1h-1zM14 14h1v1h-1zM15 15h1v1h-1zM16 16h1v1h-1zM17 17h1v1h-1zM18 18h1v1h-1zM19 19h1v1h-1zM20 20h1v1h-1zM21 21h1v1h-1zM22 22h1v1h-1zM23 23h1v1h-1zM24 24h1v1h-1zM25 25h1v1h-1zM26 26h1v1h-1zM27 27h1v1h-1zM28 28h1v1h-1zM29 29h1v1h-1zM30 30h1v1h-1zM31 31h1v1h-1zM32 32h1v1h-1zM33 33h1v1h-1zM34 34h1v1h-1zM35 35h1v1h-1zM36 36h1v1h-1zM37 37h1v1h-1zM38 38h1v1h-1zM39 39h1v1h-1zM40 40h1v1h-1zM41 41h1v1h-1zM42 42h1v1h-1zM43 43h1v1h-1zM44 44h1v1h-1zM45 45h1v1h-1zM46 46h1v1h-1zM47 47h1v1h-1zM48 48h1v1h-1zM49 49h1v1h-1zM50 50h1v1h-1zM51 51h1v1h-1zM52 52h1v1h-1zM53 53h1v1h-1zM54 54h1v1h-1zM55 55h1v1h-1zM56 56h1v1h-1zM57 57h1v1h-1zM58 58h1v1h-1zM59 59h1v1h-1zM60 60h1v1h-1zM61 61h1v1h-1zM62 62h1v1h-1zM63 63h1v1h-1zM64 64h1v1h-1zM65 65h1v1h-1zM66 66h1v1h-1zM67 67h1v1h-1z"/><path d="M0 65h68v0.25H0z" fill="#fff" fill-opacity="0.3"/></g><g transform="translate(687,1736) scale(4)"><path fill="#00008b" d="M81 28h16v4h-16zM81 32h16v4h-16zM81 36h16v4h-16zM81 40h16v4h-16zM81 44h16v4h-16zM81 48h16v4h-16zM81 52h16v4h-16zM81 56h16v4h-16zM29 80h32v4h-32zM29 84h32v4h-32zM29 88h32v4h-32zM29 92h32v4h-32z"/><path fill="url(#p1)" d="M61 28h8v4h-8zM61 32h8v4h-8zM61 36h8v4h-8zM61 40h8v4h-8zM61 44h8v4h-8zM61 48h8v4h-8zM61 52h8v4h-8zM65 56h4v4h-4zM81 60h16v4h-16zM81 68h16v4h-16zM81 72h16v4h-16zM29 76h32v4h-32zM65 80h12v4h-12zM65 84h12v4h-12zM65 88h12v4h-12zM65 92h12v4h-12z"/><path fill="url(#p2)" d="M77 28h4v4h-4zM77 32h4v4h-4zM77 36h4v4h-4zM77 40h4v4h-4zM77 44h4v4h-4zM77 48h4v4h-4zM77 52h4v4h-4zM61 56h4v4h-4zM77 56h4v4h-4zM29 64h28v4h-28zM81 64h16v4h-16zM45 72h4v4h-4zM61 80h4v4h-4zM61 84h4v4h-4zM61 88h4v4h-4zM61 92h4v4h-4z"/><path fill="url(#p3)" d="M69 28h8v4h-8zM69 32h8v4h-8zM69 36h8v4h-8zM69 40h8v4h-8zM69 44h8v4h-8zM69 48h8v4h-8zM69 52h8v4h-8zM69 56h8v4h-8zM29 60h24v4h-24zM57 64h4v4h-4zM29 68h32v4h-32zM77 68h4v4h-4zM29 72h16v4h-16zM49 72h12v4h-12zM77 72h4v4h-4z"/><path fill="url(#p4)" d="M53 60h4v4h-4zM77 64h4v4h-4zM61 76h4v4h-4zM69 76h8v4h-8zM77 80h4v4h-4zM77 92h4v4h-4z"/><path fill="url(#p5)" d="M57 28h4v4h-4zM57 32h4v4h-4zM57 36h4v4h-4zM57 40h4v4h-4zM57 44h4v4h-4zM57 48h4v4h-4zM57 60h4v4h-4zM65 60h4v4h-4zM77 60h4v4h-4zM61 68h4v4h-4zM61 72h4v4h-4zM65 76h4v4h-4zM77 76h4v4h-4zM85 76h4v4h-4zM77 84h4v4h-4zM77 88h4v4h-4zM81 92h4v4h-4z"/><path fill="url(#p6)" d="M41 28h4v4h-4zM41 32h4v4h-4zM41 36h4v4h-4zM29 40h12v4h-12zM57 52h4v4h-4zM29 56h32v4h-32zM61 60h4v4h-4zM69 60h8v4h-8zM61 64h4v4h-4zM69 64h8v4h-8zM65 68h4v4h-4zM65 72h4v4h-4zM81 76h4v4h-4zM89 76h8v4h-8zM81 84h4v4h-4zM81 88h4v4h-4zM85 92h4v4h-4z"/><path fill="url(#p7)" d="M29 28h12v4h-12zM45 28h12v4h-12zM29 32h4v4h-4zM37 32h4v4h-4zM45 32h12v4h-12zM29 36h8v4h-8zM45 36h12v4h-12zM41 40h16v4h-16zM29 44h16v4h-16zM53 44h4v4h-4zM29 48h16v4h-16zM29 52h16v4h-16zM65 64h4v4h-4zM73 68h4v4h-4zM85 80h12v4h-12zM89 92h4v4h-4z"/><path fill="url(#p8)" d="M33 32h4v4h-4zM37 36h4v4h-4zM45 44h8v4h-8zM45 48h12v4h-12zM45 52h12v4h-12zM69 68h4v4h-4zM69 72h8v4h-8zM81 80h4v4h-4zM85 84h12v4h-12zM85 88h12v4h-12zM93 92h4v4h-4z"/></g><g transform="translate(803,1848) scale(4)"><path fill="#00008b" d="M14 0h1V29h-1zM0 14H29v1H0zM55 50h1V68h-1zM50 55H68v1H50zM40 34h1V52h-1zM34 40H52v1H34z"/><path fill="#d40000" d="M1 0h1v1h-1zM0 1h1v1h-1zM2 1h1v1h-1zM1 2h1v1h-1zM3 2h1v1h-1zM2 3h1v1h-1zM4 3h1v1h-1zM3 4h1v1h-1zM5 4h1v1h-1zM4 5h1v1h-1zM6 5h1v1h-1zM5 6h1v1h-1zM7 6h1v1h-1zM6 7h1v1h-1zM8 7h1v1h-1zM7 8h1v1h-1zM9 8h1v1h-1zM8 9h1v1h-1zM10 9h1v1h-1zM9 10h1v1h-1zM11 10h1v1h-1zM10 11h1v1h-1zM12 11h1v1h-1zM11 12h1v1h-1zM13 12h1v1h-1zM12 13h1v1h-1zM14 13h1v1h-1zM13 14h1v1h-1zM15 14h1v1h-1zM14 15h1v1h-1zM16 15h1v1h-1zM15 16h1v1h-1zM17 16h1v1h-1zM16 17h1v1h-1zM18 17h1v1h-1zM17 18h1v1h-1zM19 18h1v1h-1zM18 19h1v1h-1zM20 19h1v1h-1zM19 20h1v1h-1zM21 20h1v1h-1zM20 21h1v1h-1zM22 21h1v1h-1zM21 22h1v1h-1zM23 22h1v1h-1zM22 23h1v1h-1zM24 23h1v1h-1zM23 24h1v1h-1zM25 24h1v1h-1zM24 25h1v1h-1zM26 25h1v1h-1zM25 26h1v1h-1zM27 26h1v1h-1zM26 27h1v1h-1zM28 27h1v1h-1zM27 28h1v1h-1zM29 28h1v1h-1zM28 29h1v1h-1zM30 29h1v1h-1zM29 30h1v1h-1zM31 30h1v1h-1zM30 31h1v1h-1zM32 31h1v1h-1zM31 32h1v1h-1zM33 32h1v1h-1zM32 33h1v1h-1zM34 33h1v1h-1zM33 34h1v1h-1zM35 34h1v1h-1zM34 35h1v1h-1zM36 35h1v1h-1zM35 36h1v1h-1zM37 36h1v1h-1zM36 37h1v1h-1zM38 37h1v1h-1zM37 38h1v1h-1zM39 38h1v1h-1zM38 39h1v1h-1zM40 39h1v1h-1zM39 40h1v1h-1zM41 40h1v1h-1zM40 41h1v1h-1zM42 41h1v1h-1zM41 42h1v1h-1zM43 42h1v1h-1zM42 43h1v1h-1zM44 43h1v1h-1zM43 44h1v1h-1zM45 44h1v1h-1zM44 45h1v1h-1zM46 45h1v1h-1zM45 46h1v1h-1zM47 46h1v1h-1zM46 47h1v1h-1zM48 47h1v1h-1zM47 48h1v1h-1zM49 48h1v1h-1zM48 49h1v1h-1zM50 49h1v1h-1zM49 50h1v1h-1zM51 50h1v1h-1zM50 51h1v1h-1zM52 51h1v1h-1zM51 52h1v1h-1zM53 52h1v1h-1zM52 53h1v1h-1zM54 53h1v1h-1zM53 54h1v1h-1zM55 54h1v1h-1zM54 55h1v1h-1zM56 55h1v1h-1zM55 56h1v1h-1zM57 56h1v1h-1zM56 57h1v1h-1zM58 57h1v1h-1zM57 58h1v1h-1zM59 58h1v1h-1zM58 59h1v1h-1zM60 59h1v1h-1zM59 60h1v1h-1zM61 60h1v1h-1zM60 61h1v1h-1zM62 61h1v1h-1zM61 62h1v1h-1zM63 62h1v1h-1zM62 63h1v1h-1zM64 63h1v1h-1zM63 64h1v1h-1zM65 64h1v1h-1zM64 65h1v1h-1zM66 65h1v1h-1zM65 66h1v1h-1zM67 66h1v1h-1zM66 67h1v1h-1z"/><path fill="#fff" d="M0 0h1v1h-1zM1 1h1v1h-1zM2 2h1v1h-1zM3 3h1v1h-1zM4 4h1v1h-1zM5 5h1v1h-1zM6 6h1v1h-1zM7 7h1v1h-1zM8 8h1v1h-1zM9 9h1v1h-1zM10 10h1v1h-1zM11 11h1v1h-1zM12 12h1v1h-1zM13 13h1v1h-1zM14 14h1v1h-1zM15 15h1v1h-1zM16 16h1v1h-1zM17 17h1v1h-1zM18 18h1v1h-1zM19 19h1v1h-1zM20 20h1v1h-1zM21 21h1v1h-1zM22 22h1v1h-1zM23 23h1v1h-1zM24 24h1v1h-1zM25 25h1v1h-1zM26 26h1v1h-1zM27 27h1v1h-1zM28 28h1v1h-1zM29 29h1v1h-1zM30 30h1v1h-1zM31 31h1v1h-1zM32 32h1v1h-1zM33 33h1v1h-1zM34 34h1v1h-1zM35 35h1v1h-1zM36 36h1v1h-1zM37 37h1v1h-1zM38 38h1v1h-1zM39 39h1v1h-1zM40 40h1v1h-1zM41 41h1v1h-1zM42 42h1v1h-1zM43 43h1v1h-1zM44 44h1v1h-1zM45 45h1v1h-1zM46 46h1v1h-1zM47 47h1v1h-1zM48 48h1v1h-1zM49 49h1v1h-1zM50 50h1v1h-1zM51 51h1v1h-1zM52 52h1v1h-1zM53 53h1v1h-1zM54 54h1v1h-1zM55 55h1v1h-1zM56 56h1v1h-1zM57 57h1v1h-1zM58 58h1v1h-1zM59 59h1v1h-1zM60 60h1v1h-1zM61 61h1v1h-1zM62 62h1v1h-1zM63 63h1v1h-1zM64 64h1v1h-1zM65 65h1v1h-1zM66 66h1v1h-1zM67 67h1v1h-1z"/><path d="M0 65h68v0.25H0z" fill="#fff" fill-opacity="0.3"/></g><g transform="translate(1046,1768) scale(4)"><path fill="#00008b" d="M16 80h4v4h-4zM12 84h20v4h-20z"/><path fill="url(#q1)" d="M52 20h4v4h-4zM60 20h20v4h-20zM60 24h20v4h-20zM64 28h16v4h-16zM68 32h12v4h-12zM68 36h12v4h-12zM64 40h16v4h-16zM12 68h8v4h-8zM12 72h16v4h-16zM12 76h20v4h-20zM12 80h4v4h-4zM20 80h16v4h-16zM32 84h4v4h-4z"/><path fill="url(#q2)" d="M48 20h4v4h-4zM56 20h4v4h-4zM48 24h12v4h-12zM48 28h8v4h-8zM60 28h4v4h-4zM48 32h20v4h-20zM48 36h8v4h-8zM64 36h4v4h-4zM48 40h16v4h-16zM48 44h32v4h-32zM52 48h4v4h-4zM12 56h8v4h-8zM12 60h8v4h-8zM68 60h8v4h-8zM12 64h12v4h-12zM20 68h12v4h-12zM28 72h8v4h-8zM32 76h4v4h-4zM52 76h4v4h-4zM36 80h4v4h-4zM36 84h4v4h-4z"/><path fill="url(#q3)" d="M56 28h4v4h-4zM56 36h8v4h-8zM48 48h4v4h-4zM56 48h24v4h-24zM64 52h16v4h-16zM20 56h16v4h-16zM64 56h16v4h-16zM20 60h20v4h-20zM64 60h4v4h-4zM76 60h4v4h-4zM24 64h20v4h-20zM64 64h12v4h-12zM32 68h16v4h-16zM36 72h4v4h-4zM44 72h4v4h-4zM36 76h4v4h-4zM44 76h8v4h-8zM56 76h4v4h-4zM40 80h20v4h-20zM40 84h20v4h-20z"/><path fill="url(#q4)" d="M44 20h4v4h-4zM44 24h4v4h-4zM44 28h4v4h-4zM44 32h4v4h-4zM44 36h4v4h-4zM44 40h4v4h-4zM52 52h12v4h-12zM36 56h4v4h-4zM40 60h8v4h-8zM44 64h4v4h-4zM76 64h4v4h-4zM64 68h16v4h-16zM40 72h4v4h-4zM48 72h12v4h-12zM40 76h4v4h-4zM60 76h4v4h-4zM60 80h4v4h-4zM60 84h4v4h-4z"/><path fill="url(#q5)" d="M44 44h4v4h-4zM12 52h16v4h-16zM48 52h4v4h-4zM40 56h4v4h-4zM52 56h12v4h-12zM60 72h4v4h-4z"/><path fill="url(#q6)" d="M28 20h12v4h-12zM32 24h8v4h-8zM32 28h12v4h-12zM12 32h4v4h-4zM36 32h8v4h-8zM12 36h8v4h-8zM40 36h4v4h-4zM12 40h12v4h-12zM12 44h16v4h-16zM12 48h16v4h-16zM44 48h4v4h-4zM28 52h8v4h-8zM44 56h4v4h-4z"/><path fill="url(#q7)" d="M12 20h16v4h-16zM40 20h4v4h-4zM12 24h4v4h-4zM20 24h12v4h-12zM40 24h4v4h-4zM12 28h8v4h-8zM24 28h8v4h-8zM16 32h8v4h-8zM28 32h8v4h-8zM20 36h8v4h-8zM32 36h8v4h-8zM24 40h8v4h-8zM36 40h8v4h-8zM28 44h8v4h-8zM28 48h8v4h-8zM36 52h4v4h-4zM48 56h4v4h-4zM60 60h4v4h-4zM48 64h4v4h-4zM48 68h4v4h-4zM68 72h12v4h-12zM64 76h4v4h-4zM72 76h8v4h-8zM64 80h8v4h-8zM76 80h4v4h-4zM64 84h12v4h-12z"/><path fill="url(#q8)" d="M16 24h4v4h-4zM20 28h4v4h-4zM24 32h4v4h-4zM28 36h4v4h-4zM32 40h4v4h-4zM36 44h8v4h-8zM36 48h8v4h-8zM40 52h8v4h-8zM48 60h12v4h-12zM52 64h12v4h-12zM52 68h12v4h-12zM64 72h4v4h-4zM68 76h4v4h-4zM72 80h4v4h-4zM76 84h4v4h-4z"/></g><g transform="translate(1094,1848) scale(4)"><path fill="#d40000" d="M1 0h1v1h-1zM0 1h1v1h-1zM2 1h1v1h-1zM1 2h1v1h-1zM3 2h1v1h-1zM2 3h1v1h-1zM4 3h1v1h-1zM3 4h1v1h-1zM5 4h1v1h-1zM4 5h1v1h-1zM6 5h1v1h-1zM5 6h1v1h-1zM7 6h1v1h-1zM6 7h1v1h-1zM8 7h1v1h-1zM7 8h1v1h-1zM9 8h1v1h-1zM8 9h1v1h-1zM10 9h1v1h-1zM9 10h1v1h-1zM11 10h1v1h-1zM10 11h1v1h-1zM12 11h1v1h-1zM11 12h1v1h-1zM13 12h1v1h-1zM12 13h1v1h-1zM14 13h1v1h-1zM13 14h1v1h-1zM15 14h1v1h-1zM14 15h1v1h-1zM16 15h1v1h-1zM15 16h1v1h-1zM17 16h1v1h-1zM16 17h1v1h-1zM18 17h1v1h-1zM17 18h1v1h-1zM19 18h1v1h-1zM18 19h1v1h-1zM20 19h1v1h-1zM19 20h1v1h-1zM21 20h1v1h-1zM20 21h1v1h-1zM22 21h1v1h-1zM21 22h1v1h-1zM23 22h1v1h-1zM22 23h1v1h-1zM24 23h1v1h-1zM23 24h1v1h-1zM25 24h1v1h-1zM24 25h1v1h-1zM26 25h1v1h-1zM25 26h1v1h-1zM27 26h1v1h-1zM26 27h1v1h-1zM28 27h1v1h-1zM27 28h1v1h-1zM29 28h1v1h-1zM28 29h1v1h-1zM30 29h1v1h-1zM29 30h1v1h-1zM31 30h1v1h-1zM30 31h1v1h-1zM32 31h1v1h-1zM31 32h1v1h-1zM33 32h1v1h-1zM32 33h1v1h-1zM34 33h1v1h-1zM33 34h1v1h-1zM35 34h1v1h-1zM34 35h1v1h-1zM36 35h1v1h-1zM35 36h1v1h-1zM37 36h1v1h-1zM36 37h1v1h-1zM38 37h1v1h-1zM37 38h1v1h-1zM39 38h1v1h-1zM38 39h1v1h-1zM40 39h1v1h-1zM39 40h1v1h-1zM41 40h1v1h-1zM40 41h1v1h-1zM42 41h1v1h-1zM41 42h1v1h-1zM43 42h1v1h-1zM42 43h1v1h-1zM44 43h1v1h-1zM43 44h1v1h-1zM45 44h1v1h-1zM44 45h1v1h-1zM46 45h1v1h-1zM45 46h1v1h-1zM47 46h1v1h-1zM46 47h1v1h-1zM48 47h1v1h-1zM47 48h1v1h-1zM49 48h1v1h-1zM48 49h1v1h-1zM50 49h1v1h-1zM49 50h1v1h-1zM51 50h1v1h-1zM50 51h1v1h-1zM52 51h1v1h-1zM51 52h1v1h-1zM53 52h1v1h-1zM52 53h1v1h-1zM54 53h1v1h-1zM53 54h1v1h-1zM55 54h1v1h-1zM54 55h1v1h-1zM56 55h1v1h-1zM55 56h1v1h-1zM57 56h1v1h-1zM56 57h1v1h-1zM58 57h1v1h-1zM57 58h1v1h-1zM59 58h1v1h-1zM58 59h1v1h-1zM60 59h1v1h-1zM59 60h1v1h-1zM61 60h1v1h-1zM60 61h1v1h-1zM62 61h1v1h-1zM61 62h1v1h-1zM63 62h1v1h-1zM62 63h1v1h-1zM64 63h1v1h-1zM63 64h1v1h-1zM65 64h1v1h-1zM64 65h1v1h-1zM66 65h1v1h-1zM65 66h1v1h-1zM67 66h1v1h-1zM66 67h1v1h-1z"/><path fill="#fff" d="M0 0h1v1h-1zM1 1h1v1h-1zM2 2h1v1h-1zM3 3h1v1h-1zM4 4h1v1h-1zM5 5h1v1h-1zM6 6h1v1h-1zM7 7h1v1h-1zM8 8h1v1h-1zM9 9h1v1h-1zM10 10h1v1h-1zM11 11h1v1h-1zM12 12h1v1h-1zM13 13h1v1h-1zM14 14h1v1h-1zM15 15h1v1h-1zM16 16h1v1h-1zM17 17h1v1h-1zM18 18h1v1h-1zM19 19h1v1h-1zM20 20h1v1h-1zM21 21h1v1h-1zM22 22h1v1h-1zM23 23h1v1h-1zM24 24h1v1h-1zM25 25h1v1h-1zM26 26h1v1h-1zM27 27h1v1h-1zM28 28h1v1h-1zM29 29h1v1h-1zM30 30h1v1h-1zM31 31h1v1h-1zM32 32h1v1h-1zM33 33h1v1h-1zM34 34h1v1h-1zM35 35h1v1h-1zM36 36h1v1h-1zM37 37h1v1h-1zM38 38h1v1h-1zM39 39h1v1h-1zM40 40h1v1h-1zM41 41h1v1h-1zM42 42h1v1h-1zM43 43h1v1h-1zM44 44h1v1h-1zM45 45h1v1h-1zM46 46h1v1h-1zM47 47h1v1h-1zM48 48h1v1h-1zM49 49h1v1h-1zM50 50h1v1h-1zM51 51h1v1h-1zM52 52h1v1h-1zM53 53h1v1h-1zM54 54h1v1h-1zM55 55h1v1h-1zM56 56h1v1h-1zM57 57h1v1h-1zM58 58h1v1h-1zM59 59h1v1h-1zM60 60h1v1h-1zM61 61h1v1h-1zM62 62h1v1h-1zM63 63h1v1h-1zM64 64h1v1h-1zM65 65h1v1h-1zM66 66h1v1h-1zM67 67h1v1h-1z"/><path d="M0 65h68v0.25H0z" fill="#fff" fill-opacity="0.3"/></g><g transform="translate(1457,1724) scale(4)"><path fill="url(#p1)" d="M68 31h4v4h-4zM68 35h4v4h-4zM68 39h4v4h-4zM68 43h4v4h-4zM68 47h4v4h-4zM68 51h4v4h-4zM68 55h4v4h-4zM68 59h4v4h-4zM68 63h4v4h-4zM68 67h4v4h-4zM68 71h4v4h-4zM68 75h4v4h-4zM68 79h4v4h-4zM68 83h4v4h-4zM68 87h4v4h-4zM68 91h4v4h-4zM4 95h16v4h-16zM68 95h4v4h-4z"/><path fill="url(#p2)" d="M20 95h16v4h-16zM40 95h4v4h-4z"/><path fill="url(#p3)" d="M64 35h4v4h-4zM36 43h32v4h-32zM36 95h4v4h-4zM44 95h24v4h-24z"/><path fill="url(#p4)" d="M16 31h4v4h-4zM44 31h16v4h-16zM64 31h4v4h-4zM44 35h20v4h-20zM64 39h4v4h-4zM4 43h12v4h-12zM16 59h4v4h-4zM16 63h4v4h-4zM16 67h4v4h-4zM16 71h4v4h-4zM4 75h4v4h-4zM16 75h4v4h-4zM4 79h16v4h-16zM16 83h4v4h-4zM16 87h4v4h-4zM4 91h16v4h-16z"/><path fill="url(#p5)" d="M40 31h4v4h-4zM60 31h4v4h-4zM16 35h4v4h-4zM16 39h4v4h-4zM40 39h24v4h-24zM16 43h4v4h-4zM32 43h4v4h-4zM12 47h8v4h-8zM64 47h4v4h-4zM12 51h8v4h-8zM64 51h4v4h-4zM12 55h8v4h-8zM64 55h4v4h-4zM64 59h4v4h-4zM64 63h4v4h-4zM4 67h12v4h-12zM64 67h4v4h-4zM4 71h12v4h-12zM64 71h4v4h-4zM8 75h8v4h-8zM64 75h4v4h-4zM20 79h4v4h-4zM4 83h12v4h-12zM4 87h12v4h-12zM20 91h8v4h-8z"/><path fill="url(#p6)" d="M12 31h4v4h-4zM20 31h12v4h-12zM12 35h4v4h-4zM20 35h16v4h-16zM40 35h4v4h-4zM4 39h8v4h-8zM20 39h20v4h-20zM20 43h12v4h-12zM4 47h8v4h-8zM32 47h32v4h-32zM4 51h8v4h-8zM32 51h32v4h-32zM4 55h8v4h-8zM20 55h4v4h-4zM36 55h16v4h-16zM60 55h4v4h-4zM8 59h8v4h-8zM20 59h8v4h-8zM40 59h8v4h-8zM60 59h4v4h-4zM4 63h12v4h-12zM20 63h16v4h-16zM20 67h20v4h-20zM20 71h20v4h-20zM60 71h4v4h-4zM20 75h16v4h-16zM24 79h16v4h-16zM64 79h4v4h-4zM20 83h16v4h-16zM64 83h4v4h-4zM20 87h12v4h-12zM28 91h8v4h-8z"/><path fill="url(#p7)" d="M4 31h4v4h-4zM32 31h8v4h-8zM36 35h4v4h-4zM12 39h4v4h-4zM24 55h4v4h-4zM52 55h8v4h-8zM4 59h4v4h-4zM28 59h4v4h-4zM36 59h4v4h-4zM48 59h12v4h-12zM40 63h24v4h-24zM48 67h16v4h-16zM52 71h8v4h-8zM36 75h4v4h-4zM56 75h8v4h-8zM40 79h8v4h-8zM60 79h4v4h-4zM36 83h12v4h-12zM32 87h20v4h-20zM64 87h4v4h-4zM36 91h20v4h-20zM64 91h4v4h-4z"/><path fill="url(#p8)" d="M8 31h4v4h-4zM4 35h8v4h-8zM20 47h12v4h-12zM20 51h12v4h-12zM28 55h8v4h-8zM32 59h4v4h-4zM36 63h4v4h-4zM40 67h8v4h-8zM40 71h12v4h-12zM40 75h16v4h-16zM48 79h12v4h-12zM48 83h16v4h-16zM52 87h12v4h-12zM56 91h8v4h-8z"/></g><g transform="translate(1473,1848) scale(4)"><path fill="#00008b" d="M6 0h1V68h-1zM0 6H68v1H0zM9 0h1V68h-1zM0 9H68v1H0zM13 30h1V68h-1zM30 13H64v1H30zM13 0h1V5h-1zM0 0h1V68h-1zM0 66H68v1H0zM0 67H68v1H0zM65 0h1V64h-1zM66 0h1V68h-1zM67 0h1V68h-1z"/><path fill="#d40000" d="M1 0h1v1h-1zM0 1h1v1h-1zM2 1h1v1h-1zM1 2h1v1h-1zM3 2h1v1h-1zM2 3h1v1h-1zM4 3h1v1h-1zM3 4h1v1h-1zM5 4h1v1h-1zM4 5h1v1h-1zM6 5h1v1h-1zM5 6h1v1h-1zM7 6h1v1h-1zM6 7h1v1h-1zM8 7h1v1h-1zM7 8h1v1h-1zM9 8h1v1h-1zM8 9h1v1h-1zM10 9h1v1h-1zM9 10h1v1h-1zM11 10h1v1h-1zM10 11h1v1h-1zM12 11h1v1h-1zM11 12h1v1h-1zM13 12h1v1h-1zM12 13h1v1h-1zM14 13h1v1h-1zM13 14h1v1h-1zM15 14h1v1h-1zM14 15h1v1h-1zM16 15h1v1h-1zM15 16h1v1h-1zM17 16h1v1h-1zM16 17h1v1h-1zM18 17h1v1h-1zM17 18h1v1h-1zM19 18h1v1h-1zM18 19h1v1h-1zM20 19h1v1h-1zM19 20h1v1h-1zM21 20h1v1h-1zM20 21h1v1h-1zM22 21h1v1h-1zM21 22h1v1h-1zM23 22h1v1h-1zM22 23h1v1h-1zM24 23h1v1h-1zM23 24h1v1h-1zM25 24h1v1h-1zM24 25h1v1h-1zM26 25h1v1h-1zM25 26h1v1h-1zM27 26h1v1h-1zM26 27h1v1h-1zM28 27h1v1h-1zM27 28h1v1h-1zM29 28h1v1h-1zM28 29h1v1h-1zM30 29h1v1h-1zM29 30h1v1h-1zM31 30h1v1h-1zM30 31h1v1h-1zM32 31h1v1h-1zM31 32h1v1h-1zM33 32h1v1h-1zM32 33h1v1h-1zM34 33h1v1h-1zM33 34h1v1h-1zM35 34h1v1h-1zM34 35h1v1h-1zM36 35h1v1h-1zM35 36h1v1h-1zM37 36h1v1h-1zM36 37h1v1h-1zM38 37h1v1h-1zM37 38h1v1h-1zM39 38h1v1h-1zM38 39h1v1h-1zM40 39h1v1h-1zM39 40h1v1h-1zM41 40h1v1h-1zM40 41h1v1h-1zM42 41h1v1h-1zM41 42h1v1h-1zM43 42h1v1h-1zM42 43h1v1h-1zM44 43h1v1h-1zM43 44h1v1h-1zM45 44h1v1h-1zM44 45h1v1h-1zM46 45h1v1h-1zM45 46h1v1h-1zM47 46h1v1h-1zM46 47h1v1h-1zM48 47h1v1h-1zM47 48h1v1h-1zM49 48h1v1h-1zM48 49h1v1h-1zM50 49h1v1h-1zM49 50h1v1h-1zM51 50h1v1h-1zM50 51h1v1h-1zM52 51h1v1h-1zM51 52h1v1h-1zM53 52h1v1h-1zM52 53h1v1h-1zM54 53h1v1h-1zM53 54h1v1h-1zM55 54h1v1h-1zM54 55h1v1h-1zM56 55h1v1h-1zM55 56h1v1h-1zM57 56h1v1h-1zM56 57h1v1h-1zM58 57h1v1h-1zM57 58h1v1h-1zM59 58h1v1h-1zM58 59h1v1h-1zM60 59h1v1h-1zM59 60h1v1h-1zM61 60h1v1h-1zM60 61h1v1h-1zM62 61h1v1h-1zM61 62h1v1h-1zM63 62h1v1h-1zM62 63h1v1h-1zM64 63h1v1h-1zM63 64h1v1h-1zM65 64h1v1h-1zM64 65h1v1h-1zM66 65h1v1h-1zM65 66h1v1h-1zM67 66h1v1h-1zM66 67h1v1h-1z"/><path fill="#fff" d="M0 0h1v1h-1zM1 1h1v1h-1zM2 2h1v1h-1zM3 3h1v1h-1zM4 4h1v1h-1zM5 5h1v1h-1zM6 6h1v1h-1zM7 7h1v1h-1zM8 8h1v1h-1zM9 9h1v1h-1zM10 10h1v1h-1zM11 11h1v1h-1zM12 12h1v1h-1zM13 13h1v1h-1zM14 14h1v1h-1zM15 15h1v1h-1zM16 16h1v1h-1zM17 17h1v1h-1zM18 18h1v1h-1zM19 19h1v1h-1zM20 20h1v1h-1zM21 21h1v1h-1zM22 22h1v1h-1zM23 23h1v1h-1zM24 24h1v1h-1zM25 25h1v1h-1zM26 26h1v1h-1zM27 27h1v1h-1zM28 28h1v1h-1zM29 29h1v1h-1zM30 30h1v1h-1zM31 31h1v1h-1zM32 32h1v1h-1zM33 33h1v1h-1zM34 34h1v1h-1zM35 35h1v1h-1zM36 36h1v1h-1zM37 37h1v1h-1zM38 38h1v1h-1zM39 39h1v1h-1zM40 40h1v1h-1zM41 41h1v1h-1zM42 42h1v1h-1zM43 43h1v1h-1zM44 44h1v1h-1zM45 45h1v1h-1zM46 46h1v1h-1zM47 47h1v1h-1zM48 48h1v1h-1zM49 49h1v1h-1zM50 50h1v1h-1zM51 51h1v1h-1zM52 52h1v1h-1zM53 53h1v1h-1zM54 54h1v1h-1zM55 55h1v1h-1zM56 56h1v1h-1zM57 57h1v1h-1zM58 58h1v1h-1zM59 59h1v1h-1zM60 60h1v1h-1zM61 61h1v1h-1zM62 62h1v1h-1zM63 63h1v1h-1zM64 64h1v1h-1zM65 65h1v1h-1zM66 66h1v1h-1zM67 67h1v1h-1z"/><path d="M0 65h68v0.25H0z" fill="#fff" fill-opacity="0.3"/></g><g transform="translate(1729,1772) scale(4)"><path fill="url(#q1)" d="M21 19h4v4h-4zM65 19h12v4h-12zM73 23h4v4h-4zM73 27h4v4h-4zM9 83h16v4h-16z"/><path fill="url(#q2)" d="M17 19h4v4h-4zM25 19h32v4h-32zM61 19h4v4h-4zM9 27h4v4h-4zM9 31h4v4h-4zM73 31h4v4h-4zM9 35h4v4h-4zM73 35h4v4h-4zM9 39h4v4h-4zM73 39h4v4h-4zM73 43h4v4h-4zM73 47h4v4h-4zM9 71h4v4h-4zM9 75h4v4h-4zM9 79h4v4h-4zM25 83h16v4h-16z"/><path fill="url(#q3)" d="M57 19h4v4h-4zM9 23h4v4h-4zM9 43h4v4h-4zM9 47h4v4h-4zM9 51h4v4h-4zM73 51h4v4h-4zM9 55h4v4h-4zM9 59h4v4h-4zM9 63h4v4h-4zM9 67h4v4h-4zM41 83h4v4h-4z"/><path fill="url(#q4)" d="M13 19h4v4h-4zM69 23h4v4h-4zM69 27h4v4h-4zM69 31h4v4h-4zM69 35h4v4h-4zM69 39h4v4h-4zM69 43h4v4h-4zM69 47h4v4h-4zM69 51h4v4h-4zM73 55h4v4h-4zM17 67h4v4h-4zM17 71h4v4h-4zM13 79h8v4h-8zM45 83h8v4h-8z"/><path fill="url(#q5)" d="M49 23h4v4h-4zM45 27h16v4h-16zM45 31h24v4h-24zM45 35h16v4h-16zM49 39h12v4h-12zM17 51h4v4h-4zM65 51h4v4h-4zM17 55h8v4h-8zM69 55h4v4h-4zM13 59h16v4h-16zM73 59h4v4h-4zM13 63h20v4h-20zM13 67h4v4h-4zM21 67h16v4h-16zM13 71h4v4h-4zM21 71h16v4h-16zM13 75h12v4h-12zM21 79h16v4h-16zM53 83h4v4h-4z"/><path fill="url(#q6)" d="M9 19h4v4h-4zM33 23h16v4h-16zM53 23h16v4h-16zM29 27h16v4h-16zM61 27h8v4h-8zM33 31h12v4h-12zM13 35h4v4h-4zM37 35h8v4h-8zM61 35h8v4h-8zM13 39h8v4h-8zM41 39h8v4h-8zM61 39h8v4h-8zM13 43h12v4h-12zM45 43h24v4h-24zM13 47h16v4h-16zM49 47h20v4h-20zM13 51h4v4h-4zM21 51h12v4h-12zM53 51h12v4h-12zM13 55h4v4h-4zM25 55h12v4h-12zM57 55h12v4h-12zM29 59h12v4h-12zM61 59h12v4h-12zM33 63h12v4h-12zM65 63h12v4h-12zM37 67h16v4h-16zM69 67h8v4h-8zM37 71h20v4h-20zM73 71h4v4h-4zM25 75h32v4h-32zM37 79h24v4h-24zM57 83h12v4h-12z"/><path fill="url(#q7)" d="M17 23h16v4h-16zM13 27h4v4h-4zM21 27h8v4h-8zM13 31h8v4h-8zM25 31h8v4h-8zM17 35h8v4h-8zM29 35h8v4h-8zM21 39h8v4h-8zM33 39h8v4h-8zM25 43h8v4h-8zM37 43h8v4h-8zM29 47h8v4h-8zM41 47h8v4h-8zM33 51h8v4h-8zM45 51h8v4h-8zM37 55h8v4h-8zM49 55h8v4h-8zM41 59h8v4h-8zM53 59h8v4h-8zM45 63h8v4h-8zM57 63h8v4h-8zM53 67h4v4h-4zM61 67h8v4h-8zM57 71h4v4h-4zM65 71h8v4h-8zM57 75h8v4h-8zM69 75h8v4h-8zM61 79h8v4h-8zM73 79h4v4h-4zM69 83h4v4h-4z"/><path fill="url(#q8)" d="M13 23h4v4h-4zM17 27h4v4h-4zM21 31h4v4h-4zM25 35h4v4h-4zM29 39h4v4h-4zM33 43h4v4h-4zM37 47h4v4h-4zM41 51h4v4h-4zM45 55h4v4h-4zM49 59h4v4h-4zM53 63h4v4h-4zM57 67h4v4h-4zM61 71h4v4h-4zM65 75h4v4h-4zM69 79h4v4h-4zM73 83h4v4h-4z"/></g><g transform="translate(1765,1848) scale(4)"><path fill="#d40000" d="M1 0h1v1h-1zM0 1h1v1h-1zM2 1h1v1h-1zM1 2h1v1h-1zM3 2h1v1h-1zM2 3h1v1h-1zM4 3h1v1h-1zM3 4h1v1h-1zM5 4h1v1h-1zM4 5h1v1h-1zM6 5h1v1h-1zM5 6h1v1h-1zM7 6h1v1h-1zM6 7h1v1h-1zM8 7h1v1h-1zM7 8h1v1h-1zM9 8h1v1h-1zM8 9h1v1h-1zM10 9h1v1h-1zM9 10h1v1h-1zM11 10h1v1h-1zM10 11h1v1h-1zM12 11h1v1h-1zM11 12h1v1h-1zM13 12h1v1h-1zM12 13h1v1h-1zM14 13h1v1h-1zM13 14h1v1h-1zM15 14h1v1h-1zM14 15h1v1h-1zM16 15h1v1h-1zM15 16h1v1h-1zM17 16h1v1h-1zM16 17h1v1h-1zM18 17h1v1h-1zM17 18h1v1h-1zM19 18h1v1h-1zM18 19h1v1h-1zM20 19h1v1h-1zM19 20h1v1h-1zM21 20h1v1h-1zM20 21h1v1h-1zM22 21h1v1h-1zM21 22h1v1h-1zM23 22h1v1h-1zM22 23h1v1h-1zM24 23h1v1h-1zM23 24h1v1h-1zM25 24h1v1h-1zM24 25h1v1h-1zM26 25h1v1h-1zM25 26h1v1h-1zM27 26h1v1h-1zM26 27h1v1h-1zM28 27h1v1h-1zM27 28h1v1h-1zM29 28h1v1h-1zM28 29h1v1h-1zM30 29h1v1h-1zM29 30h1v1h-1zM31 30h1v1h-1zM30 31h1v1h-1zM32 31h1v1h-1zM31 32h1v1h-1zM33 32h1v1h-1zM32 33h1v1h-1zM34 33h1v1h-1zM33 34h1v1h-1zM35 34h1v1h-1zM34 35h1v1h-1zM36 35h1v1h-1zM35 36h1v1h-1zM37 36h1v1h-1zM36 37h1v1h-1zM38 37h1v1h-1zM37 38h1v1h-1zM39 38h1v1h-1zM38 39h1v1h-1zM40 39h1v1h-1zM39 40h1v1h-1zM41 40h1v1h-1zM40 41h1v1h-1zM42 41h1v1h-1zM41 42h1v1h-1zM43 42h1v1h-1zM42 43h1v1h-1zM44 43h1v1h-1zM43 44h1v1h-1zM45 44h1v1h-1zM44 45h1v1h-1zM46 45h1v1h-1zM45 46h1v1h-1zM47 46h1v1h-1zM46 47h1v1h-1zM48 47h1v1h-1zM47 48h1v1h-1zM49 48h1v1h-1zM48 49h1v1h-1zM50 49h1v1h-1zM49 50h1v1h-1zM51 50h1v1h-1zM50 51h1v1h-1zM52 51h1v1h-1zM51 52h1v1h-1zM53 52h1v1h-1zM52 53h1v1h-1zM54 53h1v1h-1zM53 54h1v1h-1zM55 54h1v1h-1zM54 55h1v1h-1zM56 55h1v1h-1zM55 56h1v1h-1zM57 56h1v1h-1zM56 57h1v1h-1zM58 57h1v1h-1zM57 58h1v1h-1zM59 58h1v1h-1zM58 59h1v1h-1zM60 59h1v1h-1zM59 60h1v1h-1zM61 60h1v1h-1zM60 61h1v1h-1zM62 61h1v1h-1zM61 62h1v1h-1zM63 62h1v1h-1zM62 63h1v1h-1zM64 63h1v1h-1zM63 64h1v1h-1zM65 64h1v1h-1zM64 65h1v1h-1zM66 65h1v1h-1zM65 66h1v1h-1zM67 66h1v1h-1zM66 67h1v1h-1z"/><path fill="#fff" d="M0 0h1v1h-1zM1 1h1v1h-1zM2 2h1v1h-1zM3 3h1v1h-1zM4 4h1v1h-1zM5 5h1v1h-1zM6 6h1v1h-1zM7 7h1v1h-1zM8 8h1v1h-1zM9 9h1v1h-1zM10 10h1v1h-1zM11 11h1v1h-1zM12 12h1v1h-1zM13 13h1v1h-1zM14 14h1v1h-1zM15 15h1v1h-1zM16 16h1v1h-1zM17 17h1v1h-1zM18 18h1v1h-1zM19 19h1v1h-1zM20 20h1v1h-1zM21 21h1v1h-1zM22 22h1v1h-1zM23 23h1v1h-1zM24 24h1v1h-1zM25 25h1v1h-1zM26 26h1v1h-1zM27 27h1v1h-1zM28 28h1v1h-1zM29 29h1v1h-1zM30 30h1v1h-1zM31 31h1v1h-1zM32 32h1v1h-1zM33 33h1v1h-1zM34 34h1v1h-1zM35 35h1v1h-1zM36 36h1v1h-1zM37 37h1v1h-1zM38 38h1v1h-1zM39 39h1v1h-1zM40 40h1v1h-1zM41 41h1v1h-1zM42 42h1v1h-1zM43 43h1v1h-1zM44 44h1v1h-1zM45 45h1v1h-1zM46 46h1v1h-1zM47 47h1v1h-1zM48 48h1v1h-1zM49 49h1v1h-1zM50 50h1v1h-1zM51 51h1v1h-1zM52 52h1v1h-1zM53 53h1v1h-1zM54 54h1v1h-1zM55 55h1v1h-1zM56 56h1v1h-1zM57 57h1v1h-1zM58 58h1v1h-1zM59 59h1v1h-1zM60 60h1v1h-1zM61 61h1v1h-1zM62 62h1v1h-1zM63 63h1v1h-1zM64 64h1v1h-1zM65 65h1v1h-1zM66 66h1v1h-1zM67 67h1v1h-1z"/><path d="M0 65h68v0.25H0z" fill="#fff" fill-opacity="0.3"/></g><text x="185.3" y="664" font-size="29" textLength="168.2" lengthAdjust="spacingAndGlyphs">Experimental</text><text x="512.1" y="664" font-size="29" textLength="78.3" lengthAdjust="spacingAndGlyphs">Model</text><text x="128" y="983.6" font-size="23.5" textLength="61.9" lengthAdjust="spacingAndGlyphs">28Mb</text><text x="224.7" y="983.6" font-size="23.5" textLength="72.6" lengthAdjust="spacingAndGlyphs">Chr 21</text><text x="331" y="983.6" font-size="23.5" textLength="61.5" lengthAdjust="spacingAndGlyphs">30Mb</text><text x="422.3" y="983.6" font-size="23.5" textLength="61.1" lengthAdjust="spacingAndGlyphs">28Mb</text><text x="518.6" y="983.6" font-size="23.5" textLength="71.8" lengthAdjust="spacingAndGlyphs">Chr 21</text><text x="624.8" y="983.6" font-size="23.5" textLength="62" lengthAdjust="spacingAndGlyphs">30Mb</text><text transform="translate(116.6,743.6) rotate(-90)" font-size="23.5" textLength="59.3" lengthAdjust="spacingAndGlyphs">28Mb</text><text transform="translate(116.6,856.3) rotate(-90)" font-size="23.5" textLength="71.5" lengthAdjust="spacingAndGlyphs">Chr 21</text><text transform="translate(116.6,950) rotate(-90)" font-size="23.5" textLength="61.2" lengthAdjust="spacingAndGlyphs">30Mb</text><text x="855.6" y="664.4" font-size="29" textLength="167.2" lengthAdjust="spacingAndGlyphs">Experimental</text><text x="1182.2" y="664.4" font-size="29" textLength="77.4" lengthAdjust="spacingAndGlyphs">Model</text><text x="798.1" y="983.9" font-size="23.5" textLength="61.4" lengthAdjust="spacingAndGlyphs">28Mb</text><text x="895" y="983.9" font-size="23.5" textLength="71.9" lengthAdjust="spacingAndGlyphs">Chr 21</text><text x="1000.8" y="983.9" font-size="23.5" textLength="61.3" lengthAdjust="spacingAndGlyphs">30Mb</text><text x="1091.8" y="983.9" font-size="23.5" textLength="61.3" lengthAdjust="spacingAndGlyphs">28Mb</text><text x="1188.6" y="983.9" font-size="23.5" textLength="72" lengthAdjust="spacingAndGlyphs">Chr 21</text><text x="1294.6" y="983.9" font-size="23.5" textLength="61.2" lengthAdjust="spacingAndGlyphs">30Mb</text><text transform="translate(786.8,744.1) rotate(-90)" font-size="23.5" textLength="61.3" lengthAdjust="spacingAndGlyphs">28Mb</text><text transform="translate(786.8,858.7) rotate(-90)" font-size="23.5" textLength="70.1" lengthAdjust="spacingAndGlyphs">Chr 21</text><text transform="translate(786.8,949.7) rotate(-90)" font-size="23.5" textLength="60.4" lengthAdjust="spacingAndGlyphs">30Mb</text><text x="1533.7" y="664.4" font-size="29" textLength="166.8" lengthAdjust="spacingAndGlyphs">Experimental</text><text x="1857.3" y="664.4" font-size="29" textLength="77.5" lengthAdjust="spacingAndGlyphs">Model</text><text x="1470.7" y="983.9" font-size="23.5" textLength="61.3" lengthAdjust="spacingAndGlyphs">28Mb</text><text x="1562.7" y="983.9" font-size="23.5" textLength="72" lengthAdjust="spacingAndGlyphs">Chr 21</text><text x="1677.3" y="983.9" font-size="23.5" textLength="61.3" lengthAdjust="spacingAndGlyphs">30Mb</text><text x="1760.5" y="983.9" font-size="23.5" textLength="61.3" lengthAdjust="spacingAndGlyphs">28Mb</text><text x="1853.1" y="983.9" font-size="23.5" textLength="71" lengthAdjust="spacingAndGlyphs">Chr 21</text><text x="1967.7" y="983.9" font-size="23.5" textLength="61.3" lengthAdjust="spacingAndGlyphs">30Mb</text><text transform="translate(1457.2,744.1) rotate(-90)" font-size="23.5" textLength="60.3" lengthAdjust="spacingAndGlyphs">28Mb</text><text transform="translate(1457.2,859.3) rotate(-90)" font-size="23.5" textLength="69" lengthAdjust="spacingAndGlyphs">Chr 21</text><text transform="translate(1457.2,949.7) rotate(-90)" font-size="23.5" textLength="60.4" lengthAdjust="spacingAndGlyphs">30Mb</text><text x="185.6" y="1056.4" font-size="29" textLength="167.2" lengthAdjust="spacingAndGlyphs">Experimental</text><text x="512.2" y="1056.4" font-size="29" textLength="77.4" lengthAdjust="spacingAndGlyphs">Model</text><text x="138.8" y="1375.9" font-size="23.5" textLength="60.3" lengthAdjust="spacingAndGlyphs">28Mb</text><text x="235.6" y="1375.9" font-size="23.5" textLength="71" lengthAdjust="spacingAndGlyphs">Chr 21</text><text x="341.1" y="1375.9" font-size="23.5" textLength="60.7" lengthAdjust="spacingAndGlyphs">30Mb</text><text x="432.5" y="1375.9" font-size="23.5" textLength="60.6" lengthAdjust="spacingAndGlyphs">28Mb</text><text x="529.3" y="1375.9" font-size="23.5" textLength="71" lengthAdjust="spacingAndGlyphs">Chr 21</text><text x="634.8" y="1375.9" font-size="23.5" textLength="60.7" lengthAdjust="spacingAndGlyphs">30Mb</text><text transform="translate(126.9,1136.1) rotate(-90)" font-size="23.5" textLength="60.3" lengthAdjust="spacingAndGlyphs">28Mb</text><text transform="translate(126.9,1247.4) rotate(-90)" font-size="23.5" textLength="69.3" lengthAdjust="spacingAndGlyphs">Chr 21</text><text transform="translate(126.9,1337.2) rotate(-90)" font-size="23.5" textLength="60.7" lengthAdjust="spacingAndGlyphs">30Mb</text><text x="855.6" y="1056.4" font-size="29" textLength="167.2" lengthAdjust="spacingAndGlyphs">Experimental</text><text x="1182.2" y="1056.4" font-size="29" textLength="77.4" lengthAdjust="spacingAndGlyphs">Model</text><text x="807.8" y="1375.9" font-size="23.5" textLength="61.3" lengthAdjust="spacingAndGlyphs">28Mb</text><text x="904.6" y="1375.9" font-size="23.5" textLength="72" lengthAdjust="spacingAndGlyphs">Chr 21</text><text x="1010.5" y="1375.9" font-size="23.5" textLength="61.3" lengthAdjust="spacingAndGlyphs">30Mb</text><text x="1100.9" y="1375.9" font-size="23.5" textLength="61.3" lengthAdjust="spacingAndGlyphs">28Mb</text><text x="1198.3" y="1375.9" font-size="23.5" textLength="72" lengthAdjust="spacingAndGlyphs">Chr 21</text><text x="1304.2" y="1375.9" font-size="23.5" textLength="61.3" lengthAdjust="spacingAndGlyphs">30Mb</text><text transform="translate(796.9,1139.3) rotate(-90)" font-size="23.5" textLength="61.3" lengthAdjust="spacingAndGlyphs">28Mb</text><text transform="translate(796.9,1250) rotate(-90)" font-size="23.5" textLength="69.7" lengthAdjust="spacingAndGlyphs">Chr 21</text><text transform="translate(796.9,1340.4) rotate(-90)" font-size="23.5" textLength="61.3" lengthAdjust="spacingAndGlyphs">30Mb</text><text x="1533.7" y="1056.4" font-size="29" textLength="166.8" lengthAdjust="spacingAndGlyphs">Experimental</text><text x="1857.3" y="1056.4" font-size="29" textLength="77.5" lengthAdjust="spacingAndGlyphs">Model</text><text x="1470.7" y="1375.9" font-size="23.5" textLength="61.3" lengthAdjust="spacingAndGlyphs">28Mb</text><text x="1562.7" y="1375.9" font-size="23.5" textLength="72" lengthAdjust="spacingAndGlyphs">Chr 21</text><text x="1677.3" y="1375.9" font-size="23.5" textLength="61.3" lengthAdjust="spacingAndGlyphs">30Mb</text><text x="1760.5" y="1375.9" font-size="23.5" textLength="61.3" lengthAdjust="spacingAndGlyphs">28Mb</text><text x="1853.1" y="1375.9" font-size="23.5" textLength="71" lengthAdjust="spacingAndGlyphs">Chr 21</text><text x="1967.7" y="1375.9" font-size="23.5" textLength="61.3" lengthAdjust="spacingAndGlyphs">30Mb</text><text transform="translate(1466.9,1140.3) rotate(-90)" font-size="23.5" textLength="61.3" lengthAdjust="spacingAndGlyphs">28Mb</text><text transform="translate(1466.9,1251.3) rotate(-90)" font-size="23.5" textLength="69" lengthAdjust="spacingAndGlyphs">Chr 21</text><text transform="translate(1466.9,1341.7) rotate(-90)" font-size="23.5" textLength="60.4" lengthAdjust="spacingAndGlyphs">30Mb</text><text x="185.6" y="1442.2" font-size="29" textLength="167.2" lengthAdjust="spacingAndGlyphs">Experimental</text><text x="512.2" y="1442.2" font-size="29" textLength="77.4" lengthAdjust="spacingAndGlyphs">Model</text><text x="130.1" y="1760.7" font-size="23.5" textLength="61.3" lengthAdjust="spacingAndGlyphs">28Mb</text><text x="226.9" y="1760.7" font-size="23.5" textLength="71" lengthAdjust="spacingAndGlyphs">Chr 21</text><text x="332.4" y="1760.7" font-size="23.5" textLength="61.3" lengthAdjust="spacingAndGlyphs">30Mb</text><text x="423.8" y="1760.7" font-size="23.5" textLength="61.3" lengthAdjust="spacingAndGlyphs">28Mb</text><text x="520.6" y="1760.7" font-size="23.5" textLength="71" lengthAdjust="spacingAndGlyphs">Chr 21</text><text x="626.1" y="1760.7" font-size="23.5" textLength="61.3" lengthAdjust="spacingAndGlyphs">30Mb</text><text transform="translate(117.8,1521.9) rotate(-90)" font-size="23.5" textLength="60.3" lengthAdjust="spacingAndGlyphs">28Mb</text><text transform="translate(117.8,1633.6) rotate(-90)" font-size="23.5" textLength="68.8" lengthAdjust="spacingAndGlyphs">Chr 21</text><text transform="translate(117.8,1727.8) rotate(-90)" font-size="23.5" textLength="61.3" lengthAdjust="spacingAndGlyphs">30Mb</text><text x="855.6" y="1442.2" font-size="29" textLength="167.2" lengthAdjust="spacingAndGlyphs">Experimental</text><text x="1182.2" y="1442.2" font-size="29" textLength="77.4" lengthAdjust="spacingAndGlyphs">Model</text><text x="800.1" y="1760.7" font-size="23.5" textLength="61.3" lengthAdjust="spacingAndGlyphs">28Mb</text><text x="896.9" y="1760.7" font-size="23.5" textLength="71" lengthAdjust="spacingAndGlyphs">Chr 21</text><text x="1002.4" y="1760.7" font-size="23.5" textLength="61.3" lengthAdjust="spacingAndGlyphs">30Mb</text><text x="1093.8" y="1760.7" font-size="23.5" textLength="61.3" lengthAdjust="spacingAndGlyphs">28Mb</text><text x="1190.6" y="1760.7" font-size="23.5" textLength="71" lengthAdjust="spacingAndGlyphs">Chr 21</text><text x="1296.1" y="1760.7" font-size="23.5" textLength="61.3" lengthAdjust="spacingAndGlyphs">30Mb</text><text transform="translate(787.8,1524.5) rotate(-90)" font-size="23.5" textLength="59.7" lengthAdjust="spacingAndGlyphs">28Mb</text><text transform="translate(787.8,1636.8) rotate(-90)" font-size="23.5" textLength="68.7" lengthAdjust="spacingAndGlyphs">Chr 21</text><text transform="translate(787.8,1727.8) rotate(-90)" font-size="23.5" textLength="61.3" lengthAdjust="spacingAndGlyphs">30Mb</text><text x="1533.7" y="1442.2" font-size="29" textLength="166.8" lengthAdjust="spacingAndGlyphs">Experimental</text><text x="1857.3" y="1442.2" font-size="29" textLength="77.5" lengthAdjust="spacingAndGlyphs">Model</text><text x="1470.7" y="1760.7" font-size="23.5" textLength="61.3" lengthAdjust="spacingAndGlyphs">28Mb</text><text x="1562.7" y="1760.7" font-size="23.5" textLength="72" lengthAdjust="spacingAndGlyphs">Chr 21</text><text x="1677.3" y="1760.7" font-size="23.5" textLength="61.3" lengthAdjust="spacingAndGlyphs">30Mb</text><text x="1760.5" y="1760.7" font-size="23.5" textLength="61.3" lengthAdjust="spacingAndGlyphs">28Mb</text><text x="1853.1" y="1760.7" font-size="23.5" textLength="71" lengthAdjust="spacingAndGlyphs">Chr 21</text><text x="1968.4" y="1760.7" font-size="23.5" textLength="61.3" lengthAdjust="spacingAndGlyphs">30Mb</text><text transform="translate(1457.8,1525.5) rotate(-90)" font-size="23.5" textLength="59.7" lengthAdjust="spacingAndGlyphs">28Mb</text><text transform="translate(1457.8,1637.4) rotate(-90)" font-size="23.5" textLength="69.3" lengthAdjust="spacingAndGlyphs">Chr 21</text><text transform="translate(1457.8,1727.8) rotate(-90)" font-size="23.5" textLength="61.3" lengthAdjust="spacingAndGlyphs">30Mb</text><text x="185.6" y="1833.8" font-size="29" textLength="167.2" lengthAdjust="spacingAndGlyphs">Experimental</text><text x="512.2" y="1833.8" font-size="29" textLength="77.4" lengthAdjust="spacingAndGlyphs">Model</text><text x="135.6" y="2152.7" font-size="23.5" textLength="61.3" lengthAdjust="spacingAndGlyphs">28Mb</text><text x="232.4" y="2152.7" font-size="23.5" textLength="71" lengthAdjust="spacingAndGlyphs">Chr 21</text><text x="337.9" y="2152.7" font-size="23.5" textLength="61.3" lengthAdjust="spacingAndGlyphs">30Mb</text><text x="429.2" y="2152.7" font-size="23.5" textLength="61.4" lengthAdjust="spacingAndGlyphs">28Mb</text><text x="526" y="2152.7" font-size="23.5" textLength="71" lengthAdjust="spacingAndGlyphs">Chr 21</text><text x="631.6" y="2152.7" font-size="23.5" textLength="61.3" lengthAdjust="spacingAndGlyphs">30Mb</text><text transform="translate(124.3,1914.5) rotate(-90)" font-size="23.5" textLength="59.7" lengthAdjust="spacingAndGlyphs">28Mb</text><text transform="translate(124.3,2024.9) rotate(-90)" font-size="23.5" textLength="68.4" lengthAdjust="spacingAndGlyphs">Chr 21</text><text transform="translate(124.3,2115.2) rotate(-90)" font-size="23.5" textLength="60.3" lengthAdjust="spacingAndGlyphs">30Mb</text><text x="855.6" y="1833.8" font-size="29" textLength="167.2" lengthAdjust="spacingAndGlyphs">Experimental</text><text x="1182.2" y="1833.8" font-size="29" textLength="77.4" lengthAdjust="spacingAndGlyphs">Model</text><text x="805.6" y="2152.7" font-size="23.5" textLength="61.3" lengthAdjust="spacingAndGlyphs">28Mb</text><text x="902.4" y="2152.7" font-size="23.5" textLength="71" lengthAdjust="spacingAndGlyphs">Chr 21</text><text x="1007.9" y="2152.7" font-size="23.5" textLength="61.3" lengthAdjust="spacingAndGlyphs">30Mb</text><text x="1099.2" y="2152.7" font-size="23.5" textLength="61.4" lengthAdjust="spacingAndGlyphs">28Mb</text><text x="1196" y="2152.7" font-size="23.5" textLength="71" lengthAdjust="spacingAndGlyphs">Chr 21</text><text x="1301.6" y="2152.7" font-size="23.5" textLength="61.3" lengthAdjust="spacingAndGlyphs">30Mb</text><text transform="translate(794.3,1916.1) rotate(-90)" font-size="23.5" textLength="60.3" lengthAdjust="spacingAndGlyphs">28Mb</text><text transform="translate(794.3,2027.4) rotate(-90)" font-size="23.5" textLength="69.3" lengthAdjust="spacingAndGlyphs">Chr 21</text><text transform="translate(794.3,2117.8) rotate(-90)" font-size="23.5" textLength="61.3" lengthAdjust="spacingAndGlyphs">30Mb</text><text x="1533.7" y="1833.8" font-size="29" textLength="166.8" lengthAdjust="spacingAndGlyphs">Experimental</text><text x="1857.3" y="1833.8" font-size="29" textLength="77.5" lengthAdjust="spacingAndGlyphs">Model</text><text x="1470.7" y="2152.7" font-size="23.5" textLength="61.3" lengthAdjust="spacingAndGlyphs">28Mb</text><text x="1562.7" y="2152.7" font-size="23.5" textLength="72" lengthAdjust="spacingAndGlyphs">Chr 21</text><text x="1677.3" y="2152.7" font-size="23.5" textLength="61.3" lengthAdjust="spacingAndGlyphs">30Mb</text><text x="1760.5" y="2152.7" font-size="23.5" textLength="61.3" lengthAdjust="spacingAndGlyphs">28Mb</text><text x="1853.1" y="2152.7" font-size="23.5" textLength="71" lengthAdjust="spacingAndGlyphs">Chr 21</text><text x="1968.4" y="2152.7" font-size="23.5" textLength="61.3" lengthAdjust="spacingAndGlyphs">30Mb</text><text transform="translate(1464.3,1918.4) rotate(-90)" font-size="23.5" textLength="60.4" lengthAdjust="spacingAndGlyphs">28Mb</text><text transform="translate(1464.3,2030) rotate(-90)" font-size="23.5" textLength="69.7" lengthAdjust="spacingAndGlyphs">Chr 21</text><text transform="translate(1464.3,2120.4) rotate(-90)" font-size="23.5" textLength="61.3" lengthAdjust="spacingAndGlyphs">30Mb</text>
</svg></body></html>
